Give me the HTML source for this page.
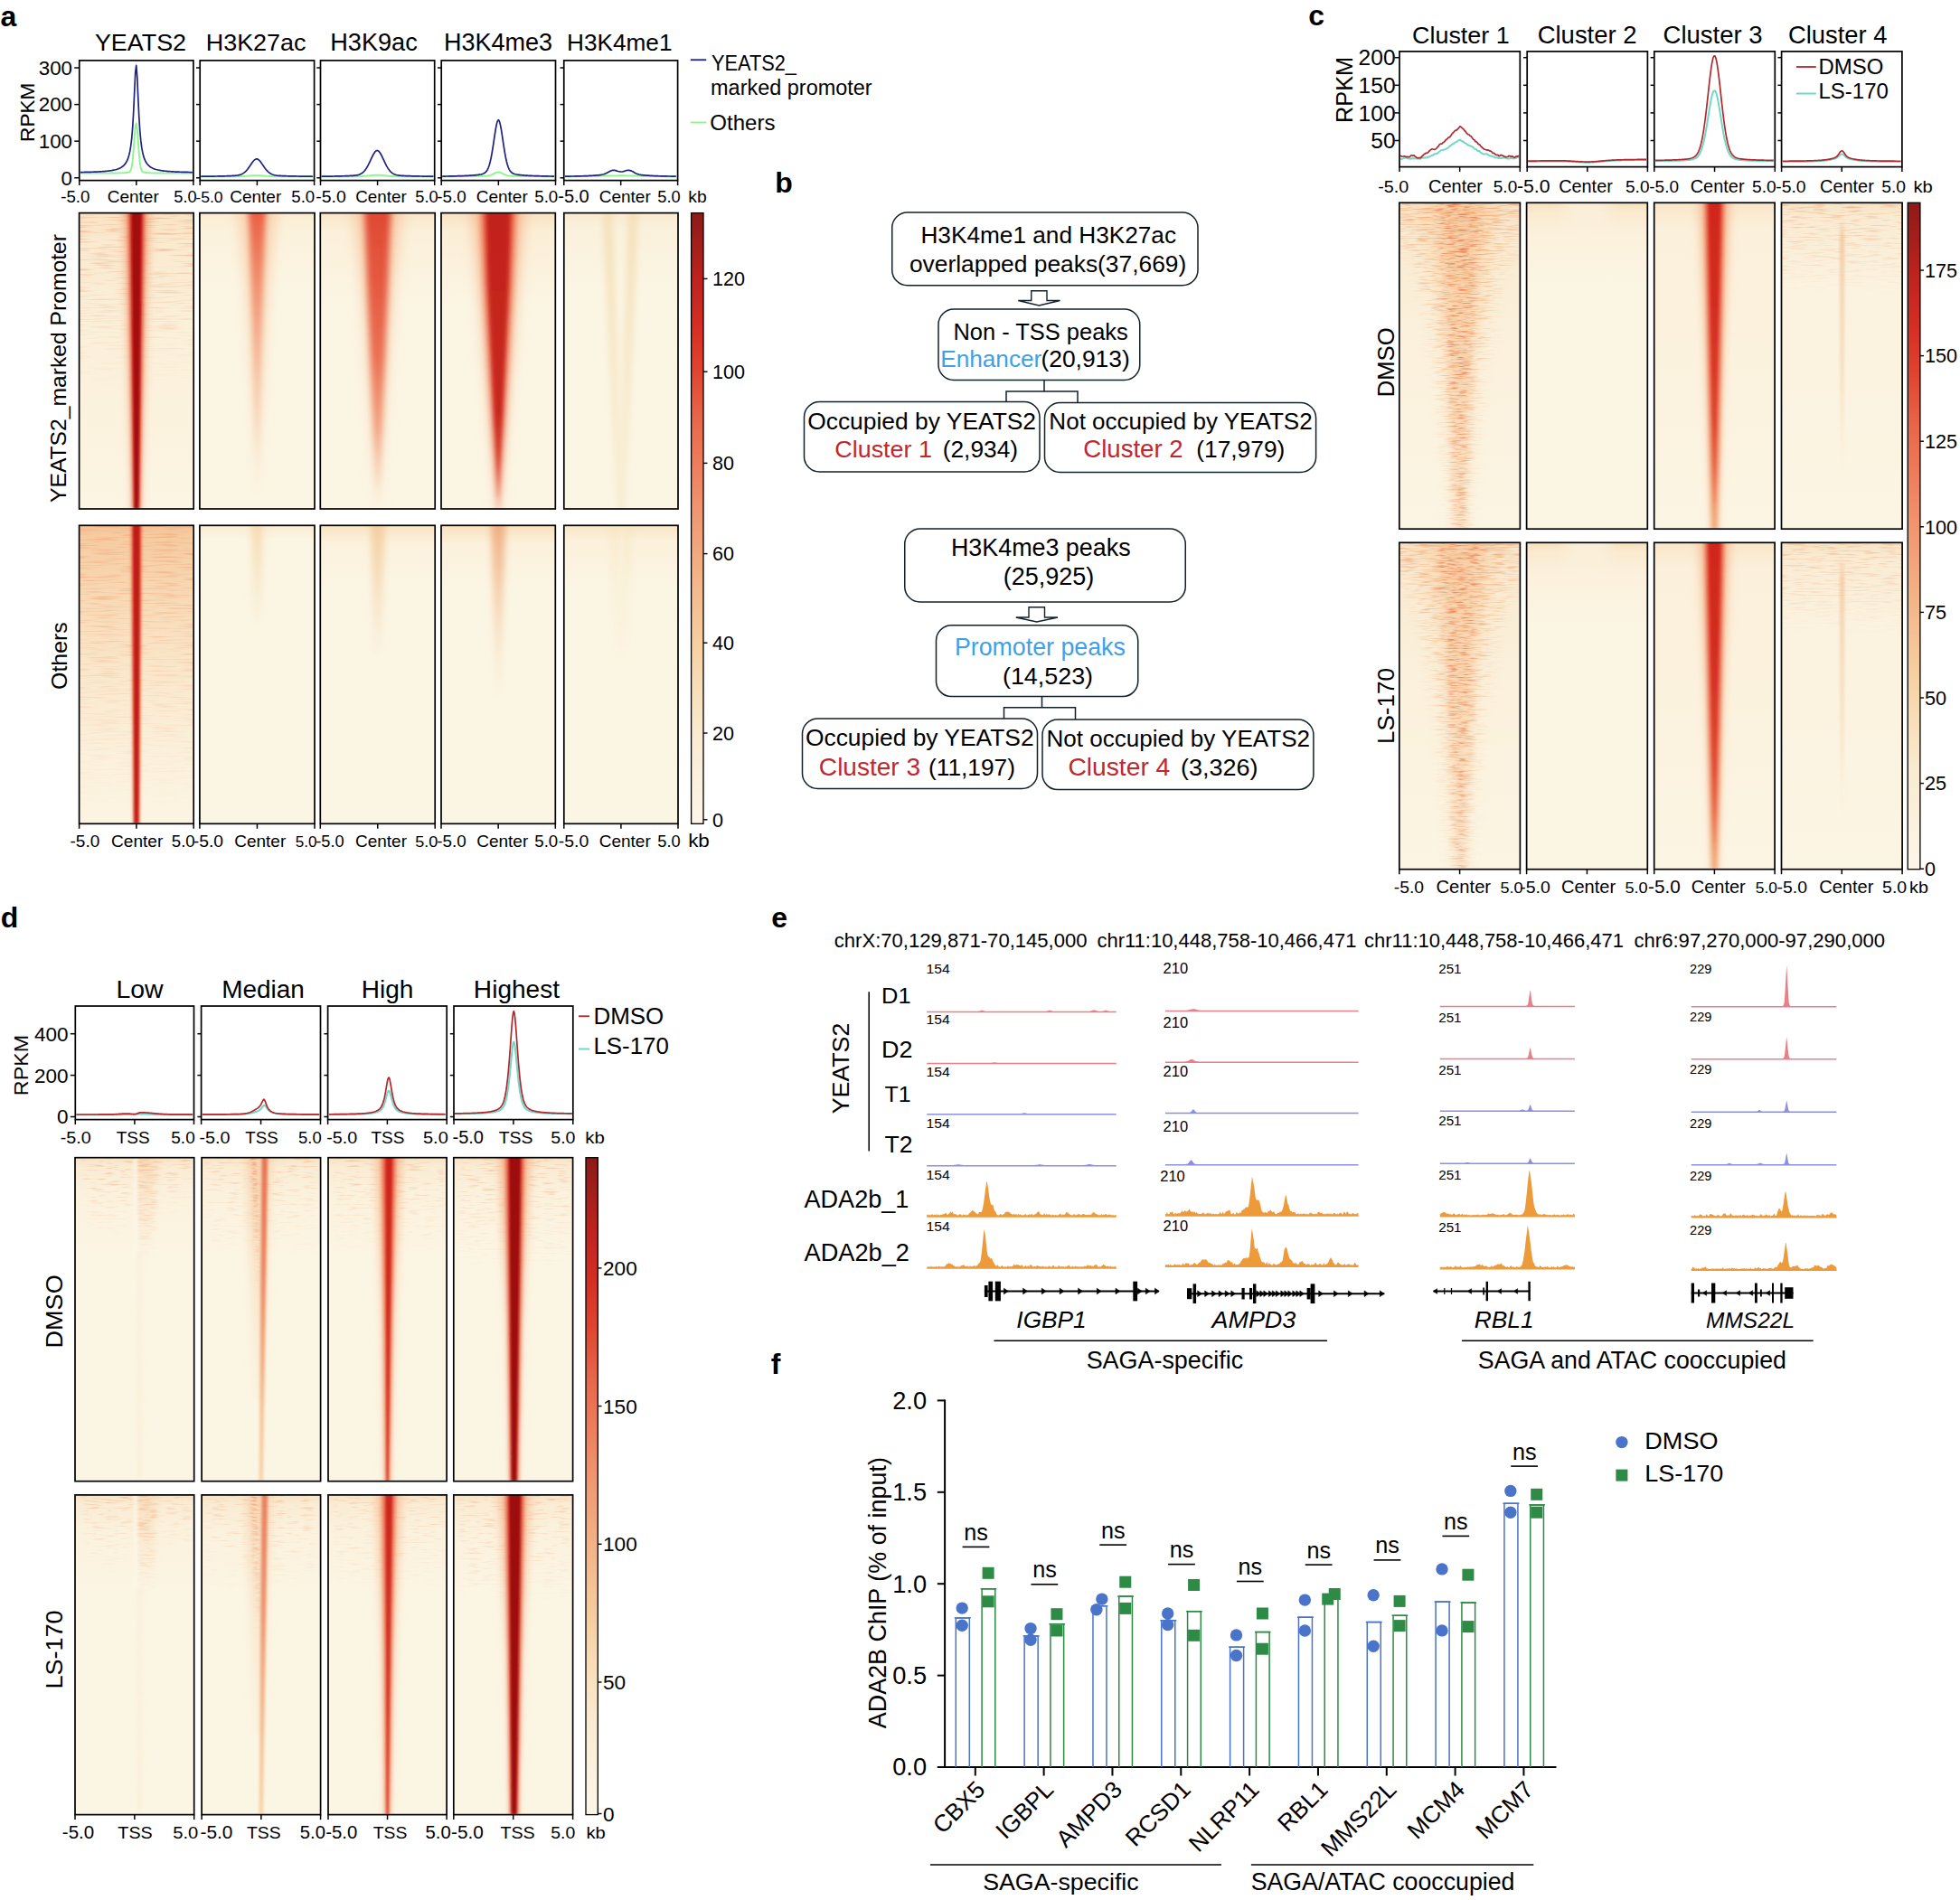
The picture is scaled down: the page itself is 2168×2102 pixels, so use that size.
<!DOCTYPE html>
<html><head><meta charset="utf-8"><title>Figure</title>
<style>html,body{margin:0;padding:0;background:#fff}svg{display:block}</style></head>
<body>
<svg width="2168" height="2102" viewBox="0 0 2168 2102" font-family='"Liberation Sans", Arial, Helvetica, sans-serif' fill="#000">
<rect width="2168" height="2102" fill="#fff"/>
<defs>
<clipPath id="c1"><rect x="87.6" y="235.6" width="126.6" height="327.4"/></clipPath>
<linearGradient id="v2" x1="0" y1="0" x2="0" y2="1"><stop offset="0" stop-color="#f9e3c2"/><stop offset="0.1" stop-color="#faead0"/><stop offset="0.4" stop-color="#fbf0da"/><stop offset="0.75" stop-color="#fbf3df"/><stop offset="1" stop-color="#fbf5e3"/></linearGradient>
<linearGradient id="v3" x1="0" y1="0" x2="0" y2="1"><stop offset="0" stop-color="#ee9468" stop-opacity="0.55"/><stop offset="1" stop-color="#ee9468" stop-opacity="0"/></linearGradient>
<filter id="b4" x="-100%" width="300%" y="-5%" height="110%" color-interpolation-filters="sRGB"><feGaussianBlur in="SourceGraphic" stdDeviation="2 1.5" result="a"/><feTurbulence type="fractalNoise" baseFrequency="0.03 0.55" numOctaves="2" seed="40" result="t"/><feColorMatrix in="t" type="matrix" values="0 0 0 0 1 0 0 0 0 1 0 0 0 0 1 3 0 0 0 -1.5" result="n"/><feComposite in="a" in2="n" operator="in"/></filter>
<linearGradient id="v5" x1="0" y1="0" x2="0" y2="1"><stop offset="0" stop-color="#f4a578" stop-opacity="0.75"/><stop offset="1" stop-color="#f4a578" stop-opacity="0.5"/></linearGradient>
<filter id="b6" x="-400%" width="900%" y="-5%" height="110%"><feGaussianBlur stdDeviation="4.5 1.5"/></filter>
<linearGradient id="v7" x1="0" y1="0" x2="0" y2="1"><stop offset="0" stop-color="#d8382a"/><stop offset="1" stop-color="#d8382a" stop-opacity="0.95"/></linearGradient>
<filter id="b8" x="-400%" width="900%" y="-5%" height="110%"><feGaussianBlur stdDeviation="2.2 1.5"/></filter>
<linearGradient id="v9" x1="0" y1="0" x2="0" y2="1"><stop offset="0" stop-color="#a40f10"/><stop offset="1" stop-color="#a40f10"/></linearGradient>
<filter id="b10" x="-400%" width="900%" y="-5%" height="110%"><feGaussianBlur stdDeviation="1.3 1.5"/></filter>
<clipPath id="c11"><rect x="220.9" y="235.6" width="127.1" height="327.4"/></clipPath>
<linearGradient id="v12" x1="0" y1="0" x2="0" y2="1"><stop offset="0" stop-color="#faecd2"/><stop offset="0.06" stop-color="#fbf2dd"/><stop offset="0.25" stop-color="#fbf5e3"/><stop offset="1" stop-color="#fbf5e3"/></linearGradient>
<linearGradient id="v13" x1="0" y1="0" x2="0" y2="1"><stop offset="0" stop-color="#f8cfa8" stop-opacity="0.75"/><stop offset="1" stop-color="#f8cfa8" stop-opacity="0.1"/></linearGradient>
<filter id="b14" x="-400%" width="900%" y="-5%" height="110%"><feGaussianBlur stdDeviation="6 1.5"/></filter>
<linearGradient id="v15" x1="0" y1="0" x2="0" y2="1"><stop offset="0" stop-color="#e9573e" stop-opacity="0.95"/><stop offset="0.12" stop-color="#ec6a4c" stop-opacity="0.9"/><stop offset="0.3" stop-color="#ef8260" stop-opacity="0.8"/><stop offset="0.55" stop-color="#f3a27e" stop-opacity="0.65"/><stop offset="0.8" stop-color="#f6c4a0" stop-opacity="0.45"/><stop offset="1" stop-color="#f8d8b8" stop-opacity="0.1"/></linearGradient>
<filter id="b16" x="-400%" width="900%" y="-5%" height="110%"><feGaussianBlur stdDeviation="3 1.5"/></filter>
<clipPath id="c17"><rect x="354.3" y="235.6" width="126.9" height="327.4"/></clipPath>
<linearGradient id="v18" x1="0" y1="0" x2="0" y2="1"><stop offset="0" stop-color="#f9e6c8"/><stop offset="0.06" stop-color="#fbf0da"/><stop offset="0.3" stop-color="#fbf5e3"/><stop offset="1" stop-color="#fbf5e3"/></linearGradient>
<linearGradient id="v19" x1="0" y1="0" x2="0" y2="1"><stop offset="0" stop-color="#f8c8a0" stop-opacity="0.8"/><stop offset="1" stop-color="#f8c8a0" stop-opacity="0.15"/></linearGradient>
<filter id="b20" x="-400%" width="900%" y="-5%" height="110%"><feGaussianBlur stdDeviation="6.5 1.5"/></filter>
<linearGradient id="v21" x1="0" y1="0" x2="0" y2="1"><stop offset="0" stop-color="#df4833"/><stop offset="0.25" stop-color="#e4533a" stop-opacity="0.95"/><stop offset="0.5" stop-color="#e96446" stop-opacity="0.9"/><stop offset="0.75" stop-color="#f08a66" stop-opacity="0.75"/><stop offset="0.9" stop-color="#f5b090" stop-opacity="0.5"/><stop offset="1" stop-color="#f8d0b0" stop-opacity="0.15"/></linearGradient>
<filter id="b22" x="-400%" width="900%" y="-5%" height="110%"><feGaussianBlur stdDeviation="3.5 1.5"/></filter>
<clipPath id="c23"><rect x="488" y="235.6" width="126.3" height="327.4"/></clipPath>
<linearGradient id="v24" x1="0" y1="0" x2="0" y2="1"><stop offset="0" stop-color="#f8e2c2"/><stop offset="0.06" stop-color="#fbeed7"/><stop offset="0.3" stop-color="#fbf5e3"/><stop offset="1" stop-color="#fbf5e3"/></linearGradient>
<linearGradient id="v25" x1="0" y1="0" x2="0" y2="1"><stop offset="0" stop-color="#f7bd92" stop-opacity="0.8"/><stop offset="1" stop-color="#f7bd92" stop-opacity="0.2"/></linearGradient>
<linearGradient id="v26" x1="0" y1="0" x2="0" y2="1"><stop offset="0" stop-color="#e8593e"/><stop offset="1" stop-color="#e8593e" stop-opacity="0.5"/></linearGradient>
<linearGradient id="v27" x1="0" y1="0" x2="0" y2="1"><stop offset="0" stop-color="#c2231a"/><stop offset="0.7" stop-color="#c8271c"/><stop offset="0.88" stop-color="#d53a28" stop-opacity="0.9"/><stop offset="1" stop-color="#e25238" stop-opacity="0.4"/></linearGradient>
<filter id="b28" x="-400%" width="900%" y="-5%" height="110%"><feGaussianBlur stdDeviation="2 1.5"/></filter>
<clipPath id="c29"><rect x="623.8" y="235.6" width="126.2" height="327.4"/></clipPath>
<linearGradient id="v30" x1="0" y1="0" x2="0" y2="1"><stop offset="0" stop-color="#f9ead0"/><stop offset="0.05" stop-color="#faf1dc"/><stop offset="0.25" stop-color="#fbf5e3"/><stop offset="1" stop-color="#fbf5e3"/></linearGradient>
<linearGradient id="v31" x1="0" y1="0" x2="0" y2="1"><stop offset="0" stop-color="#f4deb4" stop-opacity="0.85"/><stop offset="1" stop-color="#f4deb4" stop-opacity="0.35"/></linearGradient>
<linearGradient id="v32" x1="0" y1="0" x2="0" y2="1"><stop offset="0" stop-color="#f4deb4" stop-opacity="0.85"/><stop offset="1" stop-color="#f4deb4" stop-opacity="0.35"/></linearGradient>
<clipPath id="c33"><rect x="87.6" y="581.3" width="126.6" height="330"/></clipPath>
<linearGradient id="v34" x1="0" y1="0" x2="0" y2="1"><stop offset="0" stop-color="#f4c294"/><stop offset="0.03" stop-color="#f6cba0"/><stop offset="0.25" stop-color="#f8dab6"/><stop offset="0.5" stop-color="#fae8cc"/><stop offset="0.75" stop-color="#fbf0db"/><stop offset="1" stop-color="#fcf4e2"/></linearGradient>
<linearGradient id="v35" x1="0" y1="0" x2="0" y2="1"><stop offset="0" stop-color="#ee8a60" stop-opacity="0.45"/><stop offset="1" stop-color="#ee8a60" stop-opacity="0"/></linearGradient>
<filter id="b36" x="-100%" width="300%" y="-5%" height="110%" color-interpolation-filters="sRGB"><feGaussianBlur in="SourceGraphic" stdDeviation="2 1.5" result="a"/><feTurbulence type="fractalNoise" baseFrequency="0.03 0.55" numOctaves="2" seed="41" result="t"/><feColorMatrix in="t" type="matrix" values="0 0 0 0 1 0 0 0 0 1 0 0 0 0 1 3 0 0 0 -1.5" result="n"/><feComposite in="a" in2="n" operator="in"/></filter>
<linearGradient id="v37" x1="0" y1="0" x2="0" y2="1"><stop offset="0" stop-color="#ec7654" stop-opacity="0.9"/><stop offset="1" stop-color="#ec7654" stop-opacity="0.8"/></linearGradient>
<filter id="b38" x="-400%" width="900%" y="-5%" height="110%"><feGaussianBlur stdDeviation="1.8 1.5"/></filter>
<linearGradient id="v39" x1="0" y1="0" x2="0" y2="1"><stop offset="0" stop-color="#c01a14"/><stop offset="1" stop-color="#c01a14"/></linearGradient>
<filter id="b40" x="-400%" width="900%" y="-5%" height="110%"><feGaussianBlur stdDeviation="1.1 1.5"/></filter>
<clipPath id="c41"><rect x="220.9" y="581.3" width="127.1" height="330"/></clipPath>
<linearGradient id="v42" x1="0" y1="0" x2="0" y2="1"><stop offset="0" stop-color="#faecd2"/><stop offset="0.05" stop-color="#fbf5e3"/><stop offset="1" stop-color="#fbf5e3"/></linearGradient>
<linearGradient id="v43" x1="0" y1="0" x2="0" y2="1"><stop offset="0" stop-color="#f5d8ac" stop-opacity="0.85"/><stop offset="1" stop-color="#f5d8ac" stop-opacity="0"/></linearGradient>
<clipPath id="c44"><rect x="354.3" y="581.3" width="126.9" height="330"/></clipPath>
<linearGradient id="v45" x1="0" y1="0" x2="0" y2="1"><stop offset="0" stop-color="#f8e4c2"/><stop offset="0.06" stop-color="#fbf2de"/><stop offset="0.2" stop-color="#fbf5e3"/><stop offset="1" stop-color="#fbf5e3"/></linearGradient>
<linearGradient id="v46" x1="0" y1="0" x2="0" y2="1"><stop offset="0" stop-color="#f3cc9e" stop-opacity="0.9"/><stop offset="1" stop-color="#f3cc9e" stop-opacity="0"/></linearGradient>
<clipPath id="c47"><rect x="488" y="581.3" width="126.3" height="330"/></clipPath>
<linearGradient id="v48" x1="0" y1="0" x2="0" y2="1"><stop offset="0" stop-color="#f8e0bc"/><stop offset="0.06" stop-color="#fbf1dc"/><stop offset="0.2" stop-color="#fbf5e3"/><stop offset="1" stop-color="#fbf5e3"/></linearGradient>
<linearGradient id="v49" x1="0" y1="0" x2="0" y2="1"><stop offset="0" stop-color="#f0a87c" stop-opacity="0.9"/><stop offset="0.3" stop-color="#f3c096" stop-opacity="0.8"/><stop offset="1" stop-color="#f6dcb6" stop-opacity="0"/></linearGradient>
<clipPath id="c50"><rect x="623.8" y="581.3" width="126.2" height="330"/></clipPath>
<linearGradient id="v51" x1="0" y1="0" x2="0" y2="1"><stop offset="0" stop-color="#f8e6c6"/><stop offset="0.05" stop-color="#fbf1dc"/><stop offset="0.2" stop-color="#fbf5e3"/><stop offset="1" stop-color="#fbf5e3"/></linearGradient>
<linearGradient id="v52" x1="0" y1="0" x2="0" y2="1"><stop offset="0" stop-color="#f6e4bd" stop-opacity="0.6"/><stop offset="1" stop-color="#f6e4bd" stop-opacity="0"/></linearGradient>
<filter id="b53" x="-400%" width="900%" y="-5%" height="110%"><feGaussianBlur stdDeviation="4 1.5"/></filter>
<linearGradient id="v54" x1="0" y1="0" x2="0" y2="1"><stop offset="0" stop-color="#f6e4bd" stop-opacity="0.6"/><stop offset="1" stop-color="#f6e4bd" stop-opacity="0"/></linearGradient>
<linearGradient id="v55" x1="0" y1="0" x2="0" y2="1"><stop offset="0" stop-color="#8c1a18"/><stop offset="0.11" stop-color="#be231e"/><stop offset="0.19" stop-color="#d62f24"/><stop offset="0.26" stop-color="#e0452f"/><stop offset="0.33" stop-color="#e86448"/><stop offset="0.41" stop-color="#ee7d5c"/><stop offset="0.48" stop-color="#f0946e"/><stop offset="0.56" stop-color="#f2aa80"/><stop offset="0.63" stop-color="#f4bd90"/><stop offset="0.71" stop-color="#f6d0a2"/><stop offset="0.78" stop-color="#f8dfb9"/><stop offset="0.85" stop-color="#faead0"/><stop offset="0.93" stop-color="#fbf1de"/><stop offset="1" stop-color="#fdf6e8"/></linearGradient>
<clipPath id="c56"><rect x="1547.8" y="224.3" width="133.6" height="360.9"/></clipPath>
<linearGradient id="v57" x1="0" y1="0" x2="0" y2="1"><stop offset="0" stop-color="#f9e4c6"/><stop offset="0.1" stop-color="#faebd2"/><stop offset="0.45" stop-color="#fbf1dd"/><stop offset="1" stop-color="#fbf5e3"/></linearGradient>
<linearGradient id="v58" x1="0" y1="0" x2="0" y2="1"><stop offset="0" stop-color="#f9d4a8" stop-opacity="0.5"/><stop offset="1" stop-color="#f9d4a8" stop-opacity="0.25"/></linearGradient>
<filter id="b59" x="-400%" width="900%" y="-5%" height="110%"><feGaussianBlur stdDeviation="8 1.5"/></filter>
<linearGradient id="v60" x1="0" y1="0" x2="0" y2="1"><stop offset="0" stop-color="#f6bc8a" stop-opacity="0.4"/><stop offset="1" stop-color="#f6bc8a" stop-opacity="0.3"/></linearGradient>
<filter id="b61" x="-400%" width="900%" y="-5%" height="110%"><feGaussianBlur stdDeviation="5 1.5"/></filter>
<linearGradient id="v62" x1="0" y1="0" x2="0" y2="1"><stop offset="0" stop-color="#f2a266" stop-opacity="0.75"/><stop offset="1" stop-color="#f2a266" stop-opacity="0.5"/></linearGradient>
<filter id="b63" x="-100%" width="300%" y="-5%" height="110%" color-interpolation-filters="sRGB"><feGaussianBlur in="SourceGraphic" stdDeviation="8 1.5" result="a"/><feTurbulence type="fractalNoise" baseFrequency="0.06 0.6" numOctaves="2" seed="5" result="t"/><feColorMatrix in="t" type="matrix" values="0 0 0 0 1 0 0 0 0 1 0 0 0 0 1 3 0 0 0 -1.45" result="n"/><feComposite in="a" in2="n" operator="in"/></filter>
<linearGradient id="v64" x1="0" y1="0" x2="0" y2="1"><stop offset="0" stop-color="#e7653a" stop-opacity="0.78"/><stop offset="1" stop-color="#e7653a" stop-opacity="0.62"/></linearGradient>
<filter id="b65" x="-100%" width="300%" y="-5%" height="110%" color-interpolation-filters="sRGB"><feGaussianBlur in="SourceGraphic" stdDeviation="5 1.5" result="a"/><feTurbulence type="fractalNoise" baseFrequency="0.08 0.65" numOctaves="2" seed="6" result="t"/><feColorMatrix in="t" type="matrix" values="0 0 0 0 1 0 0 0 0 1 0 0 0 0 1 3.2 0 0 0 -1.6" result="n"/><feComposite in="a" in2="n" operator="in"/></filter>
<linearGradient id="v66" x1="0" y1="0" x2="0" y2="1"><stop offset="0" stop-color="#ec8258" stop-opacity="0.5"/><stop offset="1" stop-color="#ec8258" stop-opacity="0"/></linearGradient>
<filter id="b67" x="-100%" width="300%" y="-5%" height="110%" color-interpolation-filters="sRGB"><feGaussianBlur in="SourceGraphic" stdDeviation="2 1.5" result="a"/><feTurbulence type="fractalNoise" baseFrequency="0.03 0.55" numOctaves="2" seed="7" result="t"/><feColorMatrix in="t" type="matrix" values="0 0 0 0 1 0 0 0 0 1 0 0 0 0 1 3 0 0 0 -1.5" result="n"/><feComposite in="a" in2="n" operator="in"/></filter>
<clipPath id="c68"><rect x="1688.6" y="224.3" width="133.7" height="360.9"/></clipPath>
<linearGradient id="v69" x1="0" y1="0" x2="0" y2="1"><stop offset="0" stop-color="#f7e0bc"/><stop offset="0.03" stop-color="#faead0"/><stop offset="0.1" stop-color="#fbf1dd"/><stop offset="0.25" stop-color="#fbf5e3"/><stop offset="1" stop-color="#fbf5e3"/></linearGradient>
<linearGradient id="v70" x1="0" y1="0" x2="0" y2="1"><stop offset="0" stop-color="#fbf3e0" stop-opacity="0.8"/><stop offset="1" stop-color="#fbf3e0" stop-opacity="0"/></linearGradient>
<clipPath id="c71"><rect x="1829.7" y="224.3" width="133.4" height="360.9"/></clipPath>
<linearGradient id="v72" x1="0" y1="0" x2="0" y2="1"><stop offset="0" stop-color="#f9e6c8"/><stop offset="0.08" stop-color="#fbf0db"/><stop offset="1" stop-color="#fbf5e3"/></linearGradient>
<linearGradient id="v73" x1="0" y1="0" x2="0" y2="1"><stop offset="0" stop-color="#f6b88c" stop-opacity="0.75"/><stop offset="1" stop-color="#f6b88c" stop-opacity="0.5"/></linearGradient>
<linearGradient id="v74" x1="0" y1="0" x2="0" y2="1"><stop offset="0" stop-color="#e4503a"/><stop offset="0.5" stop-color="#e75c40" stop-opacity="0.95"/><stop offset="0.8" stop-color="#ec7450" stop-opacity="0.9"/><stop offset="1" stop-color="#f0a066" stop-opacity="0.85"/></linearGradient>
<filter id="b75" x="-400%" width="900%" y="-5%" height="110%"><feGaussianBlur stdDeviation="2.6 1.5"/></filter>
<linearGradient id="v76" x1="0" y1="0" x2="0" y2="1"><stop offset="0" stop-color="#cf271d"/><stop offset="0.4" stop-color="#d42d20"/><stop offset="0.75" stop-color="#dc3e2a" stop-opacity="0.8"/><stop offset="1" stop-color="#e45538" stop-opacity="0.2"/></linearGradient>
<clipPath id="c77"><rect x="1970.5" y="224.3" width="133.6" height="360.9"/></clipPath>
<linearGradient id="v78" x1="0" y1="0" x2="0" y2="1"><stop offset="0" stop-color="#f8e3c4"/><stop offset="0.05" stop-color="#faecd4"/><stop offset="0.25" stop-color="#fbf2df"/><stop offset="1" stop-color="#fbf5e3"/></linearGradient>
<linearGradient id="v79" x1="0" y1="0" x2="0" y2="1"><stop offset="0" stop-color="#ee9a70" stop-opacity="0.6"/><stop offset="1" stop-color="#ee9a70" stop-opacity="0"/></linearGradient>
<filter id="b80" x="-100%" width="300%" y="-5%" height="110%" color-interpolation-filters="sRGB"><feGaussianBlur in="SourceGraphic" stdDeviation="2 1.5" result="a"/><feTurbulence type="fractalNoise" baseFrequency="0.05 0.55" numOctaves="2" seed="8" result="t"/><feColorMatrix in="t" type="matrix" values="0 0 0 0 1 0 0 0 0 1 0 0 0 0 1 3 0 0 0 -1.5" result="n"/><feComposite in="a" in2="n" operator="in"/></filter>
<linearGradient id="v81" x1="0" y1="0" x2="0" y2="1"><stop offset="0" stop-color="#f1ba8e" stop-opacity="0"/><stop offset="0.08" stop-color="#f1ba8e" stop-opacity="0.65"/><stop offset="0.6" stop-color="#f4cfa6" stop-opacity="0.5"/><stop offset="1" stop-color="#f6dcb8" stop-opacity="0"/></linearGradient>
<clipPath id="c82"><rect x="1547.8" y="600.3" width="133.6" height="361.4"/></clipPath>
<linearGradient id="v83" x1="0" y1="0" x2="0" y2="1"><stop offset="0" stop-color="#f9e4c6"/><stop offset="0.1" stop-color="#faebd2"/><stop offset="0.45" stop-color="#fbf1dd"/><stop offset="1" stop-color="#fbf5e3"/></linearGradient>
<linearGradient id="v84" x1="0" y1="0" x2="0" y2="1"><stop offset="0" stop-color="#f9d4a8" stop-opacity="0.45"/><stop offset="1" stop-color="#f9d4a8" stop-opacity="0.23"/></linearGradient>
<linearGradient id="v85" x1="0" y1="0" x2="0" y2="1"><stop offset="0" stop-color="#f6bc8a" stop-opacity="0.36"/><stop offset="1" stop-color="#f6bc8a" stop-opacity="0.27"/></linearGradient>
<linearGradient id="v86" x1="0" y1="0" x2="0" y2="1"><stop offset="0" stop-color="#f2a266" stop-opacity="0.68"/><stop offset="1" stop-color="#f2a266" stop-opacity="0.45"/></linearGradient>
<filter id="b87" x="-100%" width="300%" y="-5%" height="110%" color-interpolation-filters="sRGB"><feGaussianBlur in="SourceGraphic" stdDeviation="8 1.5" result="a"/><feTurbulence type="fractalNoise" baseFrequency="0.06 0.6" numOctaves="2" seed="12" result="t"/><feColorMatrix in="t" type="matrix" values="0 0 0 0 1 0 0 0 0 1 0 0 0 0 1 3 0 0 0 -1.45" result="n"/><feComposite in="a" in2="n" operator="in"/></filter>
<linearGradient id="v88" x1="0" y1="0" x2="0" y2="1"><stop offset="0" stop-color="#e7653a" stop-opacity="0.7"/><stop offset="1" stop-color="#e7653a" stop-opacity="0.56"/></linearGradient>
<filter id="b89" x="-100%" width="300%" y="-5%" height="110%" color-interpolation-filters="sRGB"><feGaussianBlur in="SourceGraphic" stdDeviation="5 1.5" result="a"/><feTurbulence type="fractalNoise" baseFrequency="0.08 0.65" numOctaves="2" seed="13" result="t"/><feColorMatrix in="t" type="matrix" values="0 0 0 0 1 0 0 0 0 1 0 0 0 0 1 3.2 0 0 0 -1.6" result="n"/><feComposite in="a" in2="n" operator="in"/></filter>
<linearGradient id="v90" x1="0" y1="0" x2="0" y2="1"><stop offset="0" stop-color="#ec8258" stop-opacity="0.45"/><stop offset="1" stop-color="#ec8258" stop-opacity="0"/></linearGradient>
<filter id="b91" x="-100%" width="300%" y="-5%" height="110%" color-interpolation-filters="sRGB"><feGaussianBlur in="SourceGraphic" stdDeviation="2 1.5" result="a"/><feTurbulence type="fractalNoise" baseFrequency="0.03 0.55" numOctaves="2" seed="14" result="t"/><feColorMatrix in="t" type="matrix" values="0 0 0 0 1 0 0 0 0 1 0 0 0 0 1 3 0 0 0 -1.5" result="n"/><feComposite in="a" in2="n" operator="in"/></filter>
<clipPath id="c92"><rect x="1688.6" y="600.3" width="133.7" height="361.4"/></clipPath>
<linearGradient id="v93" x1="0" y1="0" x2="0" y2="1"><stop offset="0" stop-color="#f7e0bc"/><stop offset="0.03" stop-color="#faead0"/><stop offset="0.1" stop-color="#fbf1dd"/><stop offset="0.25" stop-color="#fbf5e3"/><stop offset="1" stop-color="#fbf5e3"/></linearGradient>
<linearGradient id="v94" x1="0" y1="0" x2="0" y2="1"><stop offset="0" stop-color="#fbf3e0" stop-opacity="0.8"/><stop offset="1" stop-color="#fbf3e0" stop-opacity="0"/></linearGradient>
<clipPath id="c95"><rect x="1829.7" y="600.3" width="133.4" height="361.4"/></clipPath>
<linearGradient id="v96" x1="0" y1="0" x2="0" y2="1"><stop offset="0" stop-color="#f9e6c8"/><stop offset="0.08" stop-color="#fbf0db"/><stop offset="1" stop-color="#fbf5e3"/></linearGradient>
<linearGradient id="v97" x1="0" y1="0" x2="0" y2="1"><stop offset="0" stop-color="#f6b88c" stop-opacity="0.68"/><stop offset="1" stop-color="#f6b88c" stop-opacity="0.45"/></linearGradient>
<linearGradient id="v98" x1="0" y1="0" x2="0" y2="1"><stop offset="0" stop-color="#e4503a"/><stop offset="0.5" stop-color="#e75c40" stop-opacity="0.95"/><stop offset="0.8" stop-color="#ec7450" stop-opacity="0.9"/><stop offset="1" stop-color="#f0a066" stop-opacity="0.85"/></linearGradient>
<linearGradient id="v99" x1="0" y1="0" x2="0" y2="1"><stop offset="0" stop-color="#cf271d"/><stop offset="0.4" stop-color="#d42d20"/><stop offset="0.75" stop-color="#dc3e2a" stop-opacity="0.72"/><stop offset="1" stop-color="#e45538" stop-opacity="0.2"/></linearGradient>
<clipPath id="c100"><rect x="1970.5" y="600.3" width="133.6" height="361.4"/></clipPath>
<linearGradient id="v101" x1="0" y1="0" x2="0" y2="1"><stop offset="0" stop-color="#f8e3c4"/><stop offset="0.05" stop-color="#faecd4"/><stop offset="0.25" stop-color="#fbf2df"/><stop offset="1" stop-color="#fbf5e3"/></linearGradient>
<linearGradient id="v102" x1="0" y1="0" x2="0" y2="1"><stop offset="0" stop-color="#ee9a70" stop-opacity="0.54"/><stop offset="1" stop-color="#ee9a70" stop-opacity="0"/></linearGradient>
<filter id="b103" x="-100%" width="300%" y="-5%" height="110%" color-interpolation-filters="sRGB"><feGaussianBlur in="SourceGraphic" stdDeviation="2 1.5" result="a"/><feTurbulence type="fractalNoise" baseFrequency="0.05 0.55" numOctaves="2" seed="15" result="t"/><feColorMatrix in="t" type="matrix" values="0 0 0 0 1 0 0 0 0 1 0 0 0 0 1 3 0 0 0 -1.5" result="n"/><feComposite in="a" in2="n" operator="in"/></filter>
<linearGradient id="v104" x1="0" y1="0" x2="0" y2="1"><stop offset="0" stop-color="#f1ba8e" stop-opacity="0"/><stop offset="0.08" stop-color="#f1ba8e" stop-opacity="0.59"/><stop offset="0.6" stop-color="#f4cfa6" stop-opacity="0.45"/><stop offset="1" stop-color="#f6dcb8" stop-opacity="0"/></linearGradient>
<linearGradient id="v105" x1="0" y1="0" x2="0" y2="1"><stop offset="0" stop-color="#8c1a18"/><stop offset="0.11" stop-color="#be231e"/><stop offset="0.19" stop-color="#d62f24"/><stop offset="0.26" stop-color="#e0452f"/><stop offset="0.33" stop-color="#e86448"/><stop offset="0.41" stop-color="#ee7d5c"/><stop offset="0.48" stop-color="#f0946e"/><stop offset="0.56" stop-color="#f2aa80"/><stop offset="0.63" stop-color="#f4bd90"/><stop offset="0.71" stop-color="#f6d0a2"/><stop offset="0.78" stop-color="#f8dfb9"/><stop offset="0.85" stop-color="#faead0"/><stop offset="0.93" stop-color="#fbf1de"/><stop offset="1" stop-color="#fdf6e8"/></linearGradient>
<clipPath id="c106"><rect x="83" y="1280.7" width="131.7" height="358"/></clipPath>
<linearGradient id="v107" x1="0" y1="0" x2="0" y2="1"><stop offset="0" stop-color="#f8e4c6"/><stop offset="0.03" stop-color="#faecd5"/><stop offset="0.12" stop-color="#fbf2de"/><stop offset="0.3" stop-color="#fbf5e3"/><stop offset="1" stop-color="#fbf5e3"/></linearGradient>
<linearGradient id="v108" x1="0" y1="0" x2="0" y2="1"><stop offset="0" stop-color="#ee9a70" stop-opacity="0.85"/><stop offset="1" stop-color="#ee9a70" stop-opacity="0"/></linearGradient>
<filter id="b109" x="-100%" width="300%" y="-5%" height="110%" color-interpolation-filters="sRGB"><feGaussianBlur in="SourceGraphic" stdDeviation="3 1.5" result="a"/><feTurbulence type="fractalNoise" baseFrequency="0.06 0.5" numOctaves="2" seed="21" result="t"/><feColorMatrix in="t" type="matrix" values="0 0 0 0 1 0 0 0 0 1 0 0 0 0 1 3 0 0 0 -1.4" result="n"/><feComposite in="a" in2="n" operator="in"/></filter>
<linearGradient id="v110" x1="0" y1="0" x2="0" y2="1"><stop offset="0" stop-color="#f6d2aa" stop-opacity="0.6"/><stop offset="1" stop-color="#f6d2aa" stop-opacity="0"/></linearGradient>
<linearGradient id="v111" x1="0" y1="0" x2="0" y2="1"><stop offset="0" stop-color="#f0a67c" stop-opacity="0.7"/><stop offset="1" stop-color="#f0a67c" stop-opacity="0"/></linearGradient>
<filter id="b112" x="-100%" width="300%" y="-5%" height="110%" color-interpolation-filters="sRGB"><feGaussianBlur in="SourceGraphic" stdDeviation="3 1.5" result="a"/><feTurbulence type="fractalNoise" baseFrequency="0.06 0.5" numOctaves="2" seed="22" result="t"/><feColorMatrix in="t" type="matrix" values="0 0 0 0 1 0 0 0 0 1 0 0 0 0 1 3 0 0 0 -1.6" result="n"/><feComposite in="a" in2="n" operator="in"/></filter>
<linearGradient id="v113" x1="0" y1="0" x2="0" y2="1"><stop offset="0" stop-color="#f0a67c" stop-opacity="0.6"/><stop offset="1" stop-color="#f0a67c" stop-opacity="0"/></linearGradient>
<filter id="b114" x="-100%" width="300%" y="-5%" height="110%" color-interpolation-filters="sRGB"><feGaussianBlur in="SourceGraphic" stdDeviation="3 1.5" result="a"/><feTurbulence type="fractalNoise" baseFrequency="0.06 0.5" numOctaves="2" seed="23" result="t"/><feColorMatrix in="t" type="matrix" values="0 0 0 0 1 0 0 0 0 1 0 0 0 0 1 3 0 0 0 -1.6" result="n"/><feComposite in="a" in2="n" operator="in"/></filter>
<linearGradient id="v115" x1="0" y1="0" x2="0" y2="1"><stop offset="0" stop-color="#fefaf0" stop-opacity="0.7"/><stop offset="1" stop-color="#fefaf0" stop-opacity="0"/></linearGradient>
<filter id="b116" x="-400%" width="900%" y="-5%" height="110%"><feGaussianBlur stdDeviation="1.5 1.5"/></filter>
<linearGradient id="v117" x1="0" y1="0" x2="0" y2="1"><stop offset="0" stop-color="#f9ecd0" stop-opacity="0.5"/><stop offset="1" stop-color="#f9ecd0" stop-opacity="0.45"/></linearGradient>
<filter id="b118" x="-400%" width="900%" y="-5%" height="110%"><feGaussianBlur stdDeviation="2.5 1.5"/></filter>
<clipPath id="c119"><rect x="223.1" y="1280.7" width="131.5" height="358"/></clipPath>
<linearGradient id="v120" x1="0" y1="0" x2="0" y2="1"><stop offset="0" stop-color="#f8e4c6"/><stop offset="0.03" stop-color="#faecd5"/><stop offset="0.12" stop-color="#fbf2de"/><stop offset="0.3" stop-color="#fbf5e3"/><stop offset="1" stop-color="#fbf5e3"/></linearGradient>
<linearGradient id="v121" x1="0" y1="0" x2="0" y2="1"><stop offset="0" stop-color="#f0a67c" stop-opacity="0.6"/><stop offset="1" stop-color="#f0a67c" stop-opacity="0"/></linearGradient>
<filter id="b122" x="-100%" width="300%" y="-5%" height="110%" color-interpolation-filters="sRGB"><feGaussianBlur in="SourceGraphic" stdDeviation="3 1.5" result="a"/><feTurbulence type="fractalNoise" baseFrequency="0.06 0.5" numOctaves="2" seed="24" result="t"/><feColorMatrix in="t" type="matrix" values="0 0 0 0 1 0 0 0 0 1 0 0 0 0 1 3 0 0 0 -1.65" result="n"/><feComposite in="a" in2="n" operator="in"/></filter>
<linearGradient id="v123" x1="0" y1="0" x2="0" y2="1"><stop offset="0" stop-color="#f7cfa6" stop-opacity="0.65"/><stop offset="1" stop-color="#f7cfa6" stop-opacity="0.1"/></linearGradient>
<linearGradient id="v124" x1="0" y1="0" x2="0" y2="1"><stop offset="0" stop-color="#ec8a62" stop-opacity="0.8"/><stop offset="1" stop-color="#ec8a62" stop-opacity="0"/></linearGradient>
<filter id="b125" x="-100%" width="300%" y="-5%" height="110%" color-interpolation-filters="sRGB"><feGaussianBlur in="SourceGraphic" stdDeviation="2 1.5" result="a"/><feTurbulence type="fractalNoise" baseFrequency="0.1 0.5" numOctaves="2" seed="25" result="t"/><feColorMatrix in="t" type="matrix" values="0 0 0 0 1 0 0 0 0 1 0 0 0 0 1 3 0 0 0 -1.1" result="n"/><feComposite in="a" in2="n" operator="in"/></filter>
<linearGradient id="v126" x1="0" y1="0" x2="0" y2="1"><stop offset="0" stop-color="#e66f4e" stop-opacity="0.95"/><stop offset="0.35" stop-color="#ea8058" stop-opacity="0.9"/><stop offset="0.6" stop-color="#efa070" stop-opacity="0.85"/><stop offset="0.8" stop-color="#f3bd8c" stop-opacity="0.8"/><stop offset="1" stop-color="#f5cc9c" stop-opacity="0.8"/></linearGradient>
<clipPath id="c127"><rect x="363" y="1280.7" width="131.1" height="358"/></clipPath>
<linearGradient id="v128" x1="0" y1="0" x2="0" y2="1"><stop offset="0" stop-color="#f8e4c6"/><stop offset="0.03" stop-color="#faecd5"/><stop offset="0.12" stop-color="#fbf2de"/><stop offset="0.3" stop-color="#fbf5e3"/><stop offset="1" stop-color="#fbf5e3"/></linearGradient>
<linearGradient id="v129" x1="0" y1="0" x2="0" y2="1"><stop offset="0" stop-color="#f0a67c" stop-opacity="0.6"/><stop offset="1" stop-color="#f0a67c" stop-opacity="0"/></linearGradient>
<filter id="b130" x="-100%" width="300%" y="-5%" height="110%" color-interpolation-filters="sRGB"><feGaussianBlur in="SourceGraphic" stdDeviation="3 1.5" result="a"/><feTurbulence type="fractalNoise" baseFrequency="0.06 0.5" numOctaves="2" seed="26" result="t"/><feColorMatrix in="t" type="matrix" values="0 0 0 0 1 0 0 0 0 1 0 0 0 0 1 3 0 0 0 -1.65" result="n"/><feComposite in="a" in2="n" operator="in"/></filter>
<linearGradient id="v131" x1="0" y1="0" x2="0" y2="1"><stop offset="0" stop-color="#f6b88c" stop-opacity="0.7"/><stop offset="1" stop-color="#f6b88c" stop-opacity="0.35"/></linearGradient>
<linearGradient id="v132" x1="0" y1="0" x2="0" y2="1"><stop offset="0" stop-color="#e8583e" stop-opacity="0.95"/><stop offset="0.5" stop-color="#ea6446" stop-opacity="0.9"/><stop offset="1" stop-color="#ee7a54" stop-opacity="0.85"/></linearGradient>
<linearGradient id="v133" x1="0" y1="0" x2="0" y2="1"><stop offset="0" stop-color="#cb261c"/><stop offset="0.5" stop-color="#d22e20"/><stop offset="1" stop-color="#da3e2a" stop-opacity="0.9"/></linearGradient>
<clipPath id="c134"><rect x="501.8" y="1280.7" width="131.8" height="358"/></clipPath>
<linearGradient id="v135" x1="0" y1="0" x2="0" y2="1"><stop offset="0" stop-color="#f8e4c6"/><stop offset="0.03" stop-color="#faecd5"/><stop offset="0.12" stop-color="#fbf2de"/><stop offset="0.3" stop-color="#fbf5e3"/><stop offset="1" stop-color="#fbf5e3"/></linearGradient>
<linearGradient id="v136" x1="0" y1="0" x2="0" y2="1"><stop offset="0" stop-color="#f0a67c" stop-opacity="0.65"/><stop offset="1" stop-color="#f0a67c" stop-opacity="0"/></linearGradient>
<filter id="b137" x="-100%" width="300%" y="-5%" height="110%" color-interpolation-filters="sRGB"><feGaussianBlur in="SourceGraphic" stdDeviation="3 1.5" result="a"/><feTurbulence type="fractalNoise" baseFrequency="0.06 0.5" numOctaves="2" seed="27" result="t"/><feColorMatrix in="t" type="matrix" values="0 0 0 0 1 0 0 0 0 1 0 0 0 0 1 3 0 0 0 -1.6" result="n"/><feComposite in="a" in2="n" operator="in"/></filter>
<linearGradient id="v138" x1="0" y1="0" x2="0" y2="1"><stop offset="0" stop-color="#f5ae82" stop-opacity="0.7"/><stop offset="1" stop-color="#f5ae82" stop-opacity="0.35"/></linearGradient>
<linearGradient id="v139" x1="0" y1="0" x2="0" y2="1"><stop offset="0" stop-color="#dd4630" stop-opacity="0.95"/><stop offset="1" stop-color="#dd4630" stop-opacity="0.9"/></linearGradient>
<linearGradient id="v140" x1="0" y1="0" x2="0" y2="1"><stop offset="0" stop-color="#9d1010"/><stop offset="1" stop-color="#9d1010"/></linearGradient>
<clipPath id="c141"><rect x="83" y="1653.9" width="131.7" height="353.7"/></clipPath>
<linearGradient id="v142" x1="0" y1="0" x2="0" y2="1"><stop offset="0" stop-color="#f8e4c6"/><stop offset="0.03" stop-color="#faecd5"/><stop offset="0.12" stop-color="#fbf2de"/><stop offset="0.3" stop-color="#fbf5e3"/><stop offset="1" stop-color="#fbf5e3"/></linearGradient>
<linearGradient id="v143" x1="0" y1="0" x2="0" y2="1"><stop offset="0" stop-color="#ee9a70" stop-opacity="0.75"/><stop offset="1" stop-color="#ee9a70" stop-opacity="0"/></linearGradient>
<filter id="b144" x="-100%" width="300%" y="-5%" height="110%" color-interpolation-filters="sRGB"><feGaussianBlur in="SourceGraphic" stdDeviation="3 1.5" result="a"/><feTurbulence type="fractalNoise" baseFrequency="0.06 0.5" numOctaves="2" seed="30" result="t"/><feColorMatrix in="t" type="matrix" values="0 0 0 0 1 0 0 0 0 1 0 0 0 0 1 3 0 0 0 -1.4" result="n"/><feComposite in="a" in2="n" operator="in"/></filter>
<linearGradient id="v145" x1="0" y1="0" x2="0" y2="1"><stop offset="0" stop-color="#f6d2aa" stop-opacity="0.53"/><stop offset="1" stop-color="#f6d2aa" stop-opacity="0"/></linearGradient>
<linearGradient id="v146" x1="0" y1="0" x2="0" y2="1"><stop offset="0" stop-color="#f0a67c" stop-opacity="0.62"/><stop offset="1" stop-color="#f0a67c" stop-opacity="0"/></linearGradient>
<filter id="b147" x="-100%" width="300%" y="-5%" height="110%" color-interpolation-filters="sRGB"><feGaussianBlur in="SourceGraphic" stdDeviation="3 1.5" result="a"/><feTurbulence type="fractalNoise" baseFrequency="0.06 0.5" numOctaves="2" seed="31" result="t"/><feColorMatrix in="t" type="matrix" values="0 0 0 0 1 0 0 0 0 1 0 0 0 0 1 3 0 0 0 -1.6" result="n"/><feComposite in="a" in2="n" operator="in"/></filter>
<linearGradient id="v148" x1="0" y1="0" x2="0" y2="1"><stop offset="0" stop-color="#f0a67c" stop-opacity="0.53"/><stop offset="1" stop-color="#f0a67c" stop-opacity="0"/></linearGradient>
<filter id="b149" x="-100%" width="300%" y="-5%" height="110%" color-interpolation-filters="sRGB"><feGaussianBlur in="SourceGraphic" stdDeviation="3 1.5" result="a"/><feTurbulence type="fractalNoise" baseFrequency="0.06 0.5" numOctaves="2" seed="32" result="t"/><feColorMatrix in="t" type="matrix" values="0 0 0 0 1 0 0 0 0 1 0 0 0 0 1 3 0 0 0 -1.6" result="n"/><feComposite in="a" in2="n" operator="in"/></filter>
<linearGradient id="v150" x1="0" y1="0" x2="0" y2="1"><stop offset="0" stop-color="#fefaf0" stop-opacity="0.7"/><stop offset="1" stop-color="#fefaf0" stop-opacity="0"/></linearGradient>
<linearGradient id="v151" x1="0" y1="0" x2="0" y2="1"><stop offset="0" stop-color="#f9ecd0" stop-opacity="0.5"/><stop offset="1" stop-color="#f9ecd0" stop-opacity="0.45"/></linearGradient>
<clipPath id="c152"><rect x="223.1" y="1653.9" width="131.5" height="353.7"/></clipPath>
<linearGradient id="v153" x1="0" y1="0" x2="0" y2="1"><stop offset="0" stop-color="#f8e4c6"/><stop offset="0.03" stop-color="#faecd5"/><stop offset="0.12" stop-color="#fbf2de"/><stop offset="0.3" stop-color="#fbf5e3"/><stop offset="1" stop-color="#fbf5e3"/></linearGradient>
<linearGradient id="v154" x1="0" y1="0" x2="0" y2="1"><stop offset="0" stop-color="#f0a67c" stop-opacity="0.53"/><stop offset="1" stop-color="#f0a67c" stop-opacity="0"/></linearGradient>
<filter id="b155" x="-100%" width="300%" y="-5%" height="110%" color-interpolation-filters="sRGB"><feGaussianBlur in="SourceGraphic" stdDeviation="3 1.5" result="a"/><feTurbulence type="fractalNoise" baseFrequency="0.06 0.5" numOctaves="2" seed="33" result="t"/><feColorMatrix in="t" type="matrix" values="0 0 0 0 1 0 0 0 0 1 0 0 0 0 1 3 0 0 0 -1.65" result="n"/><feComposite in="a" in2="n" operator="in"/></filter>
<linearGradient id="v156" x1="0" y1="0" x2="0" y2="1"><stop offset="0" stop-color="#f7cfa6" stop-opacity="0.57"/><stop offset="1" stop-color="#f7cfa6" stop-opacity="0.1"/></linearGradient>
<linearGradient id="v157" x1="0" y1="0" x2="0" y2="1"><stop offset="0" stop-color="#ec8a62" stop-opacity="0.7"/><stop offset="1" stop-color="#ec8a62" stop-opacity="0"/></linearGradient>
<filter id="b158" x="-100%" width="300%" y="-5%" height="110%" color-interpolation-filters="sRGB"><feGaussianBlur in="SourceGraphic" stdDeviation="2 1.5" result="a"/><feTurbulence type="fractalNoise" baseFrequency="0.1 0.5" numOctaves="2" seed="34" result="t"/><feColorMatrix in="t" type="matrix" values="0 0 0 0 1 0 0 0 0 1 0 0 0 0 1 3 0 0 0 -1.1" result="n"/><feComposite in="a" in2="n" operator="in"/></filter>
<linearGradient id="v159" x1="0" y1="0" x2="0" y2="1"><stop offset="0" stop-color="#e66f4e" stop-opacity="0.84"/><stop offset="0.35" stop-color="#ea8058" stop-opacity="0.79"/><stop offset="0.6" stop-color="#efa070" stop-opacity="0.75"/><stop offset="0.8" stop-color="#f3bd8c" stop-opacity="0.8"/><stop offset="1" stop-color="#f5cc9c" stop-opacity="0.8"/></linearGradient>
<clipPath id="c160"><rect x="363" y="1653.9" width="131.1" height="353.7"/></clipPath>
<linearGradient id="v161" x1="0" y1="0" x2="0" y2="1"><stop offset="0" stop-color="#f8e4c6"/><stop offset="0.03" stop-color="#faecd5"/><stop offset="0.12" stop-color="#fbf2de"/><stop offset="0.3" stop-color="#fbf5e3"/><stop offset="1" stop-color="#fbf5e3"/></linearGradient>
<linearGradient id="v162" x1="0" y1="0" x2="0" y2="1"><stop offset="0" stop-color="#f0a67c" stop-opacity="0.53"/><stop offset="1" stop-color="#f0a67c" stop-opacity="0"/></linearGradient>
<filter id="b163" x="-100%" width="300%" y="-5%" height="110%" color-interpolation-filters="sRGB"><feGaussianBlur in="SourceGraphic" stdDeviation="3 1.5" result="a"/><feTurbulence type="fractalNoise" baseFrequency="0.06 0.5" numOctaves="2" seed="35" result="t"/><feColorMatrix in="t" type="matrix" values="0 0 0 0 1 0 0 0 0 1 0 0 0 0 1 3 0 0 0 -1.65" result="n"/><feComposite in="a" in2="n" operator="in"/></filter>
<linearGradient id="v164" x1="0" y1="0" x2="0" y2="1"><stop offset="0" stop-color="#f6b88c" stop-opacity="0.62"/><stop offset="1" stop-color="#f6b88c" stop-opacity="0.35"/></linearGradient>
<linearGradient id="v165" x1="0" y1="0" x2="0" y2="1"><stop offset="0" stop-color="#e8583e" stop-opacity="0.84"/><stop offset="0.5" stop-color="#ea6446" stop-opacity="0.79"/><stop offset="1" stop-color="#ee7a54" stop-opacity="0.85"/></linearGradient>
<linearGradient id="v166" x1="0" y1="0" x2="0" y2="1"><stop offset="0" stop-color="#cb261c"/><stop offset="0.5" stop-color="#d22e20" stop-opacity="0.88"/><stop offset="1" stop-color="#da3e2a" stop-opacity="0.79"/></linearGradient>
<clipPath id="c167"><rect x="501.8" y="1653.9" width="131.8" height="353.7"/></clipPath>
<linearGradient id="v168" x1="0" y1="0" x2="0" y2="1"><stop offset="0" stop-color="#f8e4c6"/><stop offset="0.03" stop-color="#faecd5"/><stop offset="0.12" stop-color="#fbf2de"/><stop offset="0.3" stop-color="#fbf5e3"/><stop offset="1" stop-color="#fbf5e3"/></linearGradient>
<linearGradient id="v169" x1="0" y1="0" x2="0" y2="1"><stop offset="0" stop-color="#f0a67c" stop-opacity="0.57"/><stop offset="1" stop-color="#f0a67c" stop-opacity="0"/></linearGradient>
<filter id="b170" x="-100%" width="300%" y="-5%" height="110%" color-interpolation-filters="sRGB"><feGaussianBlur in="SourceGraphic" stdDeviation="3 1.5" result="a"/><feTurbulence type="fractalNoise" baseFrequency="0.06 0.5" numOctaves="2" seed="36" result="t"/><feColorMatrix in="t" type="matrix" values="0 0 0 0 1 0 0 0 0 1 0 0 0 0 1 3 0 0 0 -1.6" result="n"/><feComposite in="a" in2="n" operator="in"/></filter>
<linearGradient id="v171" x1="0" y1="0" x2="0" y2="1"><stop offset="0" stop-color="#f5ae82" stop-opacity="0.62"/><stop offset="1" stop-color="#f5ae82" stop-opacity="0.35"/></linearGradient>
<linearGradient id="v172" x1="0" y1="0" x2="0" y2="1"><stop offset="0" stop-color="#dd4630" stop-opacity="0.95"/><stop offset="1" stop-color="#dd4630" stop-opacity="0.9"/></linearGradient>
<linearGradient id="v173" x1="0" y1="0" x2="0" y2="1"><stop offset="0" stop-color="#9d1010"/><stop offset="1" stop-color="#9d1010"/></linearGradient>
<linearGradient id="v174" x1="0" y1="0" x2="0" y2="1"><stop offset="0" stop-color="#8c1a18"/><stop offset="0.11" stop-color="#be231e"/><stop offset="0.19" stop-color="#d62f24"/><stop offset="0.26" stop-color="#e0452f"/><stop offset="0.33" stop-color="#e86448"/><stop offset="0.41" stop-color="#ee7d5c"/><stop offset="0.48" stop-color="#f0946e"/><stop offset="0.56" stop-color="#f2aa80"/><stop offset="0.63" stop-color="#f4bd90"/><stop offset="0.71" stop-color="#f6d0a2"/><stop offset="0.78" stop-color="#f8dfb9"/><stop offset="0.85" stop-color="#faead0"/><stop offset="0.93" stop-color="#fbf1de"/><stop offset="1" stop-color="#fdf6e8"/></linearGradient>
</defs>
<text x="0.5" y="29" font-size="32" font-weight="bold">a</text>
<text x="104.94" y="56.2" font-size="26.59" textLength="101.13" lengthAdjust="spacingAndGlyphs">YEATS2</text>
<text x="227.68" y="56.2" font-size="26.7" textLength="110.89" lengthAdjust="spacingAndGlyphs">H3K27ac</text>
<text x="365.18" y="56.2" font-size="26.83" textLength="96.65" lengthAdjust="spacingAndGlyphs">H3K9ac</text>
<text x="490.93" y="56.2" font-size="26.8" textLength="120.14" lengthAdjust="spacingAndGlyphs">H3K4me3</text>
<text x="626.96" y="56.2" font-size="26.01" textLength="116.58" lengthAdjust="spacingAndGlyphs">H3K4me1</text>
<rect x="87.75" y="66.9" width="126.15" height="132.7" fill="none" stroke="#000" stroke-width="1.7"/>
<path d="M82.25 196.75L87.75 196.75" stroke="#000" stroke-width="1.5"/>
<path d="M82.25 156.17L87.75 156.17" stroke="#000" stroke-width="1.5"/>
<path d="M82.25 115.59L87.75 115.59" stroke="#000" stroke-width="1.5"/>
<path d="M82.25 75.01L87.75 75.01" stroke="#000" stroke-width="1.5"/>
<path d="M87.75 199.6L87.75 205.1" stroke="#000" stroke-width="1.5"/>
<path d="M150.82 199.6L150.82 205.1" stroke="#000" stroke-width="1.5"/>
<path d="M213.9 199.6L213.9 205.1" stroke="#000" stroke-width="1.5"/>
<path d="M88.75 191.65L89.75 191.65L90.75 191.65L91.75 191.65L92.75 191.65L93.75 191.65L94.75 191.65L95.75 191.65L96.75 191.64L97.75 191.64L98.75 191.64L99.75 191.64L100.75 191.64L101.75 191.64L102.75 191.64L103.75 191.63L104.75 191.63L105.75 191.63L106.75 191.63L107.75 191.63L108.75 191.62L109.75 191.62L110.75 191.62L111.75 191.61L112.75 191.61L113.75 191.61L114.75 191.6L115.75 191.6L116.75 191.59L117.75 191.59L118.75 191.58L119.75 191.58L120.75 191.57L121.75 191.56L122.75 191.56L123.75 191.55L124.75 191.54L125.75 191.53L126.75 191.51L127.75 191.5L128.75 191.48L129.75 191.47L130.75 191.45L131.75 191.42L132.75 191.39L133.75 191.36L134.75 191.33L135.75 191.28L136.75 191.23L137.75 191.17L138.75 191.09L139.75 191L140.75 190.88L141.75 190.71L142.75 190.44L143.75 189.82L144.75 188.27L145.75 184.61L146.75 177.27L147.75 165.56L148.75 151.38L149.75 139.75L150.75 136.2L151.75 142.61L152.75 155.64L153.75 169.49L154.75 179.94L155.75 186.02L156.75 188.9L157.75 190.07L158.75 190.54L159.75 190.77L160.75 190.92L161.75 191.03L162.75 191.11L163.75 191.19L164.75 191.25L165.75 191.3L166.75 191.34L167.75 191.37L168.75 191.4L169.75 191.43L170.75 191.45L171.75 191.47L172.75 191.49L173.75 191.5L174.75 191.52L175.75 191.53L176.75 191.54L177.75 191.55L178.75 191.56L179.75 191.57L180.75 191.57L181.75 191.58L182.75 191.59L183.75 191.59L184.75 191.6L185.75 191.6L186.75 191.6L187.75 191.61L188.75 191.61L189.75 191.62L190.75 191.62L191.75 191.62L192.75 191.62L193.75 191.63L194.75 191.63L195.75 191.63L196.75 191.63L197.75 191.63L198.75 191.64L199.75 191.64L200.75 191.64L201.75 191.64L202.75 191.64L203.75 191.64L204.75 191.64L205.75 191.65L206.75 191.65L207.75 191.65L208.75 191.65L209.75 191.65L210.75 191.65L211.75 191.65L212.75 191.65" fill="none" stroke="#8df58d" stroke-width="1.9" stroke-linejoin="round"/>
<path d="M88.75 190.56L89.75 190.54L90.75 190.53L91.75 190.51L92.75 190.49L93.75 190.47L94.75 190.45L95.75 190.43L96.75 190.4L97.75 190.38L98.75 190.35L99.75 190.32L100.75 190.29L101.75 190.26L102.75 190.23L103.75 190.19L104.75 190.16L105.75 190.12L106.75 190.08L107.75 190.03L108.75 189.98L109.75 189.93L110.75 189.88L111.75 189.82L112.75 189.75L113.75 189.69L114.75 189.61L115.75 189.53L116.75 189.44L117.75 189.35L118.75 189.25L119.75 189.14L120.75 189.01L121.75 188.88L122.75 188.73L123.75 188.57L124.75 188.39L125.75 188.19L126.75 187.97L127.75 187.73L128.75 187.45L129.75 187.14L130.75 186.78L131.75 186.38L132.75 185.91L133.75 185.38L134.75 184.75L135.75 184.02L136.75 183.15L137.75 182.11L138.75 180.85L139.75 179.29L140.75 177.33L141.75 174.83L142.75 171.55L143.75 167.16L144.75 161.1L145.75 152.55L146.75 140.32L147.75 123.09L148.75 100.98L149.75 79.75L150.75 72.42L151.75 85.32L152.75 107.95L153.75 128.84L154.75 144.46L155.75 155.44L156.75 163.13L157.75 168.62L158.75 172.63L159.75 175.65L160.75 177.97L161.75 179.79L162.75 181.25L163.75 182.44L164.75 183.43L165.75 184.25L166.75 184.95L167.75 185.54L168.75 186.06L169.75 186.5L170.75 186.89L171.75 187.23L172.75 187.54L173.75 187.8L174.75 188.04L175.75 188.26L176.75 188.45L177.75 188.62L178.75 188.78L179.75 188.92L180.75 189.05L181.75 189.17L182.75 189.28L183.75 189.38L184.75 189.47L185.75 189.56L186.75 189.63L187.75 189.71L188.75 189.77L189.75 189.84L190.75 189.89L191.75 189.95L192.75 190L193.75 190.04L194.75 190.09L195.75 190.13L196.75 190.17L197.75 190.21L198.75 190.24L199.75 190.27L200.75 190.3L201.75 190.33L202.75 190.36L203.75 190.38L204.75 190.41L205.75 190.43L206.75 190.45L207.75 190.47L208.75 190.49L209.75 190.51L210.75 190.53L211.75 190.55L212.75 190.56" fill="none" stroke="#1f2380" stroke-width="1.7" stroke-linejoin="round"/>
<rect x="221.2" y="66.9" width="126.4" height="132.7" fill="none" stroke="#000" stroke-width="1.7"/>
<path d="M217 196.75L221.2 196.75" stroke="#000" stroke-width="1.5"/>
<path d="M217 156.17L221.2 156.17" stroke="#000" stroke-width="1.5"/>
<path d="M217 115.59L221.2 115.59" stroke="#000" stroke-width="1.5"/>
<path d="M217 75.01L221.2 75.01" stroke="#000" stroke-width="1.5"/>
<path d="M221.2 199.6L221.2 205.1" stroke="#000" stroke-width="1.5"/>
<path d="M284.4 199.6L284.4 205.1" stroke="#000" stroke-width="1.5"/>
<path d="M347.6 199.6L347.6 205.1" stroke="#000" stroke-width="1.5"/>
<path d="M222.2 195.33L223.2 195.33L224.2 195.33L225.2 195.33L226.2 195.33L227.2 195.33L228.2 195.33L229.2 195.33L230.2 195.33L231.2 195.33L232.2 195.33L233.2 195.33L234.2 195.33L235.2 195.33L236.2 195.33L237.2 195.33L238.2 195.33L239.2 195.33L240.2 195.33L241.2 195.33L242.2 195.33L243.2 195.33L244.2 195.33L245.2 195.33L246.2 195.33L247.2 195.33L248.2 195.33L249.2 195.33L250.2 195.33L251.2 195.33L252.2 195.33L253.2 195.33L254.2 195.32L255.2 195.32L256.2 195.32L257.2 195.31L258.2 195.31L259.2 195.3L260.2 195.29L261.2 195.28L262.2 195.26L263.2 195.24L264.2 195.22L265.2 195.19L266.2 195.15L267.2 195.11L268.2 195.06L269.2 195.01L270.2 194.95L271.2 194.88L272.2 194.81L273.2 194.73L274.2 194.65L275.2 194.57L276.2 194.49L277.2 194.41L278.2 194.33L279.2 194.27L280.2 194.21L281.2 194.17L282.2 194.13L283.2 194.12L284.2 194.11L285.2 194.12L286.2 194.15L287.2 194.19L288.2 194.24L289.2 194.31L290.2 194.38L291.2 194.45L292.2 194.53L293.2 194.62L294.2 194.7L295.2 194.78L296.2 194.85L297.2 194.92L298.2 194.99L299.2 195.04L300.2 195.09L301.2 195.14L302.2 195.18L303.2 195.21L304.2 195.23L305.2 195.26L306.2 195.27L307.2 195.29L308.2 195.3L309.2 195.31L310.2 195.31L311.2 195.32L312.2 195.32L313.2 195.32L314.2 195.33L315.2 195.33L316.2 195.33L317.2 195.33L318.2 195.33L319.2 195.33L320.2 195.33L321.2 195.33L322.2 195.33L323.2 195.33L324.2 195.33L325.2 195.33L326.2 195.33L327.2 195.33L328.2 195.33L329.2 195.33L330.2 195.33L331.2 195.33L332.2 195.33L333.2 195.33L334.2 195.33L335.2 195.33L336.2 195.33L337.2 195.33L338.2 195.33L339.2 195.33L340.2 195.33L341.2 195.33L342.2 195.33L343.2 195.33L344.2 195.33L345.2 195.33L346.2 195.33" fill="none" stroke="#8df58d" stroke-width="1.9" stroke-linejoin="round"/>
<path d="M222.2 195.23L223.2 195.22L224.2 195.21L225.2 195.2L226.2 195.19L227.2 195.18L228.2 195.16L229.2 195.15L230.2 195.14L231.2 195.12L232.2 195.11L233.2 195.09L234.2 195.08L235.2 195.06L236.2 195.05L237.2 195.03L238.2 195.01L239.2 195L240.2 194.98L241.2 194.96L242.2 194.94L243.2 194.92L244.2 194.9L245.2 194.87L246.2 194.85L247.2 194.83L248.2 194.8L249.2 194.77L250.2 194.74L251.2 194.71L252.2 194.68L253.2 194.65L254.2 194.61L255.2 194.57L256.2 194.52L257.2 194.47L258.2 194.41L259.2 194.34L260.2 194.26L261.2 194.15L262.2 194.03L263.2 193.87L264.2 193.66L265.2 193.41L266.2 193.09L267.2 192.7L268.2 192.21L269.2 191.61L270.2 190.9L271.2 190.05L272.2 189.07L273.2 187.96L274.2 186.72L275.2 185.37L276.2 183.94L277.2 182.46L278.2 180.99L279.2 179.58L280.2 178.29L281.2 177.21L282.2 176.41L283.2 175.95L284.2 175.87L285.2 176.18L286.2 176.85L287.2 177.83L288.2 179.04L289.2 180.41L290.2 181.87L291.2 183.35L292.2 184.81L293.2 186.19L294.2 187.48L295.2 188.64L296.2 189.68L297.2 190.57L298.2 191.34L299.2 191.98L300.2 192.51L301.2 192.94L302.2 193.29L303.2 193.57L304.2 193.79L305.2 193.97L306.2 194.11L307.2 194.22L308.2 194.31L309.2 194.38L310.2 194.45L311.2 194.5L312.2 194.55L313.2 194.59L314.2 194.63L315.2 194.67L316.2 194.7L317.2 194.73L318.2 194.76L319.2 194.79L320.2 194.82L321.2 194.84L322.2 194.86L323.2 194.89L324.2 194.91L325.2 194.93L326.2 194.95L327.2 194.97L328.2 194.99L329.2 195.01L330.2 195.02L331.2 195.04L332.2 195.06L333.2 195.07L334.2 195.09L335.2 195.1L336.2 195.12L337.2 195.13L338.2 195.15L339.2 195.16L340.2 195.17L341.2 195.18L342.2 195.2L343.2 195.21L344.2 195.22L345.2 195.23L346.2 195.24" fill="none" stroke="#1f2380" stroke-width="1.7" stroke-linejoin="round"/>
<rect x="354.5" y="66.9" width="126.2" height="132.7" fill="none" stroke="#000" stroke-width="1.7"/>
<path d="M350.3 196.75L354.5 196.75" stroke="#000" stroke-width="1.5"/>
<path d="M350.3 156.17L354.5 156.17" stroke="#000" stroke-width="1.5"/>
<path d="M350.3 115.59L354.5 115.59" stroke="#000" stroke-width="1.5"/>
<path d="M350.3 75.01L354.5 75.01" stroke="#000" stroke-width="1.5"/>
<path d="M354.5 199.6L354.5 205.1" stroke="#000" stroke-width="1.5"/>
<path d="M417.6 199.6L417.6 205.1" stroke="#000" stroke-width="1.5"/>
<path d="M480.7 199.6L480.7 205.1" stroke="#000" stroke-width="1.5"/>
<path d="M355.5 195.33L356.5 195.33L357.5 195.33L358.5 195.33L359.5 195.33L360.5 195.33L361.5 195.33L362.5 195.33L363.5 195.33L364.5 195.33L365.5 195.33L366.5 195.33L367.5 195.33L368.5 195.33L369.5 195.33L370.5 195.33L371.5 195.33L372.5 195.33L373.5 195.33L374.5 195.33L375.5 195.33L376.5 195.33L377.5 195.33L378.5 195.33L379.5 195.33L380.5 195.33L381.5 195.33L382.5 195.33L383.5 195.33L384.5 195.33L385.5 195.33L386.5 195.32L387.5 195.32L388.5 195.32L389.5 195.32L390.5 195.31L391.5 195.3L392.5 195.29L393.5 195.28L394.5 195.26L395.5 195.24L396.5 195.21L397.5 195.18L398.5 195.14L399.5 195.1L400.5 195.04L401.5 194.98L402.5 194.9L403.5 194.82L404.5 194.73L405.5 194.63L406.5 194.53L407.5 194.42L408.5 194.31L409.5 194.2L410.5 194.1L411.5 194L412.5 193.91L413.5 193.84L414.5 193.78L415.5 193.74L416.5 193.71L417.5 193.71L418.5 193.72L419.5 193.76L420.5 193.81L421.5 193.88L422.5 193.96L423.5 194.06L424.5 194.16L425.5 194.27L426.5 194.38L427.5 194.49L428.5 194.59L429.5 194.69L430.5 194.78L431.5 194.87L432.5 194.95L433.5 195.01L434.5 195.07L435.5 195.12L436.5 195.17L437.5 195.2L438.5 195.23L439.5 195.25L440.5 195.27L441.5 195.29L442.5 195.3L443.5 195.31L444.5 195.31L445.5 195.32L446.5 195.32L447.5 195.32L448.5 195.33L449.5 195.33L450.5 195.33L451.5 195.33L452.5 195.33L453.5 195.33L454.5 195.33L455.5 195.33L456.5 195.33L457.5 195.33L458.5 195.33L459.5 195.33L460.5 195.33L461.5 195.33L462.5 195.33L463.5 195.33L464.5 195.33L465.5 195.33L466.5 195.33L467.5 195.33L468.5 195.33L469.5 195.33L470.5 195.33L471.5 195.33L472.5 195.33L473.5 195.33L474.5 195.33L475.5 195.33L476.5 195.33L477.5 195.33L478.5 195.33L479.5 195.33" fill="none" stroke="#8df58d" stroke-width="1.9" stroke-linejoin="round"/>
<path d="M355.5 195.2L356.5 195.19L357.5 195.17L358.5 195.16L359.5 195.15L360.5 195.14L361.5 195.12L362.5 195.11L363.5 195.09L364.5 195.08L365.5 195.06L366.5 195.04L367.5 195.03L368.5 195.01L369.5 194.99L370.5 194.97L371.5 194.95L372.5 194.93L373.5 194.91L374.5 194.89L375.5 194.86L376.5 194.84L377.5 194.81L378.5 194.79L379.5 194.76L380.5 194.73L381.5 194.7L382.5 194.67L383.5 194.63L384.5 194.59L385.5 194.55L386.5 194.51L387.5 194.46L388.5 194.41L389.5 194.35L390.5 194.28L391.5 194.19L392.5 194.09L393.5 193.96L394.5 193.8L395.5 193.6L396.5 193.35L397.5 193.03L398.5 192.62L399.5 192.11L400.5 191.47L401.5 190.69L402.5 189.75L403.5 188.62L404.5 187.31L405.5 185.8L406.5 184.1L407.5 182.22L408.5 180.2L409.5 178.08L410.5 175.92L411.5 173.78L412.5 171.75L413.5 169.93L414.5 168.41L415.5 167.29L416.5 166.65L417.5 166.54L418.5 166.97L419.5 167.91L420.5 169.28L421.5 170.99L422.5 172.95L423.5 175.06L424.5 177.22L425.5 179.36L426.5 181.43L427.5 183.37L428.5 185.14L429.5 186.73L430.5 188.12L431.5 189.32L432.5 190.33L433.5 191.18L434.5 191.87L435.5 192.43L436.5 192.87L437.5 193.23L438.5 193.51L439.5 193.73L440.5 193.9L441.5 194.04L442.5 194.15L443.5 194.24L444.5 194.32L445.5 194.39L446.5 194.44L447.5 194.49L448.5 194.54L449.5 194.58L450.5 194.62L451.5 194.65L452.5 194.69L453.5 194.72L454.5 194.75L455.5 194.78L456.5 194.8L457.5 194.83L458.5 194.85L459.5 194.88L460.5 194.9L461.5 194.92L462.5 194.94L463.5 194.96L464.5 194.98L465.5 195L466.5 195.02L467.5 195.04L468.5 195.05L469.5 195.07L470.5 195.09L471.5 195.1L472.5 195.12L473.5 195.13L474.5 195.14L475.5 195.16L476.5 195.17L477.5 195.18L478.5 195.19L479.5 195.21" fill="none" stroke="#1f2380" stroke-width="1.7" stroke-linejoin="round"/>
<rect x="488.2" y="66.9" width="126.3" height="132.7" fill="none" stroke="#000" stroke-width="1.7"/>
<path d="M484 196.75L488.2 196.75" stroke="#000" stroke-width="1.5"/>
<path d="M484 156.17L488.2 156.17" stroke="#000" stroke-width="1.5"/>
<path d="M484 115.59L488.2 115.59" stroke="#000" stroke-width="1.5"/>
<path d="M484 75.01L488.2 75.01" stroke="#000" stroke-width="1.5"/>
<path d="M488.2 199.6L488.2 205.1" stroke="#000" stroke-width="1.5"/>
<path d="M551.35 199.6L551.35 205.1" stroke="#000" stroke-width="1.5"/>
<path d="M614.5 199.6L614.5 205.1" stroke="#000" stroke-width="1.5"/>
<path d="M489.2 195.26L490.2 195.25L491.2 195.25L492.2 195.24L493.2 195.24L494.2 195.23L495.2 195.22L496.2 195.22L497.2 195.21L498.2 195.2L499.2 195.19L500.2 195.19L501.2 195.18L502.2 195.17L503.2 195.16L504.2 195.15L505.2 195.14L506.2 195.13L507.2 195.12L508.2 195.11L509.2 195.1L510.2 195.09L511.2 195.08L512.2 195.07L513.2 195.06L514.2 195.05L515.2 195.03L516.2 195.02L517.2 195.01L518.2 195L519.2 194.99L520.2 194.97L521.2 194.96L522.2 194.95L523.2 194.94L524.2 194.92L525.2 194.91L526.2 194.9L527.2 194.89L528.2 194.88L529.2 194.87L530.2 194.85L531.2 194.84L532.2 194.83L533.2 194.82L534.2 194.8L535.2 194.78L536.2 194.75L537.2 194.7L538.2 194.64L539.2 194.54L540.2 194.4L541.2 194.2L542.2 193.94L543.2 193.6L544.2 193.18L545.2 192.71L546.2 192.2L547.2 191.68L548.2 191.21L549.2 190.82L550.2 190.56L551.2 190.46L552.2 190.53L553.2 190.76L554.2 191.12L555.2 191.58L556.2 192.09L557.2 192.61L558.2 193.09L559.2 193.52L560.2 193.87L561.2 194.15L562.2 194.36L563.2 194.52L564.2 194.62L565.2 194.69L566.2 194.74L567.2 194.77L568.2 194.8L569.2 194.81L570.2 194.83L571.2 194.84L572.2 194.85L573.2 194.86L574.2 194.87L575.2 194.89L576.2 194.9L577.2 194.91L578.2 194.92L579.2 194.93L580.2 194.95L581.2 194.96L582.2 194.97L583.2 194.98L584.2 195L585.2 195.01L586.2 195.02L587.2 195.03L588.2 195.04L589.2 195.06L590.2 195.07L591.2 195.08L592.2 195.09L593.2 195.1L594.2 195.11L595.2 195.12L596.2 195.13L597.2 195.14L598.2 195.15L599.2 195.16L600.2 195.17L601.2 195.18L602.2 195.19L603.2 195.19L604.2 195.2L605.2 195.21L606.2 195.22L607.2 195.22L608.2 195.23L609.2 195.24L610.2 195.24L611.2 195.25L612.2 195.25L613.2 195.26" fill="none" stroke="#8df58d" stroke-width="1.9" stroke-linejoin="round"/>
<path d="M489.2 195.09L490.2 195.07L491.2 195.05L492.2 195.04L493.2 195.02L494.2 195L495.2 194.98L496.2 194.96L497.2 194.94L498.2 194.92L499.2 194.9L500.2 194.88L501.2 194.85L502.2 194.83L503.2 194.8L504.2 194.78L505.2 194.75L506.2 194.72L507.2 194.69L508.2 194.66L509.2 194.63L510.2 194.6L511.2 194.56L512.2 194.53L513.2 194.49L514.2 194.45L515.2 194.41L516.2 194.36L517.2 194.32L518.2 194.26L519.2 194.21L520.2 194.15L521.2 194.09L522.2 194.02L523.2 193.95L524.2 193.87L525.2 193.79L526.2 193.7L527.2 193.59L528.2 193.48L529.2 193.35L530.2 193.2L531.2 193.03L532.2 192.82L533.2 192.57L534.2 192.25L535.2 191.81L536.2 191.22L537.2 190.4L538.2 189.26L539.2 187.69L540.2 185.54L541.2 182.7L542.2 179.05L543.2 174.52L544.2 169.13L545.2 162.99L546.2 156.33L547.2 149.55L548.2 143.16L549.2 137.8L550.2 134.11L551.2 132.65L552.2 133.63L553.2 136.91L554.2 141.99L555.2 148.22L556.2 154.97L557.2 161.68L558.2 167.95L559.2 173.51L560.2 178.22L561.2 182.04L562.2 185.03L563.2 187.31L564.2 188.99L565.2 190.21L566.2 191.08L567.2 191.71L568.2 192.17L569.2 192.51L570.2 192.78L571.2 192.99L572.2 193.17L573.2 193.32L574.2 193.45L575.2 193.57L576.2 193.68L577.2 193.77L578.2 193.86L579.2 193.94L580.2 194.01L581.2 194.08L582.2 194.14L583.2 194.2L584.2 194.25L585.2 194.31L586.2 194.35L587.2 194.4L588.2 194.44L589.2 194.48L590.2 194.52L591.2 194.56L592.2 194.59L593.2 194.63L594.2 194.66L595.2 194.69L596.2 194.72L597.2 194.75L598.2 194.77L599.2 194.8L600.2 194.82L601.2 194.85L602.2 194.87L603.2 194.9L604.2 194.92L605.2 194.94L606.2 194.96L607.2 194.98L608.2 195L609.2 195.02L610.2 195.03L611.2 195.05L612.2 195.07L613.2 195.08" fill="none" stroke="#1f2380" stroke-width="1.7" stroke-linejoin="round"/>
<rect x="623.75" y="66.9" width="125.85" height="132.7" fill="none" stroke="#000" stroke-width="1.7"/>
<path d="M619.55 196.75L623.75 196.75" stroke="#000" stroke-width="1.5"/>
<path d="M619.55 156.17L623.75 156.17" stroke="#000" stroke-width="1.5"/>
<path d="M619.55 115.59L623.75 115.59" stroke="#000" stroke-width="1.5"/>
<path d="M619.55 75.01L623.75 75.01" stroke="#000" stroke-width="1.5"/>
<path d="M623.75 199.6L623.75 205.1" stroke="#000" stroke-width="1.5"/>
<path d="M686.67 199.6L686.67 205.1" stroke="#000" stroke-width="1.5"/>
<path d="M749.6 199.6L749.6 205.1" stroke="#000" stroke-width="1.5"/>
<path d="M624.75 195.28L625.75 195.28L626.75 195.27L627.75 195.27L628.75 195.26L629.75 195.25L630.75 195.25L631.75 195.24L632.75 195.23L633.75 195.22L634.75 195.21L635.75 195.2L636.75 195.19L637.75 195.18L638.75 195.17L639.75 195.15L640.75 195.14L641.75 195.13L642.75 195.11L643.75 195.09L644.75 195.08L645.75 195.06L646.75 195.04L647.75 195.02L648.75 195.01L649.75 194.99L650.75 194.96L651.75 194.94L652.75 194.92L653.75 194.9L654.75 194.88L655.75 194.85L656.75 194.83L657.75 194.81L658.75 194.78L659.75 194.76L660.75 194.73L661.75 194.71L662.75 194.68L663.75 194.66L664.75 194.63L665.75 194.61L666.75 194.59L667.75 194.56L668.75 194.54L669.75 194.52L670.75 194.5L671.75 194.48L672.75 194.46L673.75 194.44L674.75 194.42L675.75 194.4L676.75 194.39L677.75 194.38L678.75 194.36L679.75 194.35L680.75 194.34L681.75 194.33L682.75 194.33L683.75 194.32L684.75 194.32L685.75 194.32L686.75 194.32L687.75 194.32L688.75 194.32L689.75 194.32L690.75 194.33L691.75 194.34L692.75 194.35L693.75 194.36L694.75 194.37L695.75 194.38L696.75 194.4L697.75 194.41L698.75 194.43L699.75 194.45L700.75 194.47L701.75 194.49L702.75 194.51L703.75 194.53L704.75 194.55L705.75 194.58L706.75 194.6L707.75 194.62L708.75 194.65L709.75 194.67L710.75 194.7L711.75 194.72L712.75 194.75L713.75 194.77L714.75 194.79L715.75 194.82L716.75 194.84L717.75 194.87L718.75 194.89L719.75 194.91L720.75 194.93L721.75 194.95L722.75 194.98L723.75 195L724.75 195.01L725.75 195.03L726.75 195.05L727.75 195.07L728.75 195.09L729.75 195.1L730.75 195.12L731.75 195.13L732.75 195.15L733.75 195.16L734.75 195.17L735.75 195.18L736.75 195.2L737.75 195.21L738.75 195.22L739.75 195.22L740.75 195.23L741.75 195.24L742.75 195.25L743.75 195.26L744.75 195.26L745.75 195.27L746.75 195.27L747.75 195.28" fill="none" stroke="#8df58d" stroke-width="1.9" stroke-linejoin="round"/>
<path d="M624.75 195.08L625.75 195.08L626.75 195.07L627.75 195.06L628.75 195.05L629.75 195.04L630.75 195.03L631.75 195.02L632.75 195.01L633.75 194.99L634.75 194.98L635.75 194.96L636.75 194.94L637.75 194.92L638.75 194.9L639.75 194.88L640.75 194.85L641.75 194.83L642.75 194.8L643.75 194.77L644.75 194.73L645.75 194.7L646.75 194.66L647.75 194.62L648.75 194.58L649.75 194.54L650.75 194.49L651.75 194.44L652.75 194.39L653.75 194.34L654.75 194.28L655.75 194.23L656.75 194.17L657.75 194.1L658.75 194.04L659.75 193.97L660.75 193.89L661.75 193.81L662.75 193.71L663.75 193.59L664.75 193.44L665.75 193.26L666.75 193.03L667.75 192.74L668.75 192.4L669.75 191.99L670.75 191.52L671.75 191L672.75 190.46L673.75 189.91L674.75 189.4L675.75 188.96L676.75 188.63L677.75 188.42L678.75 188.36L679.75 188.42L680.75 188.61L681.75 188.88L682.75 189.2L683.75 189.51L684.75 189.77L685.75 189.95L686.75 190.02L687.75 189.98L688.75 189.82L689.75 189.57L690.75 189.26L691.75 188.95L692.75 188.66L693.75 188.46L694.75 188.36L695.75 188.4L696.75 188.58L697.75 188.89L698.75 189.31L699.75 189.81L700.75 190.35L701.75 190.9L702.75 191.43L703.75 191.91L704.75 192.33L705.75 192.69L706.75 192.98L707.75 193.22L708.75 193.41L709.75 193.57L710.75 193.69L711.75 193.79L712.75 193.88L713.75 193.96L714.75 194.03L715.75 194.1L716.75 194.16L717.75 194.22L718.75 194.28L719.75 194.33L720.75 194.39L721.75 194.44L722.75 194.49L723.75 194.53L724.75 194.58L725.75 194.62L726.75 194.66L727.75 194.7L728.75 194.73L729.75 194.76L730.75 194.8L731.75 194.82L732.75 194.85L733.75 194.88L734.75 194.9L735.75 194.92L736.75 194.94L737.75 194.96L738.75 194.98L739.75 194.99L740.75 195.01L741.75 195.02L742.75 195.03L743.75 195.04L744.75 195.05L745.75 195.06L746.75 195.07L747.75 195.07" fill="none" stroke="#1f2380" stroke-width="1.7" stroke-linejoin="round"/>
<text x="80" y="204.55" font-size="22.3" text-anchor="end">0</text>
<text x="80" y="163.97" font-size="22.3" text-anchor="end">100</text>
<text x="80" y="123.39" font-size="22.3" text-anchor="end">200</text>
<text x="80" y="82.81" font-size="22.3" text-anchor="end">300</text>
<text x="38" y="156.89" font-size="22.2" transform="rotate(-90 38 156.89)" textLength="65.28" lengthAdjust="spacingAndGlyphs">RPKM</text>
<text x="67.28" y="223.75" font-size="18.02" textLength="32.19" lengthAdjust="spacingAndGlyphs">-5.0</text>
<text x="118.75" y="223.75" font-size="18.68" textLength="56.99" lengthAdjust="spacingAndGlyphs">Center</text>
<text x="192.3" y="223.75" font-size="17.44" textLength="25.39" lengthAdjust="spacingAndGlyphs">5.0</text>
<text x="216.32" y="223.75" font-size="17" textLength="30.36" lengthAdjust="spacingAndGlyphs">-5.0</text>
<text x="254.25" y="223.75" font-size="18.68" textLength="56.99" lengthAdjust="spacingAndGlyphs">Center</text>
<text x="322.29" y="223.75" font-size="17.8" textLength="25.92" lengthAdjust="spacingAndGlyphs">5.0</text>
<text x="349.25" y="223.75" font-size="18.76" textLength="33.5" lengthAdjust="spacingAndGlyphs">-5.0</text>
<text x="393.26" y="223.75" font-size="18.51" textLength="56.48" lengthAdjust="spacingAndGlyphs">Center</text>
<text x="459.3" y="223.75" font-size="17.44" textLength="25.39" lengthAdjust="spacingAndGlyphs">5.0</text>
<text x="483.27" y="223.75" font-size="18.17" textLength="32.45" lengthAdjust="spacingAndGlyphs">-5.0</text>
<text x="526.75" y="223.75" font-size="18.68" textLength="56.99" lengthAdjust="spacingAndGlyphs">Center</text>
<text x="591.29" y="223.75" font-size="17.8" textLength="25.92" lengthAdjust="spacingAndGlyphs">5.0</text>
<text x="617.23" y="223.75" font-size="19.34" textLength="34.55" lengthAdjust="spacingAndGlyphs">-5.0</text>
<text x="662.75" y="223.75" font-size="18.68" textLength="56.99" lengthAdjust="spacingAndGlyphs">Center</text>
<text x="727.3" y="223.75" font-size="17.44" textLength="25.39" lengthAdjust="spacingAndGlyphs">5.0</text>
<text x="761.27" y="223.75" font-size="18.17" textLength="20.45" lengthAdjust="spacingAndGlyphs">kb</text>
<text x="77.52" y="937" font-size="18.32" textLength="32.72" lengthAdjust="spacingAndGlyphs">-5.0</text>
<text x="123" y="937" font-size="18.76" textLength="57.25" lengthAdjust="spacingAndGlyphs">Center</text>
<text x="189.79" y="937" font-size="17.8" textLength="25.92" lengthAdjust="spacingAndGlyphs">5.0</text>
<text x="213.76" y="937" font-size="18.61" textLength="33.24" lengthAdjust="spacingAndGlyphs">-5.0</text>
<text x="259.25" y="937" font-size="18.68" textLength="56.99" lengthAdjust="spacingAndGlyphs">Center</text>
<text x="326.85" y="937" font-size="16.35" textLength="23.81" lengthAdjust="spacingAndGlyphs">5.0</text>
<text x="349.3" y="937" font-size="17.58" textLength="31.41" lengthAdjust="spacingAndGlyphs">-5.0</text>
<text x="393" y="937" font-size="18.68" textLength="56.99" lengthAdjust="spacingAndGlyphs">Center</text>
<text x="459.31" y="937" font-size="17.26" textLength="25.13" lengthAdjust="spacingAndGlyphs">5.0</text>
<text x="483.27" y="937" font-size="18.17" textLength="32.45" lengthAdjust="spacingAndGlyphs">-5.0</text>
<text x="527.25" y="937" font-size="18.68" textLength="56.99" lengthAdjust="spacingAndGlyphs">Center</text>
<text x="591.29" y="937" font-size="17.8" textLength="25.92" lengthAdjust="spacingAndGlyphs">5.0</text>
<text x="617.75" y="937" font-size="18.76" textLength="33.5" lengthAdjust="spacingAndGlyphs">-5.0</text>
<text x="662.75" y="937" font-size="18.68" textLength="56.99" lengthAdjust="spacingAndGlyphs">Center</text>
<text x="727.3" y="937" font-size="17.44" textLength="25.39" lengthAdjust="spacingAndGlyphs">5.0</text>
<text x="761.16" y="937" font-size="21.04" textLength="23.68" lengthAdjust="spacingAndGlyphs">kb</text>
<path d="M763.75 66.25L781.25 66.25" stroke="#1f2380" stroke-width="1.8"/>
<text x="787.06" y="77.5" font-size="23.4" textLength="93.87" lengthAdjust="spacingAndGlyphs">YEATS2_</text>
<text x="786.06" y="105" font-size="23.45" textLength="178.63" lengthAdjust="spacingAndGlyphs">marked promoter</text>
<path d="M763.75 135.5L781.25 135.5" stroke="#8df58d" stroke-width="1.9"/>
<text x="785.31" y="143.75" font-size="23.4" textLength="72.12" lengthAdjust="spacingAndGlyphs">Others</text>
<g clip-path="url(#c1)"><rect x="87.6" y="235.6" width="126.6" height="327.4" fill="url(#v2)"/><path d="M80.9 232.6L80.9 432.04L220.9 432.04L220.9 232.6Z" fill="url(#v3)" filter="url(#b4)"/><path d="M135.9 232.6L145.4 563L156.4 563L165.9 232.6Z" fill="url(#v5)" filter="url(#b6)"/><path d="M142.15 232.6L147.15 563L154.65 563L159.65 232.6Z" fill="url(#v7)" filter="url(#b8)"/><path d="M145.4 232.6L148.65 563L153.15 563L156.4 232.6Z" fill="url(#v9)" filter="url(#b10)"/></g>
<rect x="87.6" y="235.6" width="126.6" height="327.4" fill="none" stroke="#000" stroke-width="1.7"/>
<g clip-path="url(#c11)"><rect x="220.9" y="235.6" width="127.1" height="327.4" fill="url(#v12)"/><path d="M261.45 232.6L269.45 311.11L274.45 389.62L278.45 468.12L282.45 546.63L286.45 546.63L290.45 468.12L294.45 389.62L299.45 311.11L307.45 232.6Z" fill="url(#v13)" filter="url(#b14)"/><path d="M274.45 232.6L275.95 256.94L277.95 317.78L279.95 399.91L281.45 475.97L283.45 536.81L285.45 536.81L287.45 475.97L288.95 399.91L290.95 317.78L292.95 256.94L294.45 232.6Z" fill="url(#v15)" filter="url(#b16)"/></g>
<rect x="220.9" y="235.6" width="127.1" height="327.4" fill="none" stroke="#000" stroke-width="1.7"/>
<g clip-path="url(#c17)"><rect x="354.3" y="235.6" width="126.9" height="327.4" fill="url(#v18)"/><path d="M389.75 232.6L398.75 315.2L404.25 397.8L409.75 480.4L415.75 563L419.75 563L425.75 480.4L431.25 397.8L436.75 315.2L445.75 232.6Z" fill="url(#v19)" filter="url(#b20)"/><path d="M402.75 232.6L404.25 258.51L406.25 313.56L409.5 394.53L412.75 475.49L414.75 524.07L416.75 556.45L418.75 556.45L420.75 524.07L422.75 475.49L426 394.53L429.25 313.56L431.25 258.51L432.75 232.6Z" fill="url(#v21)" filter="url(#b22)"/></g>
<rect x="354.3" y="235.6" width="126.9" height="327.4" fill="none" stroke="#000" stroke-width="1.7"/>
<g clip-path="url(#c23)"><rect x="488" y="235.6" width="126.3" height="327.4" fill="url(#v24)"/><path d="M521.15 232.6L528.15 315.2L534.15 397.8L541.15 480.4L548.65 563L553.65 563L561.15 480.4L568.15 397.8L574.15 315.2L581.15 232.6Z" fill="url(#v25)" filter="url(#b20)"/><path d="M532.15 232.6L535.15 315.2L539.15 397.8L543.65 480.4L547.15 529.96L549.65 563L552.65 563L555.15 529.96L558.65 480.4L563.15 397.8L567.15 315.2L570.15 232.6Z" fill="url(#v26)" filter="url(#b22)"/><path d="M537.65 232.6L539.65 311.93L543.15 391.25L546.65 470.58L548.9 511.83L550.4 549.9L551.9 549.9L553.4 511.83L555.65 470.58L559.15 391.25L562.65 311.93L564.65 232.6Z" fill="url(#v27)" filter="url(#b28)"/></g>
<rect x="488" y="235.6" width="126.3" height="327.4" fill="none" stroke="#000" stroke-width="1.7"/>
<g clip-path="url(#c29)"><rect x="623.8" y="235.6" width="126.2" height="327.4" fill="url(#v30)"/><path d="M666.4 232.6L674.15 397.8L682.9 563L687.9 563L683.15 397.8L677.4 232.6Z" fill="url(#v31)" filter="url(#b22)"/><path d="M694.9 232.6L689.9 397.8L685.9 563L690.9 563L698.9 397.8L705.9 232.6Z" fill="url(#v32)" filter="url(#b22)"/></g>
<rect x="623.8" y="235.6" width="126.2" height="327.4" fill="none" stroke="#000" stroke-width="1.7"/>
<g clip-path="url(#c33)"><rect x="87.6" y="581.3" width="126.6" height="330" fill="url(#v34)"/><path d="M80.9 578.3L80.9 894.8L220.9 894.8L220.9 578.3Z" fill="url(#v35)" filter="url(#b36)"/><path d="M144.4 578.3L146.9 911.3L154.9 911.3L157.4 578.3Z" fill="url(#v37)" filter="url(#b38)"/><path d="M146.9 578.3L148.6 911.3L153.2 911.3L154.9 578.3Z" fill="url(#v39)" filter="url(#b40)"/></g>
<rect x="87.6" y="581.3" width="126.6" height="330" fill="none" stroke="#000" stroke-width="1.7"/>
<g clip-path="url(#c41)"><rect x="220.9" y="581.3" width="127.1" height="330" fill="url(#v42)"/><path d="M277.95 578.3L279.95 696.8L288.95 696.8L290.95 578.3Z" fill="url(#v43)" filter="url(#b22)"/></g>
<rect x="220.9" y="581.3" width="127.1" height="330" fill="none" stroke="#000" stroke-width="1.7"/>
<g clip-path="url(#c44)"><rect x="354.3" y="581.3" width="126.9" height="330" fill="url(#v45)"/><path d="M409.75 578.3L413.75 729.8L421.75 729.8L425.75 578.3Z" fill="url(#v46)" filter="url(#b22)"/></g>
<rect x="354.3" y="581.3" width="126.9" height="330" fill="none" stroke="#000" stroke-width="1.7"/>
<g clip-path="url(#c47)"><rect x="488" y="581.3" width="126.3" height="330" fill="url(#v48)"/><path d="M543.15 578.3L548.65 779.3L553.65 779.3L559.15 578.3Z" fill="url(#v49)" filter="url(#b22)"/></g>
<rect x="488" y="581.3" width="126.3" height="330" fill="none" stroke="#000" stroke-width="1.7"/>
<g clip-path="url(#c50)"><rect x="623.8" y="581.3" width="126.2" height="330" fill="url(#v51)"/><path d="M674.9 578.3L681.4 746.3L686.4 746.3L682.9 578.3Z" fill="url(#v52)" filter="url(#b53)"/><path d="M690.9 578.3L687.4 746.3L692.4 746.3L698.9 578.3Z" fill="url(#v54)" filter="url(#b53)"/></g>
<rect x="623.8" y="581.3" width="126.2" height="330" fill="none" stroke="#000" stroke-width="1.7"/>
<path d="M87.6 911.3L87.6 916.8" stroke="#000" stroke-width="1.5"/>
<path d="M150.9 911.3L150.9 916.8" stroke="#000" stroke-width="1.5"/>
<path d="M214.2 911.3L214.2 916.8" stroke="#000" stroke-width="1.5"/>
<path d="M220.9 911.3L220.9 916.8" stroke="#000" stroke-width="1.5"/>
<path d="M284.45 911.3L284.45 916.8" stroke="#000" stroke-width="1.5"/>
<path d="M348 911.3L348 916.8" stroke="#000" stroke-width="1.5"/>
<path d="M354.3 911.3L354.3 916.8" stroke="#000" stroke-width="1.5"/>
<path d="M417.75 911.3L417.75 916.8" stroke="#000" stroke-width="1.5"/>
<path d="M481.2 911.3L481.2 916.8" stroke="#000" stroke-width="1.5"/>
<path d="M488 911.3L488 916.8" stroke="#000" stroke-width="1.5"/>
<path d="M551.15 911.3L551.15 916.8" stroke="#000" stroke-width="1.5"/>
<path d="M614.3 911.3L614.3 916.8" stroke="#000" stroke-width="1.5"/>
<path d="M623.8 911.3L623.8 916.8" stroke="#000" stroke-width="1.5"/>
<path d="M686.9 911.3L686.9 916.8" stroke="#000" stroke-width="1.5"/>
<path d="M750 911.3L750 916.8" stroke="#000" stroke-width="1.5"/>
<rect x="764.6" y="235.6" width="13.4" height="675.7" fill="url(#v55)" stroke="#000" stroke-width="1.3"/>
<path d="M778 308.4L782.5 308.4" stroke="#000" stroke-width="1.4"/>
<text x="788" y="316.2" font-size="21.6">120</text>
<path d="M778 411.2L782.5 411.2" stroke="#000" stroke-width="1.4"/>
<text x="788" y="419" font-size="21.6">100</text>
<path d="M778 512.4L782.5 512.4" stroke="#000" stroke-width="1.4"/>
<text x="788" y="520.2" font-size="21.6">80</text>
<path d="M778 612.6L782.5 612.6" stroke="#000" stroke-width="1.4"/>
<text x="788" y="620.4" font-size="21.6">60</text>
<path d="M778 711.2L782.5 711.2" stroke="#000" stroke-width="1.4"/>
<text x="788" y="719" font-size="21.6">40</text>
<path d="M778 811L782.5 811" stroke="#000" stroke-width="1.4"/>
<text x="788" y="818.8" font-size="21.6">20</text>
<path d="M778 906.8L782.5 906.8" stroke="#000" stroke-width="1.4"/>
<text x="788" y="914.6" font-size="21.6">0</text>
<text x="73.3" y="555.99" font-size="24.74" transform="rotate(-90 73.3 555.99)" textLength="296.98" lengthAdjust="spacingAndGlyphs">YEATS2_marked Promoter</text>
<text x="73.6" y="762.98" font-size="24.48" transform="rotate(-90 73.6 762.98)" textLength="74.71" lengthAdjust="spacingAndGlyphs">Others</text>
<text x="857.3" y="212.5" font-size="32" font-weight="bold">b</text>
<rect x="986.75" y="235" width="338.25" height="80.75" fill="#fff" stroke="#13212a" stroke-width="1.5" rx="17"/>
<text x="1018.45" y="268.75" font-size="26.27" textLength="282.6" lengthAdjust="spacingAndGlyphs">H3K4me1 and H3K27ac</text>
<text x="1005.94" y="300.75" font-size="26.45" textLength="306.37" lengthAdjust="spacingAndGlyphs">overlapped peaks(37,669)</text>
<path d="M1140.75 321.75L1158 321.75L1158 332.5L1172.5 332.5L1149.25 338L1126.25 332.5L1140.75 332.5Z" fill="#fff" stroke="#13212a" stroke-width="1.4" stroke-linejoin="miter"/>
<rect x="1038" y="342" width="222.75" height="78.5" fill="#fff" stroke="#13212a" stroke-width="1.5" rx="17"/>
<text x="1054.48" y="375.5" font-size="25.43" textLength="193.28" lengthAdjust="spacingAndGlyphs">Non - TSS peaks</text>
<text x="1040.21" y="405.75" font-size="25.95" fill="#3fa0e6" textLength="112.08" lengthAdjust="spacingAndGlyphs">Enhancer</text>
<text x="1151.46" y="405.75" font-size="26.1" textLength="98.34" lengthAdjust="spacingAndGlyphs">(20,913)</text>
<path d="M1155 420.5L1155 433M1113 444.5L1113 433L1192 433L1192 445.5" fill="none" stroke="#13212a" stroke-width="1.5"/>
<rect x="889.5" y="444.5" width="260.5" height="77.5" fill="#fff" stroke="#13212a" stroke-width="1.5" rx="17"/>
<text x="893.19" y="475" font-size="26.44" textLength="252.87" lengthAdjust="spacingAndGlyphs">Occupied by YEATS2</text>
<text x="923.18" y="505.5" font-size="26.69" fill="#c1272d" textLength="107.89" lengthAdjust="spacingAndGlyphs">Cluster 1</text>
<text x="1042.71" y="505.5" font-size="25.9" textLength="83.32" lengthAdjust="spacingAndGlyphs">(2,934)</text>
<rect x="1155.5" y="445.5" width="300.1" height="77" fill="#fff" stroke="#13212a" stroke-width="1.5" rx="17"/>
<text x="1160.36" y="475" font-size="26.1" textLength="291.29" lengthAdjust="spacingAndGlyphs">Not occupied by YEATS2</text>
<text x="1198.21" y="505.6" font-size="27.34" fill="#c1272d" textLength="110.49" lengthAdjust="spacingAndGlyphs">Cluster 2</text>
<text x="1323.26" y="505.6" font-size="26.03" textLength="98.08" lengthAdjust="spacingAndGlyphs">(17,979)</text>
<rect x="1000.75" y="585" width="310.5" height="81" fill="#fff" stroke="#13212a" stroke-width="1.5" rx="17"/>
<text x="1051.93" y="615" font-size="26.84" textLength="198.65" lengthAdjust="spacingAndGlyphs">H3K4me3 peaks</text>
<text x="1109.68" y="647" font-size="26.71" textLength="100.64" lengthAdjust="spacingAndGlyphs">(25,925)</text>
<path d="M1138 671.75L1155.5 671.75L1155.5 683L1170 683L1146.75 688L1123.75 683L1138 683Z" fill="#fff" stroke="#13212a" stroke-width="1.4" stroke-linejoin="miter"/>
<rect x="1035.5" y="691.75" width="223.25" height="78.85" fill="#fff" stroke="#13212a" stroke-width="1.5" rx="17"/>
<text x="1055.93" y="725" font-size="26.72" fill="#3fa0e6" textLength="188.89" lengthAdjust="spacingAndGlyphs">Promoter peaks</text>
<text x="1108.94" y="757" font-size="26.57" textLength="100.13" lengthAdjust="spacingAndGlyphs">(14,523)</text>
<path d="M1152.5 770.6L1152.5 782.8M1110.5 795L1110.5 782.8L1189.5 782.8L1189.5 796" fill="none" stroke="#13212a" stroke-width="1.5"/>
<rect x="887.5" y="795" width="260" height="77.5" fill="#fff" stroke="#13212a" stroke-width="1.5" rx="17"/>
<text x="890.94" y="825" font-size="26.41" textLength="252.61" lengthAdjust="spacingAndGlyphs">Occupied by YEATS2</text>
<text x="905.89" y="858" font-size="27.76" fill="#c1272d" textLength="112.22" lengthAdjust="spacingAndGlyphs">Cluster 3</text>
<text x="1026.96" y="858" font-size="26.01" textLength="96.08" lengthAdjust="spacingAndGlyphs">(11,197)</text>
<rect x="1153" y="796" width="299.9" height="77.6" fill="#fff" stroke="#13212a" stroke-width="1.5" rx="17"/>
<text x="1157.56" y="825.6" font-size="26.12" textLength="291.49" lengthAdjust="spacingAndGlyphs">Not occupied by YEATS2</text>
<text x="1181.48" y="858" font-size="27.92" fill="#c1272d" textLength="112.83" lengthAdjust="spacingAndGlyphs">Cluster 4</text>
<text x="1306.04" y="858" font-size="26.58" textLength="85.53" lengthAdjust="spacingAndGlyphs">(3,326)</text>
<text x="1447.3" y="27.5" font-size="32" font-weight="bold">c</text>
<text x="1561.93" y="47.9" font-size="26.69" textLength="107.89" lengthAdjust="spacingAndGlyphs">Cluster 1</text>
<text x="1700.66" y="47.9" font-size="27.2" textLength="109.93" lengthAdjust="spacingAndGlyphs">Cluster 2</text>
<text x="1839.61" y="47.9" font-size="27.21" textLength="109.98" lengthAdjust="spacingAndGlyphs">Cluster 3</text>
<text x="1977.92" y="47.9" font-size="27.11" textLength="109.57" lengthAdjust="spacingAndGlyphs">Cluster 4</text>
<rect x="1548" y="56.9" width="133.3" height="127.7" fill="none" stroke="#000" stroke-width="1.7"/>
<path d="M1542.5 155.5L1548 155.5" stroke="#000" stroke-width="1.5"/>
<path d="M1542.5 124.9L1548 124.9" stroke="#000" stroke-width="1.5"/>
<path d="M1542.5 94.3L1548 94.3" stroke="#000" stroke-width="1.5"/>
<path d="M1542.5 63.7L1548 63.7" stroke="#000" stroke-width="1.5"/>
<path d="M1548 184.6L1548 190.1" stroke="#000" stroke-width="1.5"/>
<path d="M1614.65 184.6L1614.65 190.1" stroke="#000" stroke-width="1.5"/>
<path d="M1681.3 184.6L1681.3 190.1" stroke="#000" stroke-width="1.5"/>
<path d="M1549 175.64L1550 175.97L1551 175.85L1552 175.38L1553 174.87L1554 174.71L1555 174.38L1556 174.95L1557 175.16L1558 175.54L1559 175.24L1560 175.76L1561 175.18L1562 175.5L1563 175.05L1564 175.54L1565 175.24L1566 175.22L1567 175.27L1568 175.8L1569 175.31L1570 175.22L1571 175.86L1572 175.03L1573 174.27L1574 174.74L1575 174.54L1576 174.21L1577 174.48L1578 174.43L1579 174.05L1580 173.47L1581 173.19L1582 172.95L1583 172.42L1584 171.84L1585 171.7L1586 170.84L1587 170.19L1588 170.16L1589 170.07L1590 169.38L1591 168.63L1592 167.76L1593 167.06L1594 166.31L1595 166.13L1596 165.86L1597 165.59L1598 165.51L1599 165.03L1600 164.43L1601 163.95L1602 163.18L1603 162.17L1604 161.66L1605 160.55L1606 159.9L1607 159.43L1608 158.96L1609 157.91L1610 157.6L1611 156.66L1612 156.4L1613 155.54L1614 155.22L1615 154.47L1616 155.54L1617 155.92L1618 156.67L1619 156.88L1620 158.09L1621 158.4L1622 159.16L1623 159.93L1624 160.79L1625 160.73L1626 161.42L1627 161.47L1628 162.25L1629 162.52L1630 163.66L1631 164.52L1632 165.28L1633 165.2L1634 166.52L1635 167.12L1636 167.11L1637 167.93L1638 168.97L1639 169.41L1640 170.04L1641 170.59L1642 170.45L1643 170.2L1644 170.16L1645 170.57L1646 171.2L1647 171.75L1648 172.26L1649 172.5L1650 172.68L1651 172.85L1652 173.45L1653 173.95L1654 174.59L1655 174.27L1656 174.23L1657 174.74L1658 175.03L1659 174.51L1660 175.08L1661 175.04L1662 174.74L1663 174.39L1664 174.53L1665 174.59L1666 175.16L1667 175.38L1668 175.39L1669 175.4L1670 175.47L1671 174.95L1672 174.81L1673 175.19L1674 175.42L1675 174.69L1676 174.97L1677 174.79L1678 174.21L1679 173.75L1680 173.94" fill="none" stroke="#6fd8c6" stroke-width="2" stroke-linejoin="round"/>
<path d="M1549 172.3L1550 172.74L1551 173.23L1552 173.03L1553 172.7L1554 173.28L1555 173.14L1556 173.64L1557 173.43L1558 173.54L1559 173.61L1560 172.8L1561 171.77L1562 171.95L1563 172.04L1564 171.91L1565 173.05L1566 173.57L1567 174.27L1568 174.78L1569 174.68L1570 174.66L1571 174.74L1572 173.96L1573 172.76L1574 171.98L1575 170.78L1576 170.23L1577 169.46L1578 169.39L1579 169.13L1580 168.16L1581 167.01L1582 166.23L1583 165.35L1584 164.72L1585 165.03L1586 165.26L1587 165.56L1588 164.86L1589 164.12L1590 162.73L1591 161.94L1592 160.2L1593 159.39L1594 159.13L1595 159.12L1596 157.7L1597 157.44L1598 156.41L1599 155.04L1600 154.25L1601 153.59L1602 152.2L1603 151.97L1604 151.25L1605 149.83L1606 148.3L1607 147.19L1608 146.24L1609 144.95L1610 144.16L1611 144.2L1612 143.19L1613 142.22L1614 141.02L1615 139.86L1616 140.38L1617 141.27L1618 142.22L1619 143.08L1620 144.49L1621 145.29L1622 147L1623 147.96L1624 148.71L1625 149.03L1626 150.28L1627 150.58L1628 151.72L1629 153.43L1630 154.37L1631 154.92L1632 156.76L1633 156.71L1634 157.77L1635 159.27L1636 159.89L1637 160.36L1638 161.89L1639 162.75L1640 163.63L1641 164.51L1642 165.25L1643 165.52L1644 165.79L1645 165.96L1646 166.12L1647 166.42L1648 167.03L1649 167.02L1650 167.9L1651 169.4L1652 169.44L1653 169.68L1654 170.93L1655 171.42L1656 171.21L1657 171.63L1658 172.79L1659 172.32L1660 171.51L1661 171.67L1662 172.29L1663 172.4L1664 173.48L1665 173.38L1666 173.81L1667 173.48L1668 173.3L1669 172.37L1670 172.8L1671 172.73L1672 173.36L1673 172.81L1674 173.71L1675 174.14L1676 173.83L1677 173.03L1678 173.15L1679 172.9L1680 172.08" fill="none" stroke="#b3282d" stroke-width="1.7" stroke-linejoin="round"/>
<rect x="1689.2" y="56.9" width="133.2" height="127.7" fill="none" stroke="#000" stroke-width="1.7"/>
<path d="M1685 155.5L1689.2 155.5" stroke="#000" stroke-width="1.5"/>
<path d="M1685 124.9L1689.2 124.9" stroke="#000" stroke-width="1.5"/>
<path d="M1685 94.3L1689.2 94.3" stroke="#000" stroke-width="1.5"/>
<path d="M1685 63.7L1689.2 63.7" stroke="#000" stroke-width="1.5"/>
<path d="M1689.2 184.6L1689.2 190.1" stroke="#000" stroke-width="1.5"/>
<path d="M1755.8 184.6L1755.8 190.1" stroke="#000" stroke-width="1.5"/>
<path d="M1822.4 184.6L1822.4 190.1" stroke="#000" stroke-width="1.5"/>
<path d="M1690.2 178.77L1691.2 178.75L1692.2 178.74L1693.2 178.73L1694.2 178.71L1695.2 178.7L1696.2 178.68L1697.2 178.67L1698.2 178.66L1699.2 178.64L1700.2 178.63L1701.2 178.61L1702.2 178.6L1703.2 178.59L1704.2 178.57L1705.2 178.56L1706.2 178.55L1707.2 178.53L1708.2 178.52L1709.2 178.51L1710.2 178.5L1711.2 178.48L1712.2 178.47L1713.2 178.46L1714.2 178.45L1715.2 178.44L1716.2 178.43L1717.2 178.42L1718.2 178.42L1719.2 178.41L1720.2 178.41L1721.2 178.41L1722.2 178.41L1723.2 178.41L1724.2 178.41L1725.2 178.42L1726.2 178.43L1727.2 178.44L1728.2 178.46L1729.2 178.48L1730.2 178.5L1731.2 178.53L1732.2 178.57L1733.2 178.6L1734.2 178.64L1735.2 178.69L1736.2 178.74L1737.2 178.79L1738.2 178.84L1739.2 178.9L1740.2 178.97L1741.2 179.03L1742.2 179.09L1743.2 179.16L1744.2 179.22L1745.2 179.29L1746.2 179.35L1747.2 179.41L1748.2 179.47L1749.2 179.52L1750.2 179.56L1751.2 179.6L1752.2 179.64L1753.2 179.66L1754.2 179.68L1755.2 179.68L1756.2 179.68L1757.2 179.67L1758.2 179.65L1759.2 179.62L1760.2 179.58L1761.2 179.53L1762.2 179.48L1763.2 179.42L1764.2 179.35L1765.2 179.27L1766.2 179.19L1767.2 179.1L1768.2 179.02L1769.2 178.92L1770.2 178.83L1771.2 178.74L1772.2 178.64L1773.2 178.55L1774.2 178.46L1775.2 178.37L1776.2 178.29L1777.2 178.21L1778.2 178.13L1779.2 178.05L1780.2 177.98L1781.2 177.91L1782.2 177.85L1783.2 177.79L1784.2 177.74L1785.2 177.69L1786.2 177.64L1787.2 177.6L1788.2 177.56L1789.2 177.52L1790.2 177.49L1791.2 177.46L1792.2 177.43L1793.2 177.4L1794.2 177.37L1795.2 177.35L1796.2 177.33L1797.2 177.31L1798.2 177.29L1799.2 177.27L1800.2 177.25L1801.2 177.24L1802.2 177.22L1803.2 177.2L1804.2 177.19L1805.2 177.17L1806.2 177.16L1807.2 177.14L1808.2 177.13L1809.2 177.11L1810.2 177.1L1811.2 177.09L1812.2 177.07L1813.2 177.06L1814.2 177.04L1815.2 177.03L1816.2 177.01L1817.2 177L1818.2 176.99L1819.2 176.97L1820.2 176.96L1821.2 176.95" fill="none" stroke="#6fd8c6" stroke-width="2" stroke-linejoin="round"/>
<path d="M1690.2 178.16L1691.2 178.14L1692.2 178.13L1693.2 178.11L1694.2 178.1L1695.2 178.09L1696.2 178.07L1697.2 178.06L1698.2 178.04L1699.2 178.03L1700.2 178.02L1701.2 178L1702.2 177.99L1703.2 177.98L1704.2 177.96L1705.2 177.95L1706.2 177.94L1707.2 177.92L1708.2 177.91L1709.2 177.9L1710.2 177.88L1711.2 177.87L1712.2 177.86L1713.2 177.85L1714.2 177.84L1715.2 177.83L1716.2 177.82L1717.2 177.81L1718.2 177.81L1719.2 177.8L1720.2 177.8L1721.2 177.79L1722.2 177.79L1723.2 177.8L1724.2 177.8L1725.2 177.81L1726.2 177.82L1727.2 177.83L1728.2 177.85L1729.2 177.87L1730.2 177.89L1731.2 177.92L1732.2 177.95L1733.2 177.99L1734.2 178.03L1735.2 178.08L1736.2 178.12L1737.2 178.18L1738.2 178.23L1739.2 178.29L1740.2 178.35L1741.2 178.42L1742.2 178.48L1743.2 178.55L1744.2 178.61L1745.2 178.68L1746.2 178.74L1747.2 178.8L1748.2 178.86L1749.2 178.91L1750.2 178.95L1751.2 178.99L1752.2 179.02L1753.2 179.05L1754.2 179.06L1755.2 179.07L1756.2 179.07L1757.2 179.06L1758.2 179.04L1759.2 179.01L1760.2 178.97L1761.2 178.92L1762.2 178.87L1763.2 178.8L1764.2 178.73L1765.2 178.66L1766.2 178.58L1767.2 178.49L1768.2 178.4L1769.2 178.31L1770.2 178.22L1771.2 178.13L1772.2 178.03L1773.2 177.94L1774.2 177.85L1775.2 177.76L1776.2 177.68L1777.2 177.59L1778.2 177.51L1779.2 177.44L1780.2 177.37L1781.2 177.3L1782.2 177.24L1783.2 177.18L1784.2 177.13L1785.2 177.08L1786.2 177.03L1787.2 176.99L1788.2 176.95L1789.2 176.91L1790.2 176.87L1791.2 176.84L1792.2 176.81L1793.2 176.79L1794.2 176.76L1795.2 176.74L1796.2 176.72L1797.2 176.7L1798.2 176.68L1799.2 176.66L1800.2 176.64L1801.2 176.62L1802.2 176.61L1803.2 176.59L1804.2 176.58L1805.2 176.56L1806.2 176.55L1807.2 176.53L1808.2 176.52L1809.2 176.5L1810.2 176.49L1811.2 176.47L1812.2 176.46L1813.2 176.44L1814.2 176.43L1815.2 176.42L1816.2 176.4L1817.2 176.39L1818.2 176.37L1819.2 176.36L1820.2 176.35L1821.2 176.33" fill="none" stroke="#b3282d" stroke-width="1.7" stroke-linejoin="round"/>
<rect x="1829.8" y="56.9" width="133.5" height="127.7" fill="none" stroke="#000" stroke-width="1.7"/>
<path d="M1825.6 155.5L1829.8 155.5" stroke="#000" stroke-width="1.5"/>
<path d="M1825.6 124.9L1829.8 124.9" stroke="#000" stroke-width="1.5"/>
<path d="M1825.6 94.3L1829.8 94.3" stroke="#000" stroke-width="1.5"/>
<path d="M1825.6 63.7L1829.8 63.7" stroke="#000" stroke-width="1.5"/>
<path d="M1829.8 184.6L1829.8 190.1" stroke="#000" stroke-width="1.5"/>
<path d="M1896.55 184.6L1896.55 190.1" stroke="#000" stroke-width="1.5"/>
<path d="M1963.3 184.6L1963.3 190.1" stroke="#000" stroke-width="1.5"/>
<path d="M1830.8 178.16L1831.8 178.15L1832.8 178.14L1833.8 178.13L1834.8 178.12L1835.8 178.11L1836.8 178.1L1837.8 178.09L1838.8 178.08L1839.8 178.06L1840.8 178.05L1841.8 178.04L1842.8 178.02L1843.8 178L1844.8 177.99L1845.8 177.97L1846.8 177.95L1847.8 177.93L1848.8 177.91L1849.8 177.89L1850.8 177.86L1851.8 177.84L1852.8 177.81L1853.8 177.78L1854.8 177.75L1855.8 177.72L1856.8 177.68L1857.8 177.64L1858.8 177.6L1859.8 177.56L1860.8 177.51L1861.8 177.46L1862.8 177.4L1863.8 177.34L1864.8 177.27L1865.8 177.2L1866.8 177.11L1867.8 177.01L1868.8 176.9L1869.8 176.77L1870.8 176.61L1871.8 176.42L1872.8 176.17L1873.8 175.85L1874.8 175.44L1875.8 174.89L1876.8 174.18L1877.8 173.25L1878.8 172.04L1879.8 170.5L1880.8 168.54L1881.8 166.12L1882.8 163.15L1883.8 159.6L1884.8 155.45L1885.8 150.68L1886.8 145.36L1887.8 139.55L1888.8 133.4L1889.8 127.09L1890.8 120.84L1891.8 114.93L1892.8 109.64L1893.8 105.28L1894.8 102.12L1895.8 100.4L1896.8 100.24L1897.8 101.66L1898.8 104.54L1899.8 108.68L1900.8 113.81L1901.8 119.63L1902.8 125.83L1903.8 132.15L1904.8 138.35L1905.8 144.23L1906.8 149.66L1907.8 154.54L1908.8 158.82L1909.8 162.49L1910.8 165.57L1911.8 168.1L1912.8 170.14L1913.8 171.76L1914.8 173.03L1915.8 174.01L1916.8 174.77L1917.8 175.34L1918.8 175.78L1919.8 176.11L1920.8 176.37L1921.8 176.58L1922.8 176.74L1923.8 176.88L1924.8 176.99L1925.8 177.09L1926.8 177.18L1927.8 177.26L1928.8 177.33L1929.8 177.39L1930.8 177.45L1931.8 177.5L1932.8 177.55L1933.8 177.59L1934.8 177.63L1935.8 177.67L1936.8 177.71L1937.8 177.74L1938.8 177.77L1939.8 177.8L1940.8 177.83L1941.8 177.86L1942.8 177.88L1943.8 177.9L1944.8 177.93L1945.8 177.95L1946.8 177.97L1947.8 177.98L1948.8 178L1949.8 178.02L1950.8 178.03L1951.8 178.05L1952.8 178.06L1953.8 178.07L1954.8 178.09L1955.8 178.1L1956.8 178.11L1957.8 178.12L1958.8 178.13L1959.8 178.14L1960.8 178.15L1961.8 178.16" fill="none" stroke="#6fd8c6" stroke-width="2" stroke-linejoin="round"/>
<path d="M1830.8 177.41L1831.8 177.4L1832.8 177.38L1833.8 177.37L1834.8 177.35L1835.8 177.34L1836.8 177.32L1837.8 177.3L1838.8 177.28L1839.8 177.26L1840.8 177.24L1841.8 177.22L1842.8 177.2L1843.8 177.18L1844.8 177.15L1845.8 177.12L1846.8 177.1L1847.8 177.07L1848.8 177.04L1849.8 177L1850.8 176.97L1851.8 176.93L1852.8 176.89L1853.8 176.84L1854.8 176.8L1855.8 176.75L1856.8 176.7L1857.8 176.64L1858.8 176.58L1859.8 176.51L1860.8 176.44L1861.8 176.36L1862.8 176.28L1863.8 176.19L1864.8 176.08L1865.8 175.97L1866.8 175.84L1867.8 175.69L1868.8 175.51L1869.8 175.3L1870.8 175.05L1871.8 174.72L1872.8 174.31L1873.8 173.78L1874.8 173.08L1875.8 172.18L1876.8 171L1877.8 169.47L1878.8 167.52L1879.8 165.04L1880.8 161.95L1881.8 158.15L1882.8 153.57L1883.8 148.15L1884.8 141.87L1885.8 134.75L1886.8 126.86L1887.8 118.33L1888.8 109.37L1889.8 100.22L1890.8 91.21L1891.8 82.72L1892.8 75.15L1893.8 68.92L1894.8 64.42L1895.8 61.97L1896.8 61.74L1897.8 63.76L1898.8 67.87L1899.8 73.78L1900.8 81.12L1901.8 89.46L1902.8 98.39L1903.8 107.54L1904.8 116.57L1905.8 125.2L1906.8 133.23L1907.8 140.51L1908.8 146.96L1909.8 152.55L1910.8 157.3L1911.8 161.25L1912.8 164.47L1913.8 167.07L1914.8 169.12L1915.8 170.73L1916.8 171.97L1917.8 172.92L1918.8 173.65L1919.8 174.21L1920.8 174.65L1921.8 174.99L1922.8 175.26L1923.8 175.48L1924.8 175.66L1925.8 175.81L1926.8 175.94L1927.8 176.06L1928.8 176.17L1929.8 176.26L1930.8 176.35L1931.8 176.43L1932.8 176.5L1933.8 176.56L1934.8 176.63L1935.8 176.68L1936.8 176.74L1937.8 176.79L1938.8 176.84L1939.8 176.88L1940.8 176.92L1941.8 176.96L1942.8 176.99L1943.8 177.03L1944.8 177.06L1945.8 177.09L1946.8 177.12L1947.8 177.15L1948.8 177.17L1949.8 177.2L1950.8 177.22L1951.8 177.24L1952.8 177.26L1953.8 177.28L1954.8 177.3L1955.8 177.32L1956.8 177.33L1957.8 177.35L1958.8 177.36L1959.8 177.38L1960.8 177.39L1961.8 177.41" fill="none" stroke="#b3282d" stroke-width="1.7" stroke-linejoin="round"/>
<rect x="1970.6" y="56.9" width="133.3" height="127.7" fill="none" stroke="#000" stroke-width="1.7"/>
<path d="M1966.4 155.5L1970.6 155.5" stroke="#000" stroke-width="1.5"/>
<path d="M1966.4 124.9L1970.6 124.9" stroke="#000" stroke-width="1.5"/>
<path d="M1966.4 94.3L1970.6 94.3" stroke="#000" stroke-width="1.5"/>
<path d="M1966.4 63.7L1970.6 63.7" stroke="#000" stroke-width="1.5"/>
<path d="M1970.6 184.6L1970.6 190.1" stroke="#000" stroke-width="1.5"/>
<path d="M2037.25 184.6L2037.25 190.1" stroke="#000" stroke-width="1.5"/>
<path d="M2103.9 184.6L2103.9 190.1" stroke="#000" stroke-width="1.5"/>
<path d="M1971.6 178.9L1972.6 178.9L1973.6 178.89L1974.6 178.89L1975.6 178.88L1976.6 178.88L1977.6 178.87L1978.6 178.87L1979.6 178.86L1980.6 178.85L1981.6 178.84L1982.6 178.84L1983.6 178.83L1984.6 178.82L1985.6 178.81L1986.6 178.8L1987.6 178.79L1988.6 178.78L1989.6 178.77L1990.6 178.76L1991.6 178.75L1992.6 178.73L1993.6 178.72L1994.6 178.7L1995.6 178.69L1996.6 178.67L1997.6 178.65L1998.6 178.63L1999.6 178.61L2000.6 178.59L2001.6 178.56L2002.6 178.54L2003.6 178.51L2004.6 178.48L2005.6 178.45L2006.6 178.41L2007.6 178.37L2008.6 178.33L2009.6 178.29L2010.6 178.24L2011.6 178.19L2012.6 178.13L2013.6 178.06L2014.6 177.99L2015.6 177.92L2016.6 177.83L2017.6 177.74L2018.6 177.63L2019.6 177.52L2020.6 177.39L2021.6 177.26L2022.6 177.1L2023.6 176.94L2024.6 176.75L2025.6 176.55L2026.6 176.33L2027.6 176.09L2028.6 175.82L2029.6 175.51L2030.6 175.12L2031.6 174.6L2032.6 173.92L2033.6 173.06L2034.6 172.1L2035.6 171.21L2036.6 170.62L2037.6 170.52L2038.6 170.93L2039.6 171.72L2040.6 172.68L2041.6 173.59L2042.6 174.35L2043.6 174.93L2044.6 175.37L2045.6 175.7L2046.6 175.99L2047.6 176.24L2048.6 176.47L2049.6 176.67L2050.6 176.86L2051.6 177.04L2052.6 177.2L2053.6 177.34L2054.6 177.47L2055.6 177.59L2056.6 177.7L2057.6 177.79L2058.6 177.88L2059.6 177.96L2060.6 178.04L2061.6 178.1L2062.6 178.16L2063.6 178.22L2064.6 178.27L2065.6 178.32L2066.6 178.36L2067.6 178.4L2068.6 178.43L2069.6 178.47L2070.6 178.5L2071.6 178.53L2072.6 178.55L2073.6 178.58L2074.6 178.6L2075.6 178.62L2076.6 178.64L2077.6 178.66L2078.6 178.68L2079.6 178.7L2080.6 178.71L2081.6 178.73L2082.6 178.74L2083.6 178.75L2084.6 178.77L2085.6 178.78L2086.6 178.79L2087.6 178.8L2088.6 178.81L2089.6 178.82L2090.6 178.83L2091.6 178.83L2092.6 178.84L2093.6 178.85L2094.6 178.86L2095.6 178.86L2096.6 178.87L2097.6 178.88L2098.6 178.88L2099.6 178.89L2100.6 178.89L2101.6 178.9L2102.6 178.9" fill="none" stroke="#6fd8c6" stroke-width="2" stroke-linejoin="round"/>
<path d="M1971.6 178.27L1972.6 178.27L1973.6 178.26L1974.6 178.26L1975.6 178.25L1976.6 178.24L1977.6 178.24L1978.6 178.23L1979.6 178.22L1980.6 178.21L1981.6 178.21L1982.6 178.2L1983.6 178.19L1984.6 178.18L1985.6 178.17L1986.6 178.16L1987.6 178.15L1988.6 178.13L1989.6 178.12L1990.6 178.11L1991.6 178.09L1992.6 178.08L1993.6 178.06L1994.6 178.05L1995.6 178.03L1996.6 178.01L1997.6 177.99L1998.6 177.97L1999.6 177.94L2000.6 177.92L2001.6 177.89L2002.6 177.86L2003.6 177.83L2004.6 177.8L2005.6 177.76L2006.6 177.72L2007.6 177.68L2008.6 177.63L2009.6 177.58L2010.6 177.52L2011.6 177.46L2012.6 177.4L2013.6 177.33L2014.6 177.25L2015.6 177.16L2016.6 177.06L2017.6 176.96L2018.6 176.84L2019.6 176.72L2020.6 176.57L2021.6 176.42L2022.6 176.25L2023.6 176.06L2024.6 175.85L2025.6 175.63L2026.6 175.38L2027.6 175.1L2028.6 174.79L2029.6 174.41L2030.6 173.9L2031.6 173.19L2032.6 172.18L2033.6 170.86L2034.6 169.36L2035.6 167.96L2036.6 167.03L2037.6 166.86L2038.6 167.51L2039.6 168.77L2040.6 170.27L2041.6 171.69L2042.6 172.82L2043.6 173.65L2044.6 174.23L2045.6 174.65L2046.6 174.98L2047.6 175.27L2048.6 175.53L2049.6 175.76L2050.6 175.98L2051.6 176.17L2052.6 176.35L2053.6 176.51L2054.6 176.66L2055.6 176.79L2056.6 176.91L2057.6 177.02L2058.6 177.12L2059.6 177.21L2060.6 177.3L2061.6 177.37L2062.6 177.44L2063.6 177.5L2064.6 177.56L2065.6 177.61L2066.6 177.66L2067.6 177.7L2068.6 177.74L2069.6 177.78L2070.6 177.82L2071.6 177.85L2072.6 177.88L2073.6 177.91L2074.6 177.93L2075.6 177.96L2076.6 177.98L2077.6 178L2078.6 178.02L2079.6 178.04L2080.6 178.06L2081.6 178.07L2082.6 178.09L2083.6 178.1L2084.6 178.12L2085.6 178.13L2086.6 178.14L2087.6 178.15L2088.6 178.16L2089.6 178.17L2090.6 178.18L2091.6 178.19L2092.6 178.2L2093.6 178.21L2094.6 178.22L2095.6 178.23L2096.6 178.23L2097.6 178.24L2098.6 178.25L2099.6 178.25L2100.6 178.26L2101.6 178.26L2102.6 178.27" fill="none" stroke="#b3282d" stroke-width="1.7" stroke-linejoin="round"/>
<text x="1543.6" y="164.1" font-size="24.6" text-anchor="end">50</text>
<text x="1543.6" y="133.5" font-size="24.6" text-anchor="end">100</text>
<text x="1543.6" y="102.9" font-size="24.6" text-anchor="end">150</text>
<text x="1543.6" y="72.3" font-size="24.6" text-anchor="end">200</text>
<text x="1496.4" y="136" font-size="24.91" transform="rotate(-90 1496.4 136)" textLength="73.24" lengthAdjust="spacingAndGlyphs">RPKM</text>
<text x="1524.24" y="213" font-size="19.05" textLength="34.02" lengthAdjust="spacingAndGlyphs">-5.0</text>
<text x="1579.96" y="213" font-size="19.69" textLength="60.07" lengthAdjust="spacingAndGlyphs">Center</text>
<text x="1651.77" y="213" font-size="18.16" textLength="26.45" lengthAdjust="spacingAndGlyphs">5.0</text>
<text x="1677.93" y="213" font-size="20.51" textLength="36.64" lengthAdjust="spacingAndGlyphs">-5.0</text>
<text x="1724.22" y="213" font-size="19.52" textLength="59.56" lengthAdjust="spacingAndGlyphs">Center</text>
<text x="1798.02" y="213" font-size="18.16" textLength="26.45" lengthAdjust="spacingAndGlyphs">5.0</text>
<text x="1824.27" y="213" font-size="18.32" textLength="32.72" lengthAdjust="spacingAndGlyphs">-5.0</text>
<text x="1869.72" y="213" font-size="19.62" textLength="59.87" lengthAdjust="spacingAndGlyphs">Center</text>
<text x="1938.07" y="213" font-size="18.31" textLength="26.66" lengthAdjust="spacingAndGlyphs">5.0</text>
<text x="1964.25" y="213" font-size="18.7" textLength="33.4" lengthAdjust="spacingAndGlyphs">-5.0</text>
<text x="2013.02" y="213" font-size="19.58" textLength="59.77" lengthAdjust="spacingAndGlyphs">Center</text>
<text x="2081.26" y="213" font-size="18.38" textLength="26.77" lengthAdjust="spacingAndGlyphs">5.0</text>
<text x="2116.44" y="213" font-size="18.93" textLength="21.31" lengthAdjust="spacingAndGlyphs">kb</text>
<text x="1541.86" y="987.9" font-size="18.58" textLength="33.19" lengthAdjust="spacingAndGlyphs">-5.0</text>
<text x="1588.51" y="987.9" font-size="19.85" textLength="60.59" lengthAdjust="spacingAndGlyphs">Center</text>
<text x="1659.51" y="987.9" font-size="17.29" textLength="25.18" lengthAdjust="spacingAndGlyphs">5.0</text>
<text x="1681.25" y="987.9" font-size="18.76" textLength="33.5" lengthAdjust="spacingAndGlyphs">-5.0</text>
<text x="1726.91" y="987.9" font-size="19.72" textLength="60.18" lengthAdjust="spacingAndGlyphs">Center</text>
<text x="1797.51" y="987.9" font-size="17.29" textLength="25.18" lengthAdjust="spacingAndGlyphs">5.0</text>
<text x="1823" y="987.9" font-size="19.99" textLength="35.7" lengthAdjust="spacingAndGlyphs">-5.0</text>
<text x="1870.71" y="987.9" font-size="19.69" textLength="60.07" lengthAdjust="spacingAndGlyphs">Center</text>
<text x="1941.74" y="987.9" font-size="16.57" textLength="24.13" lengthAdjust="spacingAndGlyphs">5.0</text>
<text x="1965.55" y="987.9" font-size="18.76" textLength="33.5" lengthAdjust="spacingAndGlyphs">-5.0</text>
<text x="2012.21" y="987.9" font-size="19.72" textLength="60.18" lengthAdjust="spacingAndGlyphs">Center</text>
<text x="2082.06" y="987.9" font-size="18.6" textLength="27.09" lengthAdjust="spacingAndGlyphs">5.0</text>
<text x="2112.06" y="987.9" font-size="18.55" textLength="20.88" lengthAdjust="spacingAndGlyphs">kb</text>
<path d="M1986.9 74L2008.8 74" stroke="#b3282d" stroke-width="1.8"/>
<text x="2011.46" y="81.6" font-size="23.57" textLength="71.89" lengthAdjust="spacingAndGlyphs">DMSO</text>
<path d="M1986.9 103.5L2008.8 103.5" stroke="#6fd8c6" stroke-width="2"/>
<text x="2011.45" y="109.4" font-size="23.68" textLength="77.49" lengthAdjust="spacingAndGlyphs">LS-170</text>
<g clip-path="url(#c56)"><rect x="1547.8" y="224.3" width="133.6" height="360.9" fill="url(#v57)"/><path d="M1569.6 221.3L1589.6 330.47L1599.6 439.64L1604.6 512.42L1609.6 585.2L1619.6 585.2L1624.6 512.42L1629.6 439.64L1639.6 330.47L1659.6 221.3Z" fill="url(#v58)" filter="url(#b59)"/><path d="M1592.6 221.3L1599.6 330.47L1605.1 439.64L1607.6 512.42L1610.1 585.2L1619.1 585.2L1621.6 512.42L1624.1 439.64L1629.6 330.47L1636.6 221.3Z" fill="url(#v60)" filter="url(#b61)"/><path d="M1539.6 221.3L1554.6 264.97L1576.6 330.47L1593.6 439.64L1601.6 512.42L1606.6 585.2L1622.6 585.2L1627.6 512.42L1635.6 439.64L1652.6 330.47L1674.6 264.97L1689.6 221.3Z" fill="url(#v62)" filter="url(#b63)"/><path d="M1588.6 221.3L1597.6 330.47L1604.1 439.64L1607.1 512.42L1610.1 585.2L1619.1 585.2L1622.1 512.42L1625.1 439.64L1631.6 330.47L1640.6 221.3Z" fill="url(#v64)" filter="url(#b65)"/><path d="M1544.6 221.3L1544.6 296.48L1684.6 296.48L1684.6 221.3Z" fill="url(#v66)" filter="url(#b67)"/></g>
<rect x="1547.8" y="224.3" width="133.6" height="360.9" fill="none" stroke="#000" stroke-width="1.7"/>
<g clip-path="url(#c68)"><rect x="1688.6" y="224.3" width="133.7" height="360.9" fill="url(#v69)"/><path d="M1730.45 221.3L1730.45 267.61L1780.45 267.61L1780.45 221.3Z" fill="url(#v70)" filter="url(#b59)"/></g>
<rect x="1688.6" y="224.3" width="133.7" height="360.9" fill="none" stroke="#000" stroke-width="1.7"/>
<g clip-path="url(#c71)"><rect x="1829.7" y="224.3" width="133.4" height="360.9" fill="url(#v72)"/><path d="M1878.4 221.3L1885.9 403.25L1891.9 585.2L1900.9 585.2L1906.9 403.25L1914.4 221.3Z" fill="url(#v73)" filter="url(#b6)"/><path d="M1885.9 221.3L1889.4 403.25L1891.15 494.23L1893.4 585.2L1899.4 585.2L1901.65 494.23L1903.4 403.25L1906.9 221.3Z" fill="url(#v74)" filter="url(#b75)"/><path d="M1889.65 221.3L1892.65 388.81L1893.9 472.57L1895.4 556.33L1897.4 556.33L1898.9 472.57L1900.15 388.81L1903.15 221.3Z" fill="url(#v76)" filter="url(#b38)"/></g>
<rect x="1829.7" y="224.3" width="133.4" height="360.9" fill="none" stroke="#000" stroke-width="1.7"/>
<g clip-path="url(#c77)"><rect x="1970.5" y="224.3" width="133.6" height="360.9" fill="url(#v78)"/><path d="M1967.3 221.3L1967.3 325.35L2107.3 325.35L2107.3 221.3Z" fill="url(#v79)" filter="url(#b80)"/><path d="M2034.85 239.35L2035.6 531.07L2039.6 531.07L2040.35 239.35Z" fill="url(#v81)" filter="url(#b38)"/></g>
<rect x="1970.5" y="224.3" width="133.6" height="360.9" fill="none" stroke="#000" stroke-width="1.7"/>
<g clip-path="url(#c82)"><rect x="1547.8" y="600.3" width="133.6" height="361.4" fill="url(#v83)"/><path d="M1569.6 597.3L1589.6 706.62L1599.6 815.94L1604.6 888.82L1609.6 961.7L1619.6 961.7L1624.6 888.82L1629.6 815.94L1639.6 706.62L1659.6 597.3Z" fill="url(#v84)" filter="url(#b59)"/><path d="M1592.6 597.3L1599.6 706.62L1605.1 815.94L1607.6 888.82L1610.1 961.7L1619.1 961.7L1621.6 888.82L1624.1 815.94L1629.6 706.62L1636.6 597.3Z" fill="url(#v85)" filter="url(#b61)"/><path d="M1539.6 597.3L1554.6 641.03L1576.6 706.62L1593.6 815.94L1601.6 888.82L1606.6 961.7L1622.6 961.7L1627.6 888.82L1635.6 815.94L1652.6 706.62L1674.6 641.03L1689.6 597.3Z" fill="url(#v86)" filter="url(#b87)"/><path d="M1588.6 597.3L1597.6 706.62L1604.1 815.94L1607.1 888.82L1610.1 961.7L1619.1 961.7L1622.1 888.82L1625.1 815.94L1631.6 706.62L1640.6 597.3Z" fill="url(#v88)" filter="url(#b89)"/><path d="M1544.6 597.3L1544.6 672.58L1684.6 672.58L1684.6 597.3Z" fill="url(#v90)" filter="url(#b91)"/></g>
<rect x="1547.8" y="600.3" width="133.6" height="361.4" fill="none" stroke="#000" stroke-width="1.7"/>
<g clip-path="url(#c92)"><rect x="1688.6" y="600.3" width="133.7" height="361.4" fill="url(#v93)"/><path d="M1730.45 597.3L1730.45 643.67L1780.45 643.67L1780.45 597.3Z" fill="url(#v94)" filter="url(#b59)"/></g>
<rect x="1688.6" y="600.3" width="133.7" height="361.4" fill="none" stroke="#000" stroke-width="1.7"/>
<g clip-path="url(#c95)"><rect x="1829.7" y="600.3" width="133.4" height="361.4" fill="url(#v96)"/><path d="M1878.4 597.3L1885.9 779.5L1891.9 961.7L1900.9 961.7L1906.9 779.5L1914.4 597.3Z" fill="url(#v97)" filter="url(#b6)"/><path d="M1885.9 597.3L1889.4 779.5L1891.15 870.6L1893.4 961.7L1899.4 961.7L1901.65 870.6L1903.4 779.5L1906.9 597.3Z" fill="url(#v98)" filter="url(#b75)"/><path d="M1889.65 597.3L1892.65 765.04L1893.9 848.92L1895.4 932.79L1897.4 932.79L1898.9 848.92L1900.15 765.04L1903.15 597.3Z" fill="url(#v99)" filter="url(#b38)"/></g>
<rect x="1829.7" y="600.3" width="133.4" height="361.4" fill="none" stroke="#000" stroke-width="1.7"/>
<g clip-path="url(#c100)"><rect x="1970.5" y="600.3" width="133.6" height="361.4" fill="url(#v101)"/><path d="M1967.3 597.3L1967.3 701.49L2107.3 701.49L2107.3 597.3Z" fill="url(#v102)" filter="url(#b103)"/><path d="M2034.85 615.37L2035.6 907.49L2039.6 907.49L2040.35 615.37Z" fill="url(#v104)" filter="url(#b38)"/></g>
<rect x="1970.5" y="600.3" width="133.6" height="361.4" fill="none" stroke="#000" stroke-width="1.7"/>
<path d="M1547.8 961.7L1547.8 967.2" stroke="#000" stroke-width="1.5"/>
<path d="M1614.6 961.7L1614.6 967.2" stroke="#000" stroke-width="1.5"/>
<path d="M1681.4 961.7L1681.4 967.2" stroke="#000" stroke-width="1.5"/>
<path d="M1688.6 961.7L1688.6 967.2" stroke="#000" stroke-width="1.5"/>
<path d="M1755.45 961.7L1755.45 967.2" stroke="#000" stroke-width="1.5"/>
<path d="M1822.3 961.7L1822.3 967.2" stroke="#000" stroke-width="1.5"/>
<path d="M1829.7 961.7L1829.7 967.2" stroke="#000" stroke-width="1.5"/>
<path d="M1896.4 961.7L1896.4 967.2" stroke="#000" stroke-width="1.5"/>
<path d="M1963.1 961.7L1963.1 967.2" stroke="#000" stroke-width="1.5"/>
<path d="M1970.5 961.7L1970.5 967.2" stroke="#000" stroke-width="1.5"/>
<path d="M2037.3 961.7L2037.3 967.2" stroke="#000" stroke-width="1.5"/>
<path d="M2104.1 961.7L2104.1 967.2" stroke="#000" stroke-width="1.5"/>
<rect x="2110.2" y="224.3" width="13.7" height="737.4" fill="url(#v105)" stroke="#000" stroke-width="1.3"/>
<path d="M2123.9 961.2L2128 961.2" stroke="#000" stroke-width="1.4"/>
<text x="2129" y="969" font-size="21.6">0</text>
<path d="M2123.9 866.6L2128 866.6" stroke="#000" stroke-width="1.4"/>
<text x="2129" y="874.4" font-size="21.6">25</text>
<path d="M2123.9 772L2128 772" stroke="#000" stroke-width="1.4"/>
<text x="2129" y="779.8" font-size="21.6">50</text>
<path d="M2123.9 677.4L2128 677.4" stroke="#000" stroke-width="1.4"/>
<text x="2129" y="685.2" font-size="21.6">75</text>
<path d="M2123.9 582.8L2128 582.8" stroke="#000" stroke-width="1.4"/>
<text x="2129" y="590.6" font-size="21.6">100</text>
<path d="M2123.9 488.2L2128 488.2" stroke="#000" stroke-width="1.4"/>
<text x="2129" y="496" font-size="21.6">125</text>
<path d="M2123.9 393.6L2128 393.6" stroke="#000" stroke-width="1.4"/>
<text x="2129" y="401.4" font-size="21.6">150</text>
<path d="M2123.9 299L2128 299" stroke="#000" stroke-width="1.4"/>
<text x="2129" y="306.8" font-size="21.6">175</text>
<text x="1542" y="439.31" font-size="25.25" transform="rotate(-90 1542 439.31)" textLength="77.02" lengthAdjust="spacingAndGlyphs">DMSO</text>
<text x="1542" y="823.03" font-size="25.68" transform="rotate(-90 1542 823.03)" textLength="84.05" lengthAdjust="spacingAndGlyphs">LS-170</text>
<text x="0.7" y="1026" font-size="32" font-weight="bold">d</text>
<text x="128.4" y="1104" font-size="27.53" textLength="52.2" lengthAdjust="spacingAndGlyphs">Low</text>
<text x="245.15" y="1104" font-size="27.56" textLength="91.7" lengthAdjust="spacingAndGlyphs">Median</text>
<text x="399.66" y="1104" font-size="27.26" textLength="57.68" lengthAdjust="spacingAndGlyphs">High</text>
<text x="523.89" y="1104" font-size="27.7" textLength="95.22" lengthAdjust="spacingAndGlyphs">Highest</text>
<rect x="83.3" y="1113" width="131.2" height="125.6" fill="none" stroke="#000" stroke-width="1.7"/>
<path d="M77.8 1235.5L83.3 1235.5" stroke="#000" stroke-width="1.5"/>
<path d="M77.8 1189.6L83.3 1189.6" stroke="#000" stroke-width="1.5"/>
<path d="M77.8 1143.7L83.3 1143.7" stroke="#000" stroke-width="1.5"/>
<path d="M83.3 1238.6L83.3 1244.1" stroke="#000" stroke-width="1.5"/>
<path d="M148.9 1238.6L148.9 1244.1" stroke="#000" stroke-width="1.5"/>
<path d="M214.5 1238.6L214.5 1244.1" stroke="#000" stroke-width="1.5"/>
<path d="M84.3 1233.2L85.05 1233.2L85.8 1233.2L86.55 1233.2L87.3 1233.2L88.05 1233.2L88.8 1233.2L89.55 1233.2L90.3 1233.2L91.05 1233.2L91.8 1233.2L92.55 1233.2L93.3 1233.2L94.05 1233.2L94.8 1233.2L95.55 1233.2L96.3 1233.2L97.05 1233.2L97.8 1233.2L98.55 1233.2L99.3 1233.2L100.05 1233.2L100.8 1233.2L101.55 1233.2L102.3 1233.2L103.05 1233.2L103.8 1233.2L104.55 1233.2L105.3 1233.2L106.05 1233.2L106.8 1233.2L107.55 1233.2L108.3 1233.2L109.05 1233.2L109.8 1233.2L110.55 1233.2L111.3 1233.2L112.05 1233.2L112.8 1233.2L113.55 1233.2L114.3 1233.2L115.05 1233.2L115.8 1233.2L116.55 1233.2L117.3 1233.2L118.05 1233.2L118.8 1233.2L119.55 1233.2L120.3 1233.2L121.05 1233.2L121.8 1233.2L122.55 1233.2L123.3 1233.2L124.05 1233.2L124.8 1233.2L125.55 1233.2L126.3 1233.2L127.05 1233.2L127.8 1233.2L128.55 1233.19L129.3 1233.19L130.05 1233.19L130.8 1233.18L131.55 1233.18L132.3 1233.17L133.05 1233.17L133.8 1233.16L134.55 1233.15L135.3 1233.14L136.05 1233.13L136.8 1233.12L137.55 1233.1L138.3 1233.09L139.05 1233.07L139.8 1233.05L140.55 1233.03L141.3 1233L142.05 1232.98L142.8 1232.95L143.55 1232.93L144.3 1232.9L145.05 1232.87L145.8 1232.84L146.55 1232.81L147.3 1232.77L148.05 1232.74L148.8 1232.71L149.55 1232.68L150.3 1232.65L151.05 1232.63L151.8 1232.6L152.55 1232.58L153.3 1232.56L154.05 1232.55L154.8 1232.53L155.55 1232.52L156.3 1232.52L157.05 1232.52L157.8 1232.52L158.55 1232.52L159.3 1232.53L160.05 1232.55L160.8 1232.56L161.55 1232.58L162.3 1232.61L163.05 1232.63L163.8 1232.66L164.55 1232.69L165.3 1232.72L166.05 1232.75L166.8 1232.78L167.55 1232.81L168.3 1232.84L169.05 1232.87L169.8 1232.9L170.55 1232.93L171.3 1232.96L172.05 1232.98L172.8 1233.01L173.55 1233.03L174.3 1233.05L175.05 1233.07L175.8 1233.09L176.55 1233.1L177.3 1233.12L178.05 1233.13L178.8 1233.14L179.55 1233.15L180.3 1233.16L181.05 1233.17L181.8 1233.17L182.55 1233.18L183.3 1233.18L184.05 1233.19L184.8 1233.19L185.55 1233.19L186.3 1233.2L187.05 1233.2L187.8 1233.2L188.55 1233.2L189.3 1233.2L190.05 1233.2L190.8 1233.2L191.55 1233.2L192.3 1233.2L193.05 1233.2L193.8 1233.2L194.55 1233.2L195.3 1233.2L196.05 1233.2L196.8 1233.2L197.55 1233.2L198.3 1233.2L199.05 1233.2L199.8 1233.2L200.55 1233.2L201.3 1233.2L202.05 1233.2L202.8 1233.2L203.55 1233.2L204.3 1233.2L205.05 1233.2L205.8 1233.2L206.55 1233.2L207.3 1233.2L208.05 1233.2L208.8 1233.2L209.55 1233.2L210.3 1233.2L211.05 1233.2L211.8 1233.2L212.55 1233.2L213.3 1233.2" fill="none" stroke="#6fd8c6" stroke-width="2" stroke-linejoin="round"/>
<path d="M84.3 1232.98L85.05 1232.98L85.8 1232.98L86.55 1232.98L87.3 1232.98L88.05 1232.98L88.8 1232.98L89.55 1232.98L90.3 1232.98L91.05 1232.98L91.8 1232.98L92.55 1232.98L93.3 1232.98L94.05 1232.98L94.8 1232.98L95.55 1232.98L96.3 1232.98L97.05 1232.98L97.8 1232.98L98.55 1232.98L99.3 1232.98L100.05 1232.98L100.8 1232.98L101.55 1232.98L102.3 1232.98L103.05 1232.98L103.8 1232.98L104.55 1232.98L105.3 1232.98L106.05 1232.98L106.8 1232.98L107.55 1232.98L108.3 1232.98L109.05 1232.97L109.8 1232.97L110.55 1232.97L111.3 1232.97L112.05 1232.97L112.8 1232.97L113.55 1232.97L114.3 1232.97L115.05 1232.97L115.8 1232.97L116.55 1232.96L117.3 1232.96L118.05 1232.95L118.8 1232.95L119.55 1232.94L120.3 1232.93L121.05 1232.92L121.8 1232.91L122.55 1232.89L123.3 1232.87L124.05 1232.85L124.8 1232.82L125.55 1232.8L126.3 1232.76L127.05 1232.73L127.8 1232.69L128.55 1232.65L129.3 1232.6L130.05 1232.55L130.8 1232.5L131.55 1232.45L132.3 1232.4L133.05 1232.35L133.8 1232.3L134.55 1232.25L135.3 1232.2L136.05 1232.16L136.8 1232.13L137.55 1232.1L138.3 1232.08L139.05 1232.06L139.8 1232.06L140.55 1232.06L141.3 1232.07L142.05 1232.09L142.8 1232.13L143.55 1232.18L144.3 1232.24L145.05 1232.32L145.8 1232.41L146.55 1232.51L147.3 1232.59L148.05 1232.63L148.8 1232.61L149.55 1232.52L150.3 1232.35L151.05 1232.13L151.8 1231.88L152.55 1231.61L153.3 1231.35L154.05 1231.13L154.8 1230.95L155.55 1230.84L156.3 1230.8L157.05 1230.82L157.8 1230.84L158.55 1230.87L159.3 1230.9L160.05 1230.94L160.8 1230.97L161.55 1231.02L162.3 1231.06L163.05 1231.11L163.8 1231.16L164.55 1231.22L165.3 1231.27L166.05 1231.33L166.8 1231.4L167.55 1231.46L168.3 1231.53L169.05 1231.59L169.8 1231.66L170.55 1231.73L171.3 1231.79L172.05 1231.86L172.8 1231.93L173.55 1231.99L174.3 1232.05L175.05 1232.12L175.8 1232.18L176.55 1232.23L177.3 1232.29L178.05 1232.34L178.8 1232.39L179.55 1232.44L180.3 1232.49L181.05 1232.53L181.8 1232.57L182.55 1232.61L183.3 1232.64L184.05 1232.68L184.8 1232.71L185.55 1232.74L186.3 1232.76L187.05 1232.78L187.8 1232.81L188.55 1232.83L189.3 1232.84L190.05 1232.86L190.8 1232.87L191.55 1232.89L192.3 1232.9L193.05 1232.91L193.8 1232.92L194.55 1232.92L195.3 1232.93L196.05 1232.94L196.8 1232.94L197.55 1232.95L198.3 1232.95L199.05 1232.96L199.8 1232.96L200.55 1232.96L201.3 1232.96L202.05 1232.97L202.8 1232.97L203.55 1232.97L204.3 1232.97L205.05 1232.97L205.8 1232.97L206.55 1232.97L207.3 1232.97L208.05 1232.97L208.8 1232.97L209.55 1232.97L210.3 1232.97L211.05 1232.97L211.8 1232.97L212.55 1232.97L213.3 1232.97" fill="none" stroke="#b3282d" stroke-width="1.7" stroke-linejoin="round"/>
<rect x="222.6" y="1113" width="131.9" height="125.6" fill="none" stroke="#000" stroke-width="1.7"/>
<path d="M218.4 1235.5L222.6 1235.5" stroke="#000" stroke-width="1.5"/>
<path d="M218.4 1189.6L222.6 1189.6" stroke="#000" stroke-width="1.5"/>
<path d="M218.4 1143.7L222.6 1143.7" stroke="#000" stroke-width="1.5"/>
<path d="M222.6 1238.6L222.6 1244.1" stroke="#000" stroke-width="1.5"/>
<path d="M288.55 1238.6L288.55 1244.1" stroke="#000" stroke-width="1.5"/>
<path d="M354.5 1238.6L354.5 1244.1" stroke="#000" stroke-width="1.5"/>
<path d="M223.6 1233.03L224.35 1233.03L225.1 1233.03L225.85 1233.03L226.6 1233.03L227.35 1233.03L228.1 1233.02L228.85 1233.02L229.6 1233.02L230.35 1233.02L231.1 1233.02L231.85 1233.02L232.6 1233.01L233.35 1233.01L234.1 1233.01L234.85 1233.01L235.6 1233.01L236.35 1233L237.1 1233L237.85 1233L238.6 1233L239.35 1232.99L240.1 1232.99L240.85 1232.99L241.6 1232.99L242.35 1232.98L243.1 1232.98L243.85 1232.98L244.6 1232.97L245.35 1232.97L246.1 1232.97L246.85 1232.96L247.6 1232.96L248.35 1232.95L249.1 1232.95L249.85 1232.94L250.6 1232.94L251.35 1232.93L252.1 1232.93L252.85 1232.92L253.6 1232.92L254.35 1232.91L255.1 1232.9L255.85 1232.9L256.6 1232.89L257.35 1232.88L258.1 1232.87L258.85 1232.86L259.6 1232.85L260.35 1232.84L261.1 1232.83L261.85 1232.82L262.6 1232.8L263.35 1232.79L264.1 1232.77L264.85 1232.75L265.6 1232.73L266.35 1232.7L267.1 1232.67L267.85 1232.64L268.6 1232.6L269.35 1232.56L270.1 1232.51L270.85 1232.46L271.6 1232.39L272.35 1232.32L273.1 1232.24L273.85 1232.15L274.6 1232.04L275.35 1231.93L276.1 1231.8L276.85 1231.66L277.6 1231.51L278.35 1231.34L279.1 1231.16L279.85 1230.97L280.6 1230.76L281.35 1230.54L282.1 1230.31L282.85 1230.05L283.6 1229.78L284.35 1229.48L285.1 1229.16L285.85 1228.79L286.6 1228.36L287.35 1227.85L288.1 1227.24L288.85 1226.5L289.6 1225.62L290.35 1224.62L291.1 1223.63L291.85 1222.91L292.6 1222.74L293.35 1223.24L294.1 1224.23L294.85 1225.39L295.6 1226.5L296.35 1227.48L297.1 1228.29L297.85 1228.96L298.6 1229.51L299.35 1229.97L300.1 1230.35L300.85 1230.68L301.6 1230.96L302.35 1231.2L303.1 1231.41L303.85 1231.59L304.6 1231.75L305.35 1231.88L306.1 1232L306.85 1232.11L307.6 1232.2L308.35 1232.28L309.1 1232.35L309.85 1232.41L310.6 1232.46L311.35 1232.51L312.1 1232.55L312.85 1232.59L313.6 1232.62L314.35 1232.65L315.1 1232.68L315.85 1232.7L316.6 1232.72L317.35 1232.74L318.1 1232.76L318.85 1232.77L319.6 1232.79L320.35 1232.8L321.1 1232.82L321.85 1232.83L322.6 1232.84L323.35 1232.85L324.1 1232.86L324.85 1232.87L325.6 1232.88L326.35 1232.89L327.1 1232.89L327.85 1232.9L328.6 1232.91L329.35 1232.91L330.1 1232.92L330.85 1232.93L331.6 1232.93L332.35 1232.94L333.1 1232.94L333.85 1232.95L334.6 1232.95L335.35 1232.96L336.1 1232.96L336.85 1232.96L337.6 1232.97L338.35 1232.97L339.1 1232.98L339.85 1232.98L340.6 1232.98L341.35 1232.98L342.1 1232.99L342.85 1232.99L343.6 1232.99L344.35 1233L345.1 1233L345.85 1233L346.6 1233L347.35 1233.01L348.1 1233.01L348.85 1233.01L349.6 1233.01L350.35 1233.01L351.1 1233.02L351.85 1233.02L352.6 1233.02L353.35 1233.02" fill="none" stroke="#6fd8c6" stroke-width="2" stroke-linejoin="round"/>
<path d="M223.6 1232.9L224.35 1232.9L225.1 1232.89L225.85 1232.89L226.6 1232.89L227.35 1232.89L228.1 1232.89L228.85 1232.88L229.6 1232.88L230.35 1232.88L231.1 1232.88L231.85 1232.88L232.6 1232.87L233.35 1232.87L234.1 1232.87L234.85 1232.86L235.6 1232.86L236.35 1232.86L237.1 1232.86L237.85 1232.85L238.6 1232.85L239.35 1232.85L240.1 1232.84L240.85 1232.84L241.6 1232.83L242.35 1232.83L243.1 1232.83L243.85 1232.82L244.6 1232.82L245.35 1232.81L246.1 1232.81L246.85 1232.8L247.6 1232.8L248.35 1232.79L249.1 1232.78L249.85 1232.78L250.6 1232.77L251.35 1232.76L252.1 1232.76L252.85 1232.75L253.6 1232.74L254.35 1232.73L255.1 1232.72L255.85 1232.71L256.6 1232.7L257.35 1232.69L258.1 1232.68L258.85 1232.67L259.6 1232.65L260.35 1232.64L261.1 1232.62L261.85 1232.61L262.6 1232.59L263.35 1232.57L264.1 1232.54L264.85 1232.51L265.6 1232.48L266.35 1232.44L267.1 1232.4L267.85 1232.35L268.6 1232.29L269.35 1232.22L270.1 1232.13L270.85 1232.03L271.6 1231.91L272.35 1231.78L273.1 1231.62L273.85 1231.44L274.6 1231.23L275.35 1231L276.1 1230.73L276.85 1230.44L277.6 1230.13L278.35 1229.79L279.1 1229.42L279.85 1229.04L280.6 1228.63L281.35 1228.21L282.1 1227.78L282.85 1227.33L283.6 1226.86L284.35 1226.37L285.1 1225.84L285.85 1225.25L286.6 1224.57L287.35 1223.75L288.1 1222.74L288.85 1221.48L289.6 1219.95L290.35 1218.28L291.1 1216.83L291.85 1216.21L292.6 1216.85L293.35 1218.53L294.1 1220.64L294.85 1222.68L295.6 1224.42L296.35 1225.85L297.1 1226.99L297.85 1227.91L298.6 1228.66L299.35 1229.27L300.1 1229.77L300.85 1230.19L301.6 1230.53L302.35 1230.83L303.1 1231.07L303.85 1231.28L304.6 1231.46L305.35 1231.61L306.1 1231.73L306.85 1231.84L307.6 1231.94L308.35 1232.02L309.1 1232.09L309.85 1232.15L310.6 1232.21L311.35 1232.26L312.1 1232.3L312.85 1232.34L313.6 1232.38L314.35 1232.41L315.1 1232.44L315.85 1232.47L316.6 1232.49L317.35 1232.52L318.1 1232.54L318.85 1232.56L319.6 1232.58L320.35 1232.6L321.1 1232.61L321.85 1232.63L322.6 1232.64L323.35 1232.66L324.1 1232.67L324.85 1232.68L325.6 1232.69L326.35 1232.7L327.1 1232.71L327.85 1232.72L328.6 1232.73L329.35 1232.74L330.1 1232.75L330.85 1232.76L331.6 1232.77L332.35 1232.77L333.1 1232.78L333.85 1232.79L334.6 1232.79L335.35 1232.8L336.1 1232.8L336.85 1232.81L337.6 1232.81L338.35 1232.82L339.1 1232.82L339.85 1232.83L340.6 1232.83L341.35 1232.84L342.1 1232.84L342.85 1232.84L343.6 1232.85L344.35 1232.85L345.1 1232.85L345.85 1232.86L346.6 1232.86L347.35 1232.86L348.1 1232.87L348.85 1232.87L349.6 1232.87L350.35 1232.87L351.1 1232.88L351.85 1232.88L352.6 1232.88L353.35 1232.88" fill="none" stroke="#b3282d" stroke-width="1.7" stroke-linejoin="round"/>
<rect x="362.6" y="1113" width="131.6" height="125.6" fill="none" stroke="#000" stroke-width="1.7"/>
<path d="M358.4 1235.5L362.6 1235.5" stroke="#000" stroke-width="1.5"/>
<path d="M358.4 1189.6L362.6 1189.6" stroke="#000" stroke-width="1.5"/>
<path d="M358.4 1143.7L362.6 1143.7" stroke="#000" stroke-width="1.5"/>
<path d="M362.6 1238.6L362.6 1244.1" stroke="#000" stroke-width="1.5"/>
<path d="M428.4 1238.6L428.4 1244.1" stroke="#000" stroke-width="1.5"/>
<path d="M494.2 1238.6L494.2 1244.1" stroke="#000" stroke-width="1.5"/>
<path d="M363.6 1232.95L364.35 1232.94L365.1 1232.94L365.85 1232.94L366.6 1232.93L367.35 1232.93L368.1 1232.93L368.85 1232.92L369.6 1232.92L370.35 1232.91L371.1 1232.91L371.85 1232.9L372.6 1232.9L373.35 1232.89L374.1 1232.89L374.85 1232.88L375.6 1232.88L376.35 1232.87L377.1 1232.87L377.85 1232.86L378.6 1232.85L379.35 1232.85L380.1 1232.84L380.85 1232.83L381.6 1232.82L382.35 1232.82L383.1 1232.81L383.85 1232.8L384.6 1232.79L385.35 1232.78L386.1 1232.77L386.85 1232.76L387.6 1232.75L388.35 1232.73L389.1 1232.72L389.85 1232.71L390.6 1232.69L391.35 1232.68L392.1 1232.66L392.85 1232.65L393.6 1232.63L394.35 1232.61L395.1 1232.59L395.85 1232.57L396.6 1232.55L397.35 1232.52L398.1 1232.5L398.85 1232.47L399.6 1232.44L400.35 1232.41L401.1 1232.38L401.85 1232.34L402.6 1232.31L403.35 1232.27L404.1 1232.22L404.85 1232.17L405.6 1232.12L406.35 1232.07L407.1 1232.01L407.85 1231.94L408.6 1231.87L409.35 1231.79L410.1 1231.7L410.85 1231.61L411.6 1231.5L412.35 1231.39L413.1 1231.26L413.85 1231.12L414.6 1230.96L415.35 1230.78L416.1 1230.58L416.85 1230.36L417.6 1230.09L418.35 1229.79L419.1 1229.43L419.85 1229.01L420.6 1228.49L421.35 1227.84L422.1 1227.04L422.85 1226.03L423.6 1224.77L424.35 1223.2L425.1 1221.29L425.85 1219.01L426.6 1216.39L427.35 1213.51L428.1 1210.63L428.85 1208.16L429.6 1206.69L430.35 1206.64L431.1 1208.03L431.85 1210.44L432.6 1213.32L433.35 1216.2L434.1 1218.85L434.85 1221.15L435.6 1223.09L436.35 1224.68L437.1 1225.96L437.85 1226.98L438.6 1227.8L439.35 1228.45L440.1 1228.98L440.85 1229.41L441.6 1229.77L442.35 1230.08L443.1 1230.34L443.85 1230.57L444.6 1230.77L445.35 1230.95L446.1 1231.11L446.85 1231.25L447.6 1231.38L448.35 1231.5L449.1 1231.6L449.85 1231.7L450.6 1231.78L451.35 1231.86L452.1 1231.94L452.85 1232L453.6 1232.06L454.35 1232.12L455.1 1232.17L455.85 1232.22L456.6 1232.26L457.35 1232.3L458.1 1232.34L458.85 1232.38L459.6 1232.41L460.35 1232.44L461.1 1232.47L461.85 1232.5L462.6 1232.52L463.35 1232.55L464.1 1232.57L464.85 1232.59L465.6 1232.61L466.35 1232.63L467.1 1232.65L467.85 1232.66L468.6 1232.68L469.35 1232.69L470.1 1232.71L470.85 1232.72L471.6 1232.73L472.35 1232.74L473.1 1232.76L473.85 1232.77L474.6 1232.78L475.35 1232.79L476.1 1232.8L476.85 1232.81L477.6 1232.81L478.35 1232.82L479.1 1232.83L479.85 1232.84L480.6 1232.85L481.35 1232.85L482.1 1232.86L482.85 1232.87L483.6 1232.87L484.35 1232.88L485.1 1232.88L485.85 1232.89L486.6 1232.89L487.35 1232.9L488.1 1232.9L488.85 1232.91L489.6 1232.91L490.35 1232.92L491.1 1232.92L491.85 1232.92L492.6 1232.93" fill="none" stroke="#6fd8c6" stroke-width="2" stroke-linejoin="round"/>
<path d="M363.6 1232.76L364.35 1232.75L365.1 1232.75L365.85 1232.74L366.6 1232.74L367.35 1232.73L368.1 1232.73L368.85 1232.72L369.6 1232.72L370.35 1232.71L371.1 1232.7L371.85 1232.7L372.6 1232.69L373.35 1232.68L374.1 1232.67L374.85 1232.66L375.6 1232.66L376.35 1232.65L377.1 1232.64L377.85 1232.63L378.6 1232.62L379.35 1232.61L380.1 1232.6L380.85 1232.59L381.6 1232.57L382.35 1232.56L383.1 1232.55L383.85 1232.54L384.6 1232.52L385.35 1232.51L386.1 1232.49L386.85 1232.47L387.6 1232.46L388.35 1232.44L389.1 1232.42L389.85 1232.4L390.6 1232.38L391.35 1232.36L392.1 1232.33L392.85 1232.31L393.6 1232.28L394.35 1232.25L395.1 1232.22L395.85 1232.19L396.6 1232.16L397.35 1232.12L398.1 1232.09L398.85 1232.05L399.6 1232L400.35 1231.96L401.1 1231.91L401.85 1231.85L402.6 1231.8L403.35 1231.73L404.1 1231.67L404.85 1231.6L405.6 1231.52L406.35 1231.43L407.1 1231.34L407.85 1231.24L408.6 1231.13L409.35 1231.02L410.1 1230.89L410.85 1230.74L411.6 1230.58L412.35 1230.41L413.1 1230.22L413.85 1230L414.6 1229.76L415.35 1229.49L416.1 1229.19L416.85 1228.84L417.6 1228.44L418.35 1227.98L419.1 1227.43L419.85 1226.78L420.6 1225.98L421.35 1225L422.1 1223.76L422.85 1222.21L423.6 1220.26L424.35 1217.84L425.1 1214.88L425.85 1211.35L426.6 1207.28L427.35 1202.82L428.1 1198.35L428.85 1194.53L429.6 1192.23L430.35 1192.15L431.1 1194.32L431.85 1198.06L432.6 1202.52L433.35 1206.99L434.1 1211.09L434.85 1214.66L435.6 1217.66L436.35 1220.11L437.1 1222.09L437.85 1223.67L438.6 1224.92L439.35 1225.92L440.1 1226.73L440.85 1227.39L441.6 1227.95L442.35 1228.41L443.1 1228.82L443.85 1229.16L444.6 1229.47L445.35 1229.74L446.1 1229.99L446.85 1230.2L447.6 1230.4L448.35 1230.57L449.1 1230.73L449.85 1230.88L450.6 1231.01L451.35 1231.13L452.1 1231.24L452.85 1231.34L453.6 1231.43L454.35 1231.51L455.1 1231.59L455.85 1231.66L456.6 1231.73L457.35 1231.79L458.1 1231.85L458.85 1231.9L459.6 1231.95L460.35 1232L461.1 1232.04L461.85 1232.08L462.6 1232.12L463.35 1232.16L464.1 1232.19L464.85 1232.22L465.6 1232.25L466.35 1232.28L467.1 1232.31L467.85 1232.33L468.6 1232.36L469.35 1232.38L470.1 1232.4L470.85 1232.42L471.6 1232.44L472.35 1232.46L473.1 1232.47L473.85 1232.49L474.6 1232.51L475.35 1232.52L476.1 1232.53L476.85 1232.55L477.6 1232.56L478.35 1232.57L479.1 1232.59L479.85 1232.6L480.6 1232.61L481.35 1232.62L482.1 1232.63L482.85 1232.64L483.6 1232.65L484.35 1232.66L485.1 1232.66L485.85 1232.67L486.6 1232.68L487.35 1232.69L488.1 1232.69L488.85 1232.7L489.6 1232.71L490.35 1232.71L491.1 1232.72L491.85 1232.73L492.6 1232.73" fill="none" stroke="#b3282d" stroke-width="1.7" stroke-linejoin="round"/>
<rect x="502" y="1113" width="131.8" height="125.6" fill="none" stroke="#000" stroke-width="1.7"/>
<path d="M497.8 1235.5L502 1235.5" stroke="#000" stroke-width="1.5"/>
<path d="M497.8 1189.6L502 1189.6" stroke="#000" stroke-width="1.5"/>
<path d="M497.8 1143.7L502 1143.7" stroke="#000" stroke-width="1.5"/>
<path d="M502 1238.6L502 1244.1" stroke="#000" stroke-width="1.5"/>
<path d="M567.9 1238.6L567.9 1244.1" stroke="#000" stroke-width="1.5"/>
<path d="M633.8 1238.6L633.8 1244.1" stroke="#000" stroke-width="1.5"/>
<path d="M503 1232.24L503.75 1232.24L504.5 1232.23L505.25 1232.23L506 1232.22L506.75 1232.21L507.5 1232.2L508.25 1232.2L509 1232.19L509.75 1232.18L510.5 1232.17L511.25 1232.16L512 1232.15L512.75 1232.14L513.5 1232.13L514.25 1232.12L515 1232.11L515.75 1232.1L516.5 1232.09L517.25 1232.08L518 1232.06L518.75 1232.05L519.5 1232.03L520.25 1232.02L521 1232L521.75 1231.99L522.5 1231.97L523.25 1231.95L524 1231.93L524.75 1231.91L525.5 1231.89L526.25 1231.87L527 1231.85L527.75 1231.82L528.5 1231.8L529.25 1231.77L530 1231.74L530.75 1231.71L531.5 1231.68L532.25 1231.65L533 1231.61L533.75 1231.57L534.5 1231.53L535.25 1231.49L536 1231.44L536.75 1231.39L537.5 1231.34L538.25 1231.28L539 1231.22L539.75 1231.16L540.5 1231.09L541.25 1231.01L542 1230.93L542.75 1230.84L543.5 1230.75L544.25 1230.64L545 1230.53L545.75 1230.4L546.5 1230.27L547.25 1230.12L548 1229.95L548.75 1229.77L549.5 1229.57L550.25 1229.35L551 1229.09L551.75 1228.8L552.5 1228.47L553.25 1228.07L554 1227.6L554.75 1227.03L555.5 1226.32L556.25 1225.42L557 1224.29L557.75 1222.83L558.5 1220.98L559.25 1218.63L560 1215.69L560.75 1212.08L561.5 1207.71L562.25 1202.54L563 1196.55L563.75 1189.77L564.5 1182.33L565.25 1174.45L566 1166.6L566.75 1159.57L567.5 1154.47L568.25 1152.43L569 1154L569.75 1158.75L570.5 1165.6L571.25 1173.39L572 1181.3L572.75 1188.82L573.5 1195.69L574.25 1201.78L575 1207.07L575.75 1211.54L576.5 1215.25L577.25 1218.27L578 1220.69L578.75 1222.61L579.5 1224.11L580.25 1225.29L581 1226.21L581.75 1226.94L582.5 1227.53L583.25 1228.02L584 1228.42L584.75 1228.76L585.5 1229.05L586.25 1229.31L587 1229.54L587.75 1229.75L588.5 1229.93L589.25 1230.1L590 1230.25L590.75 1230.39L591.5 1230.51L592.25 1230.63L593 1230.73L593.75 1230.83L594.5 1230.92L595.25 1231L596 1231.08L596.75 1231.15L597.5 1231.21L598.25 1231.28L599 1231.33L599.75 1231.39L600.5 1231.44L601.25 1231.48L602 1231.53L602.75 1231.57L603.5 1231.61L604.25 1231.64L605 1231.68L605.75 1231.71L606.5 1231.74L607.25 1231.77L608 1231.8L608.75 1231.82L609.5 1231.85L610.25 1231.87L611 1231.89L611.75 1231.91L612.5 1231.93L613.25 1231.95L614 1231.97L614.75 1231.99L615.5 1232L616.25 1232.02L617 1232.03L617.75 1232.05L618.5 1232.06L619.25 1232.07L620 1232.09L620.75 1232.1L621.5 1232.11L622.25 1232.12L623 1232.13L623.75 1232.14L624.5 1232.15L625.25 1232.16L626 1232.17L626.75 1232.18L627.5 1232.19L628.25 1232.2L629 1232.2L629.75 1232.21L630.5 1232.22L631.25 1232.22L632 1232.23L632.75 1232.24" fill="none" stroke="#6fd8c6" stroke-width="2" stroke-linejoin="round"/>
<path d="M503 1231.88L503.75 1231.87L504.5 1231.86L505.25 1231.85L506 1231.83L506.75 1231.82L507.5 1231.81L508.25 1231.8L509 1231.79L509.75 1231.78L510.5 1231.76L511.25 1231.75L512 1231.73L512.75 1231.72L513.5 1231.7L514.25 1231.69L515 1231.67L515.75 1231.65L516.5 1231.64L517.25 1231.62L518 1231.6L518.75 1231.58L519.5 1231.56L520.25 1231.53L521 1231.51L521.75 1231.48L522.5 1231.46L523.25 1231.43L524 1231.4L524.75 1231.37L525.5 1231.34L526.25 1231.31L527 1231.27L527.75 1231.24L528.5 1231.2L529.25 1231.16L530 1231.11L530.75 1231.07L531.5 1231.02L532.25 1230.97L533 1230.91L533.75 1230.85L534.5 1230.79L535.25 1230.73L536 1230.66L536.75 1230.58L537.5 1230.5L538.25 1230.41L539 1230.32L539.75 1230.22L540.5 1230.11L541.25 1230L542 1229.87L542.75 1229.74L543.5 1229.59L544.25 1229.43L545 1229.26L545.75 1229.07L546.5 1228.86L547.25 1228.64L548 1228.38L548.75 1228.1L549.5 1227.79L550.25 1227.44L551 1227.03L551.75 1226.57L552.5 1226.02L553.25 1225.37L554 1224.58L554.75 1223.61L555.5 1222.4L556.25 1220.87L557 1218.95L557.75 1216.53L558.5 1213.51L559.25 1209.77L560 1205.21L560.75 1199.72L561.5 1193.25L562.25 1185.76L563 1177.25L563.75 1167.82L564.5 1157.64L565.25 1147.06L566 1136.74L566.75 1127.68L567.5 1121.24L568.25 1118.69L569 1120.65L569.75 1126.64L570.5 1135.43L571.25 1145.65L572 1156.24L572.75 1166.5L573.5 1176.05L574.25 1184.68L575 1192.31L575.75 1198.92L576.5 1204.53L577.25 1209.21L578 1213.05L578.75 1216.17L579.5 1218.66L580.25 1220.64L581 1222.21L581.75 1223.46L582.5 1224.46L583.25 1225.28L584 1225.94L584.75 1226.5L585.5 1226.98L586.25 1227.39L587 1227.75L587.75 1228.06L588.5 1228.35L589.25 1228.6L590 1228.83L590.75 1229.05L591.5 1229.24L592.25 1229.41L593 1229.57L593.75 1229.72L594.5 1229.86L595.25 1229.98L596 1230.1L596.75 1230.21L597.5 1230.31L598.25 1230.4L599 1230.49L599.75 1230.57L600.5 1230.65L601.25 1230.72L602 1230.78L602.75 1230.85L603.5 1230.9L604.25 1230.96L605 1231.01L605.75 1231.06L606.5 1231.11L607.25 1231.15L608 1231.19L608.75 1231.23L609.5 1231.27L610.25 1231.3L611 1231.34L611.75 1231.37L612.5 1231.4L613.25 1231.43L614 1231.46L614.75 1231.48L615.5 1231.51L616.25 1231.53L617 1231.55L617.75 1231.57L618.5 1231.6L619.25 1231.61L620 1231.63L620.75 1231.65L621.5 1231.67L622.25 1231.69L623 1231.7L623.75 1231.72L624.5 1231.73L625.25 1231.75L626 1231.76L626.75 1231.77L627.5 1231.79L628.25 1231.8L629 1231.81L629.75 1231.82L630.5 1231.83L631.25 1231.84L632 1231.85L632.75 1231.86" fill="none" stroke="#b3282d" stroke-width="1.7" stroke-linejoin="round"/>
<text x="75.5" y="1243.4" font-size="22.5" text-anchor="end">0</text>
<text x="75.5" y="1197.5" font-size="22.5" text-anchor="end">200</text>
<text x="75.5" y="1151.6" font-size="22.5" text-anchor="end">400</text>
<text x="30.6" y="1212.17" font-size="22.9" transform="rotate(-90 30.6 1212.17)" textLength="67.33" lengthAdjust="spacingAndGlyphs">RPKM</text>
<text x="66.74" y="1265.2" font-size="19.05" textLength="34.02" lengthAdjust="spacingAndGlyphs">-5.0</text>
<text x="128.76" y="1265.2" font-size="18.44" textLength="36.97" lengthAdjust="spacingAndGlyphs">TSS</text>
<text x="189.27" y="1265.2" font-size="18.16" textLength="26.45" lengthAdjust="spacingAndGlyphs">5.0</text>
<text x="220.49" y="1265.2" font-size="19.05" textLength="34.02" lengthAdjust="spacingAndGlyphs">-5.0</text>
<text x="271.27" y="1265.2" font-size="18.18" textLength="36.45" lengthAdjust="spacingAndGlyphs">TSS</text>
<text x="330.05" y="1265.2" font-size="17.62" textLength="25.66" lengthAdjust="spacingAndGlyphs">5.0</text>
<text x="361.24" y="1265.2" font-size="19.05" textLength="34.02" lengthAdjust="spacingAndGlyphs">-5.0</text>
<text x="410.51" y="1265.2" font-size="18.44" textLength="36.97" lengthAdjust="spacingAndGlyphs">TSS</text>
<text x="467.99" y="1265.2" font-size="19.07" textLength="27.78" lengthAdjust="spacingAndGlyphs">5.0</text>
<text x="500.48" y="1265.2" font-size="19.34" textLength="34.55" lengthAdjust="spacingAndGlyphs">-5.0</text>
<text x="551.75" y="1265.2" font-size="18.83" textLength="37.76" lengthAdjust="spacingAndGlyphs">TSS</text>
<text x="609.25" y="1265.2" font-size="18.71" textLength="27.25" lengthAdjust="spacingAndGlyphs">5.0</text>
<text x="647.23" y="1265.2" font-size="19.13" textLength="21.53" lengthAdjust="spacingAndGlyphs">kb</text>
<text x="68.81" y="2033.8" font-size="19.81" textLength="35.38" lengthAdjust="spacingAndGlyphs">-5.0</text>
<text x="130.33" y="2033.8" font-size="19.16" textLength="38.43" lengthAdjust="spacingAndGlyphs">TSS</text>
<text x="191.23" y="2033.8" font-size="19.25" textLength="28.04" lengthAdjust="spacingAndGlyphs">5.0</text>
<text x="221.5" y="2033.8" font-size="20.1" textLength="35.91" lengthAdjust="spacingAndGlyphs">-5.0</text>
<text x="272.95" y="2033.8" font-size="18.75" textLength="37.6" lengthAdjust="spacingAndGlyphs">TSS</text>
<text x="331.83" y="2033.8" font-size="19.33" textLength="28.15" lengthAdjust="spacingAndGlyphs">5.0</text>
<text x="360.21" y="2033.8" font-size="19.64" textLength="35.07" lengthAdjust="spacingAndGlyphs">-5.0</text>
<text x="412.75" y="2033.8" font-size="18.75" textLength="37.6" lengthAdjust="spacingAndGlyphs">TSS</text>
<text x="470.52" y="2033.8" font-size="19.4" textLength="28.25" lengthAdjust="spacingAndGlyphs">5.0</text>
<text x="499" y="2033.8" font-size="20.05" textLength="35.8" lengthAdjust="spacingAndGlyphs">-5.0</text>
<text x="553.44" y="2033.8" font-size="19.11" textLength="38.33" lengthAdjust="spacingAndGlyphs">TSS</text>
<text x="609.26" y="2033.8" font-size="18.53" textLength="26.98" lengthAdjust="spacingAndGlyphs">5.0</text>
<text x="648.44" y="2033.8" font-size="18.93" textLength="21.31" lengthAdjust="spacingAndGlyphs">kb</text>
<path d="M640 1124.25L652 1124.25" stroke="#b3282d" stroke-width="1.8"/>
<text x="656.48" y="1132.5" font-size="25.5" textLength="77.79" lengthAdjust="spacingAndGlyphs">DMSO</text>
<path d="M640 1160.5L652 1160.5" stroke="#6fd8c6" stroke-width="2"/>
<text x="656.48" y="1166.25" font-size="25.45" textLength="83.29" lengthAdjust="spacingAndGlyphs">LS-170</text>
<g clip-path="url(#c106)"><rect x="83" y="1280.7" width="131.7" height="358" fill="url(#v107)"/><path d="M150 1277.7L155 1395.26L169 1395.26L174 1277.7Z" fill="url(#v108)" filter="url(#b109)"/><path d="M150 1277.7L155 1388.1L167 1388.1L172 1277.7Z" fill="url(#v110)" filter="url(#b53)"/><path d="M92 1277.7L100 1370.2L140 1370.2L148 1277.7Z" fill="url(#v111)" filter="url(#b112)"/><path d="M178 1277.7L180 1345.14L210 1345.14L212 1277.7Z" fill="url(#v113)" filter="url(#b114)"/><path d="M147.45 1277.7L147.7 1531.3L151.7 1531.3L151.95 1277.7Z" fill="url(#v115)" filter="url(#b116)"/><path d="M150.5 1385.1L151.5 1638.7L156.5 1638.7L157.5 1385.1Z" fill="url(#v117)" filter="url(#b118)"/></g>
<rect x="83" y="1280.7" width="131.7" height="358" fill="none" stroke="#000" stroke-width="1.7"/>
<g clip-path="url(#c119)"><rect x="223.1" y="1280.7" width="131.5" height="358" fill="url(#v120)"/><path d="M230 1277.7L230 1388.1L350 1388.1L350 1277.7Z" fill="url(#v121)" filter="url(#b122)"/><path d="M271 1277.7L282 1549.2L290 1549.2L301 1277.7Z" fill="url(#v123)" filter="url(#b6)"/><path d="M277.5 1277.7L285 1441.8L289 1441.8L283.5 1277.7Z" fill="url(#v124)" filter="url(#b125)"/><path d="M289.55 1277.7L288.2 1422.1L286.55 1638.7L291.05 1638.7L294.2 1422.1L296.05 1277.7Z" fill="url(#v126)" filter="url(#b38)"/></g>
<rect x="223.1" y="1280.7" width="131.5" height="358" fill="none" stroke="#000" stroke-width="1.7"/>
<g clip-path="url(#c127)"><rect x="363" y="1280.7" width="131.1" height="358" fill="url(#v128)"/><path d="M370 1277.7L370 1388.1L490 1388.1L490 1277.7Z" fill="url(#v129)" filter="url(#b130)"/><path d="M415 1277.7L421.8 1458.2L425.1 1638.7L432.1 1638.7L436.8 1458.2L445 1277.7Z" fill="url(#v131)" filter="url(#b53)"/><path d="M422.5 1277.7L424.55 1458.2L425.85 1638.7L431.35 1638.7L434.05 1458.2L437.5 1277.7Z" fill="url(#v132)" filter="url(#b8)"/><path d="M426.45 1277.7L427.1 1458.2L427.3 1638.7L429.9 1638.7L431.7 1458.2L433.95 1277.7Z" fill="url(#v133)" filter="url(#b10)"/></g>
<rect x="363" y="1280.7" width="131.1" height="358" fill="none" stroke="#000" stroke-width="1.7"/>
<g clip-path="url(#c134)"><rect x="501.8" y="1280.7" width="131.8" height="358" fill="url(#v135)"/><path d="M509 1277.7L509 1406L629 1406L629 1277.7Z" fill="url(#v136)" filter="url(#b137)"/><path d="M551.5 1277.7L560.05 1458.2L564.1 1638.7L573.1 1638.7L578.05 1458.2L587.5 1277.7Z" fill="url(#v138)" filter="url(#b53)"/><path d="M559.5 1277.7L562.05 1458.2L564.1 1638.7L573.1 1638.7L576.05 1458.2L579.5 1277.7Z" fill="url(#v139)" filter="url(#b8)"/><path d="M563 1277.7L564.55 1458.2L565.85 1638.7L571.35 1638.7L573.55 1458.2L576 1277.7Z" fill="url(#v140)" filter="url(#b10)"/></g>
<rect x="501.8" y="1280.7" width="131.8" height="358" fill="none" stroke="#000" stroke-width="1.7"/>
<g clip-path="url(#c141)"><rect x="83" y="1653.9" width="131.7" height="353.7" fill="url(#v142)"/><path d="M150 1650.9L155 1767.08L169 1767.08L174 1650.9Z" fill="url(#v143)" filter="url(#b144)"/><path d="M150 1650.9L155 1760.01L167 1760.01L172 1650.9Z" fill="url(#v145)" filter="url(#b53)"/><path d="M92 1650.9L100 1742.33L140 1742.33L148 1650.9Z" fill="url(#v146)" filter="url(#b147)"/><path d="M178 1650.9L180 1717.57L210 1717.57L212 1650.9Z" fill="url(#v148)" filter="url(#b149)"/><path d="M147.45 1650.9L147.7 1901.49L151.7 1901.49L151.95 1650.9Z" fill="url(#v150)" filter="url(#b116)"/><path d="M150.5 1757.01L151.5 2007.6L156.5 2007.6L157.5 1757.01Z" fill="url(#v151)" filter="url(#b118)"/></g>
<rect x="83" y="1653.9" width="131.7" height="353.7" fill="none" stroke="#000" stroke-width="1.7"/>
<g clip-path="url(#c152)"><rect x="223.1" y="1653.9" width="131.5" height="353.7" fill="url(#v153)"/><path d="M230 1650.9L230 1760.01L350 1760.01L350 1650.9Z" fill="url(#v154)" filter="url(#b155)"/><path d="M271 1650.9L282 1919.17L290 1919.17L301 1650.9Z" fill="url(#v156)" filter="url(#b6)"/><path d="M277.5 1650.9L285 1813.07L289 1813.07L283.5 1650.9Z" fill="url(#v157)" filter="url(#b158)"/><path d="M289.55 1650.9L288.2 1793.58L286.55 2007.6L291.05 2007.6L294.2 1793.58L296.05 1650.9Z" fill="url(#v159)" filter="url(#b38)"/></g>
<rect x="223.1" y="1653.9" width="131.5" height="353.7" fill="none" stroke="#000" stroke-width="1.7"/>
<g clip-path="url(#c160)"><rect x="363" y="1653.9" width="131.1" height="353.7" fill="url(#v161)"/><path d="M370 1650.9L370 1760.01L490 1760.01L490 1650.9Z" fill="url(#v162)" filter="url(#b163)"/><path d="M415 1650.9L421.8 1829.25L425.1 2007.6L432.1 2007.6L436.8 1829.25L445 1650.9Z" fill="url(#v164)" filter="url(#b53)"/><path d="M422.5 1650.9L424.55 1829.25L425.85 2007.6L431.35 2007.6L434.05 1829.25L437.5 1650.9Z" fill="url(#v165)" filter="url(#b8)"/><path d="M426.45 1650.9L427.1 1829.25L427.3 2007.6L429.9 2007.6L431.7 1829.25L433.95 1650.9Z" fill="url(#v166)" filter="url(#b10)"/></g>
<rect x="363" y="1653.9" width="131.1" height="353.7" fill="none" stroke="#000" stroke-width="1.7"/>
<g clip-path="url(#c167)"><rect x="501.8" y="1653.9" width="131.8" height="353.7" fill="url(#v168)"/><path d="M509 1650.9L509 1777.69L629 1777.69L629 1650.9Z" fill="url(#v169)" filter="url(#b170)"/><path d="M551.5 1650.9L560.05 1829.25L564.1 2007.6L573.1 2007.6L578.05 1829.25L587.5 1650.9Z" fill="url(#v171)" filter="url(#b53)"/><path d="M559.5 1650.9L562.05 1829.25L564.1 2007.6L573.1 2007.6L576.05 1829.25L579.5 1650.9Z" fill="url(#v172)" filter="url(#b8)"/><path d="M563 1650.9L564.55 1829.25L565.85 2007.6L571.35 2007.6L573.55 1829.25L576 1650.9Z" fill="url(#v173)" filter="url(#b10)"/></g>
<rect x="501.8" y="1653.9" width="131.8" height="353.7" fill="none" stroke="#000" stroke-width="1.7"/>
<path d="M83 2007.6L83 2013.1" stroke="#000" stroke-width="1.5"/>
<path d="M148.85 2007.6L148.85 2013.1" stroke="#000" stroke-width="1.5"/>
<path d="M214.7 2007.6L214.7 2013.1" stroke="#000" stroke-width="1.5"/>
<path d="M223.1 2007.6L223.1 2013.1" stroke="#000" stroke-width="1.5"/>
<path d="M288.85 2007.6L288.85 2013.1" stroke="#000" stroke-width="1.5"/>
<path d="M354.6 2007.6L354.6 2013.1" stroke="#000" stroke-width="1.5"/>
<path d="M363 2007.6L363 2013.1" stroke="#000" stroke-width="1.5"/>
<path d="M428.55 2007.6L428.55 2013.1" stroke="#000" stroke-width="1.5"/>
<path d="M494.1 2007.6L494.1 2013.1" stroke="#000" stroke-width="1.5"/>
<path d="M501.8 2007.6L501.8 2013.1" stroke="#000" stroke-width="1.5"/>
<path d="M567.7 2007.6L567.7 2013.1" stroke="#000" stroke-width="1.5"/>
<path d="M633.6 2007.6L633.6 2013.1" stroke="#000" stroke-width="1.5"/>
<rect x="648" y="1280.7" width="13.3" height="726.9" fill="url(#v174)" stroke="#000" stroke-width="1.3"/>
<path d="M661.3 2006.5L665.5 2006.5" stroke="#000" stroke-width="1.4"/>
<text x="667" y="2014.5" font-size="22.6">0</text>
<path d="M661.3 1861L665.5 1861" stroke="#000" stroke-width="1.4"/>
<text x="667" y="1869" font-size="22.6">50</text>
<path d="M661.3 1708.3L665.5 1708.3" stroke="#000" stroke-width="1.4"/>
<text x="667" y="1716.3" font-size="22.6">100</text>
<path d="M661.3 1555.6L665.5 1555.6" stroke="#000" stroke-width="1.4"/>
<text x="667" y="1563.6" font-size="22.6">150</text>
<path d="M661.3 1402.9L665.5 1402.9" stroke="#000" stroke-width="1.4"/>
<text x="667" y="1410.9" font-size="22.6">200</text>
<text x="69.5" y="1491.46" font-size="26.6" transform="rotate(-90 69.5 1491.46)" textLength="81.13" lengthAdjust="spacingAndGlyphs">DMSO</text>
<text x="69.5" y="1868.57" font-size="26.65" transform="rotate(-90 69.5 1868.57)" textLength="87.23" lengthAdjust="spacingAndGlyphs">LS-170</text>
<text x="853.2" y="1025.7" font-size="32" font-weight="bold">e</text>
<text x="922.81" y="1048" font-size="22.15" textLength="279.77" lengthAdjust="spacingAndGlyphs">chrX:70,129,871-70,145,000</text>
<text x="1213.42" y="1048" font-size="22.08" textLength="286.97" lengthAdjust="spacingAndGlyphs">chr11:10,448,758-10,466,471</text>
<text x="1509.02" y="1048" font-size="22.08" textLength="286.97" lengthAdjust="spacingAndGlyphs">chr11:10,448,758-10,466,471</text>
<text x="1807.51" y="1048" font-size="22.18" textLength="277.67" lengthAdjust="spacingAndGlyphs">chr6:97,270,000-97,290,000</text>
<text x="1024.6" y="1076.7" font-size="15.07" textLength="26.11" lengthAdjust="spacingAndGlyphs">154</text>
<text x="1024.6" y="1133.1" font-size="15.07" textLength="26.11" lengthAdjust="spacingAndGlyphs">154</text>
<text x="1024.6" y="1190.5" font-size="15.07" textLength="26.11" lengthAdjust="spacingAndGlyphs">154</text>
<text x="1024.6" y="1247.5" font-size="15.07" textLength="26.11" lengthAdjust="spacingAndGlyphs">154</text>
<text x="1024.6" y="1304.9" font-size="15.07" textLength="26.11" lengthAdjust="spacingAndGlyphs">154</text>
<text x="1024.6" y="1362" font-size="15.07" textLength="26.11" lengthAdjust="spacingAndGlyphs">154</text>
<path d="M1025.2 1120.2L1025.2 1118.7L1025.7 1118.7L1026.2 1118.7L1026.7 1118.7L1027.2 1118.7L1027.7 1118.7L1028.2 1118.7L1028.7 1118.7L1029.2 1118.7L1029.7 1118.7L1030.2 1118.7L1030.7 1118.7L1031.2 1118.7L1031.7 1118.7L1032.2 1118.7L1032.7 1118.7L1033.2 1118.7L1033.7 1118.7L1034.2 1118.7L1034.7 1118.7L1035.2 1118.7L1035.7 1118.7L1036.2 1118.7L1036.7 1118.7L1037.2 1118.7L1037.7 1118.7L1038.2 1118.7L1038.7 1118.7L1039.2 1118.7L1039.7 1118.7L1040.2 1118.7L1040.7 1118.7L1041.2 1118.7L1041.7 1118.7L1042.2 1118.7L1042.7 1118.7L1043.2 1118.7L1043.7 1118.7L1044.2 1118.7L1044.7 1118.7L1045.2 1118.7L1045.7 1118.7L1046.2 1118.7L1046.7 1118.7L1047.2 1118.7L1047.7 1118.7L1048.2 1118.7L1048.7 1118.7L1049.2 1118.7L1049.7 1118.7L1050.2 1118.7L1050.7 1118.7L1051.2 1118.7L1051.7 1118.7L1052.2 1118.7L1052.7 1118.7L1053.2 1118.7L1053.7 1118.7L1054.2 1118.7L1054.7 1118.7L1055.2 1118.7L1055.7 1118.7L1056.2 1118.7L1056.7 1118.7L1057.2 1118.7L1057.7 1118.7L1058.2 1118.7L1058.7 1118.7L1059.2 1118.7L1059.7 1118.7L1060.2 1118.7L1060.7 1118.7L1061.2 1118.7L1061.7 1118.7L1062.2 1118.7L1062.7 1118.7L1063.2 1118.7L1063.7 1118.7L1064.2 1118.7L1064.7 1118.7L1065.2 1118.7L1065.7 1118.7L1066.2 1118.7L1066.7 1118.7L1067.2 1118.7L1067.7 1118.7L1068.2 1118.7L1068.7 1118.7L1069.2 1118.7L1069.7 1118.7L1070.2 1118.7L1070.7 1118.7L1071.2 1118.7L1071.7 1118.7L1072.2 1118.7L1072.7 1118.7L1073.2 1118.7L1073.7 1118.7L1074.2 1118.7L1074.7 1118.7L1075.2 1118.7L1075.7 1118.7L1076.2 1118.7L1076.7 1118.7L1077.2 1118.7L1077.7 1118.7L1078.2 1118.7L1078.7 1118.7L1079.2 1118.7L1079.7 1118.7L1080.2 1118.7L1080.7 1118.7L1081.2 1118.69L1081.7 1118.68L1082.2 1118.66L1082.7 1118.61L1083.2 1118.52L1083.7 1118.39L1084.2 1118.21L1084.7 1118.01L1085.2 1117.83L1085.7 1117.72L1086.2 1117.71L1086.7 1117.8L1087.2 1117.97L1087.7 1118.17L1088.2 1118.36L1088.7 1118.5L1089.2 1118.6L1089.7 1118.65L1090.2 1118.68L1090.7 1118.69L1091.2 1118.7L1091.7 1118.7L1092.2 1118.7L1092.7 1118.7L1093.2 1118.7L1093.7 1118.7L1094.2 1118.7L1094.7 1118.7L1095.2 1118.7L1095.7 1118.7L1096.2 1118.7L1096.7 1118.7L1097.2 1118.7L1097.7 1118.7L1098.2 1118.7L1098.7 1118.7L1099.2 1118.7L1099.7 1118.7L1100.2 1118.7L1100.7 1118.7L1101.2 1118.7L1101.7 1118.7L1102.2 1118.7L1102.7 1118.7L1103.2 1118.7L1103.7 1118.7L1104.2 1118.7L1104.7 1118.7L1105.2 1118.7L1105.7 1118.7L1106.2 1118.7L1106.7 1118.7L1107.2 1118.7L1107.7 1118.7L1108.2 1118.7L1108.7 1118.7L1109.2 1118.7L1109.7 1118.7L1110.2 1118.7L1110.7 1118.7L1111.2 1118.7L1111.7 1118.7L1112.2 1118.7L1112.7 1118.7L1113.2 1118.7L1113.7 1118.7L1114.2 1118.7L1114.7 1118.7L1115.2 1118.7L1115.7 1118.7L1116.2 1118.7L1116.7 1118.7L1117.2 1118.7L1117.7 1118.7L1118.2 1118.7L1118.7 1118.7L1119.2 1118.7L1119.7 1118.7L1120.2 1118.7L1120.7 1118.7L1121.2 1118.7L1121.7 1118.7L1122.2 1118.7L1122.7 1118.7L1123.2 1118.7L1123.7 1118.7L1124.2 1118.7L1124.7 1118.7L1125.2 1118.7L1125.7 1118.7L1126.2 1118.7L1126.7 1118.7L1127.2 1118.7L1127.7 1118.7L1128.2 1118.7L1128.7 1118.7L1129.2 1118.7L1129.7 1118.7L1130.2 1118.7L1130.7 1118.7L1131.2 1118.7L1131.7 1118.7L1132.2 1118.7L1132.7 1118.7L1133.2 1118.7L1133.7 1118.7L1134.2 1118.7L1134.7 1118.7L1135.2 1118.7L1135.7 1118.7L1136.2 1118.7L1136.7 1118.7L1137.2 1118.7L1137.7 1118.7L1138.2 1118.7L1138.7 1118.7L1139.2 1118.7L1139.7 1118.7L1140.2 1118.7L1140.7 1118.7L1141.2 1118.7L1141.7 1118.7L1142.2 1118.7L1142.7 1118.7L1143.2 1118.7L1143.7 1118.7L1144.2 1118.7L1144.7 1118.7L1145.2 1118.7L1145.7 1118.7L1146.2 1118.7L1146.7 1118.7L1147.2 1118.7L1147.7 1118.7L1148.2 1118.7L1148.7 1118.7L1149.2 1118.7L1149.7 1118.7L1150.2 1118.7L1150.7 1118.7L1151.2 1118.7L1151.7 1118.7L1152.2 1118.7L1152.7 1118.7L1153.2 1118.7L1153.7 1118.7L1154.2 1118.7L1154.7 1118.7L1155.2 1118.7L1155.7 1118.7L1156.2 1118.69L1156.7 1118.68L1157.2 1118.66L1157.7 1118.61L1158.2 1118.52L1158.7 1118.39L1159.2 1118.21L1159.7 1118.01L1160.2 1117.83L1160.7 1117.72L1161.2 1117.71L1161.7 1117.8L1162.2 1117.97L1162.7 1118.17L1163.2 1118.36L1163.7 1118.5L1164.2 1118.6L1164.7 1118.65L1165.2 1118.68L1165.7 1118.69L1166.2 1118.7L1166.7 1118.7L1167.2 1118.7L1167.7 1118.7L1168.2 1118.7L1168.7 1118.7L1169.2 1118.7L1169.7 1118.7L1170.2 1118.7L1170.7 1118.7L1171.2 1118.7L1171.7 1118.7L1172.2 1118.7L1172.7 1118.7L1173.2 1118.7L1173.7 1118.7L1174.2 1118.7L1174.7 1118.7L1175.2 1118.7L1175.7 1118.7L1176.2 1118.7L1176.7 1118.7L1177.2 1118.7L1177.7 1118.7L1178.2 1118.7L1178.7 1118.7L1179.2 1118.7L1179.7 1118.7L1180.2 1118.7L1180.7 1118.7L1181.2 1118.7L1181.7 1118.7L1182.2 1118.7L1182.7 1118.7L1183.2 1118.7L1183.7 1118.7L1184.2 1118.7L1184.7 1118.7L1185.2 1118.7L1185.7 1118.7L1186.2 1118.7L1186.7 1118.7L1187.2 1118.7L1187.7 1118.7L1188.2 1118.7L1188.7 1118.7L1189.2 1118.7L1189.7 1118.7L1190.2 1118.7L1190.7 1118.7L1191.2 1118.7L1191.7 1118.7L1192.2 1118.7L1192.7 1118.7L1193.2 1118.7L1193.7 1118.7L1194.2 1118.7L1194.7 1118.7L1195.2 1118.7L1195.7 1118.7L1196.2 1118.7L1196.7 1118.7L1197.2 1118.7L1197.7 1118.7L1198.2 1118.7L1198.7 1118.7L1199.2 1118.7L1199.7 1118.7L1200.2 1118.7L1200.7 1118.7L1201.2 1118.7L1201.7 1118.7L1202.2 1118.7L1202.7 1118.7L1203.2 1118.7L1203.7 1118.69L1204.2 1118.68L1204.7 1118.66L1205.2 1118.63L1205.7 1118.57L1206.2 1118.49L1206.7 1118.37L1207.2 1118.21L1207.7 1118.03L1208.2 1117.83L1208.7 1117.65L1209.2 1117.5L1209.7 1117.41L1210.2 1117.41L1210.7 1117.48L1211.2 1117.61L1211.7 1117.79L1212.2 1117.99L1212.7 1118.18L1213.2 1118.34L1213.7 1118.47L1214.2 1118.56L1214.7 1118.62L1215.2 1118.66L1215.7 1118.68L1216.2 1118.69L1216.7 1118.7L1217.2 1118.7L1217.7 1118.7L1218.2 1118.69L1218.7 1118.68L1219.2 1118.66L1219.7 1118.61L1220.2 1118.52L1220.7 1118.39L1221.2 1118.21L1221.7 1118.01L1222.2 1117.83L1222.7 1117.72L1223.2 1117.71L1223.7 1117.8L1224.2 1117.97L1224.7 1118.17L1225.2 1118.36L1225.7 1118.5L1226.2 1118.6L1226.7 1118.65L1227.2 1118.68L1227.7 1118.69L1228.2 1118.7L1228.7 1118.7L1229.2 1118.7L1229.7 1118.7L1230.2 1118.7L1230.7 1118.7L1231.2 1118.7L1231.7 1118.7L1232.2 1118.7L1232.7 1118.7L1233.2 1118.7L1233.7 1118.7L1234.2 1118.7L1234.7 1118.7L1234.8 1120.2Z" fill="#e8808a"/>
<path d="M1025.2 1177.3L1025.2 1175.8L1025.7 1175.8L1026.2 1175.8L1026.7 1175.8L1027.2 1175.8L1027.7 1175.8L1028.2 1175.8L1028.7 1175.8L1029.2 1175.8L1029.7 1175.8L1030.2 1175.8L1030.7 1175.8L1031.2 1175.8L1031.7 1175.8L1032.2 1175.8L1032.7 1175.8L1033.2 1175.8L1033.7 1175.8L1034.2 1175.8L1034.7 1175.8L1035.2 1175.8L1035.7 1175.8L1036.2 1175.8L1036.7 1175.8L1037.2 1175.8L1037.7 1175.8L1038.2 1175.8L1038.7 1175.8L1039.2 1175.8L1039.7 1175.8L1040.2 1175.8L1040.7 1175.8L1041.2 1175.8L1041.7 1175.8L1042.2 1175.8L1042.7 1175.8L1043.2 1175.8L1043.7 1175.8L1044.2 1175.8L1044.7 1175.8L1045.2 1175.8L1045.7 1175.8L1046.2 1175.8L1046.7 1175.8L1047.2 1175.8L1047.7 1175.8L1048.2 1175.8L1048.7 1175.8L1049.2 1175.8L1049.7 1175.8L1050.2 1175.8L1050.7 1175.8L1051.2 1175.8L1051.7 1175.8L1052.2 1175.8L1052.7 1175.8L1053.2 1175.8L1053.7 1175.8L1054.2 1175.8L1054.7 1175.8L1055.2 1175.8L1055.7 1175.8L1056.2 1175.8L1056.7 1175.8L1057.2 1175.8L1057.7 1175.8L1058.2 1175.8L1058.7 1175.8L1059.2 1175.8L1059.7 1175.8L1060.2 1175.8L1060.7 1175.8L1061.2 1175.8L1061.7 1175.8L1062.2 1175.8L1062.7 1175.8L1063.2 1175.8L1063.7 1175.8L1064.2 1175.8L1064.7 1175.8L1065.2 1175.8L1065.7 1175.8L1066.2 1175.8L1066.7 1175.8L1067.2 1175.8L1067.7 1175.8L1068.2 1175.8L1068.7 1175.8L1069.2 1175.8L1069.7 1175.8L1070.2 1175.8L1070.7 1175.8L1071.2 1175.8L1071.7 1175.8L1072.2 1175.8L1072.7 1175.8L1073.2 1175.8L1073.7 1175.8L1074.2 1175.8L1074.7 1175.8L1075.2 1175.8L1075.7 1175.8L1076.2 1175.8L1076.7 1175.8L1077.2 1175.8L1077.7 1175.8L1078.2 1175.8L1078.7 1175.8L1079.2 1175.8L1079.7 1175.8L1080.2 1175.8L1080.7 1175.8L1081.2 1175.8L1081.7 1175.8L1082.2 1175.8L1082.7 1175.8L1083.2 1175.8L1083.7 1175.8L1084.2 1175.8L1084.7 1175.8L1085.2 1175.8L1085.7 1175.8L1086.2 1175.8L1086.7 1175.8L1087.2 1175.8L1087.7 1175.8L1088.2 1175.8L1088.7 1175.8L1089.2 1175.8L1089.7 1175.8L1090.2 1175.8L1090.7 1175.8L1091.2 1175.8L1091.7 1175.8L1092.2 1175.8L1092.7 1175.8L1093.2 1175.8L1093.7 1175.8L1094.2 1175.79L1094.7 1175.79L1095.2 1175.77L1095.7 1175.75L1096.2 1175.72L1096.7 1175.67L1097.2 1175.61L1097.7 1175.54L1098.2 1175.47L1098.7 1175.4L1099.2 1175.34L1099.7 1175.31L1100.2 1175.3L1100.7 1175.33L1101.2 1175.38L1101.7 1175.45L1102.2 1175.53L1102.7 1175.6L1103.2 1175.66L1103.7 1175.71L1104.2 1175.74L1104.7 1175.77L1105.2 1175.78L1105.7 1175.79L1106.2 1175.8L1106.7 1175.8L1107.2 1175.8L1107.7 1175.8L1108.2 1175.8L1108.7 1175.8L1109.2 1175.8L1109.7 1175.8L1110.2 1175.8L1110.7 1175.8L1111.2 1175.8L1111.7 1175.8L1112.2 1175.8L1112.7 1175.8L1113.2 1175.8L1113.7 1175.8L1114.2 1175.8L1114.7 1175.8L1115.2 1175.8L1115.7 1175.8L1116.2 1175.8L1116.7 1175.8L1117.2 1175.8L1117.7 1175.8L1118.2 1175.8L1118.7 1175.8L1119.2 1175.8L1119.7 1175.8L1120.2 1175.8L1120.7 1175.8L1121.2 1175.8L1121.7 1175.8L1122.2 1175.8L1122.7 1175.8L1123.2 1175.8L1123.7 1175.8L1124.2 1175.8L1124.7 1175.8L1125.2 1175.8L1125.7 1175.8L1126.2 1175.8L1126.7 1175.8L1127.2 1175.8L1127.7 1175.8L1128.2 1175.8L1128.7 1175.8L1129.2 1175.8L1129.7 1175.8L1130.2 1175.8L1130.7 1175.8L1131.2 1175.8L1131.7 1175.8L1132.2 1175.8L1132.7 1175.8L1133.2 1175.8L1133.7 1175.8L1134.2 1175.8L1134.7 1175.8L1135.2 1175.8L1135.7 1175.8L1136.2 1175.8L1136.7 1175.8L1137.2 1175.8L1137.7 1175.8L1138.2 1175.8L1138.7 1175.8L1139.2 1175.8L1139.7 1175.8L1140.2 1175.8L1140.7 1175.8L1141.2 1175.8L1141.7 1175.8L1142.2 1175.8L1142.7 1175.8L1143.2 1175.8L1143.7 1175.8L1144.2 1175.8L1144.7 1175.8L1145.2 1175.8L1145.7 1175.8L1146.2 1175.8L1146.7 1175.8L1147.2 1175.8L1147.7 1175.8L1148.2 1175.8L1148.7 1175.8L1149.2 1175.8L1149.7 1175.8L1150.2 1175.8L1150.7 1175.8L1151.2 1175.8L1151.7 1175.8L1152.2 1175.8L1152.7 1175.8L1153.2 1175.8L1153.7 1175.8L1154.2 1175.8L1154.7 1175.8L1155.2 1175.8L1155.7 1175.8L1156.2 1175.8L1156.7 1175.8L1157.2 1175.8L1157.7 1175.8L1158.2 1175.8L1158.7 1175.8L1159.2 1175.8L1159.7 1175.8L1160.2 1175.8L1160.7 1175.8L1161.2 1175.8L1161.7 1175.8L1162.2 1175.8L1162.7 1175.8L1163.2 1175.8L1163.7 1175.8L1164.2 1175.8L1164.7 1175.8L1165.2 1175.8L1165.7 1175.8L1166.2 1175.8L1166.7 1175.8L1167.2 1175.8L1167.7 1175.8L1168.2 1175.8L1168.7 1175.8L1169.2 1175.8L1169.7 1175.8L1170.2 1175.8L1170.7 1175.8L1171.2 1175.8L1171.7 1175.8L1172.2 1175.8L1172.7 1175.8L1173.2 1175.8L1173.7 1175.8L1174.2 1175.8L1174.7 1175.8L1175.2 1175.8L1175.7 1175.8L1176.2 1175.8L1176.7 1175.8L1177.2 1175.8L1177.7 1175.8L1178.2 1175.8L1178.7 1175.8L1179.2 1175.8L1179.7 1175.8L1180.2 1175.8L1180.7 1175.8L1181.2 1175.8L1181.7 1175.8L1182.2 1175.8L1182.7 1175.8L1183.2 1175.8L1183.7 1175.8L1184.2 1175.8L1184.7 1175.8L1185.2 1175.8L1185.7 1175.8L1186.2 1175.8L1186.7 1175.8L1187.2 1175.8L1187.7 1175.8L1188.2 1175.8L1188.7 1175.8L1189.2 1175.8L1189.7 1175.8L1190.2 1175.8L1190.7 1175.8L1191.2 1175.8L1191.7 1175.8L1192.2 1175.8L1192.7 1175.8L1193.2 1175.8L1193.7 1175.8L1194.2 1175.8L1194.7 1175.8L1195.2 1175.8L1195.7 1175.8L1196.2 1175.8L1196.7 1175.8L1197.2 1175.8L1197.7 1175.8L1198.2 1175.8L1198.7 1175.8L1199.2 1175.8L1199.7 1175.8L1200.2 1175.8L1200.7 1175.8L1201.2 1175.8L1201.7 1175.8L1202.2 1175.8L1202.7 1175.8L1203.2 1175.8L1203.7 1175.8L1204.2 1175.8L1204.7 1175.8L1205.2 1175.8L1205.7 1175.8L1206.2 1175.8L1206.7 1175.8L1207.2 1175.8L1207.7 1175.8L1208.2 1175.8L1208.7 1175.8L1209.2 1175.8L1209.7 1175.8L1210.2 1175.8L1210.7 1175.8L1211.2 1175.8L1211.7 1175.8L1212.2 1175.8L1212.7 1175.8L1213.2 1175.8L1213.7 1175.8L1214.2 1175.8L1214.7 1175.8L1215.2 1175.8L1215.7 1175.8L1216.2 1175.8L1216.7 1175.8L1217.2 1175.8L1217.7 1175.8L1218.2 1175.8L1218.7 1175.8L1219.2 1175.8L1219.7 1175.8L1220.2 1175.8L1220.7 1175.8L1221.2 1175.8L1221.7 1175.8L1222.2 1175.8L1222.7 1175.8L1223.2 1175.8L1223.7 1175.8L1224.2 1175.8L1224.7 1175.8L1225.2 1175.8L1225.7 1175.8L1226.2 1175.8L1226.7 1175.8L1227.2 1175.8L1227.7 1175.8L1228.2 1175.8L1228.7 1175.8L1229.2 1175.8L1229.7 1175.8L1230.2 1175.8L1230.7 1175.8L1231.2 1175.8L1231.7 1175.8L1232.2 1175.8L1232.7 1175.8L1233.2 1175.8L1233.7 1175.8L1234.2 1175.8L1234.7 1175.8L1234.8 1177.3Z" fill="#e8808a"/>
<path d="M1025.2 1233.6L1025.2 1232.1L1025.7 1232.1L1026.2 1232.1L1026.7 1232.1L1027.2 1232.1L1027.7 1232.1L1028.2 1232.1L1028.7 1232.1L1029.2 1232.1L1029.7 1232.1L1030.2 1232.1L1030.7 1232.1L1031.2 1232.1L1031.7 1232.1L1032.2 1232.1L1032.7 1232.1L1033.2 1232.1L1033.7 1232.1L1034.2 1232.1L1034.7 1232.1L1035.2 1232.1L1035.7 1232.1L1036.2 1232.1L1036.7 1232.1L1037.2 1232.1L1037.7 1232.1L1038.2 1232.1L1038.7 1232.1L1039.2 1232.1L1039.7 1232.1L1040.2 1232.1L1040.7 1232.1L1041.2 1232.1L1041.7 1232.1L1042.2 1232.1L1042.7 1232.1L1043.2 1232.1L1043.7 1232.1L1044.2 1232.1L1044.7 1232.1L1045.2 1232.1L1045.7 1232.1L1046.2 1232.1L1046.7 1232.1L1047.2 1232.1L1047.7 1232.1L1048.2 1232.1L1048.7 1232.1L1049.2 1232.1L1049.7 1232.1L1050.2 1232.1L1050.7 1232.1L1051.2 1232.1L1051.7 1232.1L1052.2 1232.1L1052.7 1232.1L1053.2 1232.1L1053.7 1232.1L1054.2 1232.1L1054.7 1232.1L1055.2 1232.1L1055.7 1232.1L1056.2 1232.1L1056.7 1232.1L1057.2 1232.1L1057.7 1232.1L1058.2 1232.1L1058.7 1232.1L1059.2 1232.1L1059.7 1232.1L1060.2 1232.1L1060.7 1232.1L1061.2 1232.1L1061.7 1232.1L1062.2 1232.1L1062.7 1232.1L1063.2 1232.1L1063.7 1232.1L1064.2 1232.1L1064.7 1232.1L1065.2 1232.1L1065.7 1232.1L1066.2 1232.1L1066.7 1232.1L1067.2 1232.1L1067.7 1232.1L1068.2 1232.1L1068.7 1232.1L1069.2 1232.1L1069.7 1232.1L1070.2 1232.1L1070.7 1232.1L1071.2 1232.1L1071.7 1232.1L1072.2 1232.1L1072.7 1232.1L1073.2 1232.1L1073.7 1232.1L1074.2 1232.1L1074.7 1232.1L1075.2 1232.1L1075.7 1232.1L1076.2 1232.1L1076.7 1232.1L1077.2 1232.1L1077.7 1232.1L1078.2 1232.1L1078.7 1232.1L1079.2 1232.1L1079.7 1232.1L1080.2 1232.1L1080.7 1232.1L1081.2 1232.1L1081.7 1232.1L1082.2 1232.1L1082.7 1232.1L1083.2 1232.1L1083.7 1232.1L1084.2 1232.1L1084.7 1232.1L1085.2 1232.1L1085.7 1232.1L1086.2 1232.1L1086.7 1232.1L1087.2 1232.1L1087.7 1232.1L1088.2 1232.1L1088.7 1232.1L1089.2 1232.1L1089.7 1232.1L1090.2 1232.1L1090.7 1232.1L1091.2 1232.1L1091.7 1232.1L1092.2 1232.1L1092.7 1232.1L1093.2 1232.1L1093.7 1232.1L1094.2 1232.1L1094.7 1232.1L1095.2 1232.1L1095.7 1232.1L1096.2 1232.1L1096.7 1232.1L1097.2 1232.1L1097.7 1232.1L1098.2 1232.1L1098.7 1232.1L1099.2 1232.1L1099.7 1232.1L1100.2 1232.1L1100.7 1232.1L1101.2 1232.1L1101.7 1232.1L1102.2 1232.1L1102.7 1232.1L1103.2 1232.1L1103.7 1232.1L1104.2 1232.1L1104.7 1232.1L1105.2 1232.1L1105.7 1232.1L1106.2 1232.1L1106.7 1232.1L1107.2 1232.1L1107.7 1232.1L1108.2 1232.1L1108.7 1232.1L1109.2 1232.1L1109.7 1232.1L1110.2 1232.1L1110.7 1232.1L1111.2 1232.1L1111.7 1232.1L1112.2 1232.1L1112.7 1232.1L1113.2 1232.1L1113.7 1232.1L1114.2 1232.1L1114.7 1232.1L1115.2 1232.1L1115.7 1232.1L1116.2 1232.1L1116.7 1232.1L1117.2 1232.1L1117.7 1232.1L1118.2 1232.1L1118.7 1232.1L1119.2 1232.1L1119.7 1232.1L1120.2 1232.1L1120.7 1232.1L1121.2 1232.1L1121.7 1232.1L1122.2 1232.1L1122.7 1232.1L1123.2 1232.1L1123.7 1232.1L1124.2 1232.1L1124.7 1232.1L1125.2 1232.1L1125.7 1232.1L1126.2 1232.1L1126.7 1232.09L1127.2 1232.09L1127.7 1232.08L1128.2 1232.06L1128.7 1232.02L1129.2 1231.97L1129.7 1231.89L1130.2 1231.8L1130.7 1231.69L1131.2 1231.57L1131.7 1231.45L1132.2 1231.36L1132.7 1231.31L1133.2 1231.3L1133.7 1231.35L1134.2 1231.43L1134.7 1231.54L1135.2 1231.66L1135.7 1231.78L1136.2 1231.88L1136.7 1231.96L1137.2 1232.01L1137.7 1232.05L1138.2 1232.07L1138.7 1232.09L1139.2 1232.09L1139.7 1232.1L1140.2 1232.1L1140.7 1232.1L1141.2 1232.1L1141.7 1232.1L1142.2 1232.1L1142.7 1232.1L1143.2 1232.1L1143.7 1232.1L1144.2 1232.1L1144.7 1232.1L1145.2 1232.1L1145.7 1232.1L1146.2 1232.1L1146.7 1232.1L1147.2 1232.1L1147.7 1232.1L1148.2 1232.1L1148.7 1232.1L1149.2 1232.1L1149.7 1232.1L1150.2 1232.1L1150.7 1232.1L1151.2 1232.1L1151.7 1232.1L1152.2 1232.1L1152.7 1232.1L1153.2 1232.1L1153.7 1232.1L1154.2 1232.1L1154.7 1232.1L1155.2 1232.1L1155.7 1232.1L1156.2 1232.1L1156.7 1232.1L1157.2 1232.1L1157.7 1232.1L1158.2 1232.1L1158.7 1232.1L1159.2 1232.1L1159.7 1232.1L1160.2 1232.1L1160.7 1232.1L1161.2 1232.1L1161.7 1232.1L1162.2 1232.1L1162.7 1232.1L1163.2 1232.1L1163.7 1232.1L1164.2 1232.1L1164.7 1232.1L1165.2 1232.1L1165.7 1232.1L1166.2 1232.1L1166.7 1232.1L1167.2 1232.1L1167.7 1232.1L1168.2 1232.1L1168.7 1232.1L1169.2 1232.1L1169.7 1232.1L1170.2 1232.1L1170.7 1232.1L1171.2 1232.1L1171.7 1232.1L1172.2 1232.1L1172.7 1232.1L1173.2 1232.1L1173.7 1232.1L1174.2 1232.1L1174.7 1232.1L1175.2 1232.1L1175.7 1232.1L1176.2 1232.1L1176.7 1232.1L1177.2 1232.1L1177.7 1232.1L1178.2 1232.1L1178.7 1232.1L1179.2 1232.1L1179.7 1232.1L1180.2 1232.1L1180.7 1232.1L1181.2 1232.1L1181.7 1232.1L1182.2 1232.1L1182.7 1232.1L1183.2 1232.1L1183.7 1232.1L1184.2 1232.1L1184.7 1232.1L1185.2 1232.1L1185.7 1232.1L1186.2 1232.1L1186.7 1232.1L1187.2 1232.1L1187.7 1232.1L1188.2 1232.1L1188.7 1232.1L1189.2 1232.1L1189.7 1232.1L1190.2 1232.1L1190.7 1232.1L1191.2 1232.1L1191.7 1232.1L1192.2 1232.1L1192.7 1232.1L1193.2 1232.1L1193.7 1232.1L1194.2 1232.1L1194.7 1232.1L1195.2 1232.1L1195.7 1232.1L1196.2 1232.1L1196.7 1232.1L1197.2 1232.1L1197.7 1232.1L1198.2 1232.1L1198.7 1232.1L1199.2 1232.1L1199.7 1232.1L1200.2 1232.1L1200.7 1232.1L1201.2 1232.1L1201.7 1232.1L1202.2 1232.1L1202.7 1232.1L1203.2 1232.1L1203.7 1232.1L1204.2 1232.1L1204.7 1232.1L1205.2 1232.1L1205.7 1232.1L1206.2 1232.1L1206.7 1232.1L1207.2 1232.1L1207.7 1232.1L1208.2 1232.1L1208.7 1232.1L1209.2 1232.1L1209.7 1232.1L1210.2 1232.1L1210.7 1232.1L1211.2 1232.1L1211.7 1232.1L1212.2 1232.1L1212.7 1232.1L1213.2 1232.1L1213.7 1232.1L1214.2 1232.1L1214.7 1232.1L1215.2 1232.1L1215.7 1232.1L1216.2 1232.1L1216.7 1232.1L1217.2 1232.1L1217.7 1232.1L1218.2 1232.1L1218.7 1232.1L1219.2 1232.1L1219.7 1232.1L1220.2 1232.1L1220.7 1232.1L1221.2 1232.1L1221.7 1232.1L1222.2 1232.1L1222.7 1232.1L1223.2 1232.1L1223.7 1232.1L1224.2 1232.1L1224.7 1232.1L1225.2 1232.1L1225.7 1232.1L1226.2 1232.1L1226.7 1232.1L1227.2 1232.1L1227.7 1232.1L1228.2 1232.1L1228.7 1232.1L1229.2 1232.1L1229.7 1232.1L1230.2 1232.1L1230.7 1232.1L1231.2 1232.1L1231.7 1232.1L1232.2 1232.1L1232.7 1232.1L1233.2 1232.1L1233.7 1232.1L1234.2 1232.1L1234.7 1232.1L1234.8 1233.6Z" fill="#8d90e0"/>
<path d="M1025.2 1290.4L1025.2 1288.9L1025.7 1288.9L1026.2 1288.9L1026.7 1288.9L1027.2 1288.9L1027.7 1288.9L1028.2 1288.9L1028.7 1288.9L1029.2 1288.9L1029.7 1288.9L1030.2 1288.9L1030.7 1288.9L1031.2 1288.9L1031.7 1288.9L1032.2 1288.9L1032.7 1288.9L1033.2 1288.9L1033.7 1288.9L1034.2 1288.9L1034.7 1288.9L1035.2 1288.9L1035.7 1288.9L1036.2 1288.9L1036.7 1288.9L1037.2 1288.9L1037.7 1288.9L1038.2 1288.9L1038.7 1288.9L1039.2 1288.9L1039.7 1288.9L1040.2 1288.9L1040.7 1288.9L1041.2 1288.9L1041.7 1288.9L1042.2 1288.9L1042.7 1288.9L1043.2 1288.9L1043.7 1288.9L1044.2 1288.9L1044.7 1288.9L1045.2 1288.9L1045.7 1288.9L1046.2 1288.9L1046.7 1288.9L1047.2 1288.9L1047.7 1288.9L1048.2 1288.9L1048.7 1288.9L1049.2 1288.9L1049.7 1288.9L1050.2 1288.9L1050.7 1288.9L1051.2 1288.9L1051.7 1288.9L1052.2 1288.9L1052.7 1288.9L1053.2 1288.9L1053.7 1288.9L1054.2 1288.89L1054.7 1288.88L1055.2 1288.86L1055.7 1288.83L1056.2 1288.78L1056.7 1288.72L1057.2 1288.64L1057.7 1288.54L1058.2 1288.43L1058.7 1288.33L1059.2 1288.25L1059.7 1288.21L1060.2 1288.2L1060.7 1288.24L1061.2 1288.32L1061.7 1288.41L1062.2 1288.52L1062.7 1288.62L1063.2 1288.71L1063.7 1288.77L1064.2 1288.82L1064.7 1288.86L1065.2 1288.88L1065.7 1288.89L1066.2 1288.89L1066.7 1288.9L1067.2 1288.9L1067.7 1288.9L1068.2 1288.9L1068.7 1288.9L1069.2 1288.9L1069.7 1288.9L1070.2 1288.9L1070.7 1288.9L1071.2 1288.9L1071.7 1288.9L1072.2 1288.9L1072.7 1288.9L1073.2 1288.9L1073.7 1288.9L1074.2 1288.9L1074.7 1288.9L1075.2 1288.9L1075.7 1288.9L1076.2 1288.9L1076.7 1288.9L1077.2 1288.9L1077.7 1288.9L1078.2 1288.9L1078.7 1288.9L1079.2 1288.9L1079.7 1288.9L1080.2 1288.9L1080.7 1288.9L1081.2 1288.9L1081.7 1288.9L1082.2 1288.9L1082.7 1288.9L1083.2 1288.9L1083.7 1288.9L1084.2 1288.9L1084.7 1288.9L1085.2 1288.9L1085.7 1288.9L1086.2 1288.9L1086.7 1288.9L1087.2 1288.9L1087.7 1288.9L1088.2 1288.9L1088.7 1288.9L1089.2 1288.9L1089.7 1288.9L1090.2 1288.9L1090.7 1288.9L1091.2 1288.9L1091.7 1288.9L1092.2 1288.9L1092.7 1288.9L1093.2 1288.9L1093.7 1288.9L1094.2 1288.9L1094.7 1288.9L1095.2 1288.9L1095.7 1288.9L1096.2 1288.9L1096.7 1288.9L1097.2 1288.9L1097.7 1288.9L1098.2 1288.9L1098.7 1288.9L1099.2 1288.9L1099.7 1288.9L1100.2 1288.9L1100.7 1288.9L1101.2 1288.9L1101.7 1288.9L1102.2 1288.9L1102.7 1288.9L1103.2 1288.9L1103.7 1288.9L1104.2 1288.9L1104.7 1288.9L1105.2 1288.9L1105.7 1288.9L1106.2 1288.9L1106.7 1288.9L1107.2 1288.9L1107.7 1288.9L1108.2 1288.9L1108.7 1288.9L1109.2 1288.9L1109.7 1288.9L1110.2 1288.9L1110.7 1288.9L1111.2 1288.9L1111.7 1288.9L1112.2 1288.9L1112.7 1288.9L1113.2 1288.9L1113.7 1288.9L1114.2 1288.9L1114.7 1288.9L1115.2 1288.9L1115.7 1288.9L1116.2 1288.9L1116.7 1288.9L1117.2 1288.9L1117.7 1288.9L1118.2 1288.9L1118.7 1288.9L1119.2 1288.9L1119.7 1288.9L1120.2 1288.9L1120.7 1288.9L1121.2 1288.9L1121.7 1288.9L1122.2 1288.9L1122.7 1288.9L1123.2 1288.9L1123.7 1288.9L1124.2 1288.9L1124.7 1288.9L1125.2 1288.9L1125.7 1288.9L1126.2 1288.9L1126.7 1288.9L1127.2 1288.9L1127.7 1288.9L1128.2 1288.9L1128.7 1288.9L1129.2 1288.9L1129.7 1288.9L1130.2 1288.9L1130.7 1288.9L1131.2 1288.9L1131.7 1288.9L1132.2 1288.9L1132.7 1288.9L1133.2 1288.9L1133.7 1288.9L1134.2 1288.9L1134.7 1288.9L1135.2 1288.9L1135.7 1288.9L1136.2 1288.9L1136.7 1288.9L1137.2 1288.9L1137.7 1288.9L1138.2 1288.9L1138.7 1288.9L1139.2 1288.9L1139.7 1288.9L1140.2 1288.9L1140.7 1288.9L1141.2 1288.9L1141.7 1288.9L1142.2 1288.9L1142.7 1288.9L1143.2 1288.9L1143.7 1288.9L1144.2 1288.89L1144.7 1288.88L1145.2 1288.86L1145.7 1288.83L1146.2 1288.78L1146.7 1288.72L1147.2 1288.64L1147.7 1288.54L1148.2 1288.43L1148.7 1288.33L1149.2 1288.25L1149.7 1288.21L1150.2 1288.2L1150.7 1288.24L1151.2 1288.32L1151.7 1288.41L1152.2 1288.52L1152.7 1288.62L1153.2 1288.71L1153.7 1288.77L1154.2 1288.82L1154.7 1288.86L1155.2 1288.88L1155.7 1288.89L1156.2 1288.89L1156.7 1288.9L1157.2 1288.9L1157.7 1288.9L1158.2 1288.9L1158.7 1288.9L1159.2 1288.9L1159.7 1288.9L1160.2 1288.9L1160.7 1288.9L1161.2 1288.9L1161.7 1288.9L1162.2 1288.9L1162.7 1288.9L1163.2 1288.9L1163.7 1288.9L1164.2 1288.9L1164.7 1288.9L1165.2 1288.9L1165.7 1288.9L1166.2 1288.9L1166.7 1288.9L1167.2 1288.9L1167.7 1288.9L1168.2 1288.9L1168.7 1288.9L1169.2 1288.9L1169.7 1288.9L1170.2 1288.9L1170.7 1288.9L1171.2 1288.9L1171.7 1288.9L1172.2 1288.9L1172.7 1288.9L1173.2 1288.9L1173.7 1288.9L1174.2 1288.9L1174.7 1288.9L1175.2 1288.9L1175.7 1288.9L1176.2 1288.9L1176.7 1288.9L1177.2 1288.9L1177.7 1288.9L1178.2 1288.9L1178.7 1288.9L1179.2 1288.9L1179.7 1288.9L1180.2 1288.9L1180.7 1288.9L1181.2 1288.9L1181.7 1288.9L1182.2 1288.9L1182.7 1288.9L1183.2 1288.9L1183.7 1288.9L1184.2 1288.9L1184.7 1288.9L1185.2 1288.9L1185.7 1288.9L1186.2 1288.9L1186.7 1288.9L1187.2 1288.9L1187.7 1288.9L1188.2 1288.9L1188.7 1288.9L1189.2 1288.9L1189.7 1288.9L1190.2 1288.9L1190.7 1288.9L1191.2 1288.9L1191.7 1288.9L1192.2 1288.9L1192.7 1288.9L1193.2 1288.9L1193.7 1288.9L1194.2 1288.9L1194.7 1288.9L1195.2 1288.9L1195.7 1288.9L1196.2 1288.9L1196.7 1288.9L1197.2 1288.9L1197.7 1288.9L1198.2 1288.9L1198.7 1288.89L1199.2 1288.89L1199.7 1288.87L1200.2 1288.84L1200.7 1288.8L1201.2 1288.74L1201.7 1288.64L1202.2 1288.52L1202.7 1288.38L1203.2 1288.23L1203.7 1288.09L1204.2 1287.98L1204.7 1287.91L1205.2 1287.9L1205.7 1287.96L1206.2 1288.06L1206.7 1288.2L1207.2 1288.35L1207.7 1288.5L1208.2 1288.62L1208.7 1288.72L1209.2 1288.79L1209.7 1288.84L1210.2 1288.87L1210.7 1288.88L1211.2 1288.89L1211.7 1288.9L1212.2 1288.9L1212.7 1288.9L1213.2 1288.9L1213.7 1288.9L1214.2 1288.9L1214.7 1288.9L1215.2 1288.9L1215.7 1288.9L1216.2 1288.9L1216.7 1288.9L1217.2 1288.9L1217.7 1288.9L1218.2 1288.9L1218.7 1288.9L1219.2 1288.9L1219.7 1288.9L1220.2 1288.9L1220.7 1288.9L1221.2 1288.9L1221.7 1288.9L1222.2 1288.9L1222.7 1288.9L1223.2 1288.9L1223.7 1288.9L1224.2 1288.9L1224.7 1288.9L1225.2 1288.9L1225.7 1288.9L1226.2 1288.9L1226.7 1288.9L1227.2 1288.9L1227.7 1288.9L1228.2 1288.9L1228.7 1288.9L1229.2 1288.9L1229.7 1288.9L1230.2 1288.9L1230.7 1288.9L1231.2 1288.9L1231.7 1288.9L1232.2 1288.9L1232.7 1288.9L1233.2 1288.9L1233.7 1288.9L1234.2 1288.9L1234.7 1288.9L1234.8 1290.4Z" fill="#8d90e0"/>
<path d="M1025.2 1346.7L1025.2 1343.72L1025.7 1343.59L1026.2 1343.56L1026.7 1344.71L1027.2 1343.7L1027.7 1344.06L1028.2 1343.34L1028.7 1344.54L1029.2 1344.3L1029.7 1344.15L1030.2 1343.19L1030.7 1344.08L1031.2 1343.12L1031.7 1343.75L1032.2 1343.96L1032.7 1344.61L1033.2 1344.25L1033.7 1344L1034.2 1343.94L1034.7 1343.9L1035.2 1343.07L1035.7 1343.73L1036.2 1344.48L1036.7 1344.59L1037.2 1343.67L1037.7 1343.22L1038.2 1343.93L1038.7 1344.33L1039.2 1344.69L1039.7 1344.36L1040.2 1343.74L1040.7 1343.88L1041.2 1344.05L1041.7 1343.96L1042.2 1342.93L1042.7 1344.04L1043.2 1343.32L1043.7 1343.37L1044.2 1343.06L1044.7 1343.08L1045.2 1342.24L1045.7 1342.32L1046.2 1341.64L1046.7 1342.44L1047.2 1343.46L1047.7 1343.62L1048.2 1344.1L1048.7 1343.31L1049.2 1343.25L1049.7 1342.59L1050.2 1342.22L1050.7 1341.45L1051.2 1340.77L1051.7 1340.28L1052.2 1341.64L1052.7 1341.64L1053.2 1340.62L1053.7 1340.49L1054.2 1341.36L1054.7 1343.17L1055.2 1343.03L1055.7 1343.19L1056.2 1342.83L1056.7 1343.24L1057.2 1343.43L1057.7 1343.56L1058.2 1343.55L1058.7 1344.4L1059.2 1344.38L1059.7 1344.49L1060.2 1344.34L1060.7 1343.85L1061.2 1342.73L1061.7 1343.76L1062.2 1343.41L1062.7 1343.43L1063.2 1343.6L1063.7 1344.54L1064.2 1344.25L1064.7 1344.68L1065.2 1343.92L1065.7 1343.47L1066.2 1343.81L1066.7 1344.24L1067.2 1343.29L1067.7 1344.21L1068.2 1344.49L1068.7 1344.34L1069.2 1343.16L1069.7 1344.49L1070.2 1344.3L1070.7 1344.16L1071.2 1343.78L1071.7 1342.87L1072.2 1342.58L1072.7 1341.78L1073.2 1341.7L1073.7 1340.58L1074.2 1340.31L1074.7 1340.3L1075.2 1338.66L1075.7 1339.07L1076.2 1339.48L1076.7 1339.82L1077.2 1340.19L1077.7 1340.33L1078.2 1341.04L1078.7 1341.03L1079.2 1342.18L1079.7 1342.48L1080.2 1342.32L1080.7 1342.52L1081.2 1343.55L1081.7 1343.56L1082.2 1342.62L1082.7 1341.39L1083.2 1340.84L1083.7 1341.12L1084.2 1340.95L1084.7 1340.93L1085.2 1340.97L1085.7 1340.9L1086.2 1339.25L1086.7 1337.97L1087.2 1335.64L1087.7 1332.83L1088.2 1329.94L1088.7 1325.99L1089.2 1322.03L1089.7 1318.1L1090.2 1314.49L1090.7 1310.88L1091.2 1307.24L1091.7 1307.12L1092.2 1309.76L1092.7 1312.23L1093.2 1315.55L1093.7 1319.85L1094.2 1323.56L1094.7 1326.79L1095.2 1329.2L1095.7 1331.01L1096.2 1332.5L1096.7 1332.74L1097.2 1332.64L1097.7 1333.3L1098.2 1332.89L1098.7 1333.92L1099.2 1336.64L1099.7 1338.41L1100.2 1339.39L1100.7 1340.2L1101.2 1340.56L1101.7 1341.47L1102.2 1342.69L1102.7 1343.47L1103.2 1343.92L1103.7 1344.22L1104.2 1344.16L1104.7 1344.44L1105.2 1344.31L1105.7 1343.39L1106.2 1343.26L1106.7 1343.16L1107.2 1343.02L1107.7 1343.87L1108.2 1344.26L1108.7 1344.32L1109.2 1344.12L1109.7 1343.21L1110.2 1343.14L1110.7 1343.03L1111.2 1342.21L1111.7 1341.8L1112.2 1341.32L1112.7 1340.8L1113.2 1340.29L1113.7 1340.71L1114.2 1341.13L1114.7 1340.39L1115.2 1339.91L1115.7 1341.13L1116.2 1341.19L1116.7 1341.3L1117.2 1341.41L1117.7 1342.57L1118.2 1342.62L1118.7 1342.93L1119.2 1343.13L1119.7 1343.04L1120.2 1344.16L1120.7 1343.64L1121.2 1342.67L1121.7 1342.76L1122.2 1343.52L1122.7 1343.86L1123.2 1344.23L1123.7 1342.87L1124.2 1342.93L1124.7 1343.3L1125.2 1344.67L1125.7 1343.99L1126.2 1342.48L1126.7 1342.81L1127.2 1343.73L1127.7 1344.23L1128.2 1343.74L1128.7 1343L1129.2 1343.93L1129.7 1344.18L1130.2 1344.46L1130.7 1344.29L1131.2 1344.51L1131.7 1344.25L1132.2 1344.02L1132.7 1344.44L1133.2 1344.13L1133.7 1343.55L1134.2 1342.95L1134.7 1342.67L1135.2 1343.97L1135.7 1344.5L1136.2 1344.71L1136.7 1343.99L1137.2 1343.78L1137.7 1343.97L1138.2 1343.74L1138.7 1343.02L1139.2 1343.74L1139.7 1344.62L1140.2 1343.66L1140.7 1342.72L1141.2 1343.11L1141.7 1343.33L1142.2 1344.36L1142.7 1344.6L1143.2 1343.39L1143.7 1344.4L1144.2 1343.21L1144.7 1343.56L1145.2 1343.48L1145.7 1342.76L1146.2 1342.72L1146.7 1341.98L1147.2 1341.38L1147.7 1340.78L1148.2 1340.81L1148.7 1340.47L1149.2 1339.97L1149.7 1341.49L1150.2 1342.29L1150.7 1343.48L1151.2 1343.76L1151.7 1343.24L1152.2 1344.21L1152.7 1343.81L1153.2 1344.04L1153.7 1344.3L1154.2 1343.82L1154.7 1342.48L1155.2 1342.62L1155.7 1342.68L1156.2 1343.94L1156.7 1344.14L1157.2 1343.85L1157.7 1342.96L1158.2 1343.26L1158.7 1343.43L1159.2 1344.46L1159.7 1343.21L1160.2 1343.15L1160.7 1343.33L1161.2 1344.03L1161.7 1343.82L1162.2 1344.16L1162.7 1344.5L1163.2 1344.63L1163.7 1343.8L1164.2 1343.77L1164.7 1343.61L1165.2 1344.35L1165.7 1344.28L1166.2 1344.61L1166.7 1344.18L1167.2 1343.92L1167.7 1344.3L1168.2 1344.45L1168.7 1344.31L1169.2 1344.51L1169.7 1344.54L1170.2 1344.61L1170.7 1344.06L1171.2 1343.77L1171.7 1343.66L1172.2 1342.32L1172.7 1343.14L1173.2 1343.08L1173.7 1343.23L1174.2 1344.52L1174.7 1344.3L1175.2 1344.17L1175.7 1342.95L1176.2 1343.45L1176.7 1344.08L1177.2 1343.89L1177.7 1343.59L1178.2 1343.33L1178.7 1342.25L1179.2 1341.39L1179.7 1341.02L1180.2 1341.21L1180.7 1341.43L1181.2 1341.28L1181.7 1342.21L1182.2 1342.78L1182.7 1343.24L1183.2 1343.99L1183.7 1343.1L1184.2 1344.25L1184.7 1343.99L1185.2 1344L1185.7 1344.46L1186.2 1344.45L1186.7 1344.2L1187.2 1343.49L1187.7 1343.51L1188.2 1342.8L1188.7 1343.56L1189.2 1344.71L1189.7 1344.04L1190.2 1344.47L1190.7 1343.5L1191.2 1343.6L1191.7 1344.17L1192.2 1343.77L1192.7 1342.68L1193.2 1342.74L1193.7 1343.18L1194.2 1343.65L1194.7 1343.43L1195.2 1344.49L1195.7 1344.35L1196.2 1344.08L1196.7 1343.88L1197.2 1343.62L1197.7 1342.86L1198.2 1342.98L1198.7 1342.95L1199.2 1343.3L1199.7 1343.54L1200.2 1344.17L1200.7 1344.08L1201.2 1344.05L1201.7 1344.09L1202.2 1343.83L1202.7 1343.75L1203.2 1344.26L1203.7 1344.09L1204.2 1344.03L1204.7 1343.4L1205.2 1344.05L1205.7 1343.96L1206.2 1343.88L1206.7 1343.55L1207.2 1343.64L1207.7 1342.53L1208.2 1342.81L1208.7 1341.47L1209.2 1340.51L1209.7 1341.81L1210.2 1341.29L1210.7 1341.87L1211.2 1342.09L1211.7 1342.69L1212.2 1343.27L1212.7 1343.09L1213.2 1342.63L1213.7 1343.94L1214.2 1343.55L1214.7 1343.93L1215.2 1344.37L1215.7 1344.33L1216.2 1343.99L1216.7 1344.15L1217.2 1344.53L1217.7 1344.03L1218.2 1343.59L1218.7 1342.85L1219.2 1344.29L1219.7 1344.45L1220.2 1343.68L1220.7 1343.54L1221.2 1343.86L1221.7 1343.9L1222.2 1343.51L1222.7 1343.18L1223.2 1343.03L1223.7 1343.08L1224.2 1344.42L1224.7 1344.24L1225.2 1344.07L1225.7 1343.15L1226.2 1344.25L1226.7 1343.91L1227.2 1343.39L1227.7 1343.76L1228.2 1343.84L1228.7 1343.93L1229.2 1344.42L1229.7 1344.11L1230.2 1344.54L1230.7 1344.13L1231.2 1344.4L1231.7 1343.92L1232.2 1344.2L1232.7 1344.71L1233.2 1344.39L1233.7 1344.31L1234.2 1343.8L1234.7 1344.3L1234.8 1346.7Z" fill="#ec9a3a"/>
<path d="M1025.2 1403.8L1025.2 1401.43L1025.7 1401.8L1026.2 1401.81L1026.7 1401.2L1027.2 1401.38L1027.7 1401.25L1028.2 1401.62L1028.7 1401.47L1029.2 1401.67L1029.7 1400.58L1030.2 1400.82L1030.7 1401.44L1031.2 1401.58L1031.7 1401.47L1032.2 1401.4L1032.7 1401.76L1033.2 1401.54L1033.7 1400.95L1034.2 1401.76L1034.7 1401.51L1035.2 1400.78L1035.7 1401.06L1036.2 1401.26L1036.7 1401.67L1037.2 1401.52L1037.7 1401.44L1038.2 1400.98L1038.7 1401.07L1039.2 1400.82L1039.7 1401.61L1040.2 1401.49L1040.7 1401.38L1041.2 1401.03L1041.7 1401.57L1042.2 1401.18L1042.7 1401.41L1043.2 1401.74L1043.7 1400.95L1044.2 1401.49L1044.7 1401.26L1045.2 1400.98L1045.7 1400.36L1046.2 1399.48L1046.7 1399.04L1047.2 1398.65L1047.7 1397.84L1048.2 1398.19L1048.7 1398.2L1049.2 1397.61L1049.7 1397.14L1050.2 1398.01L1050.7 1397.65L1051.2 1397.9L1051.7 1398.12L1052.2 1398.56L1052.7 1398.7L1053.2 1398.68L1053.7 1399.12L1054.2 1400.21L1054.7 1399.93L1055.2 1399.44L1055.7 1400.84L1056.2 1401.64L1056.7 1400.97L1057.2 1401.09L1057.7 1401.59L1058.2 1401.73L1058.7 1400.92L1059.2 1400.79L1059.7 1401.78L1060.2 1401.76L1060.7 1401.11L1061.2 1401.8L1061.7 1400.96L1062.2 1400.85L1062.7 1400.9L1063.2 1400.22L1063.7 1400L1064.2 1399.95L1064.7 1399.97L1065.2 1399.39L1065.7 1399.27L1066.2 1399.8L1066.7 1399.69L1067.2 1400.61L1067.7 1401.07L1068.2 1401.22L1068.7 1400.86L1069.2 1400.82L1069.7 1400.85L1070.2 1400.51L1070.7 1400.86L1071.2 1401.8L1071.7 1400.95L1072.2 1401.4L1072.7 1400.38L1073.2 1400.1L1073.7 1401.01L1074.2 1401.44L1074.7 1400.97L1075.2 1400.88L1075.7 1400.47L1076.2 1401.42L1076.7 1400.72L1077.2 1399.51L1077.7 1399.98L1078.2 1400.55L1078.7 1401.39L1079.2 1400.58L1079.7 1400.07L1080.2 1400.34L1080.7 1400.81L1081.2 1399.97L1081.7 1398.58L1082.2 1398.25L1082.7 1397.96L1083.2 1397.24L1083.7 1396.86L1084.2 1395.84L1084.7 1393.94L1085.2 1389.89L1085.7 1386.93L1086.2 1382.41L1086.7 1377.21L1087.2 1372.2L1087.7 1366.64L1088.2 1362.87L1088.7 1360.03L1089.2 1363.06L1089.7 1365.04L1090.2 1369.2L1090.7 1374.74L1091.2 1378.72L1091.7 1383.71L1092.2 1387.24L1092.7 1389.27L1093.2 1390.05L1093.7 1390.23L1094.2 1390.43L1094.7 1391.2L1095.2 1392.61L1095.7 1392.41L1096.2 1391.85L1096.7 1392.19L1097.2 1392.32L1097.7 1393.72L1098.2 1393.95L1098.7 1396.29L1099.2 1396.46L1099.7 1397.63L1100.2 1398.68L1100.7 1399.13L1101.2 1400.18L1101.7 1400.4L1102.2 1400.22L1102.7 1400.23L1103.2 1399.58L1103.7 1399.24L1104.2 1400.61L1104.7 1400.95L1105.2 1401.59L1105.7 1401.28L1106.2 1401.44L1106.7 1401.66L1107.2 1400.8L1107.7 1400.75L1108.2 1399.84L1108.7 1400.36L1109.2 1400.4L1109.7 1401.56L1110.2 1401.66L1110.7 1401.72L1111.2 1401.12L1111.7 1401.33L1112.2 1401.45L1112.7 1401.62L1113.2 1401.79L1113.7 1401.43L1114.2 1401.03L1114.7 1400.6L1115.2 1400.75L1115.7 1400.76L1116.2 1401.53L1116.7 1401.5L1117.2 1400.49L1117.7 1401.04L1118.2 1401.78L1118.7 1400.76L1119.2 1401.32L1119.7 1400.72L1120.2 1400.42L1120.7 1400.32L1121.2 1399.35L1121.7 1398.3L1122.2 1399.49L1122.7 1399.71L1123.2 1399.56L1123.7 1399.42L1124.2 1399.05L1124.7 1399.19L1125.2 1399.32L1125.7 1399.43L1126.2 1398.85L1126.7 1399.53L1127.2 1400.11L1127.7 1399.8L1128.2 1400.22L1128.7 1400.71L1129.2 1400.17L1129.7 1399.35L1130.2 1399.36L1130.7 1399.58L1131.2 1400.44L1131.7 1401.4L1132.2 1401.49L1132.7 1401.47L1133.2 1401.06L1133.7 1401.09L1134.2 1400.06L1134.7 1399.95L1135.2 1400.98L1135.7 1401.29L1136.2 1401.14L1136.7 1400.32L1137.2 1399.92L1137.7 1400.9L1138.2 1401.48L1138.7 1400.67L1139.2 1399.46L1139.7 1399L1140.2 1399.61L1140.7 1399.44L1141.2 1399.4L1141.7 1400.56L1142.2 1401.17L1142.7 1401.6L1143.2 1401.22L1143.7 1401.37L1144.2 1400.99L1144.7 1400.92L1145.2 1401.34L1145.7 1401.15L1146.2 1399.97L1146.7 1400.78L1147.2 1400.46L1147.7 1399.92L1148.2 1400.11L1148.7 1401.08L1149.2 1400.38L1149.7 1401.1L1150.2 1401.07L1150.7 1401.18L1151.2 1400.69L1151.7 1401.72L1152.2 1401.55L1152.7 1400.51L1153.2 1400.79L1153.7 1400.86L1154.2 1400.91L1154.7 1401.52L1155.2 1401.68L1155.7 1401L1156.2 1401.21L1156.7 1401.73L1157.2 1401.2L1157.7 1401.68L1158.2 1401.49L1158.7 1401.54L1159.2 1401.51L1159.7 1400.79L1160.2 1400.72L1160.7 1400.32L1161.2 1401.29L1161.7 1401.33L1162.2 1401.32L1162.7 1401.47L1163.2 1401.68L1163.7 1401.56L1164.2 1400.22L1164.7 1399.84L1165.2 1399.88L1165.7 1400.34L1166.2 1400.81L1166.7 1401.63L1167.2 1401.29L1167.7 1401.77L1168.2 1401.43L1168.7 1401.73L1169.2 1401.71L1169.7 1401.5L1170.2 1401.06L1170.7 1400.25L1171.2 1400.02L1171.7 1400.47L1172.2 1400.77L1172.7 1401.47L1173.2 1401.24L1173.7 1401.39L1174.2 1400.86L1174.7 1401.14L1175.2 1401.81L1175.7 1400.67L1176.2 1401.2L1176.7 1401.41L1177.2 1401.39L1177.7 1401.52L1178.2 1401.09L1178.7 1401.79L1179.2 1401.43L1179.7 1401.39L1180.2 1401.13L1180.7 1400.22L1181.2 1400.43L1181.7 1400.36L1182.2 1399.45L1182.7 1399.52L1183.2 1400.63L1183.7 1401.44L1184.2 1401.18L1184.7 1401.72L1185.2 1401.66L1185.7 1400.65L1186.2 1400.2L1186.7 1401.16L1187.2 1400.85L1187.7 1401.46L1188.2 1401.78L1188.7 1401.45L1189.2 1400.95L1189.7 1400.5L1190.2 1400.51L1190.7 1401.18L1191.2 1401.11L1191.7 1401.6L1192.2 1401.58L1192.7 1401.06L1193.2 1401L1193.7 1401.66L1194.2 1401.13L1194.7 1401.79L1195.2 1400.91L1195.7 1401.79L1196.2 1401.61L1196.7 1401.07L1197.2 1401.2L1197.7 1401.51L1198.2 1401.14L1198.7 1401.46L1199.2 1400.42L1199.7 1400.69L1200.2 1400.44L1200.7 1401.22L1201.2 1401.09L1201.7 1400.4L1202.2 1400.55L1202.7 1399.14L1203.2 1399.61L1203.7 1399.85L1204.2 1400.32L1204.7 1399.93L1205.2 1400.22L1205.7 1400.29L1206.2 1400.17L1206.7 1399.56L1207.2 1400.65L1207.7 1400.64L1208.2 1400.3L1208.7 1401.1L1209.2 1400.64L1209.7 1400.72L1210.2 1400.56L1210.7 1399.84L1211.2 1399.48L1211.7 1399.16L1212.2 1399.11L1212.7 1398.93L1213.2 1399.2L1213.7 1400.01L1214.2 1401.32L1214.7 1401.32L1215.2 1401.77L1215.7 1401.3L1216.2 1401.55L1216.7 1401.06L1217.2 1401.21L1217.7 1401.68L1218.2 1400.98L1218.7 1400.36L1219.2 1400L1219.7 1399.83L1220.2 1399.1L1220.7 1398.93L1221.2 1399.49L1221.7 1399.69L1222.2 1399.62L1222.7 1399.93L1223.2 1401.14L1223.7 1400.89L1224.2 1400.75L1224.7 1400.88L1225.2 1400.74L1225.7 1400.23L1226.2 1401.22L1226.7 1401.36L1227.2 1401.28L1227.7 1400.74L1228.2 1400.19L1228.7 1401.47L1229.2 1400.78L1229.7 1401.6L1230.2 1401.52L1230.7 1401.52L1231.2 1401.81L1231.7 1401.25L1232.2 1401.44L1232.7 1401.55L1233.2 1401.03L1233.7 1400.76L1234.2 1401.81L1234.7 1401.2L1234.8 1403.8Z" fill="#ec9a3a"/>
<text x="1286.56" y="1076.7" font-size="15.92" textLength="27.57" lengthAdjust="spacingAndGlyphs">210</text>
<text x="1286.56" y="1137.1" font-size="15.92" textLength="27.57" lengthAdjust="spacingAndGlyphs">210</text>
<text x="1286.56" y="1190.5" font-size="15.92" textLength="27.57" lengthAdjust="spacingAndGlyphs">210</text>
<text x="1286.56" y="1251.5" font-size="15.92" textLength="27.57" lengthAdjust="spacingAndGlyphs">210</text>
<text x="1283.26" y="1307.2" font-size="15.92" textLength="27.57" lengthAdjust="spacingAndGlyphs">210</text>
<text x="1286.56" y="1362" font-size="15.92" textLength="27.57" lengthAdjust="spacingAndGlyphs">210</text>
<path d="M1288.9 1119.2L1288.9 1117.7L1289.4 1117.7L1289.9 1117.7L1290.4 1117.7L1290.9 1117.7L1291.4 1117.7L1291.9 1117.7L1292.4 1117.7L1292.9 1117.7L1293.4 1117.7L1293.9 1117.7L1294.4 1117.7L1294.9 1117.7L1295.4 1117.7L1295.9 1117.7L1296.4 1117.7L1296.9 1117.7L1297.4 1117.7L1297.9 1117.7L1298.4 1117.7L1298.9 1117.7L1299.4 1117.7L1299.9 1117.7L1300.4 1117.7L1300.9 1117.7L1301.4 1117.7L1301.9 1117.7L1302.4 1117.7L1302.9 1117.7L1303.4 1117.7L1303.9 1117.7L1304.4 1117.7L1304.9 1117.7L1305.4 1117.7L1305.9 1117.7L1306.4 1117.7L1306.9 1117.7L1307.4 1117.7L1307.9 1117.7L1308.4 1117.7L1308.9 1117.7L1309.4 1117.7L1309.9 1117.69L1310.4 1117.69L1310.9 1117.68L1311.4 1117.68L1311.9 1117.66L1312.4 1117.64L1312.9 1117.61L1313.4 1117.57L1313.9 1117.51L1314.4 1117.44L1314.9 1117.35L1315.4 1117.24L1315.9 1117.11L1316.4 1116.97L1316.9 1116.82L1317.4 1116.67L1317.9 1116.53L1318.4 1116.4L1318.9 1116.3L1319.4 1116.23L1319.9 1116.2L1320.4 1116.21L1320.9 1116.27L1321.4 1116.35L1321.9 1116.47L1322.4 1116.61L1322.9 1116.76L1323.4 1116.91L1323.9 1117.06L1324.4 1117.19L1324.9 1117.3L1325.4 1117.4L1325.9 1117.48L1326.4 1117.55L1326.9 1117.59L1327.4 1117.63L1327.9 1117.65L1328.4 1117.67L1328.9 1117.68L1329.4 1117.69L1329.9 1117.69L1330.4 1117.7L1330.9 1117.7L1331.4 1117.7L1331.9 1117.7L1332.4 1117.7L1332.9 1117.7L1333.4 1117.7L1333.9 1117.7L1334.4 1117.7L1334.9 1117.7L1335.4 1117.7L1335.9 1117.7L1336.4 1117.7L1336.9 1117.7L1337.4 1117.7L1337.9 1117.7L1338.4 1117.7L1338.9 1117.7L1339.4 1117.7L1339.9 1117.7L1340.4 1117.7L1340.9 1117.7L1341.4 1117.7L1341.9 1117.7L1342.4 1117.7L1342.9 1117.7L1343.4 1117.7L1343.9 1117.7L1344.4 1117.7L1344.9 1117.7L1345.4 1117.7L1345.9 1117.7L1346.4 1117.7L1346.9 1117.7L1347.4 1117.7L1347.9 1117.7L1348.4 1117.7L1348.9 1117.7L1349.4 1117.7L1349.9 1117.7L1350.4 1117.7L1350.9 1117.7L1351.4 1117.7L1351.9 1117.7L1352.4 1117.7L1352.9 1117.7L1353.4 1117.7L1353.9 1117.7L1354.4 1117.7L1354.9 1117.7L1355.4 1117.7L1355.9 1117.7L1356.4 1117.7L1356.9 1117.7L1357.4 1117.7L1357.9 1117.7L1358.4 1117.7L1358.9 1117.7L1359.4 1117.7L1359.9 1117.7L1360.4 1117.7L1360.9 1117.7L1361.4 1117.7L1361.9 1117.7L1362.4 1117.7L1362.9 1117.7L1363.4 1117.7L1363.9 1117.7L1364.4 1117.7L1364.9 1117.7L1365.4 1117.7L1365.9 1117.7L1366.4 1117.7L1366.9 1117.7L1367.4 1117.7L1367.9 1117.7L1368.4 1117.7L1368.9 1117.7L1369.4 1117.7L1369.9 1117.7L1370.4 1117.7L1370.9 1117.7L1371.4 1117.7L1371.9 1117.7L1372.4 1117.7L1372.9 1117.7L1373.4 1117.7L1373.9 1117.7L1374.4 1117.7L1374.9 1117.7L1375.4 1117.7L1375.9 1117.7L1376.4 1117.7L1376.9 1117.7L1377.4 1117.7L1377.9 1117.7L1378.4 1117.7L1378.9 1117.7L1379.4 1117.7L1379.9 1117.7L1380.4 1117.7L1380.9 1117.7L1381.4 1117.7L1381.9 1117.7L1382.4 1117.7L1382.9 1117.7L1383.4 1117.7L1383.9 1117.7L1384.4 1117.7L1384.9 1117.7L1385.4 1117.7L1385.9 1117.7L1386.4 1117.7L1386.9 1117.7L1387.4 1117.7L1387.9 1117.7L1388.4 1117.7L1388.9 1117.7L1389.4 1117.7L1389.9 1117.7L1390.4 1117.7L1390.9 1117.7L1391.4 1117.7L1391.9 1117.7L1392.4 1117.7L1392.9 1117.7L1393.4 1117.7L1393.9 1117.7L1394.4 1117.7L1394.9 1117.7L1395.4 1117.7L1395.9 1117.7L1396.4 1117.7L1396.9 1117.7L1397.4 1117.7L1397.9 1117.7L1398.4 1117.7L1398.9 1117.7L1399.4 1117.7L1399.9 1117.7L1400.4 1117.7L1400.9 1117.7L1401.4 1117.7L1401.9 1117.7L1402.4 1117.7L1402.9 1117.7L1403.4 1117.7L1403.9 1117.7L1404.4 1117.7L1404.9 1117.7L1405.4 1117.7L1405.9 1117.7L1406.4 1117.7L1406.9 1117.7L1407.4 1117.7L1407.9 1117.7L1408.4 1117.7L1408.9 1117.7L1409.4 1117.7L1409.9 1117.7L1410.4 1117.7L1410.9 1117.7L1411.4 1117.7L1411.9 1117.7L1412.4 1117.7L1412.9 1117.7L1413.4 1117.7L1413.9 1117.7L1414.4 1117.7L1414.9 1117.7L1415.4 1117.7L1415.9 1117.7L1416.4 1117.7L1416.9 1117.7L1417.4 1117.7L1417.9 1117.7L1418.4 1117.7L1418.9 1117.7L1419.4 1117.7L1419.9 1117.7L1420.4 1117.7L1420.9 1117.7L1421.4 1117.7L1421.9 1117.7L1422.4 1117.7L1422.9 1117.7L1423.4 1117.7L1423.9 1117.7L1424.4 1117.7L1424.9 1117.7L1425.4 1117.7L1425.9 1117.7L1426.4 1117.7L1426.9 1117.7L1427.4 1117.7L1427.9 1117.7L1428.4 1117.7L1428.9 1117.7L1429.4 1117.7L1429.9 1117.7L1430.4 1117.7L1430.9 1117.7L1431.4 1117.7L1431.9 1117.7L1432.4 1117.7L1432.9 1117.7L1433.4 1117.7L1433.9 1117.7L1434.4 1117.7L1434.9 1117.7L1435.4 1117.7L1435.9 1117.7L1436.4 1117.7L1436.9 1117.7L1437.4 1117.7L1437.9 1117.7L1438.4 1117.7L1438.9 1117.7L1439.4 1117.7L1439.9 1117.7L1440.4 1117.7L1440.9 1117.7L1441.4 1117.7L1441.9 1117.7L1442.4 1117.7L1442.9 1117.7L1443.4 1117.7L1443.9 1117.7L1444.4 1117.7L1444.9 1117.7L1445.4 1117.7L1445.9 1117.7L1446.4 1117.7L1446.9 1117.7L1447.4 1117.7L1447.9 1117.7L1448.4 1117.7L1448.9 1117.7L1449.4 1117.7L1449.9 1117.7L1450.4 1117.7L1450.9 1117.7L1451.4 1117.7L1451.9 1117.7L1452.4 1117.7L1452.9 1117.7L1453.4 1117.7L1453.9 1117.7L1454.4 1117.7L1454.9 1117.7L1455.4 1117.7L1455.9 1117.7L1456.4 1117.7L1456.9 1117.7L1457.4 1117.7L1457.9 1117.7L1458.4 1117.7L1458.9 1117.7L1459.4 1117.7L1459.9 1117.7L1460.4 1117.7L1460.9 1117.7L1461.4 1117.7L1461.9 1117.7L1462.4 1117.7L1462.9 1117.7L1463.4 1117.7L1463.9 1117.7L1464.4 1117.7L1464.9 1117.7L1465.4 1117.7L1465.9 1117.7L1466.4 1117.7L1466.9 1117.7L1467.4 1117.7L1467.9 1117.7L1468.4 1117.7L1468.9 1117.7L1469.4 1117.7L1469.9 1117.7L1470.4 1117.7L1470.9 1117.7L1471.4 1117.7L1471.9 1117.7L1472.4 1117.7L1472.9 1117.7L1473.4 1117.7L1473.9 1117.7L1474.4 1117.7L1474.9 1117.7L1475.4 1117.7L1475.9 1117.7L1476.4 1117.7L1476.9 1117.7L1477.4 1117.7L1477.9 1117.7L1478.4 1117.7L1478.9 1117.7L1479.4 1117.7L1479.9 1117.7L1480.4 1117.7L1480.9 1117.7L1481.4 1117.7L1481.9 1117.7L1482.4 1117.7L1482.9 1117.7L1483.4 1117.7L1483.9 1117.7L1484.4 1117.7L1484.9 1117.7L1485.4 1117.7L1485.9 1117.7L1486.4 1117.7L1486.9 1117.7L1487.4 1117.7L1487.9 1117.7L1488.4 1117.7L1488.9 1117.7L1489.4 1117.7L1489.9 1117.7L1490.4 1117.7L1490.9 1117.7L1491.4 1117.7L1491.9 1117.7L1492.4 1117.7L1492.9 1117.7L1493.4 1117.7L1493.9 1117.7L1494.4 1117.7L1494.9 1117.7L1495.4 1117.7L1495.9 1117.7L1496.4 1117.7L1496.9 1117.7L1497.4 1117.7L1497.9 1117.7L1498.4 1117.7L1498.9 1117.7L1499.4 1117.7L1499.9 1117.7L1500.4 1117.7L1500.9 1117.7L1501.4 1117.7L1501.9 1117.7L1502.4 1117.7L1502.8 1119.2Z" fill="#e8808a"/>
<path d="M1288.9 1175.9L1288.9 1174.4L1289.4 1174.4L1289.9 1174.4L1290.4 1174.4L1290.9 1174.4L1291.4 1174.4L1291.9 1174.4L1292.4 1174.4L1292.9 1174.4L1293.4 1174.4L1293.9 1174.4L1294.4 1174.4L1294.9 1174.4L1295.4 1174.4L1295.9 1174.4L1296.4 1174.4L1296.9 1174.4L1297.4 1174.4L1297.9 1174.4L1298.4 1174.4L1298.9 1174.4L1299.4 1174.4L1299.9 1174.4L1300.4 1174.4L1300.9 1174.4L1301.4 1174.4L1301.9 1174.4L1302.4 1174.4L1302.9 1174.4L1303.4 1174.4L1303.9 1174.4L1304.4 1174.4L1304.9 1174.4L1305.4 1174.4L1305.9 1174.4L1306.4 1174.4L1306.9 1174.4L1307.4 1174.4L1307.9 1174.4L1308.4 1174.4L1308.9 1174.4L1309.4 1174.39L1309.9 1174.39L1310.4 1174.38L1310.9 1174.36L1311.4 1174.32L1311.9 1174.27L1312.4 1174.2L1312.9 1174.09L1313.4 1173.94L1313.9 1173.75L1314.4 1173.51L1314.9 1173.24L1315.4 1172.94L1315.9 1172.64L1316.4 1172.36L1316.9 1172.13L1317.4 1171.97L1317.9 1171.9L1318.4 1171.93L1318.9 1172.06L1319.4 1172.26L1319.9 1172.53L1320.4 1172.82L1320.9 1173.12L1321.4 1173.41L1321.9 1173.66L1322.4 1173.87L1322.9 1174.03L1323.4 1174.16L1323.9 1174.25L1324.4 1174.31L1324.9 1174.34L1325.4 1174.37L1325.9 1174.38L1326.4 1174.39L1326.9 1174.4L1327.4 1174.4L1327.9 1174.4L1328.4 1174.4L1328.9 1174.4L1329.4 1174.4L1329.9 1174.4L1330.4 1174.4L1330.9 1174.4L1331.4 1174.4L1331.9 1174.4L1332.4 1174.4L1332.9 1174.4L1333.4 1174.4L1333.9 1174.4L1334.4 1174.4L1334.9 1174.4L1335.4 1174.4L1335.9 1174.4L1336.4 1174.4L1336.9 1174.4L1337.4 1174.4L1337.9 1174.4L1338.4 1174.4L1338.9 1174.4L1339.4 1174.4L1339.9 1174.4L1340.4 1174.4L1340.9 1174.4L1341.4 1174.4L1341.9 1174.4L1342.4 1174.4L1342.9 1174.4L1343.4 1174.4L1343.9 1174.4L1344.4 1174.4L1344.9 1174.4L1345.4 1174.4L1345.9 1174.4L1346.4 1174.4L1346.9 1174.4L1347.4 1174.4L1347.9 1174.4L1348.4 1174.4L1348.9 1174.4L1349.4 1174.4L1349.9 1174.4L1350.4 1174.4L1350.9 1174.4L1351.4 1174.4L1351.9 1174.4L1352.4 1174.4L1352.9 1174.4L1353.4 1174.4L1353.9 1174.4L1354.4 1174.4L1354.9 1174.4L1355.4 1174.4L1355.9 1174.4L1356.4 1174.4L1356.9 1174.4L1357.4 1174.4L1357.9 1174.4L1358.4 1174.4L1358.9 1174.4L1359.4 1174.4L1359.9 1174.4L1360.4 1174.4L1360.9 1174.4L1361.4 1174.4L1361.9 1174.4L1362.4 1174.4L1362.9 1174.4L1363.4 1174.4L1363.9 1174.4L1364.4 1174.4L1364.9 1174.4L1365.4 1174.4L1365.9 1174.4L1366.4 1174.4L1366.9 1174.4L1367.4 1174.4L1367.9 1174.4L1368.4 1174.4L1368.9 1174.4L1369.4 1174.4L1369.9 1174.4L1370.4 1174.4L1370.9 1174.4L1371.4 1174.4L1371.9 1174.4L1372.4 1174.4L1372.9 1174.4L1373.4 1174.4L1373.9 1174.4L1374.4 1174.4L1374.9 1174.4L1375.4 1174.4L1375.9 1174.4L1376.4 1174.4L1376.9 1174.4L1377.4 1174.4L1377.9 1174.4L1378.4 1174.4L1378.9 1174.4L1379.4 1174.4L1379.9 1174.4L1380.4 1174.4L1380.9 1174.4L1381.4 1174.4L1381.9 1174.4L1382.4 1174.4L1382.9 1174.4L1383.4 1174.4L1383.9 1174.4L1384.4 1174.4L1384.9 1174.4L1385.4 1174.4L1385.9 1174.4L1386.4 1174.4L1386.9 1174.4L1387.4 1174.4L1387.9 1174.4L1388.4 1174.4L1388.9 1174.4L1389.4 1174.4L1389.9 1174.4L1390.4 1174.4L1390.9 1174.4L1391.4 1174.4L1391.9 1174.4L1392.4 1174.4L1392.9 1174.4L1393.4 1174.4L1393.9 1174.4L1394.4 1174.4L1394.9 1174.4L1395.4 1174.4L1395.9 1174.4L1396.4 1174.4L1396.9 1174.4L1397.4 1174.4L1397.9 1174.4L1398.4 1174.4L1398.9 1174.4L1399.4 1174.4L1399.9 1174.4L1400.4 1174.4L1400.9 1174.4L1401.4 1174.4L1401.9 1174.4L1402.4 1174.4L1402.9 1174.4L1403.4 1174.4L1403.9 1174.4L1404.4 1174.4L1404.9 1174.4L1405.4 1174.4L1405.9 1174.4L1406.4 1174.4L1406.9 1174.4L1407.4 1174.4L1407.9 1174.4L1408.4 1174.4L1408.9 1174.4L1409.4 1174.4L1409.9 1174.4L1410.4 1174.4L1410.9 1174.4L1411.4 1174.4L1411.9 1174.4L1412.4 1174.4L1412.9 1174.4L1413.4 1174.4L1413.9 1174.4L1414.4 1174.4L1414.9 1174.4L1415.4 1174.4L1415.9 1174.4L1416.4 1174.4L1416.9 1174.4L1417.4 1174.4L1417.9 1174.4L1418.4 1174.4L1418.9 1174.4L1419.4 1174.4L1419.9 1174.4L1420.4 1174.4L1420.9 1174.4L1421.4 1174.4L1421.9 1174.4L1422.4 1174.4L1422.9 1174.4L1423.4 1174.4L1423.9 1174.4L1424.4 1174.4L1424.9 1174.4L1425.4 1174.4L1425.9 1174.4L1426.4 1174.4L1426.9 1174.4L1427.4 1174.4L1427.9 1174.4L1428.4 1174.4L1428.9 1174.4L1429.4 1174.4L1429.9 1174.4L1430.4 1174.4L1430.9 1174.4L1431.4 1174.4L1431.9 1174.4L1432.4 1174.4L1432.9 1174.4L1433.4 1174.4L1433.9 1174.4L1434.4 1174.4L1434.9 1174.4L1435.4 1174.4L1435.9 1174.4L1436.4 1174.4L1436.9 1174.4L1437.4 1174.4L1437.9 1174.4L1438.4 1174.4L1438.9 1174.4L1439.4 1174.4L1439.9 1174.4L1440.4 1174.4L1440.9 1174.4L1441.4 1174.4L1441.9 1174.4L1442.4 1174.4L1442.9 1174.4L1443.4 1174.4L1443.9 1174.4L1444.4 1174.4L1444.9 1174.4L1445.4 1174.4L1445.9 1174.4L1446.4 1174.4L1446.9 1174.4L1447.4 1174.4L1447.9 1174.4L1448.4 1174.4L1448.9 1174.4L1449.4 1174.4L1449.9 1174.4L1450.4 1174.4L1450.9 1174.4L1451.4 1174.4L1451.9 1174.4L1452.4 1174.4L1452.9 1174.4L1453.4 1174.4L1453.9 1174.4L1454.4 1174.4L1454.9 1174.4L1455.4 1174.4L1455.9 1174.4L1456.4 1174.4L1456.9 1174.4L1457.4 1174.4L1457.9 1174.4L1458.4 1174.4L1458.9 1174.4L1459.4 1174.4L1459.9 1174.4L1460.4 1174.4L1460.9 1174.4L1461.4 1174.4L1461.9 1174.4L1462.4 1174.4L1462.9 1174.4L1463.4 1174.4L1463.9 1174.4L1464.4 1174.4L1464.9 1174.4L1465.4 1174.4L1465.9 1174.4L1466.4 1174.4L1466.9 1174.4L1467.4 1174.4L1467.9 1174.4L1468.4 1174.4L1468.9 1174.4L1469.4 1174.4L1469.9 1174.4L1470.4 1174.4L1470.9 1174.4L1471.4 1174.4L1471.9 1174.4L1472.4 1174.4L1472.9 1174.4L1473.4 1174.4L1473.9 1174.4L1474.4 1174.4L1474.9 1174.4L1475.4 1174.4L1475.9 1174.4L1476.4 1174.4L1476.9 1174.4L1477.4 1174.4L1477.9 1174.4L1478.4 1174.4L1478.9 1174.4L1479.4 1174.4L1479.9 1174.4L1480.4 1174.4L1480.9 1174.4L1481.4 1174.4L1481.9 1174.4L1482.4 1174.4L1482.9 1174.4L1483.4 1174.4L1483.9 1174.4L1484.4 1174.4L1484.9 1174.4L1485.4 1174.4L1485.9 1174.4L1486.4 1174.4L1486.9 1174.4L1487.4 1174.4L1487.9 1174.4L1488.4 1174.4L1488.9 1174.4L1489.4 1174.4L1489.9 1174.4L1490.4 1174.4L1490.9 1174.4L1491.4 1174.4L1491.9 1174.4L1492.4 1174.4L1492.9 1174.4L1493.4 1174.4L1493.9 1174.4L1494.4 1174.4L1494.9 1174.4L1495.4 1174.4L1495.9 1174.4L1496.4 1174.4L1496.9 1174.4L1497.4 1174.4L1497.9 1174.4L1498.4 1174.4L1498.9 1174.4L1499.4 1174.4L1499.9 1174.4L1500.4 1174.4L1500.9 1174.4L1501.4 1174.4L1501.9 1174.4L1502.4 1174.4L1502.8 1175.9Z" fill="#e8808a"/>
<path d="M1288.9 1232.3L1288.9 1230.8L1289.4 1230.8L1289.9 1230.8L1290.4 1230.8L1290.9 1230.8L1291.4 1230.8L1291.9 1230.8L1292.4 1230.8L1292.9 1230.8L1293.4 1230.8L1293.9 1230.8L1294.4 1230.8L1294.9 1230.8L1295.4 1230.8L1295.9 1230.8L1296.4 1230.8L1296.9 1230.8L1297.4 1230.8L1297.9 1230.8L1298.4 1230.8L1298.9 1230.8L1299.4 1230.8L1299.9 1230.8L1300.4 1230.8L1300.9 1230.8L1301.4 1230.8L1301.9 1230.8L1302.4 1230.8L1302.9 1230.8L1303.4 1230.8L1303.9 1230.8L1304.4 1230.8L1304.9 1230.8L1305.4 1230.8L1305.9 1230.8L1306.4 1230.8L1306.9 1230.8L1307.4 1230.8L1307.9 1230.8L1308.4 1230.8L1308.9 1230.8L1309.4 1230.8L1309.9 1230.8L1310.4 1230.8L1310.9 1230.8L1311.4 1230.8L1311.9 1230.8L1312.4 1230.8L1312.9 1230.8L1313.4 1230.8L1313.9 1230.8L1314.4 1230.8L1314.9 1230.79L1315.4 1230.77L1315.9 1230.72L1316.4 1230.6L1316.9 1230.39L1317.4 1230.02L1317.9 1229.49L1318.4 1228.82L1318.9 1228.13L1319.4 1227.57L1319.9 1227.31L1320.4 1227.42L1320.9 1227.88L1321.4 1228.54L1321.9 1229.23L1322.4 1229.83L1322.9 1230.26L1323.4 1230.53L1323.9 1230.68L1324.4 1230.75L1324.9 1230.78L1325.4 1230.79L1325.9 1230.8L1326.4 1230.8L1326.9 1230.8L1327.4 1230.8L1327.9 1230.8L1328.4 1230.8L1328.9 1230.8L1329.4 1230.8L1329.9 1230.8L1330.4 1230.8L1330.9 1230.8L1331.4 1230.8L1331.9 1230.8L1332.4 1230.8L1332.9 1230.8L1333.4 1230.8L1333.9 1230.8L1334.4 1230.8L1334.9 1230.8L1335.4 1230.8L1335.9 1230.8L1336.4 1230.8L1336.9 1230.8L1337.4 1230.8L1337.9 1230.8L1338.4 1230.8L1338.9 1230.8L1339.4 1230.8L1339.9 1230.8L1340.4 1230.8L1340.9 1230.8L1341.4 1230.8L1341.9 1230.8L1342.4 1230.8L1342.9 1230.8L1343.4 1230.8L1343.9 1230.8L1344.4 1230.8L1344.9 1230.8L1345.4 1230.8L1345.9 1230.8L1346.4 1230.8L1346.9 1230.8L1347.4 1230.8L1347.9 1230.8L1348.4 1230.8L1348.9 1230.8L1349.4 1230.8L1349.9 1230.8L1350.4 1230.8L1350.9 1230.8L1351.4 1230.8L1351.9 1230.8L1352.4 1230.8L1352.9 1230.8L1353.4 1230.8L1353.9 1230.8L1354.4 1230.8L1354.9 1230.8L1355.4 1230.8L1355.9 1230.8L1356.4 1230.8L1356.9 1230.8L1357.4 1230.8L1357.9 1230.8L1358.4 1230.8L1358.9 1230.8L1359.4 1230.8L1359.9 1230.8L1360.4 1230.8L1360.9 1230.8L1361.4 1230.8L1361.9 1230.8L1362.4 1230.8L1362.9 1230.8L1363.4 1230.8L1363.9 1230.8L1364.4 1230.8L1364.9 1230.8L1365.4 1230.8L1365.9 1230.8L1366.4 1230.8L1366.9 1230.8L1367.4 1230.8L1367.9 1230.8L1368.4 1230.8L1368.9 1230.8L1369.4 1230.8L1369.9 1230.8L1370.4 1230.8L1370.9 1230.8L1371.4 1230.8L1371.9 1230.8L1372.4 1230.8L1372.9 1230.8L1373.4 1230.8L1373.9 1230.8L1374.4 1230.8L1374.9 1230.8L1375.4 1230.8L1375.9 1230.8L1376.4 1230.8L1376.9 1230.8L1377.4 1230.8L1377.9 1230.8L1378.4 1230.8L1378.9 1230.8L1379.4 1230.8L1379.9 1230.8L1380.4 1230.8L1380.9 1230.8L1381.4 1230.8L1381.9 1230.8L1382.4 1230.8L1382.9 1230.8L1383.4 1230.8L1383.9 1230.8L1384.4 1230.8L1384.9 1230.8L1385.4 1230.8L1385.9 1230.8L1386.4 1230.8L1386.9 1230.8L1387.4 1230.8L1387.9 1230.8L1388.4 1230.8L1388.9 1230.8L1389.4 1230.8L1389.9 1230.8L1390.4 1230.8L1390.9 1230.8L1391.4 1230.8L1391.9 1230.8L1392.4 1230.8L1392.9 1230.8L1393.4 1230.8L1393.9 1230.8L1394.4 1230.8L1394.9 1230.8L1395.4 1230.8L1395.9 1230.8L1396.4 1230.8L1396.9 1230.8L1397.4 1230.8L1397.9 1230.8L1398.4 1230.8L1398.9 1230.8L1399.4 1230.8L1399.9 1230.8L1400.4 1230.8L1400.9 1230.8L1401.4 1230.8L1401.9 1230.8L1402.4 1230.8L1402.9 1230.8L1403.4 1230.8L1403.9 1230.8L1404.4 1230.8L1404.9 1230.8L1405.4 1230.8L1405.9 1230.8L1406.4 1230.8L1406.9 1230.8L1407.4 1230.8L1407.9 1230.8L1408.4 1230.8L1408.9 1230.8L1409.4 1230.8L1409.9 1230.8L1410.4 1230.8L1410.9 1230.8L1411.4 1230.8L1411.9 1230.8L1412.4 1230.8L1412.9 1230.8L1413.4 1230.8L1413.9 1230.8L1414.4 1230.8L1414.9 1230.8L1415.4 1230.8L1415.9 1230.8L1416.4 1230.8L1416.9 1230.8L1417.4 1230.8L1417.9 1230.8L1418.4 1230.8L1418.9 1230.8L1419.4 1230.8L1419.9 1230.8L1420.4 1230.8L1420.9 1230.8L1421.4 1230.8L1421.9 1230.8L1422.4 1230.8L1422.9 1230.8L1423.4 1230.8L1423.9 1230.8L1424.4 1230.8L1424.9 1230.8L1425.4 1230.8L1425.9 1230.8L1426.4 1230.8L1426.9 1230.8L1427.4 1230.8L1427.9 1230.8L1428.4 1230.8L1428.9 1230.8L1429.4 1230.8L1429.9 1230.8L1430.4 1230.8L1430.9 1230.8L1431.4 1230.8L1431.9 1230.8L1432.4 1230.8L1432.9 1230.8L1433.4 1230.8L1433.9 1230.8L1434.4 1230.8L1434.9 1230.8L1435.4 1230.8L1435.9 1230.8L1436.4 1230.8L1436.9 1230.8L1437.4 1230.8L1437.9 1230.8L1438.4 1230.8L1438.9 1230.8L1439.4 1230.8L1439.9 1230.8L1440.4 1230.8L1440.9 1230.8L1441.4 1230.8L1441.9 1230.8L1442.4 1230.8L1442.9 1230.8L1443.4 1230.8L1443.9 1230.8L1444.4 1230.8L1444.9 1230.8L1445.4 1230.8L1445.9 1230.8L1446.4 1230.8L1446.9 1230.8L1447.4 1230.8L1447.9 1230.8L1448.4 1230.8L1448.9 1230.8L1449.4 1230.8L1449.9 1230.8L1450.4 1230.8L1450.9 1230.8L1451.4 1230.8L1451.9 1230.8L1452.4 1230.8L1452.9 1230.8L1453.4 1230.8L1453.9 1230.8L1454.4 1230.8L1454.9 1230.8L1455.4 1230.8L1455.9 1230.8L1456.4 1230.8L1456.9 1230.8L1457.4 1230.8L1457.9 1230.8L1458.4 1230.8L1458.9 1230.8L1459.4 1230.8L1459.9 1230.8L1460.4 1230.8L1460.9 1230.8L1461.4 1230.8L1461.9 1230.8L1462.4 1230.8L1462.9 1230.8L1463.4 1230.8L1463.9 1230.8L1464.4 1230.8L1464.9 1230.8L1465.4 1230.8L1465.9 1230.8L1466.4 1230.8L1466.9 1230.8L1467.4 1230.8L1467.9 1230.8L1468.4 1230.8L1468.9 1230.8L1469.4 1230.8L1469.9 1230.8L1470.4 1230.8L1470.9 1230.8L1471.4 1230.8L1471.9 1230.8L1472.4 1230.8L1472.9 1230.8L1473.4 1230.8L1473.9 1230.8L1474.4 1230.8L1474.9 1230.8L1475.4 1230.8L1475.9 1230.8L1476.4 1230.8L1476.9 1230.8L1477.4 1230.8L1477.9 1230.8L1478.4 1230.8L1478.9 1230.8L1479.4 1230.8L1479.9 1230.8L1480.4 1230.8L1480.9 1230.8L1481.4 1230.8L1481.9 1230.8L1482.4 1230.8L1482.9 1230.8L1483.4 1230.8L1483.9 1230.8L1484.4 1230.8L1484.9 1230.8L1485.4 1230.8L1485.9 1230.8L1486.4 1230.8L1486.9 1230.8L1487.4 1230.8L1487.9 1230.8L1488.4 1230.8L1488.9 1230.8L1489.4 1230.8L1489.9 1230.8L1490.4 1230.8L1490.9 1230.8L1491.4 1230.8L1491.9 1230.8L1492.4 1230.8L1492.9 1230.8L1493.4 1230.8L1493.9 1230.8L1494.4 1230.8L1494.9 1230.8L1495.4 1230.8L1495.9 1230.8L1496.4 1230.8L1496.9 1230.8L1497.4 1230.8L1497.9 1230.8L1498.4 1230.8L1498.9 1230.8L1499.4 1230.8L1499.9 1230.8L1500.4 1230.8L1500.9 1230.8L1501.4 1230.8L1501.9 1230.8L1502.4 1230.8L1502.8 1232.3Z" fill="#8d90e0"/>
<path d="M1288.9 1289.4L1288.9 1287.9L1289.4 1287.9L1289.9 1287.9L1290.4 1287.9L1290.9 1287.9L1291.4 1287.9L1291.9 1287.9L1292.4 1287.9L1292.9 1287.9L1293.4 1287.9L1293.9 1287.9L1294.4 1287.9L1294.9 1287.9L1295.4 1287.9L1295.9 1287.9L1296.4 1287.9L1296.9 1287.9L1297.4 1287.9L1297.9 1287.9L1298.4 1287.9L1298.9 1287.9L1299.4 1287.9L1299.9 1287.9L1300.4 1287.9L1300.9 1287.9L1301.4 1287.9L1301.9 1287.9L1302.4 1287.9L1302.9 1287.9L1303.4 1287.9L1303.9 1287.9L1304.4 1287.9L1304.9 1287.9L1305.4 1287.9L1305.9 1287.9L1306.4 1287.9L1306.9 1287.9L1307.4 1287.9L1307.9 1287.9L1308.4 1287.9L1308.9 1287.9L1309.4 1287.9L1309.9 1287.9L1310.4 1287.9L1310.9 1287.89L1311.4 1287.89L1311.9 1287.86L1312.4 1287.82L1312.9 1287.73L1313.4 1287.56L1313.9 1287.29L1314.4 1286.88L1314.9 1286.31L1315.4 1285.62L1315.9 1284.87L1316.4 1284.17L1316.9 1283.64L1317.4 1283.41L1317.9 1283.51L1318.4 1283.93L1318.9 1284.57L1319.4 1285.32L1319.9 1286.05L1320.4 1286.67L1320.9 1287.14L1321.4 1287.47L1321.9 1287.67L1322.4 1287.79L1322.9 1287.85L1323.4 1287.88L1323.9 1287.89L1324.4 1287.9L1324.9 1287.9L1325.4 1287.9L1325.9 1287.9L1326.4 1287.9L1326.9 1287.9L1327.4 1287.9L1327.9 1287.9L1328.4 1287.9L1328.9 1287.9L1329.4 1287.9L1329.9 1287.9L1330.4 1287.9L1330.9 1287.9L1331.4 1287.9L1331.9 1287.9L1332.4 1287.9L1332.9 1287.9L1333.4 1287.9L1333.9 1287.9L1334.4 1287.9L1334.9 1287.9L1335.4 1287.9L1335.9 1287.9L1336.4 1287.9L1336.9 1287.9L1337.4 1287.9L1337.9 1287.9L1338.4 1287.9L1338.9 1287.9L1339.4 1287.9L1339.9 1287.9L1340.4 1287.9L1340.9 1287.9L1341.4 1287.9L1341.9 1287.9L1342.4 1287.9L1342.9 1287.9L1343.4 1287.9L1343.9 1287.9L1344.4 1287.9L1344.9 1287.9L1345.4 1287.9L1345.9 1287.9L1346.4 1287.9L1346.9 1287.9L1347.4 1287.9L1347.9 1287.9L1348.4 1287.9L1348.9 1287.9L1349.4 1287.9L1349.9 1287.9L1350.4 1287.9L1350.9 1287.9L1351.4 1287.9L1351.9 1287.9L1352.4 1287.9L1352.9 1287.9L1353.4 1287.9L1353.9 1287.9L1354.4 1287.9L1354.9 1287.9L1355.4 1287.9L1355.9 1287.9L1356.4 1287.9L1356.9 1287.9L1357.4 1287.9L1357.9 1287.9L1358.4 1287.9L1358.9 1287.9L1359.4 1287.9L1359.9 1287.9L1360.4 1287.9L1360.9 1287.9L1361.4 1287.9L1361.9 1287.9L1362.4 1287.9L1362.9 1287.9L1363.4 1287.9L1363.9 1287.9L1364.4 1287.9L1364.9 1287.9L1365.4 1287.9L1365.9 1287.9L1366.4 1287.9L1366.9 1287.9L1367.4 1287.9L1367.9 1287.9L1368.4 1287.9L1368.9 1287.9L1369.4 1287.9L1369.9 1287.9L1370.4 1287.9L1370.9 1287.9L1371.4 1287.9L1371.9 1287.9L1372.4 1287.9L1372.9 1287.9L1373.4 1287.9L1373.9 1287.9L1374.4 1287.9L1374.9 1287.9L1375.4 1287.9L1375.9 1287.9L1376.4 1287.9L1376.9 1287.9L1377.4 1287.9L1377.9 1287.9L1378.4 1287.9L1378.9 1287.9L1379.4 1287.9L1379.9 1287.9L1380.4 1287.9L1380.9 1287.9L1381.4 1287.9L1381.9 1287.9L1382.4 1287.9L1382.9 1287.9L1383.4 1287.9L1383.9 1287.9L1384.4 1287.9L1384.9 1287.9L1385.4 1287.9L1385.9 1287.9L1386.4 1287.9L1386.9 1287.9L1387.4 1287.9L1387.9 1287.9L1388.4 1287.9L1388.9 1287.9L1389.4 1287.9L1389.9 1287.9L1390.4 1287.9L1390.9 1287.9L1391.4 1287.9L1391.9 1287.9L1392.4 1287.9L1392.9 1287.9L1393.4 1287.9L1393.9 1287.9L1394.4 1287.9L1394.9 1287.9L1395.4 1287.9L1395.9 1287.9L1396.4 1287.9L1396.9 1287.9L1397.4 1287.9L1397.9 1287.9L1398.4 1287.9L1398.9 1287.9L1399.4 1287.9L1399.9 1287.9L1400.4 1287.9L1400.9 1287.9L1401.4 1287.9L1401.9 1287.9L1402.4 1287.9L1402.9 1287.9L1403.4 1287.9L1403.9 1287.9L1404.4 1287.9L1404.9 1287.9L1405.4 1287.9L1405.9 1287.9L1406.4 1287.9L1406.9 1287.9L1407.4 1287.9L1407.9 1287.9L1408.4 1287.9L1408.9 1287.9L1409.4 1287.9L1409.9 1287.9L1410.4 1287.9L1410.9 1287.9L1411.4 1287.9L1411.9 1287.9L1412.4 1287.9L1412.9 1287.9L1413.4 1287.9L1413.9 1287.9L1414.4 1287.9L1414.9 1287.9L1415.4 1287.9L1415.9 1287.9L1416.4 1287.9L1416.9 1287.9L1417.4 1287.9L1417.9 1287.9L1418.4 1287.9L1418.9 1287.9L1419.4 1287.9L1419.9 1287.9L1420.4 1287.9L1420.9 1287.9L1421.4 1287.9L1421.9 1287.9L1422.4 1287.9L1422.9 1287.9L1423.4 1287.9L1423.9 1287.9L1424.4 1287.9L1424.9 1287.9L1425.4 1287.9L1425.9 1287.9L1426.4 1287.9L1426.9 1287.9L1427.4 1287.9L1427.9 1287.9L1428.4 1287.9L1428.9 1287.9L1429.4 1287.9L1429.9 1287.9L1430.4 1287.9L1430.9 1287.9L1431.4 1287.9L1431.9 1287.9L1432.4 1287.9L1432.9 1287.9L1433.4 1287.9L1433.9 1287.9L1434.4 1287.9L1434.9 1287.9L1435.4 1287.9L1435.9 1287.9L1436.4 1287.9L1436.9 1287.9L1437.4 1287.9L1437.9 1287.9L1438.4 1287.9L1438.9 1287.9L1439.4 1287.9L1439.9 1287.9L1440.4 1287.9L1440.9 1287.9L1441.4 1287.9L1441.9 1287.9L1442.4 1287.9L1442.9 1287.9L1443.4 1287.9L1443.9 1287.9L1444.4 1287.9L1444.9 1287.9L1445.4 1287.9L1445.9 1287.9L1446.4 1287.9L1446.9 1287.9L1447.4 1287.9L1447.9 1287.9L1448.4 1287.9L1448.9 1287.9L1449.4 1287.9L1449.9 1287.9L1450.4 1287.9L1450.9 1287.9L1451.4 1287.9L1451.9 1287.9L1452.4 1287.9L1452.9 1287.9L1453.4 1287.9L1453.9 1287.9L1454.4 1287.9L1454.9 1287.9L1455.4 1287.9L1455.9 1287.9L1456.4 1287.9L1456.9 1287.9L1457.4 1287.9L1457.9 1287.9L1458.4 1287.9L1458.9 1287.9L1459.4 1287.9L1459.9 1287.9L1460.4 1287.9L1460.9 1287.9L1461.4 1287.9L1461.9 1287.9L1462.4 1287.9L1462.9 1287.9L1463.4 1287.9L1463.9 1287.9L1464.4 1287.9L1464.9 1287.9L1465.4 1287.9L1465.9 1287.9L1466.4 1287.9L1466.9 1287.9L1467.4 1287.9L1467.9 1287.9L1468.4 1287.9L1468.9 1287.9L1469.4 1287.9L1469.9 1287.9L1470.4 1287.9L1470.9 1287.9L1471.4 1287.9L1471.9 1287.9L1472.4 1287.9L1472.9 1287.9L1473.4 1287.9L1473.9 1287.9L1474.4 1287.9L1474.9 1287.9L1475.4 1287.9L1475.9 1287.9L1476.4 1287.9L1476.9 1287.9L1477.4 1287.9L1477.9 1287.9L1478.4 1287.9L1478.9 1287.9L1479.4 1287.9L1479.9 1287.9L1480.4 1287.9L1480.9 1287.9L1481.4 1287.9L1481.9 1287.9L1482.4 1287.9L1482.9 1287.9L1483.4 1287.9L1483.9 1287.9L1484.4 1287.9L1484.9 1287.9L1485.4 1287.9L1485.9 1287.9L1486.4 1287.9L1486.9 1287.9L1487.4 1287.9L1487.9 1287.9L1488.4 1287.9L1488.9 1287.9L1489.4 1287.9L1489.9 1287.9L1490.4 1287.9L1490.9 1287.9L1491.4 1287.9L1491.9 1287.9L1492.4 1287.9L1492.9 1287.9L1493.4 1287.9L1493.9 1287.9L1494.4 1287.9L1494.9 1287.9L1495.4 1287.9L1495.9 1287.9L1496.4 1287.9L1496.9 1287.9L1497.4 1287.9L1497.9 1287.9L1498.4 1287.9L1498.9 1287.9L1499.4 1287.9L1499.9 1287.9L1500.4 1287.9L1500.9 1287.9L1501.4 1287.9L1501.9 1287.9L1502.4 1287.9L1502.8 1289.4Z" fill="#8d90e0"/>
<path d="M1288.9 1345.7L1288.9 1342.28L1289.4 1342.93L1289.9 1343.24L1290.4 1341.98L1290.9 1341.24L1291.4 1342.66L1291.9 1342.78L1292.4 1343.31L1292.9 1343.23L1293.4 1342.89L1293.9 1342.76L1294.4 1340.97L1294.9 1341.19L1295.4 1341.24L1295.9 1341.03L1296.4 1340.38L1296.9 1340.71L1297.4 1341.09L1297.9 1342.4L1298.4 1343.34L1298.9 1343.4L1299.4 1342.26L1299.9 1341.89L1300.4 1341.67L1300.9 1342.63L1301.4 1342.69L1301.9 1343.08L1302.4 1342.23L1302.9 1342.61L1303.4 1342.07L1303.9 1342.24L1304.4 1342.78L1304.9 1341.44L1305.4 1342.11L1305.9 1342.35L1306.4 1340.87L1306.9 1340.22L1307.4 1339.04L1307.9 1340.35L1308.4 1341.06L1308.9 1341.05L1309.4 1340.67L1309.9 1339.56L1310.4 1339L1310.9 1339.79L1311.4 1339.55L1311.9 1340.26L1312.4 1340.56L1312.9 1340.49L1313.4 1340L1313.9 1339.38L1314.4 1338.98L1314.9 1339.25L1315.4 1337.81L1315.9 1337.37L1316.4 1338.9L1316.9 1339.89L1317.4 1339.91L1317.9 1340.8L1318.4 1340.68L1318.9 1340.49L1319.4 1340.2L1319.9 1341.35L1320.4 1341.51L1320.9 1340.12L1321.4 1340.7L1321.9 1341.11L1322.4 1342.05L1322.9 1341.93L1323.4 1340.85L1323.9 1341.86L1324.4 1342.36L1324.9 1342.54L1325.4 1342.81L1325.9 1342.39L1326.4 1343L1326.9 1342.96L1327.4 1342.97L1327.9 1343.09L1328.4 1343.03L1328.9 1343.2L1329.4 1342.14L1329.9 1342.21L1330.4 1341.59L1330.9 1341.65L1331.4 1341.18L1331.9 1342.6L1332.4 1342.98L1332.9 1343.33L1333.4 1343.14L1333.9 1342.5L1334.4 1343.12L1334.9 1341.9L1335.4 1342.19L1335.9 1341.53L1336.4 1342.13L1336.9 1342.64L1337.4 1342.62L1337.9 1341.24L1338.4 1342.38L1338.9 1343L1339.4 1342.01L1339.9 1342.77L1340.4 1343.33L1340.9 1343.3L1341.4 1342.58L1341.9 1343.35L1342.4 1342.69L1342.9 1342.63L1343.4 1343.19L1343.9 1343.43L1344.4 1343L1344.9 1342.68L1345.4 1342.7L1345.9 1343.27L1346.4 1343.48L1346.9 1343.08L1347.4 1343.46L1347.9 1342.46L1348.4 1342.7L1348.9 1342.43L1349.4 1340.88L1349.9 1340.54L1350.4 1342.41L1350.9 1342.82L1351.4 1343.17L1351.9 1342.01L1352.4 1340.51L1352.9 1341.38L1353.4 1341.66L1353.9 1342.91L1354.4 1342.76L1354.9 1341.88L1355.4 1341.19L1355.9 1340.38L1356.4 1340.44L1356.9 1340.03L1357.4 1339.73L1357.9 1339.42L1358.4 1338.96L1358.9 1339.92L1359.4 1339.04L1359.9 1338.14L1360.4 1339.02L1360.9 1340.15L1361.4 1341.9L1361.9 1342.94L1362.4 1343.19L1362.9 1343.35L1363.4 1342.4L1363.9 1341.75L1364.4 1341.69L1364.9 1342.91L1365.4 1343.18L1365.9 1343.4L1366.4 1343.54L1366.9 1343L1367.4 1341.33L1367.9 1340.72L1368.4 1341.84L1368.9 1342.27L1369.4 1342.43L1369.9 1342.94L1370.4 1341.99L1370.9 1342.24L1371.4 1341.62L1371.9 1340.98L1372.4 1341.91L1372.9 1341.45L1373.4 1339.02L1373.9 1339.18L1374.4 1338.11L1374.9 1339.18L1375.4 1337.98L1375.9 1336.91L1376.4 1337.48L1376.9 1337.56L1377.4 1336.33L1377.9 1335.24L1378.4 1335.8L1378.9 1335.47L1379.4 1335.3L1379.9 1335.9L1380.4 1335.58L1380.9 1334.2L1381.4 1332.33L1381.9 1328.81L1382.4 1324.84L1382.9 1320.16L1383.4 1315.52L1383.9 1310.45L1384.4 1306.68L1384.9 1301.66L1385.4 1303.37L1385.9 1306.19L1386.4 1308.03L1386.9 1311.46L1387.4 1314.28L1387.9 1318.64L1388.4 1321.65L1388.9 1325.67L1389.4 1327L1389.9 1327.46L1390.4 1327.29L1390.9 1328.3L1391.4 1328.06L1391.9 1326.83L1392.4 1328.12L1392.9 1328.52L1393.4 1330.76L1393.9 1331.67L1394.4 1334.02L1394.9 1336.46L1395.4 1339.17L1395.9 1339.48L1396.4 1340.24L1396.9 1341.4L1397.4 1341.27L1397.9 1341.35L1398.4 1341.98L1398.9 1341.39L1399.4 1340.85L1399.9 1340.82L1400.4 1341.26L1400.9 1341.99L1401.4 1342.11L1401.9 1341.84L1402.4 1340.82L1402.9 1339.4L1403.4 1340.24L1403.9 1339.58L1404.4 1339.49L1404.9 1339.21L1405.4 1338.49L1405.9 1338.84L1406.4 1340.32L1406.9 1340.54L1407.4 1341.27L1407.9 1340.64L1408.4 1340.57L1408.9 1340.81L1409.4 1340.85L1409.9 1341.61L1410.4 1342.99L1410.9 1342.87L1411.4 1343L1411.9 1343.01L1412.4 1343.04L1412.9 1341.92L1413.4 1341.72L1413.9 1342.04L1414.4 1342.04L1414.9 1341.24L1415.4 1341.24L1415.9 1340.67L1416.4 1340.32L1416.9 1341.15L1417.4 1340.21L1417.9 1339.43L1418.4 1338.53L1418.9 1337.5L1419.4 1335.41L1419.9 1333.92L1420.4 1330.75L1420.9 1327.44L1421.4 1325.14L1421.9 1322.66L1422.4 1322.1L1422.9 1323.73L1423.4 1325.92L1423.9 1328.96L1424.4 1332.08L1424.9 1332.22L1425.4 1333.18L1425.9 1335.47L1426.4 1337.79L1426.9 1338.39L1427.4 1339.68L1427.9 1340L1428.4 1340.12L1428.9 1340.57L1429.4 1341.17L1429.9 1341.17L1430.4 1340.45L1430.9 1341.28L1431.4 1341.18L1431.9 1341.12L1432.4 1340.9L1432.9 1342.15L1433.4 1342.58L1433.9 1343.28L1434.4 1343.23L1434.9 1343.16L1435.4 1342.63L1435.9 1342.6L1436.4 1342.25L1436.9 1343.24L1437.4 1343.5L1437.9 1342.83L1438.4 1342.94L1438.9 1342.4L1439.4 1342.4L1439.9 1343.49L1440.4 1342.72L1440.9 1343.13L1441.4 1342.26L1441.9 1342.7L1442.4 1342.81L1442.9 1342.86L1443.4 1342.09L1443.9 1343.48L1444.4 1343.45L1444.9 1343.07L1445.4 1343.18L1445.9 1342.86L1446.4 1343.02L1446.9 1343.49L1447.4 1343.36L1447.9 1343.23L1448.4 1342.53L1448.9 1341.33L1449.4 1342.55L1449.9 1341.37L1450.4 1341.62L1450.9 1342.81L1451.4 1342.88L1451.9 1342.14L1452.4 1343.53L1452.9 1342.47L1453.4 1342.93L1453.9 1343.16L1454.4 1343.4L1454.9 1342.21L1455.4 1342.58L1455.9 1343.22L1456.4 1343.55L1456.9 1342.23L1457.4 1342.2L1457.9 1340.73L1458.4 1340.42L1458.9 1340.78L1459.4 1340.64L1459.9 1341.65L1460.4 1341.66L1460.9 1341.86L1461.4 1341.98L1461.9 1342.22L1462.4 1341.61L1462.9 1342.82L1463.4 1343.16L1463.9 1342.99L1464.4 1343.46L1464.9 1342.2L1465.4 1343.35L1465.9 1342.94L1466.4 1343.48L1466.9 1342.73L1467.4 1342.71L1467.9 1342.21L1468.4 1342.72L1468.9 1342.81L1469.4 1343.44L1469.9 1341.86L1470.4 1342.5L1470.9 1343.53L1471.4 1342.74L1471.9 1342.99L1472.4 1342.74L1472.9 1342.54L1473.4 1343.54L1473.9 1343.43L1474.4 1343.15L1474.9 1341.74L1475.4 1341.95L1475.9 1342.03L1476.4 1342.01L1476.9 1342.95L1477.4 1343.3L1477.9 1342.91L1478.4 1343.27L1478.9 1343.46L1479.4 1342.67L1479.9 1342.15L1480.4 1343.45L1480.9 1342.99L1481.4 1342.47L1481.9 1342.1L1482.4 1340.88L1482.9 1342.71L1483.4 1341.75L1483.9 1342.12L1484.4 1343.22L1484.9 1343.4L1485.4 1343.3L1485.9 1342.16L1486.4 1341.1L1486.9 1340.86L1487.4 1340.55L1487.9 1342.2L1488.4 1342.91L1488.9 1342.44L1489.4 1340.89L1489.9 1340.54L1490.4 1341.04L1490.9 1340.62L1491.4 1342.32L1491.9 1342.87L1492.4 1343.02L1492.9 1342.86L1493.4 1342.68L1493.9 1343.28L1494.4 1343.46L1494.9 1343.13L1495.4 1342.15L1495.9 1342.47L1496.4 1342.74L1496.9 1341.64L1497.4 1342.26L1497.9 1343.07L1498.4 1343L1498.9 1343.45L1499.4 1342.84L1499.9 1343.37L1500.4 1342.03L1500.9 1343.5L1501.4 1342.21L1501.9 1341.38L1502.4 1342.37L1502.8 1345.7Z" fill="#ec9a3a"/>
<path d="M1288.9 1402.1L1288.9 1398.77L1289.4 1399.26L1289.9 1399.38L1290.4 1399.2L1290.9 1399.08L1291.4 1399.8L1291.9 1399.02L1292.4 1398.72L1292.9 1399.34L1293.4 1399.71L1293.9 1399.78L1294.4 1398.86L1294.9 1399.39L1295.4 1399.4L1295.9 1399.45L1296.4 1399.91L1296.9 1399.75L1297.4 1399.9L1297.9 1399.68L1298.4 1399.6L1298.9 1398.71L1299.4 1399.03L1299.9 1398.3L1300.4 1398.43L1300.9 1399.5L1301.4 1399.21L1301.9 1399.84L1302.4 1399.22L1302.9 1398.57L1303.4 1399.47L1303.9 1399.14L1304.4 1399.25L1304.9 1398.41L1305.4 1399.85L1305.9 1399.52L1306.4 1399.89L1306.9 1399.2L1307.4 1399.62L1307.9 1397.89L1308.4 1397.24L1308.9 1398.48L1309.4 1398.53L1309.9 1399.7L1310.4 1399.24L1310.9 1397.56L1311.4 1397.52L1311.9 1397.72L1312.4 1397.81L1312.9 1397.36L1313.4 1397.1L1313.9 1398.39L1314.4 1397.63L1314.9 1397.61L1315.4 1398.54L1315.9 1399.94L1316.4 1399.57L1316.9 1399.82L1317.4 1398.91L1317.9 1398.71L1318.4 1399.51L1318.9 1399.09L1319.4 1398.79L1319.9 1398.13L1320.4 1397.77L1320.9 1396.7L1321.4 1397.3L1321.9 1397.58L1322.4 1397.74L1322.9 1398.25L1323.4 1399.25L1323.9 1398.74L1324.4 1398.98L1324.9 1398.22L1325.4 1397.64L1325.9 1397.4L1326.4 1396.31L1326.9 1396.63L1327.4 1396.71L1327.9 1395.91L1328.4 1395.03L1328.9 1394.64L1329.4 1393.55L1329.9 1393.62L1330.4 1392.97L1330.9 1393.48L1331.4 1393.27L1331.9 1394.47L1332.4 1393.77L1332.9 1393.09L1333.4 1393.82L1333.9 1393.07L1334.4 1393.54L1334.9 1394.15L1335.4 1394.44L1335.9 1396.11L1336.4 1396.49L1336.9 1396.81L1337.4 1396.76L1337.9 1397.52L1338.4 1396.59L1338.9 1397.63L1339.4 1397.83L1339.9 1398.2L1340.4 1398.23L1340.9 1397.97L1341.4 1398.7L1341.9 1399.37L1342.4 1399.78L1342.9 1399.91L1343.4 1398.33L1343.9 1399.1L1344.4 1399.44L1344.9 1399.79L1345.4 1399.87L1345.9 1399.52L1346.4 1399.76L1346.9 1399.52L1347.4 1399.13L1347.9 1399.61L1348.4 1399.56L1348.9 1399.88L1349.4 1398.85L1349.9 1399.72L1350.4 1399.95L1350.9 1399.53L1351.4 1399.7L1351.9 1397.91L1352.4 1397.62L1352.9 1399.25L1353.4 1398.06L1353.9 1397.35L1354.4 1397.32L1354.9 1397.83L1355.4 1396.22L1355.9 1396.96L1356.4 1396.83L1356.9 1396.44L1357.4 1395.17L1357.9 1394.33L1358.4 1394.24L1358.9 1393.73L1359.4 1394.5L1359.9 1395.14L1360.4 1394.16L1360.9 1396.13L1361.4 1396.19L1361.9 1396.7L1362.4 1396.28L1362.9 1396.02L1363.4 1397.15L1363.9 1399.22L1364.4 1398.87L1364.9 1397.75L1365.4 1397.52L1365.9 1397.97L1366.4 1398.8L1366.9 1399.81L1367.4 1399.2L1367.9 1398.21L1368.4 1399.5L1368.9 1398.85L1369.4 1398.71L1369.9 1399.16L1370.4 1398.76L1370.9 1397.24L1371.4 1397.81L1371.9 1397.14L1372.4 1396.18L1372.9 1394.81L1373.4 1394.35L1373.9 1394.87L1374.4 1392.83L1374.9 1392.7L1375.4 1391.44L1375.9 1392.33L1376.4 1391.77L1376.9 1392.33L1377.4 1391.73L1377.9 1391.86L1378.4 1390.62L1378.9 1392.41L1379.4 1392.36L1379.9 1391.01L1380.4 1391.68L1380.9 1391.34L1381.4 1391.02L1381.9 1388.94L1382.4 1384.89L1382.9 1379.89L1383.4 1373.02L1383.9 1366.82L1384.4 1362.52L1384.9 1358.83L1385.4 1362.25L1385.9 1365.16L1386.4 1369.14L1386.9 1372.37L1387.4 1377.31L1387.9 1380.4L1388.4 1381.58L1388.9 1381.08L1389.4 1382.17L1389.9 1381.5L1390.4 1380.7L1390.9 1381.06L1391.4 1383.33L1391.9 1384.89L1392.4 1386.19L1392.9 1387.38L1393.4 1389.72L1393.9 1391.31L1394.4 1392.58L1394.9 1394.33L1395.4 1395.33L1395.9 1396.5L1396.4 1396.53L1396.9 1395.82L1397.4 1396.22L1397.9 1396.43L1398.4 1397.1L1398.9 1396.75L1399.4 1398.51L1399.9 1398.92L1400.4 1397.41L1400.9 1396.51L1401.4 1396.3L1401.9 1397.96L1402.4 1399.06L1402.9 1399.15L1403.4 1397.79L1403.9 1396.95L1404.4 1398.28L1404.9 1398.45L1405.4 1398.19L1405.9 1399.03L1406.4 1399.52L1406.9 1399.26L1407.4 1399.93L1407.9 1398.57L1408.4 1398.63L1408.9 1397.29L1409.4 1398.21L1409.9 1398.59L1410.4 1398.64L1410.9 1399.49L1411.4 1399.4L1411.9 1399.12L1412.4 1399.26L1412.9 1398.9L1413.4 1398.03L1413.9 1399.15L1414.4 1398.35L1414.9 1397.9L1415.4 1397.82L1415.9 1397.83L1416.4 1395.81L1416.9 1396.87L1417.4 1396.39L1417.9 1395.37L1418.4 1395.21L1418.9 1393.54L1419.4 1390.02L1419.9 1387.26L1420.4 1383.52L1420.9 1382.21L1421.4 1380.67L1421.9 1380L1422.4 1379.59L1422.9 1380.67L1423.4 1381.06L1423.9 1382.78L1424.4 1385.21L1424.9 1387.19L1425.4 1389.1L1425.9 1390.89L1426.4 1392.36L1426.9 1392.65L1427.4 1393.6L1427.9 1393.49L1428.4 1394.23L1428.9 1394.33L1429.4 1394.91L1429.9 1396.68L1430.4 1397.25L1430.9 1397.46L1431.4 1397.57L1431.9 1397.5L1432.4 1398L1432.9 1396.84L1433.4 1396.75L1433.9 1397.9L1434.4 1398.41L1434.9 1398.21L1435.4 1399.31L1435.9 1398.6L1436.4 1398.29L1436.9 1398.64L1437.4 1396.52L1437.9 1395.86L1438.4 1395.91L1438.9 1396.44L1439.4 1395.16L1439.9 1395.66L1440.4 1394.64L1440.9 1395.39L1441.4 1396.54L1441.9 1397.23L1442.4 1398.01L1442.9 1398.14L1443.4 1397.98L1443.9 1398.34L1444.4 1399.57L1444.9 1399.26L1445.4 1398.89L1445.9 1398.17L1446.4 1398.54L1446.9 1398.53L1447.4 1398.47L1447.9 1398.02L1448.4 1398.81L1448.9 1399.98L1449.4 1399.85L1449.9 1399.59L1450.4 1398.65L1450.9 1399.27L1451.4 1399.3L1451.9 1399.61L1452.4 1399.07L1452.9 1399.09L1453.4 1398.47L1453.9 1398.83L1454.4 1398.26L1454.9 1396.85L1455.4 1396.94L1455.9 1397.61L1456.4 1398.89L1456.9 1399.29L1457.4 1399.61L1457.9 1398.66L1458.4 1398.93L1458.9 1399.46L1459.4 1398.58L1459.9 1398.08L1460.4 1398L1460.9 1398.49L1461.4 1399.85L1461.9 1399.02L1462.4 1398.93L1462.9 1399.99L1463.4 1399.62L1463.9 1397.98L1464.4 1397.06L1464.9 1398.27L1465.4 1399.22L1465.9 1399.39L1466.4 1399.1L1466.9 1397.84L1467.4 1398.39L1467.9 1398L1468.4 1397.44L1468.9 1397.13L1469.4 1395.95L1469.9 1394.91L1470.4 1393.7L1470.9 1393.03L1471.4 1392.36L1471.9 1391.3L1472.4 1391.6L1472.9 1392.86L1473.4 1394.19L1473.9 1393.68L1474.4 1395.71L1474.9 1397.03L1475.4 1397.05L1475.9 1397.7L1476.4 1399.03L1476.9 1399.24L1477.4 1398.85L1477.9 1399.6L1478.4 1398.88L1478.9 1397.74L1479.4 1396.67L1479.9 1396.75L1480.4 1396.46L1480.9 1396.89L1481.4 1397.97L1481.9 1398L1482.4 1398.15L1482.9 1399.24L1483.4 1399.15L1483.9 1398.78L1484.4 1399.37L1484.9 1399.94L1485.4 1398.77L1485.9 1399.8L1486.4 1398.7L1486.9 1398.93L1487.4 1398.29L1487.9 1398.16L1488.4 1399.85L1488.9 1399.53L1489.4 1399.82L1489.9 1398.73L1490.4 1398.67L1490.9 1399.23L1491.4 1398.16L1491.9 1398.18L1492.4 1398.57L1492.9 1398.95L1493.4 1398.75L1493.9 1399.76L1494.4 1399.74L1494.9 1398.99L1495.4 1399.03L1495.9 1399.44L1496.4 1399.7L1496.9 1399.68L1497.4 1398.81L1497.9 1397.98L1498.4 1397.1L1498.9 1397.05L1499.4 1397.56L1499.9 1398.5L1500.4 1399.7L1500.9 1399.36L1501.4 1399.13L1501.9 1399.68L1502.4 1399.14L1502.8 1402.1Z" fill="#ec9a3a"/>
<text x="1591.21" y="1077.4" font-size="14.65" textLength="25.37" lengthAdjust="spacingAndGlyphs">251</text>
<text x="1591.21" y="1131.4" font-size="14.65" textLength="25.37" lengthAdjust="spacingAndGlyphs">251</text>
<text x="1591.21" y="1188.8" font-size="14.65" textLength="25.37" lengthAdjust="spacingAndGlyphs">251</text>
<text x="1591.21" y="1244.9" font-size="14.65" textLength="25.37" lengthAdjust="spacingAndGlyphs">251</text>
<text x="1591.21" y="1304.9" font-size="14.65" textLength="25.37" lengthAdjust="spacingAndGlyphs">251</text>
<text x="1591.21" y="1362.6" font-size="14.65" textLength="25.37" lengthAdjust="spacingAndGlyphs">251</text>
<path d="M1592.8 1114.2L1592.8 1112.7L1593.3 1112.7L1593.8 1112.7L1594.3 1112.7L1594.8 1112.7L1595.3 1112.7L1595.8 1112.7L1596.3 1112.7L1596.8 1112.7L1597.3 1112.7L1597.8 1112.7L1598.3 1112.7L1598.8 1112.7L1599.3 1112.7L1599.8 1112.7L1600.3 1112.7L1600.8 1112.7L1601.3 1112.7L1601.8 1112.7L1602.3 1112.7L1602.8 1112.7L1603.3 1112.7L1603.8 1112.7L1604.3 1112.7L1604.8 1112.7L1605.3 1112.7L1605.8 1112.7L1606.3 1112.7L1606.8 1112.7L1607.3 1112.7L1607.8 1112.7L1608.3 1112.7L1608.8 1112.7L1609.3 1112.7L1609.8 1112.7L1610.3 1112.7L1610.8 1112.7L1611.3 1112.7L1611.8 1112.7L1612.3 1112.7L1612.8 1112.7L1613.3 1112.7L1613.8 1112.7L1614.3 1112.7L1614.8 1112.7L1615.3 1112.7L1615.8 1112.7L1616.3 1112.7L1616.8 1112.7L1617.3 1112.7L1617.8 1112.7L1618.3 1112.7L1618.8 1112.7L1619.3 1112.7L1619.8 1112.7L1620.3 1112.7L1620.8 1112.7L1621.3 1112.7L1621.8 1112.7L1622.3 1112.7L1622.8 1112.7L1623.3 1112.7L1623.8 1112.7L1624.3 1112.7L1624.8 1112.7L1625.3 1112.7L1625.8 1112.7L1626.3 1112.7L1626.8 1112.7L1627.3 1112.7L1627.8 1112.7L1628.3 1112.7L1628.8 1112.7L1629.3 1112.7L1629.8 1112.7L1630.3 1112.7L1630.8 1112.7L1631.3 1112.7L1631.8 1112.7L1632.3 1112.7L1632.8 1112.7L1633.3 1112.7L1633.8 1112.7L1634.3 1112.7L1634.8 1112.7L1635.3 1112.7L1635.8 1112.7L1636.3 1112.7L1636.8 1112.7L1637.3 1112.7L1637.8 1112.7L1638.3 1112.7L1638.8 1112.7L1639.3 1112.7L1639.8 1112.7L1640.3 1112.7L1640.8 1112.7L1641.3 1112.7L1641.8 1112.7L1642.3 1112.7L1642.8 1112.7L1643.3 1112.7L1643.8 1112.7L1644.3 1112.7L1644.8 1112.7L1645.3 1112.7L1645.8 1112.7L1646.3 1112.7L1646.8 1112.7L1647.3 1112.7L1647.8 1112.7L1648.3 1112.7L1648.8 1112.7L1649.3 1112.7L1649.8 1112.7L1650.3 1112.7L1650.8 1112.7L1651.3 1112.7L1651.8 1112.7L1652.3 1112.7L1652.8 1112.7L1653.3 1112.7L1653.8 1112.7L1654.3 1112.7L1654.8 1112.7L1655.3 1112.7L1655.8 1112.7L1656.3 1112.7L1656.8 1112.7L1657.3 1112.7L1657.8 1112.7L1658.3 1112.7L1658.8 1112.7L1659.3 1112.7L1659.8 1112.7L1660.3 1112.7L1660.8 1112.7L1661.3 1112.7L1661.8 1112.7L1662.3 1112.7L1662.8 1112.7L1663.3 1112.7L1663.8 1112.7L1664.3 1112.7L1664.8 1112.7L1665.3 1112.7L1665.8 1112.7L1666.3 1112.7L1666.8 1112.7L1667.3 1112.7L1667.8 1112.7L1668.3 1112.7L1668.8 1112.7L1669.3 1112.7L1669.8 1112.7L1670.3 1112.7L1670.8 1112.7L1671.3 1112.7L1671.8 1112.7L1672.3 1112.7L1672.8 1112.7L1673.3 1112.7L1673.8 1112.7L1674.3 1112.7L1674.8 1112.7L1675.3 1112.7L1675.8 1112.7L1676.3 1112.7L1676.8 1112.7L1677.3 1112.7L1677.8 1112.7L1678.3 1112.7L1678.8 1112.7L1679.3 1112.7L1679.8 1112.7L1680.3 1112.7L1680.8 1112.7L1681.3 1112.7L1681.8 1112.7L1682.3 1112.7L1682.8 1112.7L1683.3 1112.7L1683.8 1112.7L1684.3 1112.7L1684.8 1112.7L1685.3 1112.7L1685.8 1112.7L1686.3 1112.7L1686.8 1112.7L1687.3 1112.69L1687.8 1112.66L1688.3 1112.6L1688.8 1112.44L1689.3 1112.14L1689.8 1111.59L1690.3 1110.05L1690.8 1107.1L1691.3 1103.62L1691.8 1099.98L1692.3 1096.55L1692.8 1095.91L1693.3 1099.27L1693.8 1102.89L1694.3 1106.44L1694.8 1109.52L1695.3 1111.45L1695.8 1112.05L1696.3 1112.4L1696.8 1112.57L1697.3 1112.65L1697.8 1112.68L1698.3 1112.7L1698.8 1112.7L1699.3 1112.7L1699.8 1112.7L1700.3 1112.7L1700.8 1112.7L1701.3 1112.7L1701.8 1112.7L1702.3 1112.7L1702.8 1112.7L1703.3 1112.7L1703.8 1112.7L1704.3 1112.7L1704.8 1112.7L1705.3 1112.7L1705.8 1112.7L1706.3 1112.7L1706.8 1112.7L1707.3 1112.7L1707.8 1112.7L1708.3 1112.7L1708.8 1112.7L1709.3 1112.7L1709.8 1112.7L1710.3 1112.7L1710.8 1112.7L1711.3 1112.7L1711.8 1112.7L1712.3 1112.7L1712.8 1112.7L1713.3 1112.7L1713.8 1112.7L1714.3 1112.7L1714.8 1112.7L1715.3 1112.7L1715.8 1112.7L1716.3 1112.7L1716.8 1112.7L1717.3 1112.7L1717.8 1112.7L1718.3 1112.7L1718.8 1112.7L1719.3 1112.7L1719.8 1112.7L1720.3 1112.7L1720.8 1112.7L1721.3 1112.7L1721.8 1112.7L1722.3 1112.7L1722.8 1112.7L1723.3 1112.7L1723.8 1112.7L1724.3 1112.7L1724.8 1112.7L1725.3 1112.7L1725.8 1112.7L1726.3 1112.7L1726.8 1112.7L1727.3 1112.7L1727.8 1112.7L1728.3 1112.7L1728.8 1112.7L1729.3 1112.7L1729.8 1112.7L1730.3 1112.7L1730.8 1112.7L1731.3 1112.7L1731.8 1112.7L1732.3 1112.7L1732.8 1112.7L1733.3 1112.7L1733.8 1112.7L1734.3 1112.7L1734.8 1112.7L1735.3 1112.7L1735.8 1112.7L1736.3 1112.7L1736.8 1112.7L1737.3 1112.7L1737.8 1112.7L1738.3 1112.7L1738.8 1112.7L1739.3 1112.7L1739.8 1112.7L1740.3 1112.7L1740.8 1112.7L1741.3 1112.7L1741.8 1112.7L1742 1114.2Z" fill="#e8808a"/>
<path d="M1592.8 1172.3L1592.8 1170.8L1593.3 1170.8L1593.8 1170.8L1594.3 1170.8L1594.8 1170.8L1595.3 1170.8L1595.8 1170.8L1596.3 1170.8L1596.8 1170.8L1597.3 1170.8L1597.8 1170.8L1598.3 1170.8L1598.8 1170.8L1599.3 1170.8L1599.8 1170.8L1600.3 1170.8L1600.8 1170.8L1601.3 1170.8L1601.8 1170.8L1602.3 1170.8L1602.8 1170.8L1603.3 1170.8L1603.8 1170.8L1604.3 1170.8L1604.8 1170.8L1605.3 1170.8L1605.8 1170.8L1606.3 1170.8L1606.8 1170.8L1607.3 1170.8L1607.8 1170.8L1608.3 1170.8L1608.8 1170.8L1609.3 1170.8L1609.8 1170.8L1610.3 1170.8L1610.8 1170.8L1611.3 1170.8L1611.8 1170.8L1612.3 1170.8L1612.8 1170.8L1613.3 1170.8L1613.8 1170.8L1614.3 1170.8L1614.8 1170.8L1615.3 1170.8L1615.8 1170.8L1616.3 1170.8L1616.8 1170.8L1617.3 1170.8L1617.8 1170.8L1618.3 1170.8L1618.8 1170.8L1619.3 1170.8L1619.8 1170.8L1620.3 1170.8L1620.8 1170.8L1621.3 1170.8L1621.8 1170.8L1622.3 1170.8L1622.8 1170.8L1623.3 1170.8L1623.8 1170.8L1624.3 1170.8L1624.8 1170.8L1625.3 1170.8L1625.8 1170.8L1626.3 1170.8L1626.8 1170.8L1627.3 1170.8L1627.8 1170.8L1628.3 1170.8L1628.8 1170.8L1629.3 1170.8L1629.8 1170.8L1630.3 1170.8L1630.8 1170.8L1631.3 1170.8L1631.8 1170.8L1632.3 1170.8L1632.8 1170.8L1633.3 1170.8L1633.8 1170.8L1634.3 1170.8L1634.8 1170.8L1635.3 1170.8L1635.8 1170.8L1636.3 1170.8L1636.8 1170.8L1637.3 1170.8L1637.8 1170.8L1638.3 1170.8L1638.8 1170.8L1639.3 1170.8L1639.8 1170.8L1640.3 1170.8L1640.8 1170.8L1641.3 1170.8L1641.8 1170.8L1642.3 1170.8L1642.8 1170.8L1643.3 1170.8L1643.8 1170.8L1644.3 1170.8L1644.8 1170.8L1645.3 1170.8L1645.8 1170.8L1646.3 1170.8L1646.8 1170.8L1647.3 1170.8L1647.8 1170.8L1648.3 1170.8L1648.8 1170.8L1649.3 1170.8L1649.8 1170.8L1650.3 1170.8L1650.8 1170.8L1651.3 1170.8L1651.8 1170.8L1652.3 1170.8L1652.8 1170.8L1653.3 1170.8L1653.8 1170.8L1654.3 1170.8L1654.8 1170.8L1655.3 1170.8L1655.8 1170.8L1656.3 1170.8L1656.8 1170.8L1657.3 1170.8L1657.8 1170.8L1658.3 1170.8L1658.8 1170.8L1659.3 1170.8L1659.8 1170.8L1660.3 1170.8L1660.8 1170.8L1661.3 1170.8L1661.8 1170.8L1662.3 1170.8L1662.8 1170.8L1663.3 1170.8L1663.8 1170.8L1664.3 1170.8L1664.8 1170.8L1665.3 1170.8L1665.8 1170.8L1666.3 1170.8L1666.8 1170.8L1667.3 1170.8L1667.8 1170.8L1668.3 1170.8L1668.8 1170.8L1669.3 1170.8L1669.8 1170.8L1670.3 1170.8L1670.8 1170.8L1671.3 1170.8L1671.8 1170.8L1672.3 1170.8L1672.8 1170.8L1673.3 1170.8L1673.8 1170.8L1674.3 1170.8L1674.8 1170.8L1675.3 1170.8L1675.8 1170.8L1676.3 1170.8L1676.8 1170.8L1677.3 1170.8L1677.8 1170.8L1678.3 1170.8L1678.8 1170.8L1679.3 1170.8L1679.8 1170.8L1680.3 1170.8L1680.8 1170.8L1681.3 1170.8L1681.8 1170.8L1682.3 1170.8L1682.8 1170.8L1683.3 1170.8L1683.8 1170.8L1684.3 1170.8L1684.8 1170.8L1685.3 1170.8L1685.8 1170.8L1686.3 1170.8L1686.8 1170.8L1687.3 1170.79L1687.8 1170.77L1688.3 1170.73L1688.8 1170.62L1689.3 1170.41L1689.8 1170.03L1690.3 1168.96L1690.8 1166.91L1691.3 1164.49L1691.8 1161.97L1692.3 1159.58L1692.8 1159.14L1693.3 1161.47L1693.8 1163.99L1694.3 1166.45L1694.8 1168.59L1695.3 1169.93L1695.8 1170.35L1696.3 1170.59L1696.8 1170.71L1697.3 1170.77L1697.8 1170.79L1698.3 1170.8L1698.8 1170.8L1699.3 1170.8L1699.8 1170.8L1700.3 1170.8L1700.8 1170.8L1701.3 1170.8L1701.8 1170.8L1702.3 1170.8L1702.8 1170.8L1703.3 1170.8L1703.8 1170.8L1704.3 1170.8L1704.8 1170.8L1705.3 1170.8L1705.8 1170.8L1706.3 1170.8L1706.8 1170.8L1707.3 1170.8L1707.8 1170.8L1708.3 1170.8L1708.8 1170.8L1709.3 1170.8L1709.8 1170.8L1710.3 1170.8L1710.8 1170.8L1711.3 1170.8L1711.8 1170.8L1712.3 1170.8L1712.8 1170.8L1713.3 1170.8L1713.8 1170.8L1714.3 1170.8L1714.8 1170.8L1715.3 1170.8L1715.8 1170.8L1716.3 1170.8L1716.8 1170.8L1717.3 1170.8L1717.8 1170.8L1718.3 1170.8L1718.8 1170.8L1719.3 1170.8L1719.8 1170.8L1720.3 1170.8L1720.8 1170.8L1721.3 1170.8L1721.8 1170.8L1722.3 1170.8L1722.8 1170.8L1723.3 1170.8L1723.8 1170.8L1724.3 1170.8L1724.8 1170.8L1725.3 1170.8L1725.8 1170.8L1726.3 1170.8L1726.8 1170.8L1727.3 1170.8L1727.8 1170.8L1728.3 1170.8L1728.8 1170.8L1729.3 1170.8L1729.8 1170.8L1730.3 1170.8L1730.8 1170.8L1731.3 1170.8L1731.8 1170.8L1732.3 1170.8L1732.8 1170.8L1733.3 1170.8L1733.8 1170.8L1734.3 1170.8L1734.8 1170.8L1735.3 1170.8L1735.8 1170.8L1736.3 1170.8L1736.8 1170.8L1737.3 1170.8L1737.8 1170.8L1738.3 1170.8L1738.8 1170.8L1739.3 1170.8L1739.8 1170.8L1740.3 1170.8L1740.8 1170.8L1741.3 1170.8L1741.8 1170.8L1742 1172.3Z" fill="#e8808a"/>
<path d="M1592.8 1230L1592.8 1228.5L1593.3 1228.5L1593.8 1228.5L1594.3 1228.5L1594.8 1228.5L1595.3 1228.5L1595.8 1228.5L1596.3 1228.5L1596.8 1228.5L1597.3 1228.5L1597.8 1228.5L1598.3 1228.5L1598.8 1228.5L1599.3 1228.5L1599.8 1228.5L1600.3 1228.5L1600.8 1228.5L1601.3 1228.5L1601.8 1228.5L1602.3 1228.5L1602.8 1228.5L1603.3 1228.5L1603.8 1228.5L1604.3 1228.5L1604.8 1228.5L1605.3 1228.5L1605.8 1228.5L1606.3 1228.5L1606.8 1228.5L1607.3 1228.5L1607.8 1228.5L1608.3 1228.5L1608.8 1228.5L1609.3 1228.5L1609.8 1228.5L1610.3 1228.5L1610.8 1228.5L1611.3 1228.5L1611.8 1228.5L1612.3 1228.5L1612.8 1228.5L1613.3 1228.5L1613.8 1228.5L1614.3 1228.5L1614.8 1228.5L1615.3 1228.5L1615.8 1228.5L1616.3 1228.5L1616.8 1228.5L1617.3 1228.5L1617.8 1228.5L1618.3 1228.5L1618.8 1228.5L1619.3 1228.5L1619.8 1228.5L1620.3 1228.5L1620.8 1228.5L1621.3 1228.5L1621.8 1228.5L1622.3 1228.5L1622.8 1228.5L1623.3 1228.5L1623.8 1228.5L1624.3 1228.5L1624.8 1228.5L1625.3 1228.5L1625.8 1228.5L1626.3 1228.5L1626.8 1228.5L1627.3 1228.5L1627.8 1228.5L1628.3 1228.5L1628.8 1228.5L1629.3 1228.5L1629.8 1228.5L1630.3 1228.5L1630.8 1228.5L1631.3 1228.5L1631.8 1228.5L1632.3 1228.5L1632.8 1228.5L1633.3 1228.5L1633.8 1228.5L1634.3 1228.5L1634.8 1228.5L1635.3 1228.5L1635.8 1228.5L1636.3 1228.5L1636.8 1228.5L1637.3 1228.5L1637.8 1228.5L1638.3 1228.5L1638.8 1228.5L1639.3 1228.5L1639.8 1228.5L1640.3 1228.5L1640.8 1228.5L1641.3 1228.5L1641.8 1228.5L1642.3 1228.5L1642.8 1228.5L1643.3 1228.5L1643.8 1228.5L1644.3 1228.5L1644.8 1228.5L1645.3 1228.5L1645.8 1228.5L1646.3 1228.5L1646.8 1228.5L1647.3 1228.5L1647.8 1228.5L1648.3 1228.5L1648.8 1228.5L1649.3 1228.5L1649.8 1228.5L1650.3 1228.5L1650.8 1228.5L1651.3 1228.5L1651.8 1228.5L1652.3 1228.5L1652.8 1228.5L1653.3 1228.5L1653.8 1228.5L1654.3 1228.5L1654.8 1228.5L1655.3 1228.5L1655.8 1228.5L1656.3 1228.5L1656.8 1228.5L1657.3 1228.5L1657.8 1228.5L1658.3 1228.5L1658.8 1228.5L1659.3 1228.5L1659.8 1228.5L1660.3 1228.5L1660.8 1228.5L1661.3 1228.5L1661.8 1228.5L1662.3 1228.5L1662.8 1228.5L1663.3 1228.5L1663.8 1228.5L1664.3 1228.5L1664.8 1228.5L1665.3 1228.5L1665.8 1228.5L1666.3 1228.5L1666.8 1228.5L1667.3 1228.5L1667.8 1228.5L1668.3 1228.5L1668.8 1228.5L1669.3 1228.5L1669.8 1228.5L1670.3 1228.5L1670.8 1228.5L1671.3 1228.5L1671.8 1228.5L1672.3 1228.5L1672.8 1228.5L1673.3 1228.5L1673.8 1228.5L1674.3 1228.5L1674.8 1228.5L1675.3 1228.5L1675.8 1228.5L1676.3 1228.5L1676.8 1228.5L1677.3 1228.5L1677.8 1228.5L1678.3 1228.5L1678.8 1228.5L1679.3 1228.49L1679.8 1228.48L1680.3 1228.45L1680.8 1228.4L1681.3 1228.3L1681.8 1228.16L1682.3 1227.97L1682.8 1227.77L1683.3 1227.6L1683.8 1227.51L1684.3 1227.52L1684.8 1227.63L1685.3 1227.81L1685.8 1228.01L1686.3 1228.19L1686.8 1228.32L1687.3 1228.41L1687.8 1228.45L1688.3 1228.46L1688.8 1228.44L1689.3 1228.35L1689.8 1228.18L1690.3 1227.81L1690.8 1226.7L1691.3 1225.27L1691.8 1223.74L1692.3 1222.28L1692.8 1222.01L1693.3 1223.44L1693.8 1224.97L1694.3 1226.43L1694.8 1227.63L1695.3 1228.13L1695.8 1228.33L1696.3 1228.43L1696.8 1228.48L1697.3 1228.49L1697.8 1228.5L1698.3 1228.5L1698.8 1228.5L1699.3 1228.5L1699.8 1228.5L1700.3 1228.5L1700.8 1228.5L1701.3 1228.5L1701.8 1228.5L1702.3 1228.5L1702.8 1228.5L1703.3 1228.5L1703.8 1228.5L1704.3 1228.5L1704.8 1228.5L1705.3 1228.5L1705.8 1228.5L1706.3 1228.5L1706.8 1228.5L1707.3 1228.5L1707.8 1228.5L1708.3 1228.5L1708.8 1228.5L1709.3 1228.5L1709.8 1228.5L1710.3 1228.5L1710.8 1228.5L1711.3 1228.5L1711.8 1228.5L1712.3 1228.5L1712.8 1228.5L1713.3 1228.5L1713.8 1228.5L1714.3 1228.5L1714.8 1228.5L1715.3 1228.5L1715.8 1228.5L1716.3 1228.5L1716.8 1228.5L1717.3 1228.5L1717.8 1228.5L1718.3 1228.5L1718.8 1228.5L1719.3 1228.5L1719.8 1228.5L1720.3 1228.5L1720.8 1228.5L1721.3 1228.5L1721.8 1228.5L1722.3 1228.5L1722.8 1228.5L1723.3 1228.5L1723.8 1228.5L1724.3 1228.5L1724.8 1228.5L1725.3 1228.5L1725.8 1228.5L1726.3 1228.5L1726.8 1228.5L1727.3 1228.5L1727.8 1228.5L1728.3 1228.5L1728.8 1228.5L1729.3 1228.5L1729.8 1228.5L1730.3 1228.5L1730.8 1228.5L1731.3 1228.5L1731.8 1228.5L1732.3 1228.5L1732.8 1228.5L1733.3 1228.5L1733.8 1228.5L1734.3 1228.5L1734.8 1228.5L1735.3 1228.5L1735.8 1228.5L1736.3 1228.5L1736.8 1228.5L1737.3 1228.5L1737.8 1228.5L1738.3 1228.5L1738.8 1228.5L1739.3 1228.5L1739.8 1228.5L1740.3 1228.5L1740.8 1228.5L1741.3 1228.5L1741.8 1228.5L1742 1230Z" fill="#8d90e0"/>
<path d="M1592.8 1288L1592.8 1286.5L1593.3 1286.5L1593.8 1286.5L1594.3 1286.5L1594.8 1286.5L1595.3 1286.5L1595.8 1286.5L1596.3 1286.5L1596.8 1286.5L1597.3 1286.5L1597.8 1286.5L1598.3 1286.5L1598.8 1286.5L1599.3 1286.5L1599.8 1286.5L1600.3 1286.5L1600.8 1286.5L1601.3 1286.5L1601.8 1286.5L1602.3 1286.5L1602.8 1286.5L1603.3 1286.5L1603.8 1286.5L1604.3 1286.5L1604.8 1286.5L1605.3 1286.5L1605.8 1286.5L1606.3 1286.5L1606.8 1286.5L1607.3 1286.5L1607.8 1286.5L1608.3 1286.5L1608.8 1286.5L1609.3 1286.5L1609.8 1286.5L1610.3 1286.5L1610.8 1286.5L1611.3 1286.5L1611.8 1286.5L1612.3 1286.5L1612.8 1286.5L1613.3 1286.5L1613.8 1286.5L1614.3 1286.5L1614.8 1286.5L1615.3 1286.5L1615.8 1286.5L1616.3 1286.5L1616.8 1286.5L1617.3 1286.5L1617.8 1286.5L1618.3 1286.5L1618.8 1286.49L1619.3 1286.47L1619.8 1286.44L1620.3 1286.38L1620.8 1286.3L1621.3 1286.18L1621.8 1286.06L1622.3 1285.96L1622.8 1285.91L1623.3 1285.91L1623.8 1285.98L1624.3 1286.09L1624.8 1286.21L1625.3 1286.31L1625.8 1286.39L1626.3 1286.45L1626.8 1286.48L1627.3 1286.49L1627.8 1286.5L1628.3 1286.5L1628.8 1286.5L1629.3 1286.5L1629.8 1286.5L1630.3 1286.5L1630.8 1286.5L1631.3 1286.5L1631.8 1286.5L1632.3 1286.5L1632.8 1286.5L1633.3 1286.5L1633.8 1286.5L1634.3 1286.5L1634.8 1286.5L1635.3 1286.5L1635.8 1286.5L1636.3 1286.5L1636.8 1286.5L1637.3 1286.5L1637.8 1286.5L1638.3 1286.5L1638.8 1286.5L1639.3 1286.5L1639.8 1286.5L1640.3 1286.5L1640.8 1286.5L1641.3 1286.5L1641.8 1286.5L1642.3 1286.5L1642.8 1286.5L1643.3 1286.5L1643.8 1286.5L1644.3 1286.5L1644.8 1286.5L1645.3 1286.5L1645.8 1286.5L1646.3 1286.5L1646.8 1286.5L1647.3 1286.5L1647.8 1286.5L1648.3 1286.5L1648.8 1286.5L1649.3 1286.5L1649.8 1286.5L1650.3 1286.5L1650.8 1286.5L1651.3 1286.5L1651.8 1286.5L1652.3 1286.5L1652.8 1286.5L1653.3 1286.5L1653.8 1286.5L1654.3 1286.5L1654.8 1286.5L1655.3 1286.5L1655.8 1286.5L1656.3 1286.5L1656.8 1286.5L1657.3 1286.5L1657.8 1286.5L1658.3 1286.5L1658.8 1286.5L1659.3 1286.5L1659.8 1286.5L1660.3 1286.5L1660.8 1286.5L1661.3 1286.5L1661.8 1286.5L1662.3 1286.5L1662.8 1286.5L1663.3 1286.5L1663.8 1286.5L1664.3 1286.5L1664.8 1286.5L1665.3 1286.5L1665.8 1286.5L1666.3 1286.5L1666.8 1286.5L1667.3 1286.5L1667.8 1286.5L1668.3 1286.5L1668.8 1286.5L1669.3 1286.5L1669.8 1286.5L1670.3 1286.5L1670.8 1286.5L1671.3 1286.5L1671.8 1286.5L1672.3 1286.5L1672.8 1286.5L1673.3 1286.5L1673.8 1286.5L1674.3 1286.5L1674.8 1286.5L1675.3 1286.5L1675.8 1286.5L1676.3 1286.5L1676.8 1286.5L1677.3 1286.5L1677.8 1286.5L1678.3 1286.5L1678.8 1286.5L1679.3 1286.5L1679.8 1286.5L1680.3 1286.5L1680.8 1286.5L1681.3 1286.5L1681.8 1286.5L1682.3 1286.5L1682.8 1286.5L1683.3 1286.5L1683.8 1286.5L1684.3 1286.5L1684.8 1286.5L1685.3 1286.5L1685.8 1286.5L1686.3 1286.5L1686.8 1286.5L1687.3 1286.5L1687.8 1286.5L1688.3 1286.48L1688.8 1286.46L1689.3 1286.39L1689.8 1286.25L1690.3 1285.96L1690.8 1285.08L1691.3 1283.96L1691.8 1282.76L1692.3 1281.61L1692.8 1281.4L1693.3 1282.52L1693.8 1283.73L1694.3 1284.87L1694.8 1285.81L1695.3 1286.21L1695.8 1286.37L1696.3 1286.45L1696.8 1286.48L1697.3 1286.49L1697.8 1286.5L1698.3 1286.5L1698.8 1286.5L1699.3 1286.5L1699.8 1286.5L1700.3 1286.5L1700.8 1286.5L1701.3 1286.5L1701.8 1286.5L1702.3 1286.5L1702.8 1286.5L1703.3 1286.5L1703.8 1286.5L1704.3 1286.5L1704.8 1286.5L1705.3 1286.5L1705.8 1286.5L1706.3 1286.5L1706.8 1286.5L1707.3 1286.5L1707.8 1286.5L1708.3 1286.5L1708.8 1286.5L1709.3 1286.5L1709.8 1286.5L1710.3 1286.5L1710.8 1286.5L1711.3 1286.5L1711.8 1286.5L1712.3 1286.5L1712.8 1286.5L1713.3 1286.5L1713.8 1286.5L1714.3 1286.5L1714.8 1286.5L1715.3 1286.5L1715.8 1286.5L1716.3 1286.5L1716.8 1286.5L1717.3 1286.5L1717.8 1286.5L1718.3 1286.5L1718.8 1286.5L1719.3 1286.5L1719.8 1286.5L1720.3 1286.5L1720.8 1286.5L1721.3 1286.5L1721.8 1286.5L1722.3 1286.5L1722.8 1286.5L1723.3 1286.5L1723.8 1286.5L1724.3 1286.5L1724.8 1286.5L1725.3 1286.5L1725.8 1286.5L1726.3 1286.5L1726.8 1286.5L1727.3 1286.5L1727.8 1286.5L1728.3 1286.5L1728.8 1286.5L1729.3 1286.5L1729.8 1286.5L1730.3 1286.5L1730.8 1286.5L1731.3 1286.5L1731.8 1286.5L1732.3 1286.5L1732.8 1286.5L1733.3 1286.5L1733.8 1286.5L1734.3 1286.5L1734.8 1286.5L1735.3 1286.5L1735.8 1286.5L1736.3 1286.5L1736.8 1286.5L1737.3 1286.5L1737.8 1286.5L1738.3 1286.5L1738.8 1286.5L1739.3 1286.5L1739.8 1286.5L1740.3 1286.5L1740.8 1286.5L1741.3 1286.5L1741.8 1286.5L1742 1288Z" fill="#8d90e0"/>
<path d="M1592.8 1346.4L1592.8 1342.88L1593.3 1342.74L1593.8 1342.44L1594.3 1342.83L1594.8 1341.82L1595.3 1342L1595.8 1340.97L1596.3 1341.14L1596.8 1341.26L1597.3 1341.06L1597.8 1340.81L1598.3 1341.32L1598.8 1341.39L1599.3 1342.37L1599.8 1342.25L1600.3 1342.84L1600.8 1342.43L1601.3 1342.52L1601.8 1342.63L1602.3 1342.91L1602.8 1342.67L1603.3 1343.62L1603.8 1343.3L1604.3 1343.28L1604.8 1343.53L1605.3 1344.03L1605.8 1343.35L1606.3 1343.55L1606.8 1343.7L1607.3 1343.28L1607.8 1342.26L1608.3 1342.36L1608.8 1342.8L1609.3 1343.22L1609.8 1343.78L1610.3 1344.03L1610.8 1344.16L1611.3 1343.65L1611.8 1343.67L1612.3 1343.57L1612.8 1343.33L1613.3 1343.13L1613.8 1343.01L1614.3 1342.79L1614.8 1343.34L1615.3 1343.99L1615.8 1344.5L1616.3 1343.7L1616.8 1343.02L1617.3 1343.01L1617.8 1343.08L1618.3 1343.67L1618.8 1344.38L1619.3 1343.7L1619.8 1343.14L1620.3 1343.69L1620.8 1344.39L1621.3 1343.72L1621.8 1343.61L1622.3 1343.29L1622.8 1344.14L1623.3 1344.44L1623.8 1344.01L1624.3 1344.03L1624.8 1343.63L1625.3 1344.4L1625.8 1344.18L1626.3 1344.45L1626.8 1344.3L1627.3 1344.31L1627.8 1344.51L1628.3 1344.23L1628.8 1344.16L1629.3 1343.86L1629.8 1344.49L1630.3 1343.79L1630.8 1344.3L1631.3 1344.49L1631.8 1343.66L1632.3 1344.2L1632.8 1344.08L1633.3 1343.55L1633.8 1344.39L1634.3 1343.64L1634.8 1343.38L1635.3 1343.52L1635.8 1344.3L1636.3 1344.44L1636.8 1344.41L1637.3 1344.08L1637.8 1344.19L1638.3 1344L1638.8 1344.48L1639.3 1344.04L1639.8 1343.77L1640.3 1343.46L1640.8 1343.91L1641.3 1344.47L1641.8 1343.93L1642.3 1343.74L1642.8 1343.98L1643.3 1344.07L1643.8 1344.06L1644.3 1343.91L1644.8 1343.63L1645.3 1343.41L1645.8 1343.08L1646.3 1342.22L1646.8 1342.54L1647.3 1342.97L1647.8 1343.17L1648.3 1342.92L1648.8 1342.42L1649.3 1342.9L1649.8 1342.7L1650.3 1342.79L1650.8 1342.18L1651.3 1342.19L1651.8 1342.26L1652.3 1343.1L1652.8 1343.11L1653.3 1343.32L1653.8 1342.99L1654.3 1343.38L1654.8 1344.06L1655.3 1344.14L1655.8 1343.45L1656.3 1343.96L1656.8 1343.69L1657.3 1343.62L1657.8 1344.2L1658.3 1344.47L1658.8 1344.29L1659.3 1343.8L1659.8 1344.26L1660.3 1344.06L1660.8 1344.03L1661.3 1343.68L1661.8 1344.32L1662.3 1343.43L1662.8 1343.11L1663.3 1342.82L1663.8 1343.64L1664.3 1343.76L1664.8 1344.44L1665.3 1344.31L1665.8 1343.93L1666.3 1343.96L1666.8 1343.69L1667.3 1343.7L1667.8 1343.4L1668.3 1343.01L1668.8 1342.75L1669.3 1342.37L1669.8 1342.06L1670.3 1341.75L1670.8 1341.62L1671.3 1342.29L1671.8 1343.08L1672.3 1343.1L1672.8 1343.13L1673.3 1343.97L1673.8 1343.97L1674.3 1343.81L1674.8 1344.06L1675.3 1344.07L1675.8 1343.87L1676.3 1343.99L1676.8 1344.03L1677.3 1343.58L1677.8 1343.7L1678.3 1343.69L1678.8 1344.12L1679.3 1344.37L1679.8 1344.22L1680.3 1344.31L1680.8 1343.9L1681.3 1344.35L1681.8 1343.85L1682.3 1343.55L1682.8 1343.77L1683.3 1343.93L1683.8 1343.22L1684.3 1342.75L1684.8 1342.16L1685.3 1341.79L1685.8 1340.68L1686.3 1339.17L1686.8 1336.89L1687.3 1333.13L1687.8 1329.2L1688.3 1324.17L1688.8 1319.95L1689.3 1314.54L1689.8 1309.21L1690.3 1304.95L1690.8 1300.75L1691.3 1295.82L1691.8 1294.91L1692.3 1297.33L1692.8 1300.82L1693.3 1303.88L1693.8 1307.35L1694.3 1311.83L1694.8 1316.46L1695.3 1321.5L1695.8 1325.45L1696.3 1330.15L1696.8 1333.13L1697.3 1335.65L1697.8 1336.93L1698.3 1338.39L1698.8 1339.55L1699.3 1341.09L1699.8 1341.63L1700.3 1342.3L1700.8 1342.95L1701.3 1342.76L1701.8 1343.61L1702.3 1343.44L1702.8 1343.67L1703.3 1343.15L1703.8 1343.2L1704.3 1343.53L1704.8 1344.35L1705.3 1344.16L1705.8 1343.48L1706.3 1343.91L1706.8 1343.07L1707.3 1342.94L1707.8 1343.44L1708.3 1343.38L1708.8 1342.51L1709.3 1343.58L1709.8 1343.74L1710.3 1344.1L1710.8 1344.05L1711.3 1343.71L1711.8 1344.32L1712.3 1344.28L1712.8 1344.28L1713.3 1343.91L1713.8 1344.05L1714.3 1344.16L1714.8 1344.34L1715.3 1344.08L1715.8 1344.17L1716.3 1344.4L1716.8 1344.46L1717.3 1343.89L1717.8 1344.23L1718.3 1343.89L1718.8 1343.36L1719.3 1343.51L1719.8 1343.65L1720.3 1344.25L1720.8 1344.52L1721.3 1344.09L1721.8 1344.13L1722.3 1343.47L1722.8 1344.31L1723.3 1344.14L1723.8 1344.06L1724.3 1343.74L1724.8 1344.51L1725.3 1344.44L1725.8 1344.45L1726.3 1344.45L1726.8 1344.44L1727.3 1343.84L1727.8 1343.8L1728.3 1344.31L1728.8 1344.15L1729.3 1343.67L1729.8 1343.5L1730.3 1343.56L1730.8 1344.16L1731.3 1344.54L1731.8 1344.33L1732.3 1344.03L1732.8 1343.44L1733.3 1343.93L1733.8 1343.38L1734.3 1342.87L1734.8 1343.5L1735.3 1344.32L1735.8 1344.4L1736.3 1343.64L1736.8 1343.16L1737.3 1343.77L1737.8 1344.35L1738.3 1344.19L1738.8 1344.04L1739.3 1344.43L1739.8 1343.61L1740.3 1343.11L1740.8 1342.75L1741.3 1343.14L1741.8 1343.9L1742 1346.4Z" fill="#ec9a3a"/>
<path d="M1592.8 1404.4L1592.8 1401.09L1593.3 1402.08L1593.8 1402.22L1594.3 1401.03L1594.8 1402.17L1595.3 1401.94L1595.8 1401.48L1596.3 1402.02L1596.8 1402.25L1597.3 1401.48L1597.8 1401.82L1598.3 1401.95L1598.8 1401.9L1599.3 1402.19L1599.8 1401.56L1600.3 1401.17L1600.8 1400.86L1601.3 1400.66L1601.8 1401.69L1602.3 1401.54L1602.8 1401.45L1603.3 1401.4L1603.8 1401.99L1604.3 1400.9L1604.8 1400.91L1605.3 1401.38L1605.8 1402L1606.3 1401.72L1606.8 1402.39L1607.3 1401.91L1607.8 1402.4L1608.3 1402.04L1608.8 1401.42L1609.3 1400.8L1609.8 1400.42L1610.3 1400.26L1610.8 1401.38L1611.3 1401.49L1611.8 1401.38L1612.3 1401.42L1612.8 1401.13L1613.3 1401.04L1613.8 1402.16L1614.3 1401.76L1614.8 1400.72L1615.3 1400.08L1615.8 1400.66L1616.3 1401.52L1616.8 1401.69L1617.3 1402.11L1617.8 1402.07L1618.3 1401.97L1618.8 1402.4L1619.3 1402.15L1619.8 1401.51L1620.3 1402.09L1620.8 1401.78L1621.3 1401.69L1621.8 1402.19L1622.3 1401.78L1622.8 1401.7L1623.3 1401.62L1623.8 1401.59L1624.3 1401.51L1624.8 1402.28L1625.3 1401.57L1625.8 1401.11L1626.3 1401.83L1626.8 1401.28L1627.3 1401.19L1627.8 1401.78L1628.3 1401.5L1628.8 1401.51L1629.3 1401.32L1629.8 1401.02L1630.3 1400.79L1630.8 1401.33L1631.3 1401.13L1631.8 1400.83L1632.3 1400.43L1632.8 1400.3L1633.3 1399.51L1633.8 1399.59L1634.3 1398.79L1634.8 1399.08L1635.3 1399.02L1635.8 1398.89L1636.3 1398.26L1636.8 1399.15L1637.3 1399.15L1637.8 1399.54L1638.3 1399.52L1638.8 1400.43L1639.3 1399.22L1639.8 1398.91L1640.3 1399.68L1640.8 1400.41L1641.3 1400.74L1641.8 1400.94L1642.3 1400.84L1642.8 1400.83L1643.3 1400.52L1643.8 1400.44L1644.3 1400.99L1644.8 1400.39L1645.3 1401.54L1645.8 1402.06L1646.3 1401.69L1646.8 1401.73L1647.3 1401.49L1647.8 1402.04L1648.3 1401.79L1648.8 1401.34L1649.3 1400.73L1649.8 1400.72L1650.3 1400.33L1650.8 1401.26L1651.3 1401.42L1651.8 1401.25L1652.3 1401.12L1652.8 1399.89L1653.3 1400.29L1653.8 1400.09L1654.3 1399.77L1654.8 1399.79L1655.3 1399.55L1655.8 1399.32L1656.3 1398.6L1656.8 1398.47L1657.3 1398.64L1657.8 1398.63L1658.3 1398.94L1658.8 1398.44L1659.3 1398.38L1659.8 1397.44L1660.3 1398.43L1660.8 1397.61L1661.3 1398.24L1661.8 1399.5L1662.3 1400.47L1662.8 1400.35L1663.3 1400.08L1663.8 1400.19L1664.3 1400.8L1664.8 1401.45L1665.3 1401.06L1665.8 1401.72L1666.3 1402L1666.8 1401.44L1667.3 1401.08L1667.8 1401.29L1668.3 1401.97L1668.8 1402.1L1669.3 1402.13L1669.8 1401.78L1670.3 1401.29L1670.8 1400.95L1671.3 1400.13L1671.8 1400.34L1672.3 1401.09L1672.8 1402.26L1673.3 1402L1673.8 1401L1674.3 1401.31L1674.8 1402.09L1675.3 1402.38L1675.8 1402.03L1676.3 1401.71L1676.8 1401.63L1677.3 1400.65L1677.8 1401.59L1678.3 1402.33L1678.8 1400.98L1679.3 1401.91L1679.8 1401.28L1680.3 1401.91L1680.8 1401.7L1681.3 1401.68L1681.8 1401.21L1682.3 1400.74L1682.8 1400.3L1683.3 1399.69L1683.8 1398.5L1684.3 1396.2L1684.8 1394.32L1685.3 1391.22L1685.8 1387.88L1686.3 1384.71L1686.8 1380.66L1687.3 1375.87L1687.8 1371.88L1688.3 1367.62L1688.8 1363.99L1689.3 1359.3L1689.8 1355.35L1690.3 1358.62L1690.8 1361.16L1691.3 1363.68L1691.8 1368.07L1692.3 1371.63L1692.8 1375.34L1693.3 1379.89L1693.8 1383.75L1694.3 1386.73L1694.8 1391.07L1695.3 1394.17L1695.8 1395.68L1696.3 1397.41L1696.8 1397.27L1697.3 1398.62L1697.8 1400.16L1698.3 1400.77L1698.8 1401.23L1699.3 1401.13L1699.8 1401.13L1700.3 1401.77L1700.8 1401.18L1701.3 1401.55L1701.8 1402.13L1702.3 1401.74L1702.8 1401.28L1703.3 1399.89L1703.8 1400.19L1704.3 1400.91L1704.8 1400.92L1705.3 1401.87L1705.8 1401.94L1706.3 1402.1L1706.8 1401.52L1707.3 1401.88L1707.8 1401.91L1708.3 1401.6L1708.8 1401.56L1709.3 1401.09L1709.8 1401.88L1710.3 1401.73L1710.8 1401.48L1711.3 1400.83L1711.8 1400.92L1712.3 1401.22L1712.8 1402.38L1713.3 1401.97L1713.8 1401.89L1714.3 1402.22L1714.8 1402.24L1715.3 1402.19L1715.8 1402.03L1716.3 1400.92L1716.8 1401.55L1717.3 1401.91L1717.8 1401.82L1718.3 1401.93L1718.8 1400.81L1719.3 1401.54L1719.8 1402.41L1720.3 1401.92L1720.8 1402.3L1721.3 1402.39L1721.8 1401.78L1722.3 1401.2L1722.8 1400.43L1723.3 1400.89L1723.8 1401.18L1724.3 1402.3L1724.8 1402.15L1725.3 1401.56L1725.8 1402.08L1726.3 1400.98L1726.8 1401.79L1727.3 1401.22L1727.8 1401.04L1728.3 1401.02L1728.8 1400.81L1729.3 1400.23L1729.8 1400.21L1730.3 1400.12L1730.8 1399.72L1731.3 1399.96L1731.8 1399.56L1732.3 1399.22L1732.8 1399.16L1733.3 1399.6L1733.8 1399.76L1734.3 1400.25L1734.8 1400.23L1735.3 1400.5L1735.8 1400.87L1736.3 1401.19L1736.8 1400.71L1737.3 1401.13L1737.8 1401.64L1738.3 1401.89L1738.8 1400.93L1739.3 1401.02L1739.8 1401.24L1740.3 1401.87L1740.8 1401.77L1741.3 1401.78L1741.8 1400.9L1742 1404.4Z" fill="#ec9a3a"/>
<text x="1869.14" y="1077.4" font-size="14.04" textLength="24.32" lengthAdjust="spacingAndGlyphs">229</text>
<text x="1869.14" y="1130.4" font-size="14.04" textLength="24.32" lengthAdjust="spacingAndGlyphs">229</text>
<text x="1869.14" y="1188.2" font-size="14.04" textLength="24.32" lengthAdjust="spacingAndGlyphs">229</text>
<text x="1869.14" y="1247.9" font-size="14.04" textLength="24.32" lengthAdjust="spacingAndGlyphs">229</text>
<text x="1869.14" y="1306.2" font-size="14.04" textLength="24.32" lengthAdjust="spacingAndGlyphs">229</text>
<text x="1869.14" y="1365.9" font-size="14.04" textLength="24.32" lengthAdjust="spacingAndGlyphs">229</text>
<path d="M1870.7 1114.6L1870.7 1113.1L1871.2 1113.1L1871.7 1113.1L1872.2 1113.1L1872.7 1113.1L1873.2 1113.1L1873.7 1113.1L1874.2 1113.1L1874.7 1113.1L1875.2 1113.1L1875.7 1113.1L1876.2 1113.1L1876.7 1113.1L1877.2 1113.1L1877.7 1113.1L1878.2 1113.1L1878.7 1113.1L1879.2 1113.1L1879.7 1113.1L1880.2 1113.1L1880.7 1113.1L1881.2 1113.1L1881.7 1113.1L1882.2 1113.1L1882.7 1113.1L1883.2 1113.1L1883.7 1113.1L1884.2 1113.1L1884.7 1113.1L1885.2 1113.1L1885.7 1113.1L1886.2 1113.1L1886.7 1113.1L1887.2 1113.1L1887.7 1113.1L1888.2 1113.1L1888.7 1113.1L1889.2 1113.1L1889.7 1113.1L1890.2 1113.1L1890.7 1113.1L1891.2 1113.1L1891.7 1113.1L1892.2 1113.1L1892.7 1113.1L1893.2 1113.1L1893.7 1113.1L1894.2 1113.1L1894.7 1113.1L1895.2 1113.1L1895.7 1113.1L1896.2 1113.1L1896.7 1113.1L1897.2 1113.1L1897.7 1113.1L1898.2 1113.1L1898.7 1113.1L1899.2 1113.1L1899.7 1113.1L1900.2 1113.1L1900.7 1113.1L1901.2 1113.1L1901.7 1113.1L1902.2 1113.1L1902.7 1113.1L1903.2 1113.1L1903.7 1113.1L1904.2 1113.1L1904.7 1113.1L1905.2 1113.1L1905.7 1113.1L1906.2 1113.1L1906.7 1113.1L1907.2 1113.1L1907.7 1113.1L1908.2 1113.1L1908.7 1113.1L1909.2 1113.1L1909.7 1113.1L1910.2 1113.1L1910.7 1113.1L1911.2 1113.1L1911.7 1113.1L1912.2 1113.1L1912.7 1113.1L1913.2 1113.1L1913.7 1113.1L1914.2 1113.1L1914.7 1113.1L1915.2 1113.1L1915.7 1113.1L1916.2 1113.1L1916.7 1113.1L1917.2 1113.1L1917.7 1113.1L1918.2 1113.1L1918.7 1113.1L1919.2 1113.1L1919.7 1113.1L1920.2 1113.1L1920.7 1113.1L1921.2 1113.1L1921.7 1113.1L1922.2 1113.1L1922.7 1113.1L1923.2 1113.1L1923.7 1113.1L1924.2 1113.1L1924.7 1113.1L1925.2 1113.1L1925.7 1113.1L1926.2 1113.1L1926.7 1113.1L1927.2 1113.1L1927.7 1113.1L1928.2 1113.1L1928.7 1113.1L1929.2 1113.1L1929.7 1113.1L1930.2 1113.1L1930.7 1113.1L1931.2 1113.1L1931.7 1113.1L1932.2 1113.1L1932.7 1113.1L1933.2 1113.1L1933.7 1113.1L1934.2 1113.1L1934.7 1113.1L1935.2 1113.1L1935.7 1113.1L1936.2 1113.1L1936.7 1113.1L1937.2 1113.1L1937.7 1113.1L1938.2 1113.1L1938.7 1113.1L1939.2 1113.1L1939.7 1113.1L1940.2 1113.1L1940.7 1113.1L1941.2 1113.1L1941.7 1113.1L1942.2 1113.1L1942.7 1113.1L1943.2 1113.1L1943.7 1113.1L1944.2 1113.1L1944.7 1113.1L1945.2 1113.1L1945.7 1113.1L1946.2 1113.1L1946.7 1113.1L1947.2 1113.1L1947.7 1113.1L1948.2 1113.1L1948.7 1113.1L1949.2 1113.1L1949.7 1113.1L1950.2 1113.1L1950.7 1113.1L1951.2 1113.1L1951.7 1113.1L1952.2 1113.1L1952.7 1113.1L1953.2 1113.1L1953.7 1113.1L1954.2 1113.1L1954.7 1113.1L1955.2 1113.1L1955.7 1113.1L1956.2 1113.1L1956.7 1113.1L1957.2 1113.1L1957.7 1113.1L1958.2 1113.1L1958.7 1113.1L1959.2 1113.1L1959.7 1113.1L1960.2 1113.1L1960.7 1113.1L1961.2 1113.1L1961.7 1113.1L1962.2 1113.1L1962.7 1113.1L1963.2 1113.1L1963.7 1113.1L1964.2 1113.1L1964.7 1113.1L1965.2 1113.1L1965.7 1113.1L1966.2 1113.1L1966.7 1113.1L1967.2 1113.1L1967.7 1113.1L1968.2 1113.1L1968.7 1113.1L1969.2 1113.1L1969.7 1113.1L1970.2 1113.09L1970.7 1113.08L1971.2 1113.04L1971.7 1112.92L1972.2 1112.64L1972.7 1112.05L1973.2 1110.94L1973.7 1108.69L1974.2 1102.15L1974.7 1093.77L1975.2 1084.61L1975.7 1075.63L1976.2 1067.6L1976.7 1075.63L1977.2 1084.61L1977.7 1093.77L1978.2 1102.15L1978.7 1108.69L1979.2 1110.94L1979.7 1112.05L1980.2 1112.64L1980.7 1112.92L1981.2 1113.04L1981.7 1113.08L1982.2 1113.09L1982.7 1113.1L1983.2 1113.1L1983.7 1113.1L1984.2 1113.1L1984.7 1113.1L1985.2 1113.1L1985.7 1113.1L1986.2 1113.1L1986.7 1113.1L1987.2 1113.1L1987.7 1113.1L1988.2 1113.1L1988.7 1113.1L1989.2 1113.1L1989.7 1113.1L1990.2 1113.1L1990.7 1113.1L1991.2 1113.1L1991.7 1113.1L1992.2 1113.1L1992.7 1113.1L1993.2 1113.1L1993.7 1113.1L1994.2 1113.1L1994.7 1113.1L1995.2 1113.1L1995.7 1113.1L1996.2 1113.1L1996.7 1113.1L1997.2 1113.1L1997.7 1113.1L1998.2 1113.1L1998.7 1113.1L1999.2 1113.1L1999.7 1113.1L2000.2 1113.1L2000.7 1113.1L2001.2 1113.1L2001.7 1113.1L2002.2 1113.1L2002.7 1113.1L2003.2 1113.1L2003.7 1113.1L2004.2 1113.1L2004.7 1113.1L2005.2 1113.1L2005.7 1113.1L2006.2 1113.1L2006.7 1113.1L2007.2 1113.1L2007.7 1113.1L2008.2 1113.1L2008.7 1113.1L2009.2 1113.1L2009.7 1113.1L2010.2 1113.1L2010.7 1113.1L2011.2 1113.1L2011.7 1113.1L2012.2 1113.1L2012.7 1113.1L2013.2 1113.1L2013.7 1113.1L2014.2 1113.1L2014.7 1113.1L2015.2 1113.1L2015.7 1113.1L2016.2 1113.1L2016.7 1113.1L2017.2 1113.1L2017.7 1113.1L2018.2 1113.1L2018.7 1113.1L2019.2 1113.1L2019.7 1113.1L2020.2 1113.1L2020.7 1113.1L2021.2 1113.1L2021.7 1113.1L2022.2 1113.1L2022.7 1113.1L2023.2 1113.1L2023.7 1113.1L2024.2 1113.1L2024.7 1113.1L2025.2 1113.1L2025.7 1113.1L2026.2 1113.1L2026.7 1113.1L2027.2 1113.1L2027.7 1113.1L2028.2 1113.1L2028.7 1113.1L2029.2 1113.1L2029.7 1113.1L2030.2 1113.1L2030.7 1113.1L2031.2 1113.1L2031.6 1114.6Z" fill="#e8808a"/>
<path d="M1870.7 1172.6L1870.7 1171.1L1871.2 1171.1L1871.7 1171.1L1872.2 1171.1L1872.7 1171.1L1873.2 1171.1L1873.7 1171.1L1874.2 1171.1L1874.7 1171.1L1875.2 1171.1L1875.7 1171.1L1876.2 1171.1L1876.7 1171.1L1877.2 1171.1L1877.7 1171.1L1878.2 1171.1L1878.7 1171.1L1879.2 1171.1L1879.7 1171.1L1880.2 1171.1L1880.7 1171.1L1881.2 1171.1L1881.7 1171.1L1882.2 1171.1L1882.7 1171.1L1883.2 1171.1L1883.7 1171.1L1884.2 1171.1L1884.7 1171.1L1885.2 1171.1L1885.7 1171.1L1886.2 1171.1L1886.7 1171.1L1887.2 1171.1L1887.7 1171.1L1888.2 1171.1L1888.7 1171.1L1889.2 1171.1L1889.7 1171.1L1890.2 1171.1L1890.7 1171.1L1891.2 1171.1L1891.7 1171.1L1892.2 1171.1L1892.7 1171.1L1893.2 1171.1L1893.7 1171.1L1894.2 1171.1L1894.7 1171.1L1895.2 1171.1L1895.7 1171.1L1896.2 1171.1L1896.7 1171.1L1897.2 1171.1L1897.7 1171.1L1898.2 1171.1L1898.7 1171.1L1899.2 1171.1L1899.7 1171.1L1900.2 1171.1L1900.7 1171.1L1901.2 1171.1L1901.7 1171.1L1902.2 1171.1L1902.7 1171.1L1903.2 1171.1L1903.7 1171.1L1904.2 1171.1L1904.7 1171.1L1905.2 1171.1L1905.7 1171.1L1906.2 1171.1L1906.7 1171.1L1907.2 1171.1L1907.7 1171.1L1908.2 1171.1L1908.7 1171.1L1909.2 1171.1L1909.7 1171.1L1910.2 1171.1L1910.7 1171.1L1911.2 1171.1L1911.7 1171.1L1912.2 1171.1L1912.7 1171.1L1913.2 1171.1L1913.7 1171.1L1914.2 1171.1L1914.7 1171.1L1915.2 1171.1L1915.7 1171.1L1916.2 1171.1L1916.7 1171.1L1917.2 1171.1L1917.7 1171.1L1918.2 1171.1L1918.7 1171.1L1919.2 1171.1L1919.7 1171.1L1920.2 1171.1L1920.7 1171.1L1921.2 1171.1L1921.7 1171.1L1922.2 1171.1L1922.7 1171.1L1923.2 1171.1L1923.7 1171.1L1924.2 1171.1L1924.7 1171.1L1925.2 1171.1L1925.7 1171.1L1926.2 1171.1L1926.7 1171.1L1927.2 1171.1L1927.7 1171.1L1928.2 1171.1L1928.7 1171.1L1929.2 1171.1L1929.7 1171.1L1930.2 1171.1L1930.7 1171.1L1931.2 1171.1L1931.7 1171.1L1932.2 1171.1L1932.7 1171.1L1933.2 1171.1L1933.7 1171.1L1934.2 1171.1L1934.7 1171.1L1935.2 1171.1L1935.7 1171.1L1936.2 1171.1L1936.7 1171.1L1937.2 1171.1L1937.7 1171.1L1938.2 1171.1L1938.7 1171.1L1939.2 1171.1L1939.7 1171.1L1940.2 1171.1L1940.7 1171.1L1941.2 1171.1L1941.7 1171.1L1942.2 1171.1L1942.7 1171.1L1943.2 1171.1L1943.7 1171.1L1944.2 1171.1L1944.7 1171.1L1945.2 1171.1L1945.7 1171.1L1946.2 1171.1L1946.7 1171.1L1947.2 1171.1L1947.7 1171.1L1948.2 1171.1L1948.7 1171.1L1949.2 1171.1L1949.7 1171.1L1950.2 1171.1L1950.7 1171.1L1951.2 1171.1L1951.7 1171.1L1952.2 1171.1L1952.7 1171.1L1953.2 1171.1L1953.7 1171.1L1954.2 1171.1L1954.7 1171.1L1955.2 1171.1L1955.7 1171.1L1956.2 1171.1L1956.7 1171.1L1957.2 1171.1L1957.7 1171.1L1958.2 1171.1L1958.7 1171.1L1959.2 1171.1L1959.7 1171.1L1960.2 1171.1L1960.7 1171.1L1961.2 1171.1L1961.7 1171.1L1962.2 1171.1L1962.7 1171.1L1963.2 1171.1L1963.7 1171.1L1964.2 1171.1L1964.7 1171.1L1965.2 1171.1L1965.7 1171.1L1966.2 1171.1L1966.7 1171.1L1967.2 1171.1L1967.7 1171.1L1968.2 1171.1L1968.7 1171.1L1969.2 1171.1L1969.7 1171.1L1970.2 1171.1L1970.7 1171.09L1971.2 1171.07L1971.7 1171.01L1972.2 1170.86L1972.7 1170.55L1973.2 1169.96L1973.7 1168.78L1974.2 1165.32L1974.7 1160.9L1975.2 1156.07L1975.7 1151.34L1976.2 1147.1L1976.7 1151.34L1977.2 1156.07L1977.7 1160.9L1978.2 1165.32L1978.7 1168.78L1979.2 1169.96L1979.7 1170.55L1980.2 1170.86L1980.7 1171.01L1981.2 1171.07L1981.7 1171.09L1982.2 1171.1L1982.7 1171.1L1983.2 1171.1L1983.7 1171.1L1984.2 1171.1L1984.7 1171.1L1985.2 1171.1L1985.7 1171.1L1986.2 1171.1L1986.7 1171.1L1987.2 1171.1L1987.7 1171.1L1988.2 1171.1L1988.7 1171.1L1989.2 1171.1L1989.7 1171.1L1990.2 1171.1L1990.7 1171.1L1991.2 1171.1L1991.7 1171.1L1992.2 1171.1L1992.7 1171.1L1993.2 1171.1L1993.7 1171.1L1994.2 1171.1L1994.7 1171.1L1995.2 1171.1L1995.7 1171.1L1996.2 1171.1L1996.7 1171.1L1997.2 1171.1L1997.7 1171.1L1998.2 1171.1L1998.7 1171.1L1999.2 1171.1L1999.7 1171.1L2000.2 1171.1L2000.7 1171.1L2001.2 1171.1L2001.7 1171.1L2002.2 1171.1L2002.7 1171.1L2003.2 1171.1L2003.7 1171.1L2004.2 1171.1L2004.7 1171.1L2005.2 1171.1L2005.7 1171.1L2006.2 1171.1L2006.7 1171.1L2007.2 1171.1L2007.7 1171.1L2008.2 1171.1L2008.7 1171.1L2009.2 1171.1L2009.7 1171.1L2010.2 1171.1L2010.7 1171.1L2011.2 1171.1L2011.7 1171.1L2012.2 1171.1L2012.7 1171.1L2013.2 1171.1L2013.7 1171.1L2014.2 1171.1L2014.7 1171.1L2015.2 1171.1L2015.7 1171.1L2016.2 1171.1L2016.7 1171.1L2017.2 1171.1L2017.7 1171.1L2018.2 1171.1L2018.7 1171.1L2019.2 1171.1L2019.7 1171.1L2020.2 1171.1L2020.7 1171.1L2021.2 1171.1L2021.7 1171.1L2022.2 1171.1L2022.7 1171.1L2023.2 1171.1L2023.7 1171.1L2024.2 1171.1L2024.7 1171.1L2025.2 1171.1L2025.7 1171.1L2026.2 1171.1L2026.7 1171.1L2027.2 1171.1L2027.7 1171.1L2028.2 1171.1L2028.7 1171.1L2029.2 1171.1L2029.7 1171.1L2030.2 1171.1L2030.7 1171.1L2031.2 1171.1L2031.6 1172.6Z" fill="#e8808a"/>
<path d="M1870.7 1231L1870.7 1229.5L1871.2 1229.5L1871.7 1229.5L1872.2 1229.5L1872.7 1229.5L1873.2 1229.5L1873.7 1229.5L1874.2 1229.5L1874.7 1229.5L1875.2 1229.5L1875.7 1229.5L1876.2 1229.5L1876.7 1229.5L1877.2 1229.5L1877.7 1229.5L1878.2 1229.5L1878.7 1229.5L1879.2 1229.5L1879.7 1229.5L1880.2 1229.5L1880.7 1229.5L1881.2 1229.5L1881.7 1229.5L1882.2 1229.5L1882.7 1229.5L1883.2 1229.5L1883.7 1229.5L1884.2 1229.5L1884.7 1229.5L1885.2 1229.5L1885.7 1229.5L1886.2 1229.5L1886.7 1229.5L1887.2 1229.5L1887.7 1229.5L1888.2 1229.5L1888.7 1229.5L1889.2 1229.5L1889.7 1229.5L1890.2 1229.5L1890.7 1229.5L1891.2 1229.5L1891.7 1229.5L1892.2 1229.5L1892.7 1229.5L1893.2 1229.5L1893.7 1229.5L1894.2 1229.5L1894.7 1229.5L1895.2 1229.5L1895.7 1229.5L1896.2 1229.5L1896.7 1229.5L1897.2 1229.5L1897.7 1229.5L1898.2 1229.5L1898.7 1229.5L1899.2 1229.5L1899.7 1229.5L1900.2 1229.5L1900.7 1229.5L1901.2 1229.5L1901.7 1229.5L1902.2 1229.5L1902.7 1229.5L1903.2 1229.5L1903.7 1229.5L1904.2 1229.5L1904.7 1229.5L1905.2 1229.5L1905.7 1229.5L1906.2 1229.5L1906.7 1229.5L1907.2 1229.5L1907.7 1229.5L1908.2 1229.5L1908.7 1229.5L1909.2 1229.5L1909.7 1229.5L1910.2 1229.5L1910.7 1229.5L1911.2 1229.5L1911.7 1229.5L1912.2 1229.5L1912.7 1229.5L1913.2 1229.5L1913.7 1229.5L1914.2 1229.5L1914.7 1229.5L1915.2 1229.5L1915.7 1229.5L1916.2 1229.5L1916.7 1229.5L1917.2 1229.5L1917.7 1229.5L1918.2 1229.5L1918.7 1229.5L1919.2 1229.5L1919.7 1229.5L1920.2 1229.5L1920.7 1229.5L1921.2 1229.5L1921.7 1229.5L1922.2 1229.5L1922.7 1229.5L1923.2 1229.5L1923.7 1229.5L1924.2 1229.5L1924.7 1229.5L1925.2 1229.5L1925.7 1229.5L1926.2 1229.5L1926.7 1229.5L1927.2 1229.5L1927.7 1229.5L1928.2 1229.5L1928.7 1229.5L1929.2 1229.5L1929.7 1229.5L1930.2 1229.5L1930.7 1229.5L1931.2 1229.5L1931.7 1229.5L1932.2 1229.5L1932.7 1229.5L1933.2 1229.5L1933.7 1229.5L1934.2 1229.5L1934.7 1229.5L1935.2 1229.5L1935.7 1229.5L1936.2 1229.5L1936.7 1229.5L1937.2 1229.5L1937.7 1229.5L1938.2 1229.5L1938.7 1229.5L1939.2 1229.5L1939.7 1229.5L1940.2 1229.5L1940.7 1229.5L1941.2 1229.5L1941.7 1229.5L1942.2 1229.5L1942.7 1229.49L1943.2 1229.46L1943.7 1229.37L1944.2 1229.14L1944.7 1228.73L1945.2 1228.19L1945.7 1227.78L1946.2 1227.74L1946.7 1228.09L1947.2 1228.62L1947.7 1229.08L1948.2 1229.34L1948.7 1229.45L1949.2 1229.49L1949.7 1229.5L1950.2 1229.5L1950.7 1229.5L1951.2 1229.5L1951.7 1229.5L1952.2 1229.5L1952.7 1229.5L1953.2 1229.5L1953.7 1229.5L1954.2 1229.5L1954.7 1229.5L1955.2 1229.5L1955.7 1229.5L1956.2 1229.5L1956.7 1229.5L1957.2 1229.5L1957.7 1229.5L1958.2 1229.5L1958.7 1229.5L1959.2 1229.5L1959.7 1229.5L1960.2 1229.5L1960.7 1229.5L1961.2 1229.5L1961.7 1229.5L1962.2 1229.5L1962.7 1229.5L1963.2 1229.5L1963.7 1229.5L1964.2 1229.5L1964.7 1229.5L1965.2 1229.5L1965.7 1229.5L1966.2 1229.5L1966.7 1229.5L1967.2 1229.5L1967.7 1229.5L1968.2 1229.5L1968.7 1229.5L1969.2 1229.5L1969.7 1229.5L1970.2 1229.5L1970.7 1229.5L1971.2 1229.5L1971.7 1229.49L1972.2 1229.45L1972.7 1229.37L1973.2 1229.16L1973.7 1228.77L1974.2 1227.55L1974.7 1225.2L1975.2 1222.45L1975.7 1219.68L1976.2 1217.2L1976.7 1219.68L1977.2 1222.45L1977.7 1225.2L1978.2 1227.55L1978.7 1228.77L1979.2 1229.16L1979.7 1229.37L1980.2 1229.45L1980.7 1229.49L1981.2 1229.5L1981.7 1229.5L1982.2 1229.5L1982.7 1229.5L1983.2 1229.5L1983.7 1229.5L1984.2 1229.5L1984.7 1229.5L1985.2 1229.5L1985.7 1229.5L1986.2 1229.5L1986.7 1229.5L1987.2 1229.5L1987.7 1229.5L1988.2 1229.5L1988.7 1229.5L1989.2 1229.5L1989.7 1229.5L1990.2 1229.5L1990.7 1229.5L1991.2 1229.5L1991.7 1229.5L1992.2 1229.5L1992.7 1229.5L1993.2 1229.5L1993.7 1229.5L1994.2 1229.5L1994.7 1229.5L1995.2 1229.5L1995.7 1229.5L1996.2 1229.5L1996.7 1229.5L1997.2 1229.5L1997.7 1229.5L1998.2 1229.5L1998.7 1229.5L1999.2 1229.5L1999.7 1229.5L2000.2 1229.5L2000.7 1229.5L2001.2 1229.5L2001.7 1229.5L2002.2 1229.5L2002.7 1229.5L2003.2 1229.5L2003.7 1229.5L2004.2 1229.5L2004.7 1229.5L2005.2 1229.5L2005.7 1229.5L2006.2 1229.5L2006.7 1229.5L2007.2 1229.5L2007.7 1229.5L2008.2 1229.5L2008.7 1229.5L2009.2 1229.5L2009.7 1229.5L2010.2 1229.5L2010.7 1229.5L2011.2 1229.5L2011.7 1229.5L2012.2 1229.5L2012.7 1229.5L2013.2 1229.5L2013.7 1229.5L2014.2 1229.5L2014.7 1229.5L2015.2 1229.5L2015.7 1229.5L2016.2 1229.5L2016.7 1229.5L2017.2 1229.5L2017.7 1229.5L2018.2 1229.5L2018.7 1229.5L2019.2 1229.5L2019.7 1229.5L2020.2 1229.5L2020.7 1229.5L2021.2 1229.5L2021.7 1229.5L2022.2 1229.5L2022.7 1229.5L2023.2 1229.5L2023.7 1229.5L2024.2 1229.5L2024.7 1229.5L2025.2 1229.5L2025.7 1229.5L2026.2 1229.5L2026.7 1229.5L2027.2 1229.5L2027.7 1229.5L2028.2 1229.5L2028.7 1229.5L2029.2 1229.5L2029.7 1229.5L2030.2 1229.5L2030.7 1229.5L2031.2 1229.5L2031.6 1231Z" fill="#8d90e0"/>
<path d="M1870.7 1289.4L1870.7 1287.9L1871.2 1287.9L1871.7 1287.9L1872.2 1287.9L1872.7 1287.9L1873.2 1287.9L1873.7 1287.9L1874.2 1287.9L1874.7 1287.9L1875.2 1287.9L1875.7 1287.9L1876.2 1287.9L1876.7 1287.9L1877.2 1287.9L1877.7 1287.9L1878.2 1287.9L1878.7 1287.9L1879.2 1287.9L1879.7 1287.9L1880.2 1287.9L1880.7 1287.9L1881.2 1287.9L1881.7 1287.9L1882.2 1287.9L1882.7 1287.9L1883.2 1287.9L1883.7 1287.9L1884.2 1287.9L1884.7 1287.9L1885.2 1287.9L1885.7 1287.9L1886.2 1287.9L1886.7 1287.9L1887.2 1287.9L1887.7 1287.9L1888.2 1287.9L1888.7 1287.9L1889.2 1287.9L1889.7 1287.9L1890.2 1287.9L1890.7 1287.9L1891.2 1287.9L1891.7 1287.9L1892.2 1287.9L1892.7 1287.9L1893.2 1287.9L1893.7 1287.9L1894.2 1287.9L1894.7 1287.9L1895.2 1287.9L1895.7 1287.9L1896.2 1287.9L1896.7 1287.9L1897.2 1287.9L1897.7 1287.9L1898.2 1287.9L1898.7 1287.9L1899.2 1287.9L1899.7 1287.9L1900.2 1287.9L1900.7 1287.9L1901.2 1287.9L1901.7 1287.9L1902.2 1287.9L1902.7 1287.9L1903.2 1287.9L1903.7 1287.9L1904.2 1287.9L1904.7 1287.9L1905.2 1287.9L1905.7 1287.9L1906.2 1287.9L1906.7 1287.9L1907.2 1287.9L1907.7 1287.9L1908.2 1287.9L1908.7 1287.9L1909.2 1287.89L1909.7 1287.87L1910.2 1287.82L1910.7 1287.71L1911.2 1287.51L1911.7 1287.23L1912.2 1286.94L1912.7 1286.74L1913.2 1286.72L1913.7 1286.89L1914.2 1287.17L1914.7 1287.46L1915.2 1287.68L1915.7 1287.8L1916.2 1287.87L1916.7 1287.89L1917.2 1287.9L1917.7 1287.9L1918.2 1287.9L1918.7 1287.9L1919.2 1287.9L1919.7 1287.9L1920.2 1287.9L1920.7 1287.9L1921.2 1287.9L1921.7 1287.9L1922.2 1287.9L1922.7 1287.9L1923.2 1287.9L1923.7 1287.9L1924.2 1287.9L1924.7 1287.9L1925.2 1287.9L1925.7 1287.9L1926.2 1287.9L1926.7 1287.9L1927.2 1287.9L1927.7 1287.9L1928.2 1287.9L1928.7 1287.9L1929.2 1287.9L1929.7 1287.9L1930.2 1287.9L1930.7 1287.9L1931.2 1287.9L1931.7 1287.9L1932.2 1287.9L1932.7 1287.9L1933.2 1287.9L1933.7 1287.9L1934.2 1287.9L1934.7 1287.9L1935.2 1287.9L1935.7 1287.9L1936.2 1287.9L1936.7 1287.9L1937.2 1287.9L1937.7 1287.9L1938.2 1287.9L1938.7 1287.9L1939.2 1287.9L1939.7 1287.9L1940.2 1287.9L1940.7 1287.9L1941.2 1287.9L1941.7 1287.9L1942.2 1287.89L1942.7 1287.88L1943.2 1287.85L1943.7 1287.79L1944.2 1287.69L1944.7 1287.53L1945.2 1287.32L1945.7 1287.08L1946.2 1286.86L1946.7 1286.72L1947.2 1286.71L1947.7 1286.82L1948.2 1287.03L1948.7 1287.27L1949.2 1287.49L1949.7 1287.66L1950.2 1287.78L1950.7 1287.84L1951.2 1287.88L1951.7 1287.89L1952.2 1287.9L1952.7 1287.9L1953.2 1287.9L1953.7 1287.9L1954.2 1287.9L1954.7 1287.9L1955.2 1287.9L1955.7 1287.9L1956.2 1287.9L1956.7 1287.9L1957.2 1287.9L1957.7 1287.9L1958.2 1287.9L1958.7 1287.9L1959.2 1287.9L1959.7 1287.9L1960.2 1287.9L1960.7 1287.9L1961.2 1287.9L1961.7 1287.9L1962.2 1287.9L1962.7 1287.9L1963.2 1287.9L1963.7 1287.9L1964.2 1287.9L1964.7 1287.9L1965.2 1287.9L1965.7 1287.9L1966.2 1287.9L1966.7 1287.9L1967.2 1287.9L1967.7 1287.9L1968.2 1287.9L1968.7 1287.9L1969.2 1287.9L1969.7 1287.9L1970.2 1287.9L1970.7 1287.9L1971.2 1287.9L1971.7 1287.89L1972.2 1287.87L1972.7 1287.8L1973.2 1287.63L1973.7 1287.26L1974.2 1286.26L1974.7 1283.86L1975.2 1280.94L1975.7 1277.96L1976.2 1275.3L1976.7 1277.96L1977.2 1280.94L1977.7 1283.86L1978.2 1286.26L1978.7 1287.26L1979.2 1287.63L1979.7 1287.8L1980.2 1287.87L1980.7 1287.89L1981.2 1287.9L1981.7 1287.9L1982.2 1287.9L1982.7 1287.9L1983.2 1287.9L1983.7 1287.9L1984.2 1287.9L1984.7 1287.9L1985.2 1287.9L1985.7 1287.9L1986.2 1287.9L1986.7 1287.9L1987.2 1287.9L1987.7 1287.9L1988.2 1287.9L1988.7 1287.9L1989.2 1287.9L1989.7 1287.9L1990.2 1287.9L1990.7 1287.9L1991.2 1287.9L1991.7 1287.9L1992.2 1287.9L1992.7 1287.9L1993.2 1287.9L1993.7 1287.9L1994.2 1287.9L1994.7 1287.9L1995.2 1287.9L1995.7 1287.9L1996.2 1287.9L1996.7 1287.9L1997.2 1287.9L1997.7 1287.9L1998.2 1287.9L1998.7 1287.9L1999.2 1287.9L1999.7 1287.9L2000.2 1287.9L2000.7 1287.9L2001.2 1287.9L2001.7 1287.9L2002.2 1287.9L2002.7 1287.9L2003.2 1287.9L2003.7 1287.9L2004.2 1287.9L2004.7 1287.9L2005.2 1287.9L2005.7 1287.9L2006.2 1287.9L2006.7 1287.9L2007.2 1287.9L2007.7 1287.9L2008.2 1287.9L2008.7 1287.9L2009.2 1287.9L2009.7 1287.9L2010.2 1287.9L2010.7 1287.9L2011.2 1287.9L2011.7 1287.9L2012.2 1287.9L2012.7 1287.9L2013.2 1287.9L2013.7 1287.9L2014.2 1287.9L2014.7 1287.9L2015.2 1287.9L2015.7 1287.9L2016.2 1287.9L2016.7 1287.9L2017.2 1287.9L2017.7 1287.9L2018.2 1287.9L2018.7 1287.9L2019.2 1287.9L2019.7 1287.9L2020.2 1287.9L2020.7 1287.9L2021.2 1287.9L2021.7 1287.9L2022.2 1287.9L2022.7 1287.9L2023.2 1287.9L2023.7 1287.9L2024.2 1287.9L2024.7 1287.9L2025.2 1287.9L2025.7 1287.9L2026.2 1287.9L2026.7 1287.9L2027.2 1287.9L2027.7 1287.9L2028.2 1287.9L2028.7 1287.9L2029.2 1287.9L2029.7 1287.9L2030.2 1287.9L2030.7 1287.9L2031.2 1287.9L2031.6 1289.4Z" fill="#8d90e0"/>
<path d="M1870.7 1347.4L1870.7 1344.77L1871.2 1344.68L1871.7 1345.35L1872.2 1345.31L1872.7 1345.16L1873.2 1345.36L1873.7 1345.08L1874.2 1344.22L1874.7 1344.36L1875.2 1345.08L1875.7 1344.98L1876.2 1345.28L1876.7 1345.1L1877.2 1345.13L1877.7 1345.07L1878.2 1345.33L1878.7 1345.05L1879.2 1345.05L1879.7 1343.9L1880.2 1343.53L1880.7 1343.55L1881.2 1343.4L1881.7 1343.65L1882.2 1344.05L1882.7 1344.6L1883.2 1344.72L1883.7 1345.24L1884.2 1345.4L1884.7 1345.28L1885.2 1344.44L1885.7 1345.26L1886.2 1345.27L1886.7 1344.77L1887.2 1343.86L1887.7 1343.21L1888.2 1343.94L1888.7 1344.86L1889.2 1345.11L1889.7 1345.34L1890.2 1345.43L1890.7 1344.53L1891.2 1343.67L1891.7 1343.05L1892.2 1342.95L1892.7 1343.11L1893.2 1343.27L1893.7 1343.73L1894.2 1344L1894.7 1343.69L1895.2 1343.95L1895.7 1344.64L1896.2 1344.82L1896.7 1345.1L1897.2 1345.31L1897.7 1345.28L1898.2 1345.35L1898.7 1344.98L1899.2 1344.87L1899.7 1344.31L1900.2 1343.6L1900.7 1344.17L1901.2 1344.69L1901.7 1344.6L1902.2 1345.2L1902.7 1345.15L1903.2 1345.36L1903.7 1345.38L1904.2 1345.2L1904.7 1345L1905.2 1344.6L1905.7 1343.6L1906.2 1342.79L1906.7 1342.78L1907.2 1342.41L1907.7 1342.38L1908.2 1342.36L1908.7 1343.13L1909.2 1343.82L1909.7 1344.54L1910.2 1344.74L1910.7 1344.66L1911.2 1344.27L1911.7 1344.24L1912.2 1344.79L1912.7 1345.12L1913.2 1343.74L1913.7 1342.95L1914.2 1342.3L1914.7 1342.78L1915.2 1343.04L1915.7 1344.38L1916.2 1344.39L1916.7 1344.53L1917.2 1345.29L1917.7 1344.66L1918.2 1345.32L1918.7 1344.74L1919.2 1344.36L1919.7 1345.12L1920.2 1344.78L1920.7 1344.16L1921.2 1344.83L1921.7 1345.25L1922.2 1344.54L1922.7 1344.75L1923.2 1343.93L1923.7 1345.32L1924.2 1345.32L1924.7 1344.12L1925.2 1344.82L1925.7 1344.09L1926.2 1345.39L1926.7 1345.09L1927.2 1344.55L1927.7 1344.08L1928.2 1343.14L1928.7 1344.35L1929.2 1344.43L1929.7 1343.74L1930.2 1344.75L1930.7 1344.93L1931.2 1344.73L1931.7 1344.88L1932.2 1344.25L1932.7 1344.07L1933.2 1344.29L1933.7 1344.89L1934.2 1345.21L1934.7 1345.13L1935.2 1345.02L1935.7 1344.33L1936.2 1344.18L1936.7 1345.07L1937.2 1344.95L1937.7 1344.1L1938.2 1343.97L1938.7 1343.55L1939.2 1343.93L1939.7 1344.17L1940.2 1344.57L1940.7 1343.9L1941.2 1344.93L1941.7 1345.22L1942.2 1344.78L1942.7 1344.81L1943.2 1344.39L1943.7 1345.36L1944.2 1344.98L1944.7 1345.36L1945.2 1345.28L1945.7 1345.29L1946.2 1345.29L1946.7 1344.18L1947.2 1343.6L1947.7 1342.94L1948.2 1343.79L1948.7 1343.83L1949.2 1344.61L1949.7 1345.21L1950.2 1344.39L1950.7 1345.35L1951.2 1344.92L1951.7 1344.44L1952.2 1344.38L1952.7 1344.42L1953.2 1343.15L1953.7 1343.62L1954.2 1344.12L1954.7 1344.24L1955.2 1344.53L1955.7 1344.86L1956.2 1344.5L1956.7 1344.65L1957.2 1344.3L1957.7 1344.44L1958.2 1345.36L1958.7 1345.22L1959.2 1345.3L1959.7 1344.8L1960.2 1344.94L1960.7 1344.83L1961.2 1344.2L1961.7 1343.6L1962.2 1343.04L1962.7 1342.72L1963.2 1343.96L1963.7 1344.89L1964.2 1344.65L1964.7 1344.93L1965.2 1344.46L1965.7 1342.45L1966.2 1340.63L1966.7 1339.52L1967.2 1338.22L1967.7 1336.93L1968.2 1336.81L1968.7 1337.2L1969.2 1338.42L1969.7 1339.37L1970.2 1340.29L1970.7 1340.35L1971.2 1339.79L1971.7 1337.62L1972.2 1334.56L1972.7 1331.73L1973.2 1328.27L1973.7 1325.08L1974.2 1321.29L1974.7 1318.72L1975.2 1317.96L1975.7 1320.76L1976.2 1324.04L1976.7 1328L1977.2 1331.3L1977.7 1334.4L1978.2 1336.28L1978.7 1338.24L1979.2 1341.23L1979.7 1341.59L1980.2 1342.48L1980.7 1344.05L1981.2 1344.37L1981.7 1344.86L1982.2 1344.74L1982.7 1343.84L1983.2 1344.62L1983.7 1344.99L1984.2 1344.79L1984.7 1345.13L1985.2 1344.25L1985.7 1344.69L1986.2 1344.65L1986.7 1345.4L1987.2 1345.04L1987.7 1344.17L1988.2 1344.81L1988.7 1343.46L1989.2 1343.37L1989.7 1344.48L1990.2 1345.21L1990.7 1345.21L1991.2 1344.77L1991.7 1344.59L1992.2 1344.39L1992.7 1344.75L1993.2 1345.17L1993.7 1345.24L1994.2 1344.32L1994.7 1345.36L1995.2 1345.28L1995.7 1344.84L1996.2 1344.78L1996.7 1344.05L1997.2 1345.22L1997.7 1345.35L1998.2 1345.37L1998.7 1344.54L1999.2 1344.8L1999.7 1344.8L2000.2 1344.95L2000.7 1345.22L2001.2 1345.25L2001.7 1344.83L2002.2 1345.2L2002.7 1344.77L2003.2 1345.12L2003.7 1344.87L2004.2 1345.36L2004.7 1344.48L2005.2 1345.25L2005.7 1344.7L2006.2 1345.28L2006.7 1345.07L2007.2 1344.8L2007.7 1345.25L2008.2 1345.4L2008.7 1345.17L2009.2 1344.8L2009.7 1344.33L2010.2 1343.97L2010.7 1343.53L2011.2 1344.42L2011.7 1344.31L2012.2 1344.52L2012.7 1344.36L2013.2 1344.66L2013.7 1344.87L2014.2 1345.39L2014.7 1344.18L2015.2 1343.3L2015.7 1343.53L2016.2 1343.37L2016.7 1343.12L2017.2 1343.89L2017.7 1344.62L2018.2 1344.53L2018.7 1345.08L2019.2 1345.16L2019.7 1344.31L2020.2 1343.43L2020.7 1343.98L2021.2 1342.86L2021.7 1343.76L2022.2 1343.92L2022.7 1343.54L2023.2 1343.73L2023.7 1343.53L2024.2 1343.04L2024.7 1341.81L2025.2 1341.5L2025.7 1341.48L2026.2 1340.89L2026.7 1341.93L2027.2 1342.3L2027.7 1343.28L2028.2 1343.32L2028.7 1343.56L2029.2 1342.8L2029.7 1343.64L2030.2 1343.83L2030.7 1343.49L2031.2 1344.36L2031.6 1347.4Z" fill="#ec9a3a"/>
<path d="M1870.7 1406.1L1870.7 1404.06L1871.2 1403.99L1871.7 1402.91L1872.2 1401.77L1872.7 1401.45L1873.2 1402.45L1873.7 1402.44L1874.2 1402.62L1874.7 1403.85L1875.2 1403.09L1875.7 1403.78L1876.2 1404.01L1876.7 1402.78L1877.2 1403.7L1877.7 1403.96L1878.2 1403.19L1878.7 1402.63L1879.2 1403.93L1879.7 1403.66L1880.2 1403.34L1880.7 1403.76L1881.2 1403.88L1881.7 1403.13L1882.2 1402.67L1882.7 1402.45L1883.2 1402.88L1883.7 1402.17L1884.2 1402.57L1884.7 1402.57L1885.2 1402.52L1885.7 1402.04L1886.2 1401.79L1886.7 1401.11L1887.2 1402.62L1887.7 1403.59L1888.2 1402.79L1888.7 1403.94L1889.2 1403.46L1889.7 1403.81L1890.2 1403.91L1890.7 1403.98L1891.2 1403.89L1891.7 1404L1892.2 1404.03L1892.7 1403.47L1893.2 1403.48L1893.7 1403.64L1894.2 1403.2L1894.7 1403.82L1895.2 1402.95L1895.7 1404.05L1896.2 1404.01L1896.7 1403.6L1897.2 1403.36L1897.7 1404.03L1898.2 1403.86L1898.7 1403.16L1899.2 1403.7L1899.7 1403.28L1900.2 1403.29L1900.7 1404.04L1901.2 1403.4L1901.7 1403.86L1902.2 1404.06L1902.7 1403.05L1903.2 1403.48L1903.7 1403.75L1904.2 1403.77L1904.7 1403.71L1905.2 1402.77L1905.7 1402.24L1906.2 1402.7L1906.7 1403.7L1907.2 1404.03L1907.7 1403.75L1908.2 1404L1908.7 1403.38L1909.2 1403.66L1909.7 1403.16L1910.2 1403.7L1910.7 1402.99L1911.2 1403.78L1911.7 1403.35L1912.2 1403.22L1912.7 1403.69L1913.2 1403.06L1913.7 1403.05L1914.2 1404.04L1914.7 1403.63L1915.2 1403.01L1915.7 1402.24L1916.2 1402.7L1916.7 1403.25L1917.2 1403.12L1917.7 1403.52L1918.2 1402.99L1918.7 1403.07L1919.2 1403.6L1919.7 1403.9L1920.2 1402.48L1920.7 1403.47L1921.2 1403.98L1921.7 1403.84L1922.2 1403.87L1922.7 1403.76L1923.2 1403.9L1923.7 1403.87L1924.2 1404.03L1924.7 1403.79L1925.2 1404.06L1925.7 1403.08L1926.2 1403.54L1926.7 1403.59L1927.2 1404.08L1927.7 1403.12L1928.2 1403.67L1928.7 1403.24L1929.2 1403.1L1929.7 1402.97L1930.2 1403.86L1930.7 1404.04L1931.2 1403.33L1931.7 1403.12L1932.2 1404L1932.7 1403.93L1933.2 1403.48L1933.7 1403.31L1934.2 1403.65L1934.7 1403.89L1935.2 1403.97L1935.7 1402.85L1936.2 1402.32L1936.7 1403.26L1937.2 1403.81L1937.7 1403.86L1938.2 1403.81L1938.7 1403.72L1939.2 1403.91L1939.7 1403.64L1940.2 1403.63L1940.7 1403.15L1941.2 1402.25L1941.7 1402.22L1942.2 1402.88L1942.7 1403.18L1943.2 1403.86L1943.7 1402.71L1944.2 1402.44L1944.7 1402.24L1945.2 1402.19L1945.7 1402L1946.2 1403.15L1946.7 1402.98L1947.2 1402.75L1947.7 1403.27L1948.2 1403.97L1948.7 1403.91L1949.2 1403.81L1949.7 1403.53L1950.2 1403.37L1950.7 1402.91L1951.2 1402.68L1951.7 1403.85L1952.2 1403.61L1952.7 1403.54L1953.2 1403.58L1953.7 1403.29L1954.2 1403.94L1954.7 1403.84L1955.2 1403.5L1955.7 1403.13L1956.2 1403L1956.7 1403.24L1957.2 1403.09L1957.7 1402.6L1958.2 1403.03L1958.7 1403.07L1959.2 1401.97L1959.7 1403.38L1960.2 1403.78L1960.7 1403.16L1961.2 1403.82L1961.7 1403.44L1962.2 1403.29L1962.7 1402.67L1963.2 1402.07L1963.7 1401.71L1964.2 1401.74L1964.7 1401.69L1965.2 1402.3L1965.7 1401.68L1966.2 1400.76L1966.7 1399.32L1967.2 1399.13L1967.7 1397.68L1968.2 1397.13L1968.7 1396.26L1969.2 1395.22L1969.7 1396.57L1970.2 1397.35L1970.7 1397.22L1971.2 1396.43L1971.7 1396.14L1972.2 1394.48L1972.7 1392.06L1973.2 1388.13L1973.7 1384.62L1974.2 1381.56L1974.7 1377.78L1975.2 1374.57L1975.7 1375.51L1976.2 1379.44L1976.7 1382.88L1977.2 1386.4L1977.7 1390.46L1978.2 1394.24L1978.7 1398.36L1979.2 1400.32L1979.7 1401.53L1980.2 1402.41L1980.7 1401.89L1981.2 1402.23L1981.7 1402.55L1982.2 1401.31L1982.7 1401.02L1983.2 1401.24L1983.7 1400.83L1984.2 1401.35L1984.7 1400.68L1985.2 1401.17L1985.7 1400.76L1986.2 1400.84L1986.7 1400.62L1987.2 1399.91L1987.7 1400.24L1988.2 1399.93L1988.7 1399.89L1989.2 1401.34L1989.7 1402.06L1990.2 1402.3L1990.7 1403.06L1991.2 1402.69L1991.7 1403.52L1992.2 1403.65L1992.7 1403.66L1993.2 1403.55L1993.7 1403.64L1994.2 1403.95L1994.7 1404.07L1995.2 1403.71L1995.7 1403.9L1996.2 1403.4L1996.7 1403.21L1997.2 1402.96L1997.7 1403.54L1998.2 1403.21L1998.7 1403.65L1999.2 1402.8L1999.7 1403.59L2000.2 1403.71L2000.7 1403.7L2001.2 1403.45L2001.7 1403.3L2002.2 1403.28L2002.7 1403.55L2003.2 1402.81L2003.7 1402.75L2004.2 1402.19L2004.7 1402.28L2005.2 1402.86L2005.7 1401.98L2006.2 1401.45L2006.7 1400.57L2007.2 1399.7L2007.7 1399.64L2008.2 1400L2008.7 1400.27L2009.2 1400.15L2009.7 1400.77L2010.2 1400.18L2010.7 1399.47L2011.2 1400.57L2011.7 1400.1L2012.2 1400.17L2012.7 1400.92L2013.2 1401.49L2013.7 1401.45L2014.2 1401.68L2014.7 1401.74L2015.2 1402.41L2015.7 1402.17L2016.2 1402.88L2016.7 1403.36L2017.2 1403.51L2017.7 1403.64L2018.2 1402.3L2018.7 1403.38L2019.2 1403.27L2019.7 1402.69L2020.2 1403.16L2020.7 1401.52L2021.2 1401.35L2021.7 1399.8L2022.2 1399.87L2022.7 1400.25L2023.2 1400.64L2023.7 1399.62L2024.2 1399.09L2024.7 1399.33L2025.2 1398.96L2025.7 1398.56L2026.2 1399.03L2026.7 1398.68L2027.2 1399.23L2027.7 1399.66L2028.2 1399.63L2028.7 1400.01L2029.2 1400.88L2029.7 1400.37L2030.2 1401.17L2030.7 1401.64L2031.2 1401.73L2031.6 1406.1Z" fill="#ec9a3a"/>
<text x="975.13" y="1110.1" font-size="24.18" textLength="32.53" lengthAdjust="spacingAndGlyphs">D1</text>
<text x="975.08" y="1169.8" font-size="25.6" textLength="34.45" lengthAdjust="spacingAndGlyphs">D2</text>
<text x="978.56" y="1218.9" font-size="23.54" textLength="29.08" lengthAdjust="spacingAndGlyphs">T1</text>
<text x="978.5" y="1275.3" font-size="25.1" textLength="31.01" lengthAdjust="spacingAndGlyphs">T2</text>
<path d="M961.2 1097.2L961.2 1273.6" stroke="#000" stroke-width="1.5"/>
<text x="939.2" y="1232.26" font-size="26.45" transform="rotate(-90 939.2 1232.26)" textLength="100.62" lengthAdjust="spacingAndGlyphs">YEATS2</text>
<text x="889.53" y="1335.7" font-size="26.83" textLength="115.85" lengthAdjust="spacingAndGlyphs">ADA2b_1</text>
<text x="889.52" y="1394.7" font-size="26.94" textLength="116.36" lengthAdjust="spacingAndGlyphs">ADA2b_2</text>
<path d="M1088.9 1428.5L1281.5 1428.5" stroke="#000" stroke-width="2"/>
<rect x="1088.9" y="1422" width="3.7" height="13"/>
<rect x="1093.4" y="1417.65" width="4.7" height="21.7"/>
<rect x="1100.8" y="1417.65" width="6.1" height="21.7"/>
<rect x="1253.3" y="1417.65" width="4.8" height="21.7"/>
<path d="M1110.4 1425.2L1115.2 1428.5L1110.4 1431.8ZM1131.6 1425.2L1136.4 1428.5L1131.6 1431.8ZM1152.3 1425.2L1157.1 1428.5L1152.3 1431.8ZM1172.2 1425.2L1177 1428.5L1172.2 1431.8ZM1192.6 1425.2L1197.4 1428.5L1192.6 1431.8ZM1213.3 1425.2L1218.1 1428.5L1213.3 1431.8ZM1234 1425.2L1238.8 1428.5L1234 1431.8ZM1258.4 1425.2L1263.2 1428.5L1258.4 1431.8ZM1267.3 1425.2L1272.1 1428.5L1267.3 1431.8ZM1277.5 1425.2L1282.3 1428.5L1277.5 1431.8Z" stroke="#000" stroke-width="0.6" stroke-linejoin="round"/>
<path d="M1313 1431.2L1531.4 1431.2" stroke="#000" stroke-width="2"/>
<rect x="1313" y="1425.2" width="5.3" height="12"/>
<rect x="1319.6" y="1420.35" width="3.5" height="21.7"/>
<rect x="1373.5" y="1424.95" width="3.2" height="12.5"/>
<rect x="1382" y="1424.95" width="3.1" height="12.5"/>
<rect x="1386" y="1420.35" width="3.4" height="21.7"/>
<rect x="1445.6" y="1424.95" width="4" height="12.5"/>
<rect x="1449.6" y="1420.35" width="4.8" height="21.7"/>
<path d="M1324.7 1427.9L1329.5 1431.2L1324.7 1434.5ZM1332.7 1427.9L1337.5 1431.2L1332.7 1434.5ZM1340.6 1427.9L1345.4 1431.2L1340.6 1434.5ZM1348.1 1427.9L1352.9 1431.2L1348.1 1434.5ZM1355.2 1427.9L1360 1431.2L1355.2 1434.5ZM1361.8 1427.9L1366.6 1431.2L1361.8 1434.5ZM1389.8 1427.9L1394.6 1431.2L1389.8 1434.5ZM1393.8 1427.9L1398.6 1431.2L1393.8 1434.5ZM1397.8 1427.9L1402.6 1431.2L1397.8 1434.5ZM1403.3 1427.9L1408.1 1431.2L1403.3 1434.5ZM1407.3 1427.9L1412.1 1431.2L1407.3 1434.5ZM1411.3 1427.9L1416.1 1431.2L1411.3 1434.5ZM1416.8 1427.9L1421.6 1431.2L1416.8 1434.5ZM1420.8 1427.9L1425.6 1431.2L1420.8 1434.5ZM1424.8 1427.9L1429.6 1431.2L1424.8 1434.5ZM1429.8 1427.9L1434.6 1431.2L1429.8 1434.5ZM1433.8 1427.9L1438.6 1431.2L1433.8 1434.5ZM1437.8 1427.9L1442.6 1431.2L1437.8 1434.5ZM1458.7 1427.9L1463.5 1431.2L1458.7 1434.5ZM1475.4 1427.9L1480.2 1431.2L1475.4 1434.5ZM1491.3 1427.9L1496.1 1431.2L1491.3 1434.5ZM1509.1 1427.9L1513.9 1431.2L1509.1 1434.5ZM1526.3 1427.9L1531.1 1431.2L1526.3 1434.5Z" stroke="#000" stroke-width="0.6" stroke-linejoin="round"/>
<path d="M1585.5 1428.5L1692.3 1428.5" stroke="#000" stroke-width="2"/>
<rect x="1597.2" y="1425" width="1.2" height="7"/>
<rect x="1604.9" y="1425" width="1.2" height="7"/>
<rect x="1640.3" y="1424.5" width="1.7" height="8"/>
<rect x="1643.6" y="1417.75" width="2.4" height="21.5"/>
<rect x="1690.4" y="1417.75" width="2.4" height="21.5"/>
<path d="M1589.6 1425.7L1585.4 1428.5L1589.6 1431.3ZM1627.6 1425.7L1623.4 1428.5L1627.6 1431.3ZM1660.6 1425.7L1656.4 1428.5L1660.6 1431.3ZM1678.6 1425.7L1674.4 1428.5L1678.6 1431.3Z" stroke="#000" stroke-width="0.6" stroke-linejoin="round"/>
<path d="M1870.7 1430.5L1983.5 1430.5" stroke="#000" stroke-width="1.9"/>
<rect x="1870.7" y="1419.5" width="3.3" height="22"/>
<rect x="1878" y="1426.5" width="2.2" height="8"/>
<rect x="1893" y="1419.5" width="4.3" height="22"/>
<rect x="1941" y="1419.5" width="2.8" height="22"/>
<rect x="1947" y="1426.5" width="1.8" height="8"/>
<rect x="1960" y="1419.5" width="2" height="22"/>
<rect x="1969.3" y="1419.5" width="2.3" height="22"/>
<rect x="1974.2" y="1424.2" width="9.3" height="12.6"/>
<path d="M1887.6 1427.7L1883.4 1430.5L1887.6 1433.3ZM1909.6 1427.7L1905.4 1430.5L1909.6 1433.3ZM1924.6 1427.7L1920.4 1430.5L1924.6 1433.3ZM1938.6 1427.7L1934.4 1430.5L1938.6 1433.3ZM1957.6 1427.7L1953.4 1430.5L1957.6 1433.3Z" stroke="#000" stroke-width="0.6" stroke-linejoin="round"/>
<text x="1124.37" y="1469.3" font-size="25.82" font-style="italic" textLength="77.37" lengthAdjust="spacingAndGlyphs">IGBP1</text>
<text x="1340.54" y="1469.3" font-size="26.56" font-style="italic" textLength="92.72" lengthAdjust="spacingAndGlyphs">AMPD3</text>
<text x="1630.87" y="1469.3" font-size="25.72" font-style="italic" textLength="65.76" lengthAdjust="spacingAndGlyphs">RBL1</text>
<text x="1887.03" y="1469.3" font-size="24.26" font-style="italic" textLength="98.04" lengthAdjust="spacingAndGlyphs">MMS22L</text>
<path d="M1099.5 1483.2L1468 1483.2" stroke="#000" stroke-width="1.5"/>
<path d="M1617 1483.2L2005.7 1483.2" stroke="#000" stroke-width="1.5"/>
<text x="1201.63" y="1513.7" font-size="26.85" textLength="173.55" lengthAdjust="spacingAndGlyphs">SAGA-specific</text>
<text x="1634.83" y="1514.1" font-size="26.86" textLength="341.15" lengthAdjust="spacingAndGlyphs">SAGA and ATAC cooccupied</text>
<text x="852.8" y="1520" font-size="32" font-weight="bold">f</text>
<path d="M1045.1 1548.6L1045.1 1956" stroke="#000" stroke-width="2"/>
<path d="M1037 1955L1721.5 1955" stroke="#000" stroke-width="2"/>
<path d="M1036.8 1955L1045.1 1955" stroke="#000" stroke-width="2"/>
<text x="1025" y="1964.4" font-size="27.2" text-anchor="end">0.0</text>
<path d="M1036.8 1853.6L1045.1 1853.6" stroke="#000" stroke-width="2"/>
<text x="1025" y="1863" font-size="27.2" text-anchor="end">0.5</text>
<path d="M1036.8 1752.2L1045.1 1752.2" stroke="#000" stroke-width="2"/>
<text x="1025" y="1761.6" font-size="27.2" text-anchor="end">1.0</text>
<path d="M1036.8 1650.8L1045.1 1650.8" stroke="#000" stroke-width="2"/>
<text x="1025" y="1660.2" font-size="27.2" text-anchor="end">1.5</text>
<path d="M1036.8 1549.4L1045.1 1549.4" stroke="#000" stroke-width="2"/>
<text x="1025" y="1558.8" font-size="27.2" text-anchor="end">2.0</text>
<text x="979.6" y="1912.18" font-size="26.98" transform="rotate(-90 979.6 1912.18)" textLength="300.06" lengthAdjust="spacingAndGlyphs">ADA2B ChIP (% of input)</text>
<path d="M1057.3 1955L1057.3 1790L1072.3 1790L1072.3 1955" fill="none" stroke="#4a74c9" stroke-width="1.5"/>
<path d="M1055.8 1790L1073.8 1790" stroke="#4a74c9" stroke-width="1.5"/>
<path d="M1086.1 1955L1086.1 1757.8L1100.8 1757.8L1100.8 1955" fill="none" stroke="#2e8b45" stroke-width="1.5"/>
<path d="M1084.6 1757.8L1102.3 1757.8" stroke="#2e8b45" stroke-width="1.5"/>
<circle cx="1064.2" cy="1779.1" r="6.7" fill="#4a74c9"/>
<circle cx="1064.2" cy="1798.3" r="6.7" fill="#4a74c9"/>
<rect x="1086.6" y="1733.8" width="13" height="13" fill="#2e8b45"/>
<rect x="1086.6" y="1765.3" width="13" height="13" fill="#2e8b45"/>
<text x="1079.6" y="1703.8" font-size="25.2" text-anchor="middle">ns</text>
<path d="M1064.6 1711.4L1094.4 1711.4" stroke="#000" stroke-width="1.6"/>
<path d="M1078.8 1955L1078.8 1964.5" stroke="#000" stroke-width="2"/>
<text x="1091.1" y="1981.5" font-size="26.2" text-anchor="end" transform="rotate(-45 1091.1 1981.5)">CBX5</text>
<path d="M1133.13 1955L1133.13 1809.9L1148.13 1809.9L1148.13 1955" fill="none" stroke="#4a74c9" stroke-width="1.5"/>
<path d="M1131.63 1809.9L1149.63 1809.9" stroke="#4a74c9" stroke-width="1.5"/>
<path d="M1161.93 1955L1161.93 1796.7L1176.63 1796.7L1176.63 1955" fill="none" stroke="#2e8b45" stroke-width="1.5"/>
<path d="M1160.43 1796.7L1178.13 1796.7" stroke="#2e8b45" stroke-width="1.5"/>
<circle cx="1140.03" cy="1801.6" r="6.7" fill="#4a74c9"/>
<circle cx="1140.03" cy="1814.2" r="6.7" fill="#4a74c9"/>
<rect x="1162.43" y="1779.2" width="13" height="13" fill="#2e8b45"/>
<rect x="1162.43" y="1797.5" width="13" height="13" fill="#2e8b45"/>
<text x="1155.43" y="1745.2" font-size="25.2" text-anchor="middle">ns</text>
<path d="M1140.43 1752.8L1170.23 1752.8" stroke="#000" stroke-width="1.6"/>
<path d="M1154.63 1955L1154.63 1964.5" stroke="#000" stroke-width="2"/>
<text x="1166.93" y="1981.5" font-size="26.2" text-anchor="end" transform="rotate(-45 1166.93 1981.5)">IGBPL</text>
<path d="M1208.96 1955L1208.96 1776.7L1223.96 1776.7L1223.96 1955" fill="none" stroke="#4a74c9" stroke-width="1.5"/>
<path d="M1207.46 1776.7L1225.46 1776.7" stroke="#4a74c9" stroke-width="1.5"/>
<path d="M1237.76 1955L1237.76 1766.1L1252.46 1766.1L1252.46 1955" fill="none" stroke="#2e8b45" stroke-width="1.5"/>
<path d="M1236.26 1766.1L1253.96 1766.1" stroke="#2e8b45" stroke-width="1.5"/>
<circle cx="1218.86" cy="1769.1" r="6.7" fill="#4a74c9"/>
<circle cx="1212.86" cy="1780.7" r="6.7" fill="#4a74c9"/>
<rect x="1238.26" y="1743.7" width="13" height="13" fill="#2e8b45"/>
<rect x="1238.26" y="1772.9" width="13" height="13" fill="#2e8b45"/>
<text x="1231.26" y="1701.5" font-size="25.2" text-anchor="middle">ns</text>
<path d="M1216.26 1709.1L1246.06 1709.1" stroke="#000" stroke-width="1.6"/>
<path d="M1230.46 1955L1230.46 1964.5" stroke="#000" stroke-width="2"/>
<text x="1242.76" y="1981.5" font-size="26.2" text-anchor="end" transform="rotate(-45 1242.76 1981.5)">AMPD3</text>
<path d="M1284.79 1955L1284.79 1792.7L1299.79 1792.7L1299.79 1955" fill="none" stroke="#4a74c9" stroke-width="1.5"/>
<path d="M1283.29 1792.7L1301.29 1792.7" stroke="#4a74c9" stroke-width="1.5"/>
<path d="M1313.59 1955L1313.59 1782.7L1328.29 1782.7L1328.29 1955" fill="none" stroke="#2e8b45" stroke-width="1.5"/>
<path d="M1312.09 1782.7L1329.79 1782.7" stroke="#2e8b45" stroke-width="1.5"/>
<circle cx="1291.69" cy="1785" r="6.7" fill="#4a74c9"/>
<circle cx="1291.69" cy="1797.6" r="6.7" fill="#4a74c9"/>
<rect x="1314.09" y="1747" width="13" height="13" fill="#2e8b45"/>
<rect x="1314.09" y="1802.8" width="13" height="13" fill="#2e8b45"/>
<text x="1307.09" y="1723" font-size="25.2" text-anchor="middle">ns</text>
<path d="M1292.09 1730.6L1321.89 1730.6" stroke="#000" stroke-width="1.6"/>
<path d="M1306.29 1955L1306.29 1964.5" stroke="#000" stroke-width="2"/>
<text x="1318.59" y="1981.5" font-size="26.2" text-anchor="end" transform="rotate(-45 1318.59 1981.5)">RCSD1</text>
<path d="M1360.62 1955L1360.62 1822.2L1375.62 1822.2L1375.62 1955" fill="none" stroke="#4a74c9" stroke-width="1.5"/>
<path d="M1359.12 1822.2L1377.12 1822.2" stroke="#4a74c9" stroke-width="1.5"/>
<path d="M1389.42 1955L1389.42 1805.6L1404.12 1805.6L1404.12 1955" fill="none" stroke="#2e8b45" stroke-width="1.5"/>
<path d="M1387.92 1805.6L1405.62 1805.6" stroke="#2e8b45" stroke-width="1.5"/>
<circle cx="1367.52" cy="1808.9" r="6.7" fill="#4a74c9"/>
<circle cx="1367.52" cy="1831.5" r="6.7" fill="#4a74c9"/>
<rect x="1389.92" y="1778.5" width="13" height="13" fill="#2e8b45"/>
<rect x="1389.92" y="1817.7" width="13" height="13" fill="#2e8b45"/>
<text x="1382.92" y="1741.9" font-size="25.2" text-anchor="middle">ns</text>
<path d="M1367.92 1749.5L1397.72 1749.5" stroke="#000" stroke-width="1.6"/>
<path d="M1382.12 1955L1382.12 1964.5" stroke="#000" stroke-width="2"/>
<text x="1394.42" y="1981.5" font-size="26.2" text-anchor="end" transform="rotate(-45 1394.42 1981.5)">NLRP11</text>
<path d="M1436.45 1955L1436.45 1789.2L1451.45 1789.2L1451.45 1955" fill="none" stroke="#4a74c9" stroke-width="1.5"/>
<path d="M1434.95 1789.2L1452.95 1789.2" stroke="#4a74c9" stroke-width="1.5"/>
<path d="M1465.25 1955L1465.25 1767L1479.95 1767L1479.95 1955" fill="none" stroke="#2e8b45" stroke-width="1.5"/>
<path d="M1463.75 1767L1481.45 1767" stroke="#2e8b45" stroke-width="1.5"/>
<circle cx="1443.35" cy="1770.1" r="6.7" fill="#4a74c9"/>
<circle cx="1443.35" cy="1804" r="6.7" fill="#4a74c9"/>
<rect x="1462.25" y="1762.6" width="13" height="13" fill="#2e8b45"/>
<rect x="1469.75" y="1757" width="13" height="13" fill="#2e8b45"/>
<text x="1458.75" y="1723.5" font-size="25.2" text-anchor="middle">ns</text>
<path d="M1443.75 1731.1L1473.55 1731.1" stroke="#000" stroke-width="1.6"/>
<path d="M1457.95 1955L1457.95 1964.5" stroke="#000" stroke-width="2"/>
<text x="1470.25" y="1981.5" font-size="26.2" text-anchor="end" transform="rotate(-45 1470.25 1981.5)">RBL1</text>
<path d="M1512.28 1955L1512.28 1794.6L1527.28 1794.6L1527.28 1955" fill="none" stroke="#4a74c9" stroke-width="1.5"/>
<path d="M1510.78 1794.6L1528.78 1794.6" stroke="#4a74c9" stroke-width="1.5"/>
<path d="M1541.08 1955L1541.08 1787.3L1555.78 1787.3L1555.78 1955" fill="none" stroke="#2e8b45" stroke-width="1.5"/>
<path d="M1539.58 1787.3L1557.28 1787.3" stroke="#2e8b45" stroke-width="1.5"/>
<circle cx="1519.18" cy="1764.8" r="6.7" fill="#4a74c9"/>
<circle cx="1519.18" cy="1821.2" r="6.7" fill="#4a74c9"/>
<rect x="1541.58" y="1764.9" width="13" height="13" fill="#2e8b45"/>
<rect x="1541.58" y="1792.1" width="13" height="13" fill="#2e8b45"/>
<text x="1534.58" y="1718.3" font-size="25.2" text-anchor="middle">ns</text>
<path d="M1519.58 1725.9L1549.38 1725.9" stroke="#000" stroke-width="1.6"/>
<path d="M1533.78 1955L1533.78 1964.5" stroke="#000" stroke-width="2"/>
<text x="1546.08" y="1981.5" font-size="26.2" text-anchor="end" transform="rotate(-45 1546.08 1981.5)">MMS22L</text>
<path d="M1588.11 1955L1588.11 1772.1L1603.11 1772.1L1603.11 1955" fill="none" stroke="#4a74c9" stroke-width="1.5"/>
<path d="M1586.61 1772.1L1604.61 1772.1" stroke="#4a74c9" stroke-width="1.5"/>
<path d="M1616.91 1955L1616.91 1773.1L1631.61 1773.1L1631.61 1955" fill="none" stroke="#2e8b45" stroke-width="1.5"/>
<path d="M1615.41 1773.1L1633.11 1773.1" stroke="#2e8b45" stroke-width="1.5"/>
<circle cx="1595.01" cy="1735.9" r="6.7" fill="#4a74c9"/>
<circle cx="1595.01" cy="1803.9" r="6.7" fill="#4a74c9"/>
<rect x="1617.41" y="1735.7" width="13" height="13" fill="#2e8b45"/>
<rect x="1617.41" y="1793.1" width="13" height="13" fill="#2e8b45"/>
<text x="1610.41" y="1691.8" font-size="25.2" text-anchor="middle">ns</text>
<path d="M1595.41 1699.4L1625.21 1699.4" stroke="#000" stroke-width="1.6"/>
<path d="M1609.61 1955L1609.61 1964.5" stroke="#000" stroke-width="2"/>
<text x="1621.91" y="1981.5" font-size="26.2" text-anchor="end" transform="rotate(-45 1621.91 1981.5)">MCM4</text>
<path d="M1663.94 1955L1663.94 1663.3L1678.94 1663.3L1678.94 1955" fill="none" stroke="#4a74c9" stroke-width="1.5"/>
<path d="M1662.44 1663.3L1680.44 1663.3" stroke="#4a74c9" stroke-width="1.5"/>
<path d="M1692.74 1955L1692.74 1664.9L1707.44 1664.9L1707.44 1955" fill="none" stroke="#2e8b45" stroke-width="1.5"/>
<path d="M1691.24 1664.9L1708.94 1664.9" stroke="#2e8b45" stroke-width="1.5"/>
<circle cx="1670.84" cy="1649.4" r="6.7" fill="#4a74c9"/>
<circle cx="1670.84" cy="1673.2" r="6.7" fill="#4a74c9"/>
<rect x="1693.24" y="1646.8" width="13" height="13" fill="#2e8b45"/>
<rect x="1693.24" y="1666.7" width="13" height="13" fill="#2e8b45"/>
<text x="1686.24" y="1614.5" font-size="25.2" text-anchor="middle">ns</text>
<path d="M1671.24 1622.1L1701.04 1622.1" stroke="#000" stroke-width="1.6"/>
<path d="M1685.44 1955L1685.44 1964.5" stroke="#000" stroke-width="2"/>
<text x="1697.74" y="1981.5" font-size="26.2" text-anchor="end" transform="rotate(-45 1697.74 1981.5)">MCM7</text>
<circle cx="1793.9" cy="1595.6" r="6.7" fill="#4a74c9"/>
<text x="1819.34" y="1602.9" font-size="26.6" textLength="81.13" lengthAdjust="spacingAndGlyphs">DMSO</text>
<rect x="1787.4" y="1625.6" width="13" height="13" fill="#2e8b45"/>
<text x="1819.34" y="1639.4" font-size="26.59" textLength="87.03" lengthAdjust="spacingAndGlyphs">LS-170</text>
<path d="M1028.9 2062.9L1350.9 2062.9" stroke="#000" stroke-width="1.5"/>
<path d="M1383.9 2062.9L1696.3 2062.9" stroke="#000" stroke-width="1.5"/>
<text x="1087.13" y="2091.2" font-size="26.7" textLength="172.54" lengthAdjust="spacingAndGlyphs">SAGA-specific</text>
<text x="1383.63" y="2091.2" font-size="26.81" textLength="291.85" lengthAdjust="spacingAndGlyphs">SAGA/ATAC cooccupied</text>
</svg>
</body></html>
